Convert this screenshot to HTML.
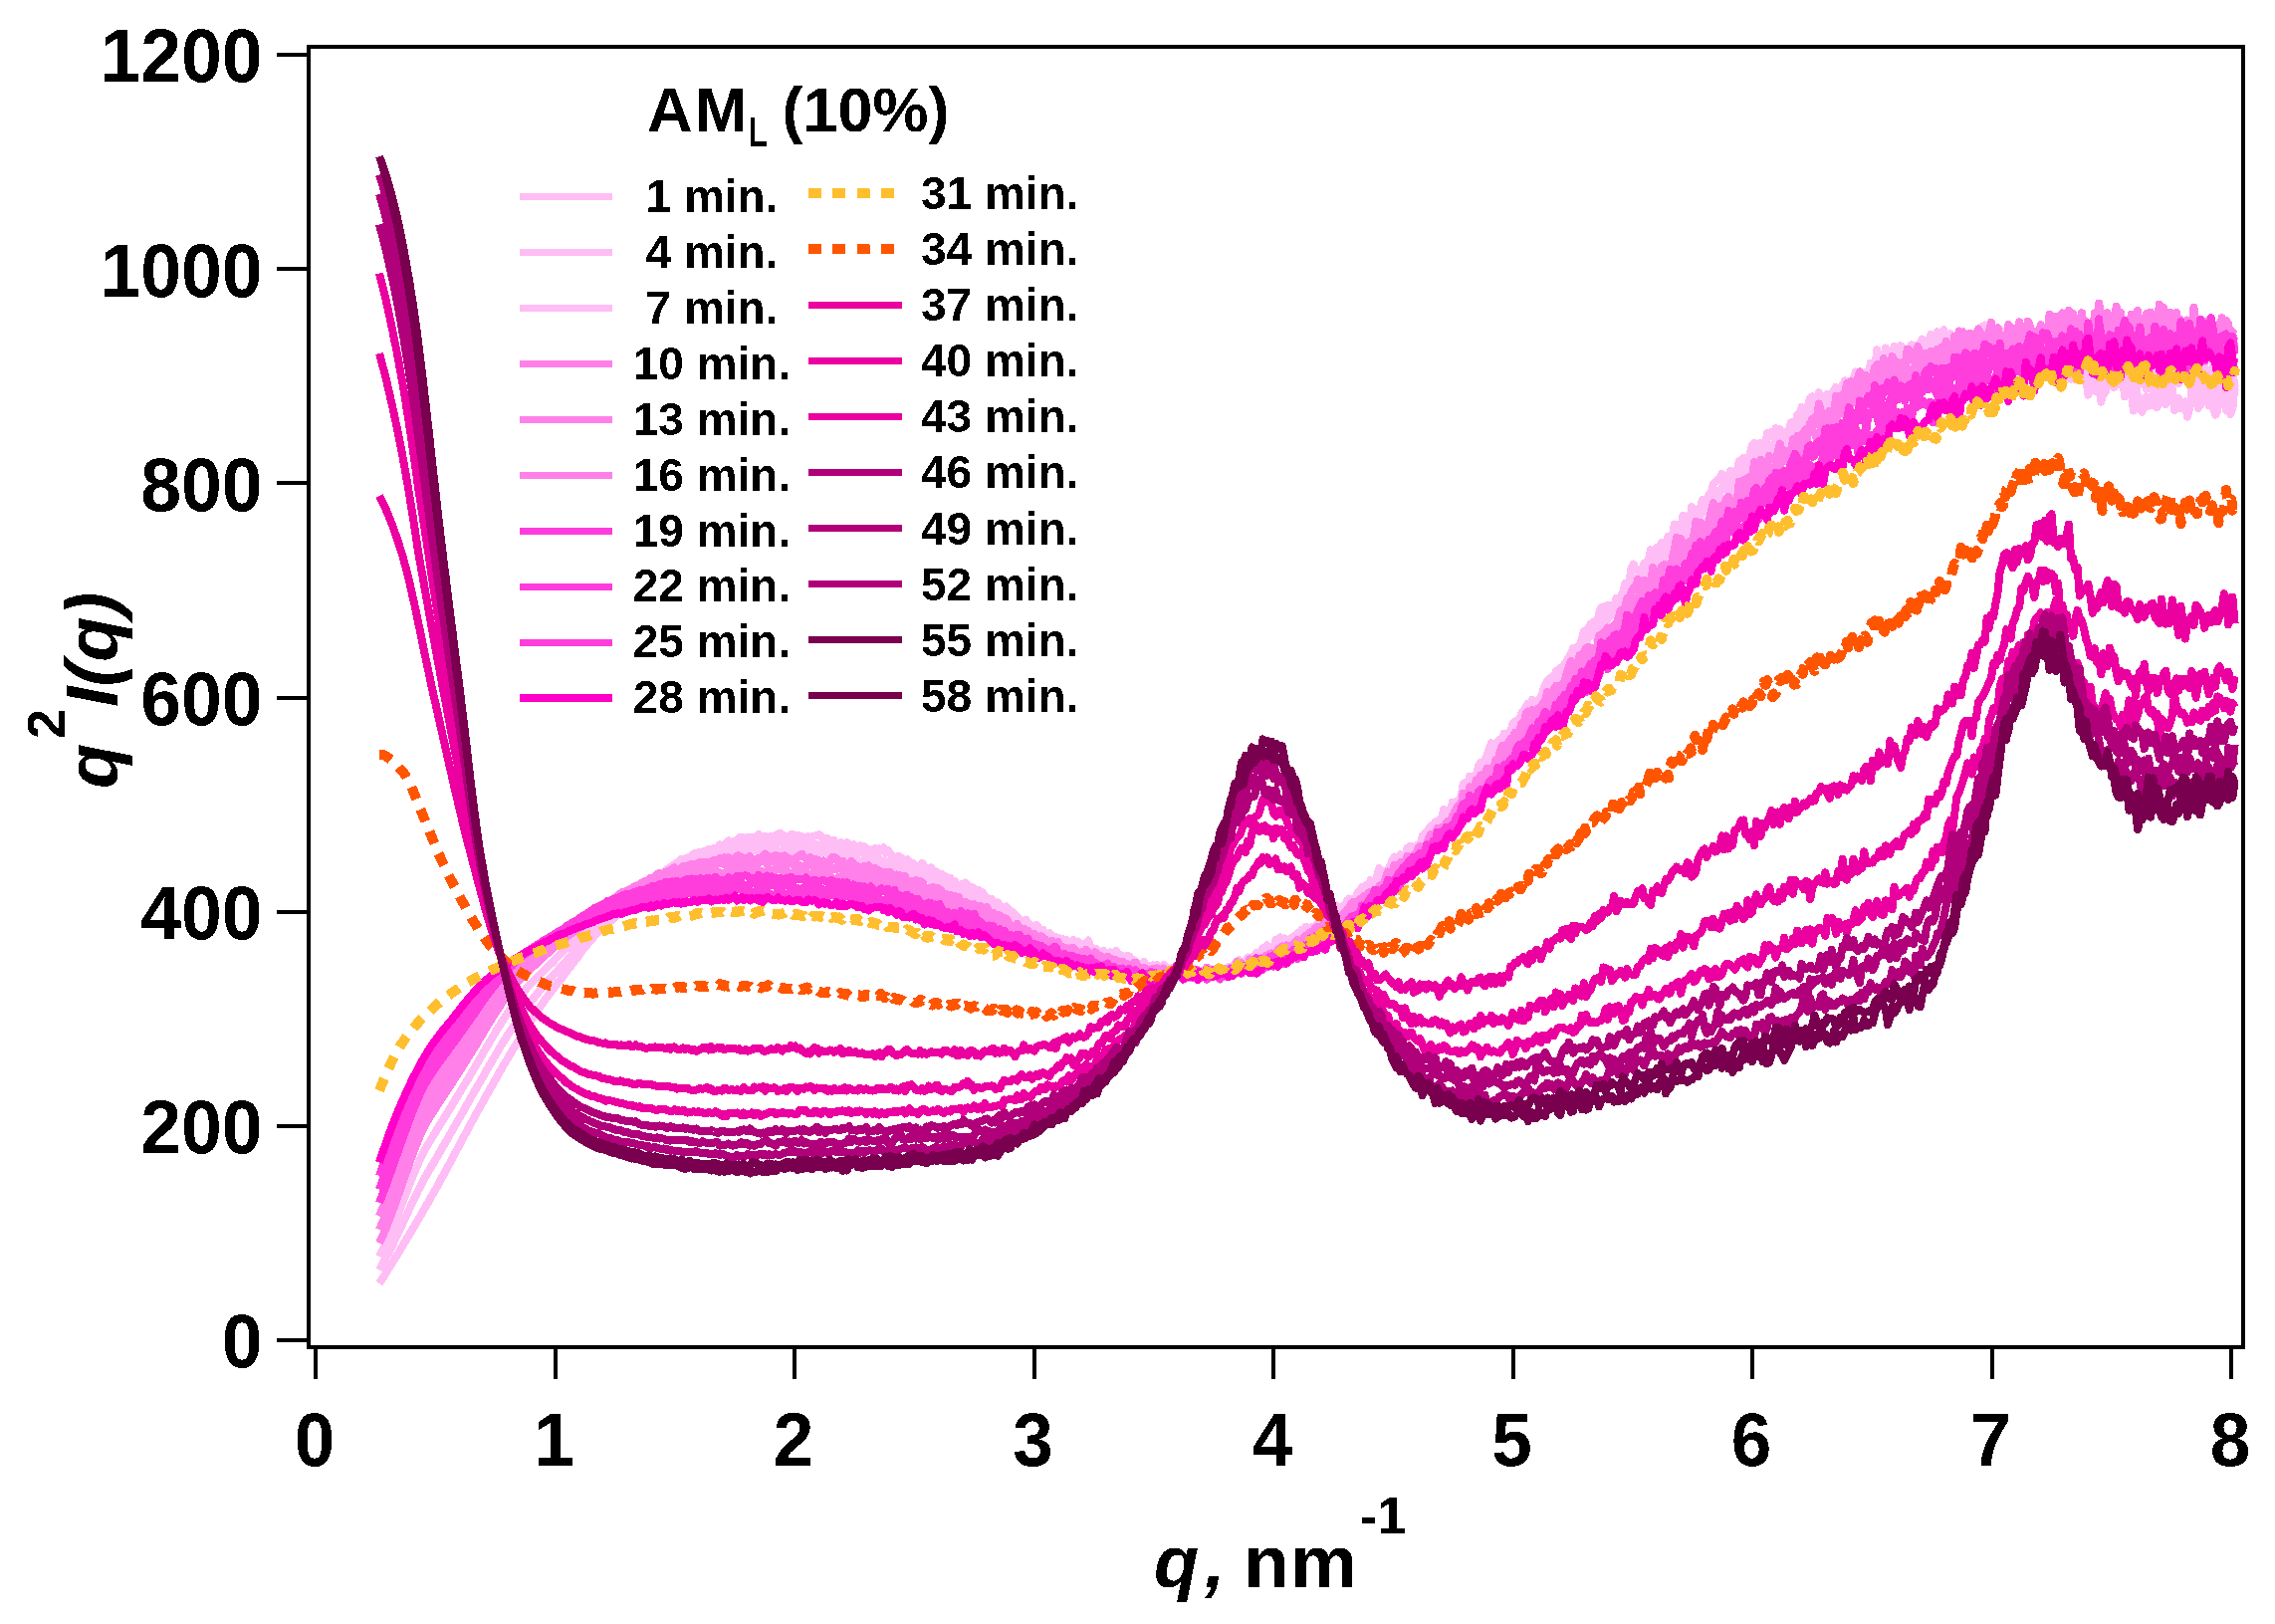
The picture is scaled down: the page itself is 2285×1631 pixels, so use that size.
<!DOCTYPE html>
<html lang="en"><head><meta charset="utf-8"><title>q2I(q) vs q</title>
<style>html,body{margin:0;padding:0;background:#fff}svg{display:block}text{font-family:"Liberation Sans",sans-serif;font-weight:700;fill:#000}.c{fill:none;stroke-linejoin:round;stroke-linecap:butt}</style></head><body>
<svg width="2285" height="1631" viewBox="0 0 2285 1631">
<defs><filter id="t" x="-5%" y="-5%" width="110%" height="110%" color-interpolation-filters="sRGB"><feComponentTransfer><feFuncA type="discrete" tableValues="0 1"/></feComponentTransfer></filter></defs>
<rect width="2285" height="1631" fill="#fff"/>
<g class="c" shape-rendering="crispEdges">
<path d="M381.0 1289.0L383.1 1285.6L385.3 1282.2L387.5 1278.7L389.6 1275.2L391.8 1271.8L394.0 1268.2L396.1 1264.7L398.3 1261.2L400.5 1257.7L402.6 1254.1L404.8 1250.5L406.9 1246.9L409.1 1243.3L411.3 1239.6L413.4 1236.0L415.6 1232.4L417.8 1228.7L419.9 1225.0L422.1 1221.3L424.3 1217.6L426.4 1213.8L428.6 1210.1L430.8 1206.3L432.9 1202.5L435.1 1198.7L437.3 1194.9L439.4 1190.9L441.6 1187.0L443.7 1183.0L445.9 1179.1L448.1 1175.0L450.2 1171.0L452.4 1167.0L454.6 1162.8L456.7 1158.8L458.9 1154.7L461.1 1150.6L463.2 1146.6L465.4 1142.5L467.6 1138.5L469.7 1134.4L471.9 1130.5L474.0 1126.5L476.2 1122.4L478.4 1118.6L480.5 1114.6L482.7 1110.8L484.9 1107.0L487.0 1102.9L489.2 1099.1L491.4 1095.4L493.5 1091.5L495.7 1087.6L497.9 1083.8L500.0 1079.9L502.2 1076.1L504.3 1072.3L506.5 1068.6L508.7 1065.0L510.8 1061.3L513.0 1057.7L515.2 1054.1L517.3 1050.6L519.5 1047.1L521.7 1043.6L523.8 1040.0L526.0 1036.5L528.2 1033.4L530.3 1030.0L532.5 1026.4L534.7 1023.4L536.8 1019.8L539.0 1016.5L541.1 1013.1L543.3 1010.1L545.5 1007.1L547.6 1004.0L549.8 1001.0L552.0 997.7L554.1 995.2L556.3 992.3L558.5 989.3L560.6 986.7L562.8 983.9L565.0 981.3L567.1 978.3L569.3 975.6L571.4 972.4L573.6 969.8L575.8 967.1L577.9 964.2L580.1 961.5L582.3 958.1L584.4 955.3L586.6 952.4L588.8 950.4L590.9 947.1L593.1 945.0L595.3 942.5L597.4 939.5L599.6 937.6L601.8 935.1L603.9 932.3L606.1 931.6L608.2 929.7L610.4 927.7L612.6 925.6L614.7 924.1L616.9 922.2L619.1 920.1L621.2 918.4L623.4 917.5L625.6 915.4L627.7 913.5L629.9 912.2L632.1 909.2L634.2 907.6L636.4 904.5L638.5 902.9L640.7 901.1L642.9 899.6L645.0 897.3L647.2 896.5L649.4 894.1L651.5 891.4L653.7 891.2L655.9 887.6L658.0 887.2L660.2 883.6L662.4 882.5L664.5 879.5L666.7 877.9L668.9 877.3L671.0 873.2L673.2 871.0L675.3 870.1L677.5 868.2L679.7 866.4L681.8 865.5L684.0 863.0L686.2 863.5L688.3 862.2L690.5 861.7L692.7 860.4L694.8 860.3L697.0 857.4L699.2 858.3L701.3 856.3L703.5 856.4L705.6 855.9L707.8 854.7L710.0 854.0L712.1 852.7L714.3 852.6L716.5 852.3L718.6 853.0L720.8 851.7L723.0 848.4L725.1 849.6L727.3 848.6L729.5 846.4L731.6 844.5L733.8 847.6L736.0 845.2L738.1 845.0L740.3 845.2L742.4 841.2L744.6 841.3L746.8 841.2L748.9 842.3L751.1 840.9L753.3 841.5L755.4 840.6L757.6 841.1L759.8 841.4L761.9 838.1L764.1 841.1L766.3 839.8L768.4 840.1L770.6 840.6L772.7 841.0L774.9 839.6L777.1 840.4L779.2 839.0L781.4 837.9L783.6 836.7L785.7 838.5L787.9 839.4L790.1 840.6L792.2 841.5L794.4 838.3L796.6 838.2L798.7 839.5L800.9 838.7L803.1 839.3L805.2 840.3L807.4 841.0L809.5 843.2L811.7 840.3L813.9 843.6L816.0 840.0L818.2 839.6L820.4 839.1L822.5 838.0L824.7 839.4L826.9 843.7L829.0 845.2L831.2 842.2L833.4 846.1L835.5 844.8L837.7 843.9L839.8 848.0L842.0 849.8L844.2 846.3L846.3 846.7L848.5 846.7L850.7 846.3L852.8 847.9L855.0 849.7L857.2 848.3L859.3 851.0L861.5 852.4L863.7 849.4L865.8 850.3L868.0 850.3L870.2 853.2L872.3 853.0L874.5 853.8L876.6 853.7L878.8 851.8L881.0 853.5L883.1 852.3L885.3 853.5L887.5 851.2L889.6 857.0L891.8 853.9L894.0 857.2L896.1 858.7L898.3 862.3L900.5 861.2L902.6 859.7L904.8 861.6L906.9 862.6L909.1 864.4L911.3 863.1L913.4 865.8L915.6 870.0L917.8 867.5L919.9 869.8L922.1 870.8L924.3 868.9L926.4 866.9L928.6 870.5L930.8 873.7L932.9 874.4L935.1 871.4L937.2 874.1L939.4 875.0L941.6 876.7L943.7 878.0L945.9 878.0L948.1 879.5L950.2 880.5L952.4 883.7L954.6 882.0L956.7 886.3L958.9 885.1L961.1 890.5L963.2 889.1L965.4 888.3L967.6 891.0L969.7 886.6L971.9 888.6L974.0 893.0L976.2 890.9L978.4 892.3L980.5 897.8L982.7 893.7L984.9 895.5L987.0 896.4L989.2 900.7L991.4 901.4L993.5 903.2L995.7 902.7L997.9 906.2L1000.0 908.2L1002.2 906.5L1004.3 910.7L1006.5 911.1L1008.7 914.6L1010.8 910.5L1013.0 913.3L1015.2 914.8L1017.3 916.1L1019.5 918.6L1021.7 920.8L1023.8 924.2L1026.0 925.9L1028.2 926.0L1030.3 923.7L1032.5 926.6L1034.7 929.2L1036.8 931.3L1039.0 932.2L1041.1 928.7L1043.3 932.6L1045.5 935.4L1047.6 937.4L1049.8 939.6L1052.0 937.9L1054.1 937.2L1056.3 940.2L1058.5 940.8L1060.6 941.3L1062.8 941.6L1065.0 945.6L1067.1 943.9L1069.3 946.2L1071.4 944.3L1073.6 948.2L1075.8 946.0L1077.9 944.0L1080.1 947.5L1082.3 948.2L1084.4 947.0L1086.6 948.2L1088.8 950.2L1090.9 947.3L1093.1 944.6L1095.3 950.5L1097.4 952.0L1099.6 955.2L1101.8 953.5L1103.9 958.0L1106.1 958.4L1108.2 954.7L1110.4 960.3L1112.6 957.4L1114.7 956.4L1116.9 958.4L1119.1 957.2L1121.2 954.8L1123.4 960.8L1125.6 963.0L1127.7 965.6L1129.9 962.8L1132.1 959.7L1134.2 960.6L1136.4 965.4L1138.5 967.2L1140.7 968.8L1142.9 968.8L1145.0 970.2L1147.2 968.7L1149.4 968.1L1151.5 969.8L1153.7 969.9L1155.9 969.6L1158.0 970.6L1160.2 970.6L1162.4 969.0L1164.5 972.3L1166.7 973.0L1168.9 976.3L1171.0 971.4L1173.2 976.5L1175.3 975.7L1177.5 971.7L1179.7 973.6L1181.8 976.8L1184.0 980.4L1186.2 976.9L1188.3 977.1L1190.5 974.2L1192.7 970.9L1194.8 975.0L1197.0 976.3L1199.2 976.6L1201.3 973.8L1203.5 974.0L1205.6 976.9L1207.8 975.5L1210.0 980.1L1212.1 975.2L1214.3 974.8L1216.5 973.4L1218.6 975.9L1220.8 973.3L1223.0 974.5L1225.1 975.0L1227.3 974.3L1229.5 976.6L1231.6 976.8L1233.8 971.1L1236.0 972.2L1238.1 970.5L1240.3 968.1L1242.4 974.3L1244.6 971.1L1246.8 967.6L1248.9 965.7L1251.1 966.7L1253.3 961.4L1255.4 961.8L1257.6 963.0L1259.8 962.0L1261.9 956.9L1264.1 957.6L1266.3 962.0L1268.4 952.3L1270.6 952.3L1272.7 949.5L1274.9 953.9L1277.1 953.5L1279.2 954.6L1281.4 944.0L1283.6 947.8L1285.7 941.4L1287.9 945.8L1290.1 942.5L1292.2 947.1L1294.4 944.6L1296.6 942.3L1298.7 947.4L1300.9 939.5L1303.1 938.1L1305.2 939.8L1307.4 935.6L1309.5 933.8L1311.7 930.8L1313.9 931.8L1316.0 932.6L1318.2 930.7L1320.4 931.7L1322.5 931.1L1324.7 926.0L1326.9 922.0L1329.0 927.0L1331.2 922.6L1333.4 923.1L1335.5 922.5L1337.7 914.7L1339.8 916.3L1342.0 909.5L1344.2 914.7L1346.3 910.8L1348.5 910.3L1350.7 910.2L1352.8 905.0L1355.0 907.1L1357.2 904.6L1359.3 903.7L1361.5 902.9L1363.7 896.3L1365.8 894.8L1368.0 891.0L1370.1 894.9L1372.3 888.8L1374.5 891.5L1376.6 884.0L1378.8 889.1L1381.0 889.3L1383.1 879.7L1385.3 872.3L1387.5 878.4L1389.6 876.0L1391.8 874.7L1394.0 875.4L1396.1 869.3L1398.3 872.0L1400.5 869.1L1402.6 862.4L1404.8 863.6L1406.9 858.3L1409.1 862.3L1411.3 862.9L1413.4 863.9L1415.6 850.3L1417.8 856.0L1419.9 852.7L1422.1 852.4L1424.3 849.9L1426.4 848.3L1428.6 840.1L1430.8 847.2L1432.9 843.5L1435.1 837.9L1437.2 836.4L1439.4 828.9L1441.6 826.7L1443.7 830.1L1445.9 828.0L1448.1 821.4L1450.2 812.8L1452.4 824.3L1454.6 813.6L1456.7 816.8L1458.9 805.6L1461.1 810.1L1463.2 804.9L1465.4 805.9L1467.6 799.8L1469.7 787.2L1471.9 786.0L1474.0 787.9L1476.2 787.6L1478.4 789.5L1480.5 781.0L1482.7 777.1L1484.9 775.0L1487.0 772.8L1489.2 771.6L1491.4 763.3L1493.5 758.6L1495.7 752.3L1497.9 746.3L1500.0 751.8L1502.2 749.7L1504.3 744.6L1506.5 744.8L1508.7 744.8L1510.8 741.6L1513.0 744.4L1515.2 735.5L1517.3 734.6L1519.5 726.5L1521.7 724.5L1523.8 723.3L1526.0 723.3L1528.2 716.2L1530.3 714.4L1532.5 709.6L1534.7 711.1L1536.8 717.6L1539.0 711.5L1541.1 715.1L1543.3 709.4L1545.5 704.0L1547.6 707.2L1549.8 693.1L1552.0 687.7L1554.1 683.7L1556.3 681.5L1558.5 680.0L1560.6 681.5L1562.8 677.3L1565.0 676.3L1567.1 671.1L1569.3 675.4L1571.4 666.8L1573.6 663.8L1575.8 660.0L1577.9 656.9L1580.1 650.8L1582.3 659.4L1584.4 649.9L1586.6 647.7L1588.8 642.1L1590.9 634.3L1593.1 634.3L1595.3 631.0L1597.4 627.0L1599.6 625.7L1601.8 623.8L1603.9 627.8L1606.1 615.7L1608.2 610.4L1610.4 609.5L1612.6 612.8L1614.7 620.2L1616.9 608.0L1619.1 610.0L1621.2 617.0L1623.4 600.7L1625.6 605.9L1627.7 601.4L1629.9 596.2L1632.1 586.4L1634.2 591.9L1636.4 584.2L1638.5 570.4L1640.7 566.6L1642.9 572.1L1645.0 572.8L1647.2 575.9L1649.4 572.5L1651.5 565.6L1653.7 564.9L1655.9 562.5L1658.0 552.3L1660.2 557.7L1662.4 553.5L1664.5 549.3L1666.7 549.3L1668.9 545.1L1671.0 547.4L1673.2 547.6L1675.3 539.2L1677.5 541.6L1679.7 540.1L1681.8 526.5L1684.0 527.2L1686.2 527.3L1688.3 538.6L1690.5 532.1L1692.7 530.0L1694.8 526.5L1697.0 530.3L1699.2 518.2L1701.3 511.2L1703.5 512.7L1705.6 516.3L1707.8 510.2L1710.0 501.9L1712.1 514.0L1714.3 501.2L1716.5 497.0L1718.6 495.3L1720.8 486.2L1723.0 483.7L1725.1 482.2L1727.3 479.7L1729.5 476.0L1731.6 485.3L1733.8 484.6L1736.0 479.9L1738.1 473.0L1740.3 482.7L1742.4 478.1L1744.6 473.2L1746.8 463.4L1748.9 470.5L1751.1 459.9L1753.3 471.2L1755.4 460.5L1757.6 456.6L1759.8 447.6L1761.9 444.9L1764.1 458.5L1766.3 454.0L1768.4 444.9L1770.6 448.3L1772.7 452.6L1774.9 435.2L1777.1 436.4L1779.2 433.9L1781.4 439.3L1783.6 430.2L1785.7 438.6L1787.9 431.1L1790.1 443.6L1792.2 441.8L1794.4 433.5L1796.6 435.0L1798.7 424.6L1800.9 424.0L1803.0 428.3L1805.2 416.8L1807.4 417.2L1809.5 409.1L1811.7 419.9L1813.9 417.6L1816.0 406.8L1818.2 399.7L1820.4 398.4L1822.5 406.4L1824.7 401.7L1826.9 394.1L1829.0 403.2L1831.2 407.2L1833.4 398.5L1835.5 395.7L1837.7 403.1L1839.8 405.6L1842.0 402.4L1844.2 388.7L1846.3 398.0L1848.5 392.5L1850.7 388.3L1852.8 382.4L1855.0 389.2L1857.2 382.6L1859.3 391.9L1861.5 388.0L1863.7 393.6L1865.8 381.3L1868.0 387.0L1870.1 387.9L1872.3 381.1L1874.5 378.4L1876.6 372.0L1878.8 385.2L1881.0 377.2L1883.1 369.5L1885.3 351.4L1887.5 361.7L1889.6 369.1L1891.8 361.8L1894.0 349.5L1896.1 362.8L1898.3 364.7L1900.5 356.0L1902.6 359.5L1904.8 356.1L1906.9 361.7L1909.1 347.3L1911.3 349.9L1913.4 356.5L1915.6 352.3L1917.8 368.8L1919.9 351.8L1922.1 359.8L1924.3 357.5L1926.4 356.3L1928.6 361.2L1930.8 366.1L1932.9 348.4L1935.1 352.2L1937.2 347.5L1939.4 347.1L1941.6 344.1L1943.7 355.5L1945.9 333.2L1948.1 341.0L1950.2 336.6L1952.4 331.3L1954.6 345.7L1956.7 359.8L1958.9 354.9L1961.1 358.0L1963.2 351.6L1965.4 347.3L1967.6 361.3L1969.7 345.9L1971.9 356.4L1974.0 342.4L1976.2 343.5L1978.4 346.1L1980.5 344.1L1982.7 347.0L1984.9 345.5L1987.0 352.2L1989.2 340.7L1991.4 327.7L1993.5 326.6L1995.7 331.8L1997.9 335.7L2000.0 347.3L2002.2 333.7L2004.3 350.0L2006.5 352.4L2008.7 355.3L2010.8 351.8L2013.0 354.8L2015.2 351.2L2017.3 357.2L2019.5 351.2L2021.7 330.2L2023.8 348.5L2026.0 349.1L2028.2 341.2L2030.3 338.8L2032.5 355.9L2034.7 352.7L2036.8 346.0L2039.0 351.5L2041.1 351.6L2043.3 339.4L2045.5 359.6L2047.6 353.7L2049.8 358.9L2052.0 343.1L2054.1 376.9L2056.3 369.4L2058.5 366.9L2060.6 354.0L2062.8 351.8L2065.0 347.6L2067.1 378.8L2069.3 359.1L2071.4 367.9L2073.6 368.4L2075.8 355.3L2077.9 367.4L2080.1 380.6L2082.3 365.1L2084.4 381.3L2086.6 376.8L2088.8 371.7L2090.9 373.1L2093.1 362.9L2095.3 381.3L2097.4 396.6L2099.6 387.4L2101.8 389.4L2103.9 392.5L2106.1 377.1L2108.2 388.7L2110.4 403.6L2112.6 379.7L2114.7 387.9L2116.9 382.1L2119.1 384.3L2121.2 381.0L2123.4 389.2L2125.6 376.8L2127.7 383.7L2129.9 381.6L2132.1 381.0L2134.2 398.4L2136.4 386.5L2138.5 390.4L2140.7 390.6L2142.9 412.5L2145.0 384.8L2147.2 400.6L2149.4 411.0L2151.5 413.7L2153.7 400.1L2155.9 398.7L2158.0 407.7L2160.2 398.7L2162.4 407.3L2164.5 394.5L2166.7 409.0L2168.9 403.1L2171.0 393.0L2173.2 378.0L2175.3 406.2L2177.5 398.2L2179.7 403.0L2181.8 390.4L2184.0 412.0L2186.2 406.7L2188.3 399.9L2190.5 409.9L2192.7 407.5L2194.8 403.4L2197.0 418.6L2199.2 410.4L2201.3 396.6L2203.5 390.2L2205.6 393.3L2207.8 410.0L2210.0 395.9L2212.1 383.0L2214.3 387.1L2216.5 394.9L2218.6 407.2L2220.8 394.5L2223.0 409.9L2225.1 416.7L2227.3 412.1L2229.5 388.8L2231.6 400.0L2233.8 392.4L2235.9 412.0L2238.1 400.6L2240.3 415.9L2242.4 409.7L2244.6 386.8" stroke="#FFBDF5" stroke-width="8"/>
<path d="M381.0 1275.5L383.1 1271.7L385.3 1267.7L387.5 1263.6L389.6 1259.4L391.8 1255.2L394.0 1250.8L396.1 1246.3L398.3 1241.8L400.5 1237.2L402.6 1232.5L404.8 1227.9L406.9 1223.2L409.1 1218.5L411.3 1213.9L413.4 1209.3L415.6 1204.7L417.8 1200.2L419.9 1195.8L422.1 1191.5L424.3 1187.4L426.4 1183.4L428.6 1179.6L430.8 1175.9L432.9 1172.1L435.1 1168.5L437.3 1164.7L439.4 1161.1L441.6 1157.4L443.7 1153.6L445.9 1149.9L448.1 1146.2L450.2 1142.5L452.4 1138.6L454.6 1134.8L456.7 1131.1L458.9 1127.3L461.1 1123.4L463.2 1119.7L465.4 1115.9L467.6 1112.0L469.7 1108.2L471.9 1104.3L474.0 1100.5L476.2 1096.7L478.4 1093.0L480.5 1089.4L482.7 1085.6L484.9 1081.8L487.0 1077.9L489.2 1074.1L491.4 1070.5L493.5 1066.8L495.7 1063.0L497.9 1059.4L500.0 1055.8L502.2 1051.9L504.3 1048.4L506.5 1044.9L508.7 1041.5L510.8 1038.0L513.0 1034.7L515.2 1031.3L517.3 1028.0L519.5 1025.0L521.7 1021.6L523.8 1018.8L526.0 1015.7L528.2 1012.6L530.3 1009.8L532.5 1007.2L534.7 1004.0L536.8 1001.7L539.0 998.8L541.1 996.1L543.3 993.2L545.5 990.8L547.6 988.0L549.8 985.8L552.0 983.2L554.1 981.3L556.3 979.0L558.5 976.2L560.6 974.1L562.8 971.8L565.0 968.8L567.1 966.8L569.3 964.6L571.4 961.7L573.6 959.5L575.8 956.1L577.9 953.4L580.1 951.2L582.3 948.7L584.4 946.1L586.6 943.9L588.8 941.9L590.9 939.1L593.1 938.1L595.3 935.7L597.4 934.1L599.6 932.3L601.8 930.4L603.9 929.1L606.1 926.5L608.2 925.0L610.4 923.5L612.6 922.1L614.7 920.4L616.9 918.0L619.1 916.9L621.2 914.7L623.4 912.3L625.6 910.5L627.7 908.1L629.9 907.3L632.1 905.8L634.2 903.2L636.4 901.9L638.5 900.0L640.7 898.7L642.9 896.1L645.0 894.3L647.2 892.7L649.4 891.0L651.5 889.3L653.7 887.4L655.9 885.7L658.0 883.3L660.2 882.5L662.4 879.0L664.5 878.6L666.7 876.5L668.9 876.2L671.0 874.9L673.2 871.6L675.3 871.7L677.5 871.1L679.7 869.5L681.8 867.9L684.0 864.6L686.2 865.2L688.3 863.6L690.5 864.3L692.7 862.3L694.8 861.7L697.0 860.5L699.2 862.4L701.3 860.5L703.5 859.7L705.6 859.8L707.8 857.8L710.0 857.2L712.1 858.7L714.3 855.8L716.5 855.9L718.6 856.7L720.8 857.0L723.0 853.1L725.1 853.6L727.3 852.3L729.5 851.3L731.6 852.8L733.8 850.4L736.0 850.8L738.1 849.9L740.3 849.5L742.4 849.2L744.6 847.2L746.8 847.8L748.9 847.2L751.1 847.0L753.3 845.5L755.4 847.0L757.6 846.2L759.8 846.0L761.9 846.6L764.1 846.5L766.3 847.2L768.4 843.9L770.6 844.6L772.7 845.5L774.9 846.1L777.1 843.2L779.2 846.1L781.4 846.7L783.6 845.5L785.7 845.2L787.9 843.6L790.1 846.0L792.2 842.6L794.4 846.9L796.6 844.8L798.7 848.2L800.9 844.9L803.1 848.7L805.2 848.5L807.4 847.0L809.5 846.2L811.7 849.7L813.9 848.6L816.0 849.8L818.2 847.5L820.4 848.3L822.5 849.5L824.7 850.4L826.9 850.3L829.0 851.3L831.2 849.4L833.4 847.8L835.5 853.7L837.7 852.6L839.8 854.2L842.0 853.2L844.2 855.4L846.3 853.4L848.5 854.7L850.7 852.4L852.8 854.2L855.0 855.2L857.2 855.0L859.3 855.7L861.5 857.4L863.7 853.6L865.8 855.2L868.0 857.6L870.2 857.5L872.3 858.1L874.5 862.6L876.6 862.1L878.8 858.3L881.0 858.5L883.1 863.1L885.3 865.1L887.5 865.3L889.6 865.5L891.8 867.0L894.0 864.3L896.1 866.4L898.3 867.0L900.5 863.9L902.6 868.1L904.8 868.7L906.9 869.1L909.1 869.0L911.3 870.4L913.4 869.4L915.6 871.8L917.8 868.7L919.9 872.3L922.1 876.4L924.3 875.1L926.4 874.2L928.6 875.5L930.8 874.2L932.9 876.0L935.1 880.2L937.2 880.1L939.4 883.0L941.6 880.8L943.7 881.8L945.9 878.7L948.1 883.4L950.2 888.3L952.4 887.5L954.6 888.0L956.7 892.7L958.9 893.3L961.1 893.8L963.2 892.6L965.4 894.6L967.6 896.5L969.7 894.9L971.9 898.1L974.0 898.6L976.2 900.1L978.4 899.2L980.5 897.0L982.7 902.9L984.9 901.6L987.0 902.0L989.2 905.3L991.4 905.8L993.5 909.8L995.7 906.6L997.9 908.0L1000.0 910.7L1002.2 916.0L1004.3 916.2L1006.5 914.1L1008.7 914.2L1010.8 918.3L1013.0 917.8L1015.2 922.7L1017.3 923.7L1019.5 924.5L1021.7 924.1L1023.8 928.8L1026.0 924.5L1028.2 925.3L1030.3 929.8L1032.5 931.2L1034.7 928.8L1036.8 933.1L1039.0 937.7L1041.1 933.5L1043.3 935.8L1045.5 938.2L1047.6 933.9L1049.8 938.6L1052.0 941.5L1054.1 941.0L1056.3 943.9L1058.5 943.8L1060.6 942.0L1062.8 945.0L1065.0 946.2L1067.1 943.2L1069.3 945.6L1071.4 946.1L1073.6 946.9L1075.8 947.5L1077.9 945.6L1080.1 949.3L1082.3 945.6L1084.4 952.2L1086.6 951.6L1088.8 955.6L1090.9 954.6L1093.1 953.3L1095.3 950.5L1097.4 953.9L1099.6 952.8L1101.8 954.3L1103.9 956.8L1106.1 959.4L1108.2 957.3L1110.4 961.1L1112.6 957.6L1114.7 959.1L1116.9 961.9L1119.1 963.4L1121.2 964.3L1123.4 957.8L1125.6 965.2L1127.7 960.1L1129.9 963.4L1132.1 967.0L1134.2 969.9L1136.4 966.2L1138.5 964.9L1140.7 971.4L1142.9 970.1L1145.0 967.6L1147.2 968.8L1149.4 966.1L1151.5 972.6L1153.7 971.9L1155.9 976.2L1158.0 969.3L1160.2 974.9L1162.4 977.6L1164.5 972.7L1166.7 972.5L1168.9 968.9L1171.0 974.8L1173.2 975.1L1175.3 973.9L1177.5 971.8L1179.7 975.5L1181.8 973.5L1184.0 974.1L1186.2 975.6L1188.3 974.7L1190.5 976.1L1192.7 979.0L1194.8 974.0L1197.0 978.9L1199.2 973.2L1201.3 974.3L1203.5 977.4L1205.6 979.9L1207.8 979.3L1210.0 977.7L1212.1 977.0L1214.3 976.4L1216.5 973.6L1218.6 976.4L1220.8 974.8L1223.0 979.3L1225.1 974.9L1227.3 976.3L1229.5 977.5L1231.6 972.9L1233.8 973.0L1236.0 979.0L1238.1 973.2L1240.3 975.7L1242.4 968.3L1244.6 964.4L1246.8 970.8L1248.9 969.0L1251.1 968.2L1253.3 965.1L1255.4 963.0L1257.6 961.2L1259.8 966.0L1261.9 959.7L1264.1 965.1L1266.3 960.8L1268.4 956.3L1270.6 955.2L1272.7 957.7L1274.9 956.1L1277.1 954.2L1279.2 952.8L1281.4 949.7L1283.6 956.2L1285.7 951.3L1287.9 949.5L1290.1 948.4L1292.2 947.2L1294.4 943.5L1296.6 944.3L1298.7 942.4L1300.9 941.8L1303.1 937.3L1305.2 944.1L1307.4 933.6L1309.5 936.4L1311.7 935.4L1313.9 936.3L1316.0 937.4L1318.2 933.5L1320.4 933.3L1322.5 928.9L1324.7 931.9L1326.9 922.6L1329.0 924.4L1331.2 925.3L1333.4 925.8L1335.5 925.2L1337.7 924.7L1339.8 921.7L1342.0 918.0L1344.2 916.6L1346.3 918.0L1348.5 913.4L1350.7 914.1L1352.8 909.2L1355.0 902.6L1357.2 903.8L1359.3 904.9L1361.5 907.0L1363.7 905.1L1365.8 903.7L1368.0 894.8L1370.1 897.3L1372.3 894.3L1374.5 894.7L1376.6 891.5L1378.8 885.1L1381.0 889.1L1383.1 883.8L1385.3 882.3L1387.5 874.4L1389.6 879.5L1391.8 878.3L1394.0 877.4L1396.1 875.1L1398.3 867.2L1400.5 860.5L1402.6 868.9L1404.8 860.7L1406.9 860.9L1409.1 864.4L1411.3 861.5L1413.4 860.4L1415.6 859.9L1417.8 849.9L1419.9 860.6L1422.1 851.4L1424.3 848.2L1426.4 847.9L1428.6 841.7L1430.8 836.9L1432.9 835.6L1435.1 832.6L1437.2 829.5L1439.4 836.4L1441.6 825.5L1443.7 824.4L1445.9 827.8L1448.1 822.9L1450.2 826.7L1452.4 817.2L1454.6 817.6L1456.7 813.3L1458.9 807.3L1461.1 811.5L1463.2 808.7L1465.4 810.9L1467.6 800.9L1469.7 795.9L1471.9 796.1L1474.0 793.2L1476.2 779.6L1478.4 786.7L1480.5 782.1L1482.7 778.4L1484.9 769.5L1487.0 766.0L1489.2 771.5L1491.4 772.2L1493.5 765.9L1495.7 756.8L1497.9 762.1L1500.0 752.0L1502.2 749.9L1504.3 753.0L1506.5 747.6L1508.7 743.7L1510.8 736.7L1513.0 745.8L1515.2 737.0L1517.3 742.2L1519.5 740.0L1521.7 732.0L1523.8 729.6L1526.0 730.8L1528.2 732.0L1530.3 727.2L1532.5 714.4L1534.7 706.7L1536.8 708.1L1539.0 702.7L1541.1 709.2L1543.3 705.6L1545.5 702.7L1547.6 707.0L1549.8 705.5L1552.0 698.1L1554.1 695.5L1556.3 693.9L1558.5 683.7L1560.6 682.5L1562.8 674.3L1565.0 676.9L1567.1 676.5L1569.3 672.0L1571.4 669.6L1573.6 668.4L1575.8 665.0L1577.9 658.9L1580.1 659.0L1582.3 654.6L1584.4 664.0L1586.6 652.2L1588.8 647.3L1590.9 640.6L1593.1 641.0L1595.3 637.8L1597.4 629.8L1599.6 631.0L1601.8 636.7L1603.9 624.4L1606.1 623.6L1608.2 627.3L1610.4 617.0L1612.6 619.7L1614.7 608.1L1616.9 611.4L1619.1 613.5L1621.2 610.4L1623.4 611.0L1625.6 603.7L1627.7 599.2L1629.9 595.5L1632.1 593.9L1634.2 600.0L1636.4 588.8L1638.5 598.8L1640.7 588.3L1642.9 580.9L1645.0 581.5L1647.2 579.1L1649.4 574.2L1651.5 569.5L1653.7 569.6L1655.9 568.2L1658.0 568.9L1660.2 556.1L1662.4 560.0L1664.5 553.1L1666.7 556.3L1668.9 550.9L1671.0 548.7L1673.2 545.5L1675.3 545.1L1677.5 547.9L1679.7 549.7L1681.8 545.3L1684.0 528.3L1686.2 532.6L1688.3 529.3L1690.5 517.9L1692.7 519.8L1694.8 521.4L1697.0 524.8L1699.2 508.9L1701.3 516.2L1703.5 512.7L1705.6 513.1L1707.8 517.4L1710.0 514.6L1712.1 503.1L1714.3 501.4L1716.5 502.6L1718.6 505.5L1720.8 504.5L1723.0 498.6L1725.1 505.5L1727.3 493.9L1729.5 491.1L1731.6 482.9L1733.8 487.7L1736.0 494.1L1738.1 494.2L1740.3 497.7L1742.4 485.7L1744.6 480.0L1746.8 472.6L1748.9 473.1L1751.1 473.9L1753.3 475.6L1755.4 470.7L1757.6 460.5L1759.8 469.2L1761.9 463.7L1764.1 470.0L1766.3 455.0L1768.4 456.4L1770.6 458.5L1772.7 467.2L1774.9 456.9L1777.1 454.7L1779.2 448.8L1781.4 448.2L1783.6 444.2L1785.7 450.8L1787.9 441.9L1790.1 440.8L1792.2 438.3L1794.4 433.3L1796.6 434.3L1798.7 424.5L1800.9 429.1L1803.0 423.0L1805.2 426.6L1807.4 433.0L1809.5 418.9L1811.7 432.1L1813.9 421.2L1816.0 421.3L1818.2 429.4L1820.4 422.1L1822.5 416.0L1824.7 415.8L1826.9 415.6L1829.0 402.9L1831.2 406.1L1833.4 398.4L1835.5 401.8L1837.7 398.9L1839.8 407.8L1842.0 401.8L1844.2 392.9L1846.3 393.1L1848.5 394.0L1850.7 399.4L1852.8 389.1L1855.0 386.8L1857.2 386.1L1859.3 388.9L1861.5 380.6L1863.7 373.5L1865.8 391.0L1868.0 387.1L1870.1 383.3L1872.3 394.6L1874.5 373.8L1876.6 377.1L1878.8 364.6L1881.0 378.1L1883.1 380.4L1885.3 374.0L1887.5 366.9L1889.6 370.8L1891.8 369.2L1894.0 381.4L1896.1 376.9L1898.3 369.1L1900.5 358.1L1902.6 362.3L1904.8 363.9L1906.9 356.0L1909.1 355.7L1911.3 349.9L1913.4 355.1L1915.6 364.0L1917.8 361.6L1919.9 360.0L1922.1 355.0L1924.3 353.3L1926.4 358.6L1928.6 369.9L1930.8 360.0L1932.9 368.5L1935.1 352.7L1937.2 351.9L1939.4 362.1L1941.6 344.5L1943.7 343.6L1945.9 348.3L1948.1 337.4L1950.2 333.9L1952.4 353.5L1954.6 336.4L1956.7 340.6L1958.9 341.8L1961.1 340.5L1963.2 354.2L1965.4 353.6L1967.6 354.5L1969.7 352.4L1971.9 347.4L1974.0 355.3L1976.2 351.7L1978.4 338.3L1980.5 342.4L1982.7 336.6L1984.9 351.9L1987.0 343.1L1989.2 342.5L1991.4 337.7L1993.5 342.7L1995.7 331.4L1997.9 340.6L2000.0 341.0L2002.2 342.6L2004.3 338.1L2006.5 344.3L2008.7 330.5L2010.8 333.6L2013.0 339.0L2015.2 341.3L2017.3 339.8L2019.5 336.7L2021.7 338.8L2023.8 342.3L2026.0 336.4L2028.2 339.8L2030.3 329.3L2032.5 340.2L2034.7 360.7L2036.8 335.9L2039.0 349.5L2041.1 360.9L2043.3 352.3L2045.5 359.0L2047.6 332.2L2049.8 344.1L2052.0 358.9L2054.1 339.2L2056.3 351.4L2058.5 332.6L2060.6 361.3L2062.8 370.8L2065.0 351.6L2067.1 357.7L2069.3 361.9L2071.4 379.6L2073.6 356.9L2075.8 344.0L2077.9 379.4L2080.1 347.5L2082.3 364.5L2084.4 336.0L2086.6 355.7L2088.8 363.1L2090.9 353.7L2093.1 359.6L2095.3 372.1L2097.4 358.2L2099.6 372.6L2101.8 386.9L2103.9 353.9L2106.1 377.3L2108.2 382.0L2110.4 371.8L2112.6 396.1L2114.7 393.5L2116.9 385.1L2119.1 380.8L2121.2 376.1L2123.4 367.0L2125.6 386.8L2127.7 377.3L2129.9 374.4L2132.1 387.8L2134.2 373.1L2136.4 384.9L2138.5 367.3L2140.7 374.3L2142.9 377.8L2145.0 388.5L2147.2 371.6L2149.4 382.8L2151.5 371.9L2153.7 383.0L2155.9 390.7L2158.0 372.5L2160.2 377.0L2162.4 391.7L2164.5 371.8L2166.7 385.5L2168.9 384.3L2171.0 382.7L2173.2 391.0L2175.3 388.9L2177.5 386.2L2179.7 367.4L2181.8 365.6L2184.0 383.5L2186.2 367.4L2188.3 385.0L2190.5 377.8L2192.7 372.3L2194.8 380.8L2197.0 364.5L2199.2 381.7L2201.3 395.0L2203.5 367.5L2205.6 389.2L2207.8 388.7L2210.0 407.2L2212.1 372.3L2214.3 377.1L2216.5 381.6L2218.6 380.5L2220.8 371.7L2223.0 390.9L2225.1 383.0L2227.3 401.5L2229.5 396.8L2231.6 381.8L2233.8 390.4L2235.9 408.9L2238.1 391.5L2240.3 397.3L2242.4 405.4L2244.6 390.7" stroke="#FFBDF5" stroke-width="8"/>
<path d="M381.0 1262.0L383.1 1257.8L385.3 1253.3L387.5 1248.7L389.6 1243.8L391.8 1238.8L394.0 1233.7L396.1 1228.4L398.3 1223.0L400.5 1217.5L402.6 1211.9L404.8 1206.4L406.9 1200.9L409.1 1195.3L411.3 1189.7L413.4 1184.3L415.6 1179.0L417.8 1173.8L419.9 1168.8L422.1 1164.1L424.3 1159.5L426.4 1155.4L428.6 1151.5L430.8 1147.9L432.9 1144.3L435.1 1140.7L437.3 1137.1L439.4 1133.6L441.6 1130.1L443.7 1126.6L445.9 1123.2L448.1 1119.6L450.2 1116.2L452.4 1112.6L454.6 1109.1L456.7 1105.6L458.9 1102.0L461.1 1098.4L463.2 1094.9L465.4 1091.2L467.6 1087.6L469.7 1084.1L471.9 1080.4L474.0 1076.9L476.2 1073.2L478.4 1069.6L480.5 1066.0L482.7 1062.1L484.9 1058.3L487.0 1054.6L489.2 1050.9L491.4 1047.3L493.5 1043.6L495.7 1040.1L497.9 1036.4L500.0 1032.7L502.2 1029.3L504.3 1025.9L506.5 1022.6L508.7 1019.3L510.8 1016.1L513.0 1012.9L515.2 1009.9L517.3 1006.8L519.5 1003.8L521.7 1000.9L523.8 998.5L526.0 995.9L528.2 993.5L530.3 990.7L532.5 988.4L534.7 986.1L536.8 984.2L539.0 982.1L541.1 979.8L543.3 977.6L545.5 975.6L547.6 973.3L549.8 971.2L552.0 969.2L554.1 967.3L556.3 965.2L558.5 962.6L560.6 960.2L562.8 958.1L565.0 955.9L567.1 953.8L569.3 951.2L571.4 949.1L573.6 947.0L575.8 945.4L577.9 943.3L580.1 941.0L582.3 939.3L584.4 937.7L586.6 935.8L588.8 933.8L590.9 932.5L593.1 930.3L595.3 929.1L597.4 927.5L599.6 926.1L601.8 924.0L603.9 921.7L606.1 920.5L608.2 918.7L610.4 916.9L612.6 915.3L614.7 913.6L616.9 911.8L619.1 910.0L621.2 908.5L623.4 906.8L625.6 905.1L627.7 903.7L629.9 901.6L632.1 900.4L634.2 897.9L636.4 898.1L638.5 895.4L640.7 892.3L642.9 892.0L645.0 891.0L647.2 888.8L649.4 886.7L651.5 886.0L653.7 884.0L655.9 882.5L658.0 881.3L660.2 878.2L662.4 878.5L664.5 877.7L666.7 876.2L668.9 873.9L671.0 872.3L673.2 871.2L675.3 871.2L677.5 872.3L679.7 870.0L681.8 869.9L684.0 868.8L686.2 869.1L688.3 867.7L690.5 867.5L692.7 866.5L694.8 867.3L697.0 865.4L699.2 864.9L701.3 865.5L703.5 864.4L705.6 863.6L707.8 860.9L710.0 863.1L712.1 860.7L714.3 861.6L716.5 860.1L718.6 858.4L720.8 859.9L723.0 858.8L725.1 859.6L727.3 855.9L729.5 856.3L731.6 855.1L733.8 857.4L736.0 857.0L738.1 854.4L740.3 855.1L742.4 854.0L744.6 852.6L746.8 854.8L748.9 853.3L751.1 854.8L753.3 854.1L755.4 854.9L757.6 852.9L759.8 854.6L761.9 852.9L764.1 852.9L766.3 853.1L768.4 852.6L770.6 851.4L772.7 854.5L774.9 850.7L777.1 852.8L779.2 853.6L781.4 854.8L783.6 856.7L785.7 854.4L787.9 852.0L790.1 850.2L792.2 853.9L794.4 854.9L796.6 852.4L798.7 855.4L800.9 851.9L803.1 855.1L805.2 856.8L807.4 853.6L809.5 852.4L811.7 857.1L813.9 853.0L816.0 855.7L818.2 852.7L820.4 855.7L822.5 857.8L824.7 855.8L826.9 856.5L829.0 855.9L831.2 856.9L833.4 857.9L835.5 858.8L837.7 859.0L839.8 859.6L842.0 861.3L844.2 861.1L846.3 863.7L848.5 859.9L850.7 860.1L852.8 856.8L855.0 859.0L857.2 861.1L859.3 860.6L861.5 864.9L863.7 865.5L865.8 868.0L868.0 862.4L870.2 863.7L872.3 867.0L874.5 865.9L876.6 864.2L878.8 864.9L881.0 865.6L883.1 868.8L885.3 869.5L887.5 868.3L889.6 867.1L891.8 869.9L894.0 871.0L896.1 867.5L898.3 872.6L900.5 871.0L902.6 874.4L904.8 874.0L906.9 872.9L909.1 874.9L911.3 874.8L913.4 878.4L915.6 878.7L917.8 877.8L919.9 877.4L922.1 878.6L924.3 877.7L926.4 881.3L928.6 881.7L930.8 880.8L932.9 883.0L935.1 884.7L937.2 888.3L939.4 886.9L941.6 892.0L943.7 889.9L945.9 893.4L948.1 889.8L950.2 894.8L952.4 893.6L954.6 898.9L956.7 897.4L958.9 894.1L961.1 898.7L963.2 898.0L965.4 900.2L967.6 903.6L969.7 900.3L971.9 901.1L974.0 905.1L976.2 902.0L978.4 904.8L980.5 905.7L982.7 905.3L984.9 908.1L987.0 904.0L989.2 912.1L991.4 909.1L993.5 910.2L995.7 917.1L997.9 917.6L1000.0 913.9L1002.2 916.4L1004.3 916.2L1006.5 916.4L1008.7 921.2L1010.8 923.5L1013.0 927.0L1015.2 923.8L1017.3 927.4L1019.5 925.9L1021.7 927.1L1023.8 931.8L1026.0 927.6L1028.2 930.7L1030.3 932.4L1032.5 937.4L1034.7 936.9L1036.8 938.3L1039.0 939.0L1041.1 941.1L1043.3 938.3L1045.5 939.2L1047.6 939.9L1049.8 943.4L1052.0 941.6L1054.1 944.3L1056.3 948.4L1058.5 944.9L1060.6 944.3L1062.8 943.8L1065.0 947.3L1067.1 948.4L1069.3 949.4L1071.4 947.4L1073.6 949.9L1075.8 951.1L1077.9 952.6L1080.1 951.2L1082.3 954.3L1084.4 955.6L1086.6 949.9L1088.8 953.2L1090.9 951.8L1093.1 953.9L1095.3 954.6L1097.4 955.9L1099.6 960.5L1101.8 960.3L1103.9 962.6L1106.1 956.2L1108.2 958.3L1110.4 957.2L1112.6 962.4L1114.7 968.1L1116.9 962.0L1119.1 965.0L1121.2 964.2L1123.4 964.0L1125.6 963.3L1127.7 964.6L1129.9 970.4L1132.1 965.8L1134.2 969.8L1136.4 969.0L1138.5 964.0L1140.7 966.1L1142.9 969.9L1145.0 973.5L1147.2 969.4L1149.4 969.3L1151.5 972.3L1153.7 975.5L1155.9 974.8L1158.0 975.6L1160.2 973.4L1162.4 971.9L1164.5 971.5L1166.7 974.8L1168.9 973.9L1171.0 974.1L1173.2 977.1L1175.3 976.3L1177.5 971.8L1179.7 977.1L1181.8 976.3L1184.0 980.1L1186.2 979.4L1188.3 983.5L1190.5 979.8L1192.7 976.4L1194.8 973.2L1197.0 973.9L1199.2 974.8L1201.3 976.4L1203.5 978.9L1205.6 978.6L1207.8 977.6L1210.0 980.1L1212.1 974.4L1214.3 977.3L1216.5 979.0L1218.6 978.5L1220.8 980.7L1223.0 979.9L1225.1 973.5L1227.3 976.8L1229.5 976.3L1231.6 973.9L1233.8 972.3L1236.0 974.8L1238.1 969.9L1240.3 972.5L1242.4 973.1L1244.6 971.1L1246.8 974.2L1248.9 972.7L1251.1 971.0L1253.3 969.0L1255.4 969.5L1257.6 966.7L1259.8 962.5L1261.9 960.9L1264.1 961.6L1266.3 959.1L1268.4 962.0L1270.6 960.6L1272.7 957.3L1274.9 957.0L1277.1 956.1L1279.2 950.2L1281.4 954.8L1283.6 956.7L1285.7 952.9L1287.9 948.7L1290.1 952.2L1292.2 947.3L1294.4 950.2L1296.6 948.4L1298.7 947.7L1300.9 944.8L1303.1 938.1L1305.2 944.5L1307.4 936.1L1309.5 943.0L1311.7 939.7L1313.9 934.9L1316.0 933.1L1318.2 933.4L1320.4 938.9L1322.5 933.2L1324.7 935.6L1326.9 923.9L1329.0 928.4L1331.2 925.2L1333.4 928.5L1335.5 925.2L1337.7 926.7L1339.8 919.3L1342.0 921.8L1344.2 917.7L1346.3 919.3L1348.5 916.7L1350.7 910.5L1352.8 914.2L1355.0 914.6L1357.2 905.2L1359.3 908.0L1361.5 903.7L1363.7 898.6L1365.8 902.6L1368.0 897.0L1370.1 900.2L1372.3 890.7L1374.5 889.0L1376.6 892.7L1378.8 891.9L1381.0 892.4L1383.1 887.6L1385.3 882.1L1387.5 886.5L1389.6 876.2L1391.8 880.6L1394.0 877.9L1396.1 878.6L1398.3 864.5L1400.5 869.1L1402.6 868.2L1404.8 870.7L1406.9 864.3L1409.1 872.2L1411.3 861.9L1413.4 852.1L1415.6 859.0L1417.8 858.4L1419.9 856.1L1422.1 858.5L1424.3 852.2L1426.4 846.2L1428.6 846.5L1430.8 844.2L1432.9 843.7L1435.1 839.8L1437.2 838.8L1439.4 832.7L1441.6 833.8L1443.7 835.2L1445.9 840.7L1448.1 827.7L1450.2 823.7L1452.4 825.4L1454.6 826.0L1456.7 820.0L1458.9 809.6L1461.1 813.0L1463.2 809.6L1465.4 806.0L1467.6 801.0L1469.7 801.7L1471.9 797.6L1474.0 795.8L1476.2 785.4L1478.4 786.0L1480.5 787.9L1482.7 791.0L1484.9 785.9L1487.0 777.9L1489.2 779.5L1491.4 770.8L1493.5 769.5L1495.7 765.6L1497.9 759.1L1500.0 756.3L1502.2 758.7L1504.3 755.2L1506.5 742.7L1508.7 752.1L1510.8 746.4L1513.0 738.0L1515.2 742.6L1517.3 746.1L1519.5 749.5L1521.7 740.6L1523.8 736.2L1526.0 729.8L1528.2 729.3L1530.3 721.4L1532.5 726.0L1534.7 718.0L1536.8 718.3L1539.0 711.3L1541.1 706.9L1543.3 703.9L1545.5 711.5L1547.6 699.7L1549.8 705.0L1552.0 705.2L1554.1 699.1L1556.3 700.8L1558.5 689.8L1560.6 684.8L1562.8 684.3L1565.0 680.5L1567.1 682.9L1569.3 679.2L1571.4 680.5L1573.6 670.1L1575.8 670.1L1577.9 667.5L1580.1 663.8L1582.3 660.0L1584.4 665.2L1586.6 662.8L1588.8 655.1L1590.9 648.0L1593.1 645.2L1595.3 640.2L1597.4 636.3L1599.6 636.8L1601.8 637.9L1603.9 642.3L1606.1 643.5L1608.2 639.0L1610.4 631.6L1612.6 625.7L1614.7 621.9L1616.9 618.7L1619.1 612.7L1621.2 612.1L1623.4 609.3L1625.6 606.2L1627.7 607.9L1629.9 607.1L1632.1 598.5L1634.2 598.0L1636.4 601.4L1638.5 599.9L1640.7 583.8L1642.9 593.4L1645.0 587.5L1647.2 582.5L1649.4 587.2L1651.5 578.5L1653.7 568.1L1655.9 570.3L1658.0 570.2L1660.2 568.9L1662.4 569.9L1664.5 564.4L1666.7 568.7L1668.9 567.9L1671.0 562.1L1673.2 553.6L1675.3 553.8L1677.5 549.7L1679.7 561.9L1681.8 542.9L1684.0 535.9L1686.2 537.8L1688.3 544.4L1690.5 543.5L1692.7 536.7L1694.8 542.0L1697.0 533.2L1699.2 536.5L1701.3 525.1L1703.5 519.7L1705.6 536.1L1707.8 522.2L1710.0 527.3L1712.1 529.8L1714.3 525.4L1716.5 519.3L1718.6 508.1L1720.8 516.9L1723.0 499.4L1725.1 492.6L1727.3 499.3L1729.5 502.4L1731.6 505.7L1733.8 509.9L1736.0 494.3L1738.1 492.1L1740.3 489.4L1742.4 480.3L1744.6 485.2L1746.8 480.7L1748.9 471.0L1751.1 485.8L1753.3 486.4L1755.4 482.7L1757.6 481.6L1759.8 470.0L1761.9 471.6L1764.1 456.3L1766.3 455.6L1768.4 458.4L1770.6 465.1L1772.7 458.8L1774.9 455.1L1777.1 462.5L1779.2 450.0L1781.4 445.5L1783.6 446.6L1785.7 437.9L1787.9 438.3L1790.1 448.9L1792.2 441.0L1794.4 446.1L1796.6 436.3L1798.7 444.2L1800.9 431.5L1803.0 433.1L1805.2 428.8L1807.4 433.4L1809.5 439.1L1811.7 416.2L1813.9 424.7L1816.0 411.1L1818.2 415.1L1820.4 413.6L1822.5 407.0L1824.7 413.7L1826.9 403.0L1829.0 417.2L1831.2 399.9L1833.4 405.9L1835.5 404.9L1837.7 405.0L1839.8 402.4L1842.0 392.0L1844.2 410.4L1846.3 395.9L1848.5 399.1L1850.7 386.5L1852.8 396.4L1855.0 391.2L1857.2 397.9L1859.3 390.3L1861.5 386.1L1863.7 391.5L1865.8 387.0L1868.0 394.3L1870.1 381.4L1872.3 376.0L1874.5 384.6L1876.6 375.2L1878.8 393.4L1881.0 389.7L1883.1 382.5L1885.3 376.8L1887.5 373.1L1889.6 373.6L1891.8 370.8L1894.0 362.7L1896.1 367.0L1898.3 370.4L1900.5 370.0L1902.6 347.8L1904.8 375.8L1906.9 359.5L1909.1 348.8L1911.3 354.8L1913.4 365.2L1915.6 358.9L1917.8 351.3L1919.9 346.4L1922.1 357.8L1924.3 347.4L1926.4 351.3L1928.6 345.2L1930.8 340.6L1932.9 349.5L1935.1 355.3L1937.2 343.2L1939.4 336.0L1941.6 348.1L1943.7 353.0L1945.9 338.1L1948.1 355.0L1950.2 338.9L1952.4 349.5L1954.6 346.9L1956.7 346.8L1958.9 335.4L1961.1 351.7L1963.2 350.1L1965.4 357.9L1967.6 343.4L1969.7 346.4L1971.9 339.3L1974.0 349.7L1976.2 348.1L1978.4 339.1L1980.5 346.3L1982.7 337.9L1984.9 335.4L1987.0 338.0L1989.2 344.6L1991.4 328.3L1993.5 336.7L1995.7 332.3L1997.9 351.3L2000.0 346.6L2002.2 348.6L2004.3 341.3L2006.5 330.4L2008.7 337.3L2010.8 344.3L2013.0 344.6L2015.2 339.3L2017.3 346.0L2019.5 338.3L2021.7 341.0L2023.8 361.8L2026.0 348.1L2028.2 335.1L2030.3 349.2L2032.5 349.3L2034.7 352.8L2036.8 350.8L2039.0 334.5L2041.1 344.3L2043.3 350.3L2045.5 363.2L2047.6 350.7L2049.8 364.6L2052.0 361.3L2054.1 336.0L2056.3 334.6L2058.5 356.8L2060.6 330.9L2062.8 336.2L2065.0 351.7L2067.1 340.7L2069.3 365.1L2071.4 361.0L2073.6 363.5L2075.8 358.5L2077.9 340.5L2080.1 363.0L2082.3 364.1L2084.4 362.2L2086.6 350.8L2088.8 358.5L2090.9 347.8L2093.1 365.9L2095.3 371.7L2097.4 368.0L2099.6 365.2L2101.8 374.7L2103.9 360.0L2106.1 341.1L2108.2 366.0L2110.4 357.5L2112.6 342.8L2114.7 357.1L2116.9 359.6L2119.1 362.7L2121.2 354.1L2123.4 354.5L2125.6 362.9L2127.7 360.4L2129.9 350.6L2132.1 359.3L2134.2 386.3L2136.4 372.9L2138.5 372.0L2140.7 365.6L2142.9 374.4L2145.0 376.6L2147.2 372.4L2149.4 385.2L2151.5 368.5L2153.7 374.7L2155.9 363.5L2158.0 377.3L2160.2 369.6L2162.4 371.9L2164.5 371.5L2166.7 351.8L2168.9 362.7L2171.0 351.2L2173.2 368.8L2175.3 359.2L2177.5 381.1L2179.7 369.1L2181.8 370.7L2184.0 360.1L2186.2 366.3L2188.3 372.5L2190.5 364.3L2192.7 374.7L2194.8 369.1L2197.0 362.7L2199.2 362.2L2201.3 361.5L2203.5 355.2L2205.6 365.3L2207.8 356.9L2210.0 349.0L2212.1 353.7L2214.3 370.2L2216.5 384.6L2218.6 374.5L2220.8 379.2L2223.0 367.6L2225.1 382.1L2227.3 377.6L2229.5 364.5L2231.6 376.3L2233.8 370.5L2235.9 351.9L2238.1 357.7L2240.3 369.9L2242.4 374.4L2244.6 387.7" stroke="#FFBDF5" stroke-width="8"/>
<path d="M381.0 1248.5L383.1 1243.9L385.3 1239.0L387.5 1233.9L389.6 1228.5L391.8 1222.9L394.0 1217.2L396.1 1211.2L398.3 1205.2L400.5 1199.0L402.6 1192.8L404.8 1186.6L406.9 1180.4L409.1 1174.2L411.3 1168.1L413.4 1162.1L415.6 1156.2L417.8 1150.6L419.9 1145.2L422.1 1140.1L424.3 1135.3L426.4 1131.0L428.6 1127.0L430.8 1123.4L432.9 1119.9L435.1 1116.5L437.3 1113.1L439.4 1109.7L441.6 1106.4L443.7 1103.1L445.9 1099.8L448.1 1096.6L450.2 1093.3L452.4 1090.0L454.6 1086.7L456.7 1083.4L458.9 1080.0L461.1 1076.7L463.2 1073.4L465.4 1069.9L467.6 1066.5L469.7 1062.9L471.9 1059.5L474.0 1056.0L476.2 1052.5L478.4 1049.1L480.5 1045.4L482.7 1041.8L484.9 1038.2L487.0 1034.4L489.2 1030.8L491.4 1027.3L493.5 1023.8L495.7 1020.1L497.9 1016.9L500.0 1013.7L502.2 1010.3L504.3 1007.0L506.5 1003.8L508.7 1000.6L510.8 997.6L513.0 994.6L515.2 991.9L517.3 989.3L519.5 986.7L521.7 984.3L523.8 981.8L526.0 979.6L528.2 977.5L530.3 975.3L532.5 973.3L534.7 971.1L536.8 969.6L539.0 967.4L541.1 965.3L543.3 963.6L545.5 961.4L547.6 959.5L549.8 957.6L552.0 955.5L554.1 953.4L556.3 951.5L558.5 949.8L560.6 947.9L562.8 945.7L565.0 944.7L567.1 942.6L569.3 940.8L571.4 939.4L573.6 937.8L575.8 936.4L577.9 934.7L580.1 933.0L582.3 932.1L584.4 930.5L586.6 929.2L588.8 927.6L590.9 925.8L593.1 924.4L595.3 921.9L597.4 919.8L599.6 918.1L601.8 916.5L603.9 915.8L606.1 913.1L608.2 912.4L610.4 910.4L612.6 908.0L614.7 907.6L616.9 905.3L619.1 904.0L621.2 902.6L623.4 901.3L625.6 899.1L627.7 898.1L629.9 895.8L632.1 894.0L634.2 893.6L636.4 891.5L638.5 889.9L640.7 889.2L642.9 888.1L645.0 886.4L647.2 885.4L649.4 885.1L651.5 883.4L653.7 881.5L655.9 881.6L658.0 880.2L660.2 877.6L662.4 876.9L664.5 878.4L666.7 877.6L668.9 875.5L671.0 875.5L673.2 873.6L675.3 872.7L677.5 871.3L679.7 873.1L681.8 872.9L684.0 871.9L686.2 869.7L688.3 870.2L690.5 871.0L692.7 868.5L694.8 868.0L697.0 868.2L699.2 867.9L701.3 866.7L703.5 865.8L705.6 866.5L707.8 865.7L710.0 865.8L712.1 865.7L714.3 865.6L716.5 864.0L718.6 864.0L720.8 863.7L723.0 862.0L725.1 862.1L727.3 861.1L729.5 863.7L731.6 861.3L733.8 862.9L736.0 863.1L738.1 862.8L740.3 859.5L742.4 859.4L744.6 861.0L746.8 862.1L748.9 861.5L751.1 862.8L753.3 860.1L755.4 864.0L757.6 864.4L759.8 862.4L761.9 861.8L764.1 861.3L766.3 860.0L768.4 857.7L770.6 860.2L772.7 860.3L774.9 862.2L777.1 859.7L779.2 859.1L781.4 860.8L783.6 859.8L785.7 861.7L787.9 859.5L790.1 860.8L792.2 862.6L794.4 862.7L796.6 863.9L798.7 863.9L800.9 860.5L803.1 859.1L805.2 857.7L807.4 860.8L809.5 861.8L811.7 863.5L813.9 861.0L816.0 862.4L818.2 864.5L820.4 863.4L822.5 864.0L824.7 868.2L826.9 864.5L829.0 865.8L831.2 866.0L833.4 865.5L835.5 861.0L837.7 861.2L839.8 861.4L842.0 867.1L844.2 867.1L846.3 864.7L848.5 868.4L850.7 868.0L852.8 870.5L855.0 865.1L857.2 867.5L859.3 869.2L861.5 870.5L863.7 871.5L865.8 871.5L868.0 870.0L870.2 872.4L872.3 869.3L874.5 872.8L876.6 874.1L878.8 871.8L881.0 874.5L883.1 874.3L885.3 876.6L887.5 880.3L889.6 876.0L891.8 879.5L894.0 875.9L896.1 880.5L898.3 881.6L900.5 878.5L902.6 879.1L904.8 879.7L906.9 882.8L909.1 880.3L911.3 885.8L913.4 884.7L915.6 885.6L917.8 885.6L919.9 883.9L922.1 887.5L924.3 885.3L926.4 886.0L928.6 890.8L930.8 891.7L932.9 891.6L935.1 892.6L937.2 891.1L939.4 895.5L941.6 891.9L943.7 893.1L945.9 895.5L948.1 898.8L950.2 897.8L952.4 900.2L954.6 898.9L956.7 900.2L958.9 899.7L961.1 903.1L963.2 901.2L965.4 908.4L967.6 907.5L969.7 905.8L971.9 910.9L974.0 907.7L976.2 911.2L978.4 908.4L980.5 909.9L982.7 909.6L984.9 909.9L987.0 912.0L989.2 914.4L991.4 911.2L993.5 916.6L995.7 919.1L997.9 916.9L1000.0 918.5L1002.2 919.4L1004.3 919.3L1006.5 925.1L1008.7 921.8L1010.8 922.9L1013.0 927.0L1015.2 928.8L1017.3 935.0L1019.5 932.8L1021.7 928.0L1023.8 934.3L1026.0 932.4L1028.2 932.6L1030.3 934.8L1032.5 934.8L1034.7 942.7L1036.8 939.2L1039.0 937.8L1041.1 943.2L1043.3 942.6L1045.5 940.3L1047.6 941.6L1049.8 943.4L1052.0 949.5L1054.1 946.9L1056.3 947.0L1058.5 949.4L1060.6 949.4L1062.8 946.0L1065.0 951.6L1067.1 954.1L1069.3 951.6L1071.4 952.9L1073.6 952.7L1075.8 952.9L1077.9 951.7L1080.1 954.6L1082.3 959.3L1084.4 958.4L1086.6 956.3L1088.8 957.2L1090.9 953.7L1093.1 956.3L1095.3 961.3L1097.4 959.4L1099.6 956.2L1101.8 958.2L1103.9 962.6L1106.1 961.5L1108.2 964.1L1110.4 965.1L1112.6 961.0L1114.7 962.8L1116.9 963.2L1119.1 964.7L1121.2 964.3L1123.4 967.0L1125.6 966.0L1127.7 965.9L1129.9 968.7L1132.1 968.1L1134.2 974.3L1136.4 972.0L1138.5 967.1L1140.7 966.7L1142.9 971.2L1145.0 973.4L1147.2 977.1L1149.4 974.5L1151.5 973.9L1153.7 978.5L1155.9 974.0L1158.0 974.0L1160.2 975.1L1162.4 978.4L1164.5 974.8L1166.7 978.7L1168.9 972.6L1171.0 975.9L1173.2 979.3L1175.3 973.8L1177.5 974.0L1179.7 976.9L1181.8 969.9L1184.0 976.5L1186.2 973.9L1188.3 973.1L1190.5 981.6L1192.7 975.2L1194.8 977.0L1197.0 976.6L1199.2 978.8L1201.3 976.5L1203.5 980.2L1205.6 979.5L1207.8 977.2L1210.0 978.2L1212.1 971.6L1214.3 978.3L1216.5 977.2L1218.6 977.3L1220.8 976.9L1223.0 974.8L1225.1 973.5L1227.3 976.3L1229.5 977.0L1231.6 976.2L1233.8 973.2L1236.0 972.2L1238.1 974.3L1240.3 977.8L1242.4 967.5L1244.6 969.9L1246.8 970.5L1248.9 969.7L1251.1 971.3L1253.3 971.8L1255.4 969.1L1257.6 967.6L1259.8 967.5L1261.9 968.7L1264.1 965.5L1266.3 962.8L1268.4 964.1L1270.6 960.4L1272.7 963.7L1274.9 957.9L1277.1 957.4L1279.2 959.1L1281.4 959.6L1283.6 953.1L1285.7 954.8L1287.9 950.5L1290.1 951.8L1292.2 949.5L1294.4 951.4L1296.6 953.6L1298.7 948.1L1300.9 947.4L1303.1 944.2L1305.2 947.0L1307.4 946.5L1309.5 942.0L1311.7 939.8L1313.9 938.8L1316.0 936.5L1318.2 935.7L1320.4 933.2L1322.5 931.1L1324.7 931.4L1326.9 931.4L1329.0 930.1L1331.2 924.5L1333.4 929.7L1335.5 929.2L1337.7 926.6L1339.8 923.6L1342.0 921.2L1344.2 924.5L1346.3 926.4L1348.5 919.0L1350.7 922.6L1352.8 914.3L1355.0 912.2L1357.2 907.3L1359.3 905.8L1361.5 908.3L1363.7 909.6L1365.8 908.4L1368.0 905.1L1370.1 899.7L1372.3 903.6L1374.5 896.4L1376.6 896.3L1378.8 895.0L1381.0 896.1L1383.1 892.8L1385.3 892.0L1387.5 888.5L1389.6 889.8L1391.8 881.5L1394.0 875.6L1396.1 879.3L1398.3 878.0L1400.5 879.8L1402.6 868.9L1404.8 872.2L1406.9 866.0L1409.1 866.6L1411.3 868.6L1413.4 859.6L1415.6 861.9L1417.8 860.9L1419.9 859.0L1422.1 857.8L1424.3 855.2L1426.4 850.0L1428.6 851.8L1430.8 849.8L1432.9 850.6L1435.1 850.4L1437.2 845.0L1439.4 842.0L1441.6 838.5L1443.7 831.9L1445.9 839.2L1448.1 831.3L1450.2 838.0L1452.4 832.8L1454.6 828.1L1456.7 830.6L1458.9 825.8L1461.1 815.2L1463.2 811.7L1465.4 808.4L1467.6 808.4L1469.7 796.7L1471.9 803.7L1474.0 803.3L1476.2 790.5L1478.4 791.4L1480.5 792.4L1482.7 783.6L1484.9 783.4L1487.0 778.6L1489.2 778.0L1491.4 781.4L1493.5 771.7L1495.7 773.1L1497.9 775.5L1500.0 773.7L1502.2 763.6L1504.3 764.2L1506.5 756.0L1508.7 749.1L1510.8 748.7L1513.0 754.2L1515.2 745.3L1517.3 742.0L1519.5 740.7L1521.7 735.9L1523.8 739.5L1526.0 734.3L1528.2 726.9L1530.3 729.1L1532.5 717.1L1534.7 714.5L1536.8 715.8L1539.0 712.8L1541.1 716.8L1543.3 722.9L1545.5 711.2L1547.6 711.1L1549.8 706.2L1552.0 703.1L1554.1 695.0L1556.3 696.4L1558.5 700.0L1560.6 692.7L1562.8 688.8L1565.0 691.8L1567.1 688.8L1569.3 686.4L1571.4 684.6L1573.6 675.8L1575.8 670.0L1577.9 664.1L1580.1 666.3L1582.3 665.8L1584.4 664.7L1586.6 662.5L1588.8 665.8L1590.9 655.1L1593.1 651.2L1595.3 649.9L1597.4 650.7L1599.6 651.5L1601.8 650.7L1603.9 651.9L1606.1 639.8L1608.2 638.5L1610.4 635.9L1612.6 633.4L1614.7 630.6L1616.9 635.9L1619.1 631.1L1621.2 633.8L1623.4 633.1L1625.6 630.0L1627.7 613.3L1629.9 625.4L1632.1 611.0L1634.2 601.1L1636.4 606.9L1638.5 593.9L1640.7 590.4L1642.9 591.9L1645.0 582.1L1647.2 586.0L1649.4 590.5L1651.5 582.6L1653.7 586.5L1655.9 588.9L1658.0 588.0L1660.2 570.1L1662.4 582.1L1664.5 577.3L1666.7 576.7L1668.9 569.1L1671.0 567.4L1673.2 567.4L1675.3 570.5L1677.5 570.0L1679.7 561.8L1681.8 551.8L1684.0 539.8L1686.2 544.8L1688.3 541.3L1690.5 548.1L1692.7 549.9L1694.8 554.0L1697.0 544.1L1699.2 550.0L1701.3 537.4L1703.5 523.8L1705.6 531.1L1707.8 524.8L1710.0 532.5L1712.1 534.7L1714.3 528.2L1716.5 524.6L1718.6 513.5L1720.8 505.3L1723.0 516.3L1725.1 510.8L1727.3 508.5L1729.5 507.9L1731.6 510.4L1733.8 501.4L1736.0 499.1L1738.1 502.0L1740.3 510.8L1742.4 504.0L1744.6 505.2L1746.8 483.6L1748.9 488.3L1751.1 482.2L1753.3 481.1L1755.4 481.9L1757.6 483.9L1759.8 486.1L1761.9 464.0L1764.1 470.9L1766.3 471.1L1768.4 461.7L1770.6 474.3L1772.7 467.9L1774.9 467.5L1777.1 457.8L1779.2 460.8L1781.4 460.2L1783.6 460.6L1785.7 453.9L1787.9 445.5L1790.1 463.4L1792.2 452.4L1794.4 454.4L1796.6 452.6L1798.7 459.4L1800.9 441.3L1803.0 447.7L1805.2 441.8L1807.4 440.6L1809.5 445.2L1811.7 437.0L1813.9 443.9L1816.0 434.1L1818.2 426.0L1820.4 420.5L1822.5 421.8L1824.7 421.0L1826.9 405.5L1829.0 413.5L1831.2 423.5L1833.4 420.0L1835.5 416.8L1837.7 412.8L1839.8 413.9L1842.0 416.3L1844.2 397.6L1846.3 402.7L1848.5 400.0L1850.7 396.6L1852.8 396.1L1855.0 385.2L1857.2 390.0L1859.3 383.3L1861.5 403.0L1863.7 385.5L1865.8 380.6L1868.0 373.4L1870.1 384.8L1872.3 393.3L1874.5 377.1L1876.6 381.4L1878.8 388.3L1881.0 378.3L1883.1 368.8L1885.3 366.3L1887.5 370.6L1889.6 379.8L1891.8 360.1L1894.0 379.4L1896.1 369.3L1898.3 374.8L1900.5 357.9L1902.6 365.5L1904.8 363.4L1906.9 366.9L1909.1 368.4L1911.3 364.0L1913.4 375.1L1915.6 350.7L1917.8 351.5L1919.9 360.9L1922.1 360.8L1924.3 357.5L1926.4 348.1L1928.6 354.9L1930.8 357.9L1932.9 360.1L1935.1 365.4L1937.2 358.3L1939.4 353.6L1941.6 356.0L1943.7 354.6L1945.9 350.7L1948.1 353.5L1950.2 353.8L1952.4 351.7L1954.6 353.5L1956.7 354.2L1958.9 348.5L1961.1 361.8L1963.2 337.7L1965.4 349.8L1967.6 332.5L1969.7 338.0L1971.9 333.5L1974.0 340.7L1976.2 348.5L1978.4 334.6L1980.5 340.8L1982.7 338.6L1984.9 336.3L1987.0 330.5L1989.2 334.5L1991.4 340.0L1993.5 349.9L1995.7 338.6L1997.9 333.2L2000.0 323.8L2002.2 336.1L2004.3 340.7L2006.5 329.2L2008.7 338.0L2010.8 338.1L2013.0 337.7L2015.2 349.2L2017.3 326.1L2019.5 328.3L2021.7 334.3L2023.8 343.3L2026.0 332.8L2028.2 323.5L2030.3 341.0L2032.5 344.1L2034.7 330.4L2036.8 344.8L2039.0 349.1L2041.1 332.6L2043.3 335.5L2045.5 333.3L2047.6 335.8L2049.8 326.3L2052.0 330.2L2054.1 336.0L2056.3 337.4L2058.5 327.3L2060.6 320.6L2062.8 318.5L2065.0 317.8L2067.1 346.9L2069.3 334.3L2071.4 330.8L2073.6 325.4L2075.8 343.4L2077.9 311.9L2080.1 323.5L2082.3 335.2L2084.4 328.2L2086.6 334.1L2088.8 338.3L2090.9 327.4L2093.1 337.9L2095.3 345.8L2097.4 335.0L2099.6 329.5L2101.8 339.6L2103.9 314.8L2106.1 333.7L2108.2 304.5L2110.4 316.6L2112.6 340.5L2114.7 331.3L2116.9 318.4L2119.1 330.3L2121.2 337.1L2123.4 325.1L2125.6 308.1L2127.7 348.9L2129.9 328.8L2132.1 333.6L2134.2 332.5L2136.4 334.1L2138.5 332.4L2140.7 315.9L2142.9 318.7L2145.0 335.3L2147.2 312.0L2149.4 342.9L2151.5 321.9L2153.7 324.7L2155.9 315.4L2158.0 325.1L2160.2 318.4L2162.4 329.1L2164.5 319.5L2166.7 326.6L2168.9 305.8L2171.0 331.7L2173.2 308.8L2175.3 316.9L2177.5 323.0L2179.7 333.8L2181.8 325.3L2184.0 346.4L2186.2 349.0L2188.3 328.8L2190.5 356.0L2192.7 323.5L2194.8 341.1L2197.0 334.1L2199.2 334.5L2201.3 331.1L2203.5 339.0L2205.6 339.3L2207.8 335.4L2210.0 320.6L2212.1 322.2L2214.3 322.9L2216.5 336.6L2218.6 342.6L2220.8 358.6L2223.0 332.5L2225.1 328.5L2227.3 339.4L2229.5 324.6L2231.6 321.8L2233.8 334.7L2235.9 322.1L2238.1 325.0L2240.3 347.7L2242.4 336.9L2244.6 341.9" stroke="#FF80E8" stroke-width="8"/>
<path d="M381.0 1235.0L383.1 1230.1L385.3 1224.9L387.5 1219.5L389.6 1213.9L391.8 1208.1L394.0 1202.1L396.1 1196.1L398.3 1189.9L400.5 1183.8L402.6 1177.5L404.8 1171.3L406.9 1165.1L409.1 1158.9L411.3 1152.7L413.4 1146.7L415.6 1140.9L417.8 1135.3L419.9 1129.9L422.1 1124.8L424.3 1120.2L426.4 1115.9L428.6 1112.0L430.8 1108.4L432.9 1104.9L435.1 1101.5L437.3 1098.3L439.4 1095.0L441.6 1091.8L443.7 1088.6L445.9 1085.4L448.1 1082.3L450.2 1079.2L452.4 1076.0L454.6 1072.8L456.7 1069.5L458.9 1066.4L461.1 1063.1L463.2 1059.9L465.4 1056.6L467.6 1053.3L469.7 1049.9L471.9 1046.6L474.0 1043.3L476.2 1040.0L478.4 1036.7L480.5 1033.1L482.7 1029.6L484.9 1026.0L487.0 1022.4L489.2 1019.1L491.4 1015.7L493.5 1012.4L495.7 1009.1L497.9 1005.9L500.0 1002.8L502.2 999.5L504.3 996.4L506.5 993.5L508.7 990.8L510.8 988.0L513.0 985.2L515.2 982.7L517.3 980.2L519.5 978.0L521.7 975.8L523.8 973.5L526.0 971.6L528.2 969.2L530.3 967.1L532.5 965.4L534.7 963.2L536.8 961.5L539.0 959.7L541.1 958.0L543.3 956.1L545.5 954.0L547.6 952.4L549.8 950.7L552.0 949.3L554.1 947.6L556.3 946.0L558.5 945.0L560.6 943.6L562.8 941.6L565.0 940.1L567.1 938.8L569.3 937.1L571.4 935.5L573.6 933.9L575.8 933.3L577.9 931.4L580.1 929.4L582.3 928.3L584.4 926.1L586.6 925.7L588.8 923.2L590.9 922.4L593.1 921.4L595.3 918.9L597.4 917.0L599.6 915.2L601.8 913.5L603.9 912.3L606.1 910.9L608.2 909.4L610.4 907.7L612.6 906.0L614.7 904.5L616.9 902.7L619.1 900.6L621.2 899.4L623.4 897.1L625.6 895.8L627.7 896.0L629.9 894.3L632.1 893.5L634.2 892.4L636.4 890.6L638.5 890.5L640.7 889.6L642.9 888.1L645.0 886.6L647.2 886.5L649.4 885.8L651.5 884.1L653.7 883.6L655.9 882.7L658.0 881.6L660.2 882.4L662.4 881.0L664.5 881.0L666.7 879.0L668.9 878.6L671.0 879.2L673.2 877.0L675.3 878.1L677.5 875.7L679.7 875.5L681.8 875.5L684.0 875.0L686.2 874.2L688.3 873.9L690.5 874.2L692.7 872.4L694.8 873.4L697.0 871.8L699.2 871.7L701.3 873.3L703.5 870.9L705.6 871.9L707.8 872.4L710.0 870.8L712.1 870.0L714.3 868.5L716.5 869.3L718.6 867.0L720.8 866.5L723.0 866.9L725.1 866.7L727.3 868.1L729.5 869.0L731.6 867.7L733.8 867.4L736.0 868.0L738.1 868.2L740.3 869.0L742.4 866.0L744.6 866.3L746.8 868.2L748.9 866.8L751.1 866.2L753.3 867.6L755.4 866.1L757.6 866.0L759.8 868.3L761.9 866.9L764.1 865.7L766.3 865.0L768.4 864.2L770.6 868.5L772.7 866.3L774.9 865.4L777.1 865.2L779.2 864.7L781.4 868.3L783.6 867.4L785.7 868.2L787.9 865.8L790.1 869.2L792.2 866.3L794.4 866.9L796.6 867.5L798.7 871.4L800.9 870.0L803.1 868.9L805.2 871.6L807.4 869.5L809.5 868.8L811.7 868.0L813.9 869.4L816.0 870.1L818.2 871.4L820.4 871.3L822.5 871.9L824.7 870.5L826.9 871.9L829.0 870.0L831.2 874.7L833.4 871.0L835.5 873.4L837.7 871.7L839.8 872.9L842.0 872.4L844.2 871.3L846.3 874.7L848.5 873.6L850.7 874.6L852.8 875.0L855.0 878.2L857.2 875.9L859.3 876.0L861.5 877.6L863.7 877.4L865.8 879.7L868.0 875.0L870.2 876.4L872.3 874.6L874.5 878.9L876.6 879.6L878.8 877.6L881.0 882.1L883.1 880.3L885.3 883.1L887.5 883.2L889.6 883.2L891.8 884.7L894.0 882.7L896.1 885.3L898.3 888.1L900.5 883.9L902.6 887.6L904.8 886.1L906.9 888.9L909.1 888.7L911.3 885.7L913.4 889.4L915.6 890.3L917.8 890.8L919.9 892.0L922.1 890.5L924.3 896.3L926.4 896.2L928.6 893.2L930.8 896.8L932.9 895.7L935.1 893.5L937.2 896.5L939.4 898.0L941.6 900.0L943.7 901.1L945.9 901.9L948.1 901.8L950.2 901.3L952.4 903.2L954.6 907.1L956.7 908.4L958.9 906.1L961.1 911.1L963.2 908.9L965.4 908.8L967.6 910.3L969.7 910.8L971.9 909.8L974.0 914.6L976.2 914.9L978.4 915.7L980.5 915.5L982.7 918.5L984.9 914.7L987.0 918.2L989.2 919.6L991.4 921.0L993.5 922.7L995.7 924.4L997.9 921.8L1000.0 924.8L1002.2 926.6L1004.3 925.4L1006.5 929.5L1008.7 927.8L1010.8 930.3L1013.0 933.3L1015.2 931.5L1017.3 936.4L1019.5 933.1L1021.7 936.9L1023.8 935.3L1026.0 934.1L1028.2 935.8L1030.3 938.5L1032.5 938.5L1034.7 940.4L1036.8 943.3L1039.0 943.8L1041.1 941.9L1043.3 940.9L1045.5 946.1L1047.6 944.3L1049.8 944.6L1052.0 945.7L1054.1 947.9L1056.3 944.7L1058.5 949.8L1060.6 947.1L1062.8 946.0L1065.0 953.9L1067.1 951.0L1069.3 951.6L1071.4 952.4L1073.6 954.3L1075.8 954.2L1077.9 957.3L1080.1 955.6L1082.3 956.2L1084.4 959.7L1086.6 961.3L1088.8 960.7L1090.9 960.2L1093.1 960.4L1095.3 961.6L1097.4 962.2L1099.6 965.7L1101.8 967.6L1103.9 962.1L1106.1 960.4L1108.2 966.8L1110.4 966.3L1112.6 966.0L1114.7 965.3L1116.9 966.6L1119.1 965.5L1121.2 969.0L1123.4 968.9L1125.6 969.3L1127.7 970.9L1129.9 967.2L1132.1 968.9L1134.2 968.7L1136.4 971.8L1138.5 969.5L1140.7 974.9L1142.9 972.8L1145.0 977.9L1147.2 974.8L1149.4 971.9L1151.5 975.0L1153.7 974.9L1155.9 978.9L1158.0 973.1L1160.2 975.1L1162.4 976.5L1164.5 975.5L1166.7 976.6L1168.9 975.8L1171.0 979.3L1173.2 983.5L1175.3 980.2L1177.5 976.4L1179.7 976.8L1181.8 978.1L1184.0 975.8L1186.2 976.7L1188.3 976.0L1190.5 980.6L1192.7 979.2L1194.8 975.7L1197.0 977.7L1199.2 977.2L1201.3 974.1L1203.5 979.2L1205.6 977.3L1207.8 978.5L1210.0 977.2L1212.1 975.3L1214.3 977.8L1216.5 980.7L1218.6 974.0L1220.8 978.4L1223.0 974.9L1225.1 976.4L1227.3 975.4L1229.5 974.2L1231.6 974.2L1233.8 978.5L1236.0 972.2L1238.1 975.9L1240.3 971.8L1242.4 965.5L1244.6 970.5L1246.8 967.2L1248.9 972.9L1251.1 970.5L1253.3 970.6L1255.4 967.9L1257.6 969.2L1259.8 968.4L1261.9 964.6L1264.1 968.5L1266.3 965.9L1268.4 961.9L1270.6 964.0L1272.7 963.1L1274.9 962.1L1277.1 957.7L1279.2 958.7L1281.4 957.5L1283.6 958.8L1285.7 954.2L1287.9 959.5L1290.1 962.3L1292.2 954.7L1294.4 953.0L1296.6 950.9L1298.7 954.5L1300.9 946.2L1303.1 947.4L1305.2 945.3L1307.4 947.6L1309.5 941.3L1311.7 942.3L1313.9 938.4L1316.0 942.2L1318.2 943.2L1320.4 938.9L1322.5 940.8L1324.7 936.9L1326.9 939.5L1329.0 935.5L1331.2 934.5L1333.4 932.6L1335.5 932.1L1337.7 929.9L1339.8 925.4L1342.0 925.1L1344.2 922.6L1346.3 923.3L1348.5 926.5L1350.7 919.3L1352.8 913.9L1355.0 917.3L1357.2 915.1L1359.3 913.9L1361.5 912.7L1363.7 912.4L1365.8 903.7L1368.0 901.6L1370.1 901.8L1372.3 900.6L1374.5 898.5L1376.6 897.5L1378.8 895.5L1381.0 895.0L1383.1 892.8L1385.3 894.1L1387.5 891.9L1389.6 887.1L1391.8 888.5L1394.0 891.3L1396.1 881.1L1398.3 884.0L1400.5 868.6L1402.6 870.2L1404.8 869.4L1406.9 872.6L1409.1 871.3L1411.3 866.1L1413.4 864.2L1415.6 867.4L1417.8 864.2L1419.9 860.8L1422.1 858.6L1424.3 861.8L1426.4 864.1L1428.6 856.3L1430.8 856.7L1432.9 849.7L1435.1 841.8L1437.2 838.0L1439.4 840.1L1441.6 836.3L1443.7 834.1L1445.9 838.5L1448.1 835.6L1450.2 829.6L1452.4 827.2L1454.6 824.6L1456.7 823.4L1458.9 820.4L1461.1 821.0L1463.2 813.4L1465.4 814.8L1467.6 807.3L1469.7 806.1L1471.9 811.1L1474.0 799.6L1476.2 802.7L1478.4 794.9L1480.5 796.3L1482.7 795.6L1484.9 790.1L1487.0 790.7L1489.2 785.6L1491.4 782.8L1493.5 782.6L1495.7 776.1L1497.9 778.9L1500.0 770.4L1502.2 775.8L1504.3 766.2L1506.5 764.7L1508.7 759.9L1510.8 761.8L1513.0 748.3L1515.2 756.8L1517.3 752.2L1519.5 752.4L1521.7 740.4L1523.8 746.5L1526.0 738.8L1528.2 743.9L1530.3 735.1L1532.5 734.6L1534.7 727.0L1536.8 729.6L1539.0 730.1L1541.1 724.1L1543.3 729.0L1545.5 726.8L1547.6 717.0L1549.8 723.6L1552.0 708.9L1554.1 709.3L1556.3 707.5L1558.5 701.2L1560.6 698.4L1562.8 702.7L1565.0 697.9L1567.1 691.7L1569.3 688.7L1571.4 689.3L1573.6 687.3L1575.8 683.8L1577.9 679.1L1580.1 672.0L1582.3 669.1L1584.4 666.2L1586.6 658.2L1588.8 663.6L1590.9 663.4L1593.1 662.4L1595.3 651.1L1597.4 665.1L1599.6 653.2L1601.8 650.3L1603.9 650.3L1606.1 638.5L1608.2 640.8L1610.4 641.0L1612.6 645.9L1614.7 637.9L1616.9 637.1L1619.1 631.7L1621.2 627.5L1623.4 628.4L1625.6 620.4L1627.7 613.4L1629.9 612.1L1632.1 612.8L1634.2 619.1L1636.4 604.0L1638.5 604.0L1640.7 608.4L1642.9 608.2L1645.0 600.2L1647.2 604.8L1649.4 594.4L1651.5 599.5L1653.7 595.6L1655.9 589.4L1658.0 592.1L1660.2 580.9L1662.4 575.3L1664.5 582.2L1666.7 573.5L1668.9 581.2L1671.0 574.7L1673.2 572.3L1675.3 571.9L1677.5 569.9L1679.7 575.2L1681.8 569.2L1684.0 565.8L1686.2 549.0L1688.3 548.5L1690.5 559.2L1692.7 548.3L1694.8 550.6L1697.0 551.4L1699.2 545.9L1701.3 540.6L1703.5 546.5L1705.6 543.4L1707.8 540.0L1710.0 541.8L1712.1 532.1L1714.3 530.7L1716.5 530.3L1718.6 530.6L1720.8 523.5L1723.0 519.5L1725.1 517.5L1727.3 520.2L1729.5 510.3L1731.6 512.7L1733.8 509.6L1736.0 503.8L1738.1 513.3L1740.3 508.0L1742.4 511.8L1744.6 510.8L1746.8 494.2L1748.9 495.9L1751.1 508.7L1753.3 494.2L1755.4 494.0L1757.6 478.5L1759.8 479.5L1761.9 478.9L1764.1 477.5L1766.3 479.1L1768.4 483.4L1770.6 483.3L1772.7 480.8L1774.9 474.9L1777.1 482.9L1779.2 474.0L1781.4 470.3L1783.6 467.0L1785.7 458.0L1787.9 467.5L1790.1 461.9L1792.2 462.8L1794.4 454.9L1796.6 458.9L1798.7 453.5L1800.9 446.1L1803.0 452.6L1805.2 438.3L1807.4 442.1L1809.5 436.7L1811.7 434.1L1813.9 430.8L1816.0 432.5L1818.2 424.9L1820.4 428.1L1822.5 426.5L1824.7 423.8L1826.9 417.7L1829.0 414.0L1831.2 423.8L1833.4 429.1L1835.5 423.6L1837.7 420.0L1839.8 418.3L1842.0 419.8L1844.2 427.1L1846.3 414.1L1848.5 401.5L1850.7 404.0L1852.8 416.5L1855.0 401.6L1857.2 409.4L1859.3 384.4L1861.5 392.2L1863.7 398.8L1865.8 385.3L1868.0 394.6L1870.1 385.6L1872.3 387.1L1874.5 392.9L1876.6 382.5L1878.8 395.9L1881.0 380.8L1883.1 387.2L1885.3 391.5L1887.5 393.5L1889.6 371.1L1891.8 370.9L1894.0 385.0L1896.1 364.0L1898.3 370.2L1900.5 372.2L1902.6 373.3L1904.8 375.3L1906.9 365.4L1909.1 372.7L1911.3 386.0L1913.4 364.1L1915.6 372.9L1917.8 383.3L1919.9 373.7L1922.1 372.4L1924.3 365.4L1926.4 362.5L1928.6 364.1L1930.8 368.5L1932.9 370.3L1935.1 360.8L1937.2 367.3L1939.4 352.8L1941.6 370.9L1943.7 359.9L1945.9 363.5L1948.1 365.0L1950.2 348.7L1952.4 354.0L1954.6 361.5L1956.7 359.4L1958.9 352.0L1961.1 363.4L1963.2 341.1L1965.4 340.0L1967.6 345.8L1969.7 338.4L1971.9 338.0L1974.0 345.5L1976.2 348.1L1978.4 336.8L1980.5 336.9L1982.7 349.7L1984.9 346.7L1987.0 351.8L1989.2 356.1L1991.4 360.8L1993.5 340.2L1995.7 344.3L1997.9 345.3L2000.0 337.1L2002.2 348.1L2004.3 342.6L2006.5 339.0L2008.7 344.3L2010.8 342.3L2013.0 336.7L2015.2 344.1L2017.3 333.6L2019.5 347.3L2021.7 337.3L2023.8 349.2L2026.0 338.7L2028.2 343.9L2030.3 328.3L2032.5 333.7L2034.7 334.6L2036.8 322.6L2039.0 327.8L2041.1 334.8L2043.3 349.6L2045.5 356.6L2047.6 345.0L2049.8 347.5L2052.0 346.5L2054.1 338.0L2056.3 345.8L2058.5 316.0L2060.6 337.3L2062.8 334.5L2065.0 325.9L2067.1 346.1L2069.3 318.3L2071.4 314.5L2073.6 325.9L2075.8 332.9L2077.9 330.0L2080.1 344.1L2082.3 315.1L2084.4 327.4L2086.6 335.6L2088.8 338.4L2090.9 325.3L2093.1 321.5L2095.3 350.0L2097.4 346.2L2099.6 355.2L2101.8 330.1L2103.9 333.6L2106.1 313.0L2108.2 337.6L2110.4 341.3L2112.6 346.2L2114.7 330.2L2116.9 354.6L2119.1 328.5L2121.2 333.3L2123.4 338.6L2125.6 342.0L2127.7 320.9L2129.9 313.6L2132.1 337.9L2134.2 333.7L2136.4 323.4L2138.5 348.4L2140.7 342.0L2142.9 351.1L2145.0 339.1L2147.2 335.1L2149.4 335.4L2151.5 333.3L2153.7 340.6L2155.9 336.7L2158.0 336.8L2160.2 323.8L2162.4 337.7L2164.5 339.7L2166.7 324.9L2168.9 327.6L2171.0 344.1L2173.2 345.3L2175.3 334.1L2177.5 338.2L2179.7 347.8L2181.8 330.9L2184.0 327.4L2186.2 314.2L2188.3 337.1L2190.5 321.0L2192.7 325.2L2194.8 339.5L2197.0 321.5L2199.2 325.3L2201.3 346.0L2203.5 308.8L2205.6 341.4L2207.8 345.0L2210.0 343.9L2212.1 332.1L2214.3 331.0L2216.5 335.4L2218.6 321.7L2220.8 336.8L2223.0 332.2L2225.1 326.6L2227.3 346.3L2229.5 371.3L2231.6 350.6L2233.8 359.9L2235.9 348.3L2238.1 349.7L2240.3 360.9L2242.4 356.6L2244.6 343.4" stroke="#FF80E8" stroke-width="8"/>
<path d="M381.0 1221.4L383.1 1216.2L385.3 1210.8L387.5 1205.2L389.6 1199.4L391.8 1193.5L394.0 1187.5L396.1 1181.4L398.3 1175.3L400.5 1169.1L402.6 1162.9L404.8 1156.8L406.9 1150.7L409.1 1144.6L411.3 1138.7L413.4 1132.9L415.6 1127.1L417.8 1121.7L419.9 1116.5L422.1 1111.5L424.3 1106.9L426.4 1102.7L428.6 1098.9L430.8 1095.3L432.9 1091.9L435.1 1088.5L437.3 1085.4L439.4 1082.2L441.6 1079.1L443.7 1076.0L445.9 1072.9L448.1 1070.0L450.2 1067.0L452.4 1063.8L454.6 1060.8L456.7 1057.7L458.9 1054.6L461.1 1051.4L463.2 1048.4L465.4 1045.1L467.6 1041.8L469.7 1038.7L471.9 1035.6L474.0 1032.3L476.2 1029.2L478.4 1026.0L480.5 1022.6L482.7 1019.3L484.9 1015.8L487.0 1012.6L489.2 1009.3L491.4 1006.3L493.5 1003.1L495.7 1000.2L497.9 997.1L500.0 994.1L502.2 991.2L504.3 988.4L506.5 985.8L508.7 983.2L510.8 980.7L513.0 978.4L515.2 976.1L517.3 973.7L519.5 971.5L521.7 969.2L523.8 967.1L526.0 965.0L528.2 963.2L530.3 961.3L532.5 959.6L534.7 957.7L536.8 956.0L539.0 954.3L541.1 953.2L543.3 951.3L545.5 950.2L547.6 948.5L549.8 947.0L552.0 946.1L554.1 944.4L556.3 942.7L558.5 942.2L560.6 940.1L562.8 938.9L565.0 937.3L567.1 935.9L569.3 935.0L571.4 932.9L573.6 931.5L575.8 930.0L577.9 928.1L580.1 926.3L582.3 925.4L584.4 923.8L586.6 922.5L588.8 921.4L590.9 919.8L593.1 918.0L595.3 917.0L597.4 915.1L599.6 913.9L601.8 911.3L603.9 911.1L606.1 908.7L608.2 907.4L610.4 906.4L612.6 905.8L614.7 904.6L616.9 902.9L619.1 901.5L621.2 900.7L623.4 899.5L625.6 897.5L627.7 896.1L629.9 895.7L632.1 894.9L634.2 894.0L636.4 891.7L638.5 891.7L640.7 891.2L642.9 889.7L645.0 888.5L647.2 888.5L649.4 889.4L651.5 887.6L653.7 887.1L655.9 886.6L658.0 886.8L660.2 885.9L662.4 885.9L664.5 884.5L666.7 884.1L668.9 884.5L671.0 884.1L673.2 882.7L675.3 881.1L677.5 880.6L679.7 880.2L681.8 881.4L684.0 879.6L686.2 879.6L688.3 879.1L690.5 879.8L692.7 879.1L694.8 879.1L697.0 876.1L699.2 877.0L701.3 877.5L703.5 877.1L705.6 877.1L707.8 876.3L710.0 876.8L712.1 876.0L714.3 874.8L716.5 874.8L718.6 875.8L720.8 875.1L723.0 876.5L725.1 877.4L727.3 877.5L729.5 875.8L731.6 875.1L733.8 875.1L736.0 874.1L738.1 875.3L740.3 874.7L742.4 872.6L744.6 872.1L746.8 873.9L748.9 872.6L751.1 871.3L753.3 873.2L755.4 874.4L757.6 877.3L759.8 873.0L761.9 873.9L764.1 874.6L766.3 875.4L768.4 876.2L770.6 874.7L772.7 875.0L774.9 873.8L777.1 876.5L779.2 872.3L781.4 873.2L783.6 871.6L785.7 875.1L787.9 874.4L790.1 874.2L792.2 876.2L794.4 878.8L796.6 877.1L798.7 875.9L800.9 878.2L803.1 878.5L805.2 875.9L807.4 877.7L809.5 875.6L811.7 879.1L813.9 880.4L816.0 878.9L818.2 875.4L820.4 878.9L822.5 877.8L824.7 877.8L826.9 879.8L829.0 877.5L831.2 879.2L833.4 879.2L835.5 882.9L837.7 883.4L839.8 884.3L842.0 881.0L844.2 880.7L846.3 878.8L848.5 877.9L850.7 881.1L852.8 881.8L855.0 881.4L857.2 880.0L859.3 884.0L861.5 881.5L863.7 883.2L865.8 883.7L868.0 882.4L870.2 884.4L872.3 885.1L874.5 883.3L876.6 885.9L878.8 887.0L881.0 887.1L883.1 886.2L885.3 888.1L887.5 886.8L889.6 888.2L891.8 887.0L894.0 887.9L896.1 888.7L898.3 890.7L900.5 891.0L902.6 893.1L904.8 889.7L906.9 894.1L909.1 893.2L911.3 891.8L913.4 897.4L915.6 897.4L917.8 897.9L919.9 899.1L922.1 900.1L924.3 899.7L926.4 898.1L928.6 900.3L930.8 901.8L932.9 902.6L935.1 905.9L937.2 902.2L939.4 902.3L941.6 904.9L943.7 903.5L945.9 905.8L948.1 908.5L950.2 910.4L952.4 910.3L954.6 911.4L956.7 909.8L958.9 911.4L961.1 912.3L963.2 913.7L965.4 914.7L967.6 910.9L969.7 919.3L971.9 915.0L974.0 918.3L976.2 920.5L978.4 922.3L980.5 921.6L982.7 922.5L984.9 923.0L987.0 922.1L989.2 926.9L991.4 924.3L993.5 924.2L995.7 930.3L997.9 928.3L1000.0 925.5L1002.2 926.6L1004.3 927.9L1006.5 929.5L1008.7 931.3L1010.8 932.3L1013.0 931.9L1015.2 935.8L1017.3 935.7L1019.5 941.3L1021.7 939.6L1023.8 942.2L1026.0 937.8L1028.2 937.3L1030.3 941.1L1032.5 945.6L1034.7 943.4L1036.8 943.5L1039.0 943.8L1041.1 943.7L1043.3 946.4L1045.5 953.4L1047.6 946.9L1049.8 950.0L1052.0 951.1L1054.1 948.1L1056.3 952.7L1058.5 955.3L1060.6 956.8L1062.8 955.5L1065.0 955.4L1067.1 954.0L1069.3 956.6L1071.4 956.6L1073.6 952.5L1075.8 956.4L1077.9 953.1L1080.1 956.4L1082.3 958.1L1084.4 960.2L1086.6 960.3L1088.8 962.9L1090.9 963.4L1093.1 962.1L1095.3 962.8L1097.4 961.9L1099.6 963.9L1101.8 965.6L1103.9 965.9L1106.1 966.2L1108.2 962.8L1110.4 966.8L1112.6 968.0L1114.7 967.4L1116.9 966.1L1119.1 969.7L1121.2 971.2L1123.4 972.5L1125.6 971.5L1127.7 971.3L1129.9 972.1L1132.1 977.6L1134.2 978.0L1136.4 981.2L1138.5 975.5L1140.7 974.3L1142.9 972.9L1145.0 974.0L1147.2 972.2L1149.4 975.2L1151.5 976.2L1153.7 979.7L1155.9 978.9L1158.0 978.2L1160.2 974.5L1162.4 972.5L1164.5 978.2L1166.7 976.8L1168.9 976.6L1171.0 977.1L1173.2 979.1L1175.3 977.1L1177.5 979.2L1179.7 977.4L1181.8 978.9L1184.0 979.8L1186.2 981.1L1188.3 979.7L1190.5 982.6L1192.7 977.0L1194.8 982.2L1197.0 977.6L1199.2 977.0L1201.3 979.6L1203.5 981.5L1205.6 976.5L1207.8 979.3L1210.0 976.1L1212.1 976.6L1214.3 979.1L1216.5 979.4L1218.6 976.1L1220.8 975.4L1223.0 976.6L1225.1 973.2L1227.3 972.6L1229.5 973.4L1231.6 973.6L1233.8 974.0L1236.0 974.1L1238.1 976.0L1240.3 976.7L1242.4 970.1L1244.6 973.5L1246.8 972.0L1248.9 975.6L1251.1 970.5L1253.3 970.8L1255.4 963.4L1257.6 972.0L1259.8 972.5L1261.9 966.9L1264.1 965.3L1266.3 972.6L1268.4 966.8L1270.6 964.6L1272.7 968.7L1274.9 961.8L1277.1 963.5L1279.2 964.0L1281.4 962.8L1283.6 962.5L1285.7 963.8L1287.9 952.7L1290.1 958.0L1292.2 957.7L1294.4 953.1L1296.6 955.0L1298.7 949.8L1300.9 953.0L1303.1 951.1L1305.2 951.7L1307.4 951.8L1309.5 952.0L1311.7 950.8L1313.9 942.9L1316.0 945.8L1318.2 943.5L1320.4 942.4L1322.5 939.6L1324.7 938.3L1326.9 935.1L1329.0 939.9L1331.2 934.5L1333.4 935.5L1335.5 934.3L1337.7 932.7L1339.8 936.5L1342.0 930.1L1344.2 928.4L1346.3 930.6L1348.5 923.6L1350.7 916.6L1352.8 920.1L1355.0 916.1L1357.2 918.0L1359.3 920.2L1361.5 920.8L1363.7 917.6L1365.8 910.9L1368.0 909.5L1370.1 910.2L1372.3 902.4L1374.5 904.1L1376.6 904.9L1378.8 901.5L1381.0 904.1L1383.1 902.9L1385.3 890.3L1387.5 897.0L1389.6 888.7L1391.8 892.5L1394.0 885.2L1396.1 882.8L1398.3 882.1L1400.5 886.4L1402.6 879.3L1404.8 878.6L1406.9 879.9L1409.1 874.3L1411.3 867.1L1413.4 868.5L1415.6 864.1L1417.8 867.6L1419.9 862.0L1422.1 858.9L1424.3 852.0L1426.4 855.7L1428.6 856.6L1430.8 851.6L1432.9 855.4L1435.1 844.6L1437.2 846.3L1439.4 844.8L1441.6 838.3L1443.7 839.9L1445.9 833.9L1448.1 840.2L1450.2 832.1L1452.4 832.7L1454.6 828.8L1456.7 831.1L1458.9 819.1L1461.1 820.0L1463.2 821.6L1465.4 819.3L1467.6 814.5L1469.7 804.9L1471.9 809.4L1474.0 808.5L1476.2 803.6L1478.4 801.4L1480.5 797.3L1482.7 791.2L1484.9 788.7L1487.0 782.9L1489.2 788.2L1491.4 783.3L1493.5 784.1L1495.7 780.4L1497.9 778.4L1500.0 777.9L1502.2 774.7L1504.3 768.0L1506.5 772.4L1508.7 773.7L1510.8 763.0L1513.0 757.4L1515.2 758.6L1517.3 755.5L1519.5 757.4L1521.7 752.1L1523.8 744.5L1526.0 742.4L1528.2 742.1L1530.3 741.4L1532.5 744.9L1534.7 735.9L1536.8 732.6L1539.0 727.1L1541.1 719.2L1543.3 722.1L1545.5 718.2L1547.6 726.3L1549.8 716.4L1552.0 716.5L1554.1 712.0L1556.3 711.5L1558.5 707.2L1560.6 699.0L1562.8 704.9L1565.0 697.8L1567.1 693.9L1569.3 699.5L1571.4 699.9L1573.6 690.8L1575.8 688.9L1577.9 683.4L1580.1 681.5L1582.3 685.3L1584.4 677.8L1586.6 670.3L1588.8 674.8L1590.9 671.7L1593.1 673.0L1595.3 660.8L1597.4 654.9L1599.6 668.2L1601.8 657.3L1603.9 652.4L1606.1 655.0L1608.2 650.8L1610.4 652.1L1612.6 648.4L1614.7 643.1L1616.9 639.5L1619.1 640.3L1621.2 635.0L1623.4 635.3L1625.6 639.2L1627.7 625.3L1629.9 624.4L1632.1 630.9L1634.2 615.0L1636.4 616.7L1638.5 613.3L1640.7 602.6L1642.9 619.1L1645.0 614.5L1647.2 602.3L1649.4 606.5L1651.5 610.4L1653.7 598.5L1655.9 602.2L1658.0 606.3L1660.2 598.5L1662.4 586.1L1664.5 577.4L1666.7 593.6L1668.9 581.0L1671.0 583.1L1673.2 587.7L1675.3 578.6L1677.5 582.6L1679.7 572.8L1681.8 558.0L1684.0 561.8L1686.2 561.6L1688.3 561.8L1690.5 559.5L1692.7 551.2L1694.8 557.4L1697.0 550.5L1699.2 543.6L1701.3 553.3L1703.5 552.4L1705.6 542.3L1707.8 535.4L1710.0 543.1L1712.1 543.0L1714.3 537.6L1716.5 539.9L1718.6 543.5L1720.8 534.9L1723.0 533.0L1725.1 532.8L1727.3 515.6L1729.5 515.0L1731.6 514.8L1733.8 512.9L1736.0 505.5L1738.1 509.1L1740.3 515.9L1742.4 508.7L1744.6 508.9L1746.8 511.1L1748.9 505.5L1751.1 503.0L1753.3 503.3L1755.4 502.5L1757.6 495.2L1759.8 504.7L1761.9 488.8L1764.1 488.1L1766.3 485.4L1768.4 500.1L1770.6 478.8L1772.7 495.9L1774.9 485.0L1777.1 472.0L1779.2 474.4L1781.4 474.1L1783.6 482.8L1785.7 472.2L1787.9 464.6L1790.1 459.2L1792.2 462.4L1794.4 458.7L1796.6 457.0L1798.7 460.8L1800.9 459.5L1803.0 442.5L1805.2 460.3L1807.4 448.4L1809.5 454.9L1811.7 442.7L1813.9 448.7L1816.0 433.8L1818.2 430.4L1820.4 433.5L1822.5 434.1L1824.7 440.9L1826.9 434.7L1829.0 430.8L1831.2 419.3L1833.4 421.8L1835.5 430.7L1837.7 428.6L1839.8 429.7L1842.0 433.0L1844.2 412.9L1846.3 412.0L1848.5 405.5L1850.7 415.0L1852.8 411.3L1855.0 400.9L1857.2 414.3L1859.3 403.0L1861.5 404.0L1863.7 404.4L1865.8 399.7L1868.0 406.7L1870.1 401.6L1872.3 412.1L1874.5 413.1L1876.6 395.3L1878.8 404.6L1881.0 407.4L1883.1 382.9L1885.3 389.8L1887.5 398.7L1889.6 383.6L1891.8 380.1L1894.0 384.1L1896.1 377.5L1898.3 387.5L1900.5 381.5L1902.6 390.8L1904.8 383.1L1906.9 375.8L1909.1 380.5L1911.3 381.0L1913.4 391.4L1915.6 379.9L1917.8 386.4L1919.9 373.1L1922.1 382.9L1924.3 372.9L1926.4 381.5L1928.6 360.3L1930.8 380.7L1932.9 368.4L1935.1 354.7L1937.2 364.7L1939.4 372.5L1941.6 360.5L1943.7 357.9L1945.9 356.1L1948.1 373.3L1950.2 356.1L1952.4 369.9L1954.6 342.6L1956.7 354.4L1958.9 359.4L1961.1 352.7L1963.2 356.2L1965.4 368.6L1967.6 347.0L1969.7 357.0L1971.9 364.3L1974.0 344.3L1976.2 345.2L1978.4 348.7L1980.5 354.9L1982.7 361.8L1984.9 345.5L1987.0 333.2L1989.2 340.7L1991.4 337.9L1993.5 358.2L1995.7 344.0L1997.9 342.1L2000.0 358.6L2002.2 361.8L2004.3 357.6L2006.5 349.9L2008.7 345.0L2010.8 347.0L2013.0 347.4L2015.2 349.3L2017.3 349.4L2019.5 345.6L2021.7 344.9L2023.8 348.0L2026.0 342.7L2028.2 345.6L2030.3 333.8L2032.5 345.9L2034.7 330.1L2036.8 344.2L2039.0 339.8L2041.1 347.9L2043.3 343.1L2045.5 338.2L2047.6 338.3L2049.8 345.5L2052.0 351.0L2054.1 341.6L2056.3 338.0L2058.5 332.7L2060.6 323.0L2062.8 337.9L2065.0 353.8L2067.1 337.0L2069.3 353.7L2071.4 349.5L2073.6 329.7L2075.8 336.4L2077.9 347.9L2080.1 346.3L2082.3 338.4L2084.4 355.8L2086.6 333.6L2088.8 339.5L2090.9 314.3L2093.1 341.4L2095.3 323.2L2097.4 341.5L2099.6 325.7L2101.8 346.6L2103.9 329.6L2106.1 341.9L2108.2 344.6L2110.4 337.0L2112.6 328.8L2114.7 325.8L2116.9 314.1L2119.1 323.8L2121.2 361.4L2123.4 343.1L2125.6 357.2L2127.7 338.3L2129.9 328.4L2132.1 352.1L2134.2 349.6L2136.4 334.6L2138.5 337.2L2140.7 320.5L2142.9 337.0L2145.0 336.6L2147.2 324.3L2149.4 346.2L2151.5 339.1L2153.7 349.3L2155.9 333.9L2158.0 323.5L2160.2 313.6L2162.4 328.6L2164.5 340.8L2166.7 350.7L2168.9 361.0L2171.0 341.5L2173.2 320.4L2175.3 351.9L2177.5 350.1L2179.7 314.1L2181.8 346.5L2184.0 325.7L2186.2 343.0L2188.3 323.3L2190.5 327.8L2192.7 338.3L2194.8 332.8L2197.0 340.2L2199.2 335.0L2201.3 324.2L2203.5 335.8L2205.6 353.0L2207.8 353.7L2210.0 341.6L2212.1 339.0L2214.3 333.4L2216.5 344.1L2218.6 333.5L2220.8 340.8L2223.0 334.9L2225.1 339.0L2227.3 332.6L2229.5 351.7L2231.6 319.1L2233.8 332.9L2235.9 335.3L2238.1 336.8L2240.3 331.6L2242.4 333.5L2244.6 335.6" stroke="#FF80E8" stroke-width="8"/>
<path d="M381.0 1207.9L383.1 1202.4L385.3 1196.7L387.5 1190.9L389.6 1185.0L391.8 1178.9L394.0 1172.8L396.1 1166.7L398.3 1160.6L400.5 1154.5L402.6 1148.4L404.8 1142.4L406.9 1136.5L409.1 1130.5L411.3 1124.7L413.4 1119.0L415.6 1113.4L417.8 1108.1L419.9 1103.0L422.1 1098.2L424.3 1093.7L426.4 1089.6L428.6 1085.7L430.8 1082.2L432.9 1078.8L435.1 1075.6L437.3 1072.4L439.4 1069.3L441.6 1066.4L443.7 1063.3L445.9 1060.5L448.1 1057.5L450.2 1054.5L452.4 1051.7L454.6 1048.7L456.7 1045.9L458.9 1042.8L461.1 1039.7L463.2 1036.7L465.4 1033.6L467.6 1030.5L469.7 1027.5L471.9 1024.6L474.0 1021.5L476.2 1018.5L478.4 1015.2L480.5 1012.0L482.7 1008.8L484.9 1005.6L487.0 1002.7L489.2 999.7L491.4 996.8L493.5 993.9L495.7 991.1L497.9 988.4L500.0 985.8L502.2 983.2L504.3 980.8L506.5 978.3L508.7 976.1L510.8 973.7L513.0 971.3L515.2 969.2L517.3 966.7L519.5 964.8L521.7 962.6L523.8 960.8L526.0 959.3L528.2 957.7L530.3 956.4L532.5 955.1L534.7 953.4L536.8 952.0L539.0 950.7L541.1 949.0L543.3 947.5L545.5 946.0L547.6 944.5L549.8 943.2L552.0 942.0L554.1 940.5L556.3 939.0L558.5 938.0L560.6 935.9L562.8 934.5L565.0 933.3L567.1 932.0L569.3 929.9L571.4 929.0L573.6 927.6L575.8 926.1L577.9 924.9L580.1 923.7L582.3 922.0L584.4 921.0L586.6 919.1L588.8 918.5L590.9 916.5L593.1 915.1L595.3 914.5L597.4 912.0L599.6 911.9L601.8 909.9L603.9 909.3L606.1 907.8L608.2 907.1L610.4 905.0L612.6 904.6L614.7 903.4L616.9 902.9L619.1 902.1L621.2 901.4L623.4 900.7L625.6 899.1L627.7 898.5L629.9 898.1L632.1 898.5L634.2 897.6L636.4 896.3L638.5 896.0L640.7 894.7L642.9 894.3L645.0 894.3L647.2 893.5L649.4 892.8L651.5 891.8L653.7 891.2L655.9 889.6L658.0 890.5L660.2 890.6L662.4 888.2L664.5 888.3L666.7 887.6L668.9 885.5L671.0 885.6L673.2 885.9L675.3 885.4L677.5 885.8L679.7 884.8L681.8 885.6L684.0 885.6L686.2 885.3L688.3 883.6L690.5 883.1L692.7 884.4L694.8 882.5L697.0 883.8L699.2 882.9L701.3 883.9L703.5 882.2L705.6 882.6L707.8 882.6L710.0 882.1L712.1 882.1L714.3 882.8L716.5 884.0L718.6 880.7L720.8 882.8L723.0 883.9L725.1 884.3L727.3 884.6L729.5 883.2L731.6 881.1L733.8 884.6L736.0 882.8L738.1 883.9L740.3 879.6L742.4 880.1L744.6 880.4L746.8 879.5L748.9 879.3L751.1 880.0L753.3 881.8L755.4 882.5L757.6 882.2L759.8 883.2L761.9 878.7L764.1 881.1L766.3 881.2L768.4 881.5L770.6 879.6L772.7 883.0L774.9 880.4L777.1 881.4L779.2 882.1L781.4 885.3L783.6 882.0L785.7 884.6L787.9 883.4L790.1 881.9L792.2 881.8L794.4 880.8L796.6 883.8L798.7 882.8L800.9 883.0L803.1 883.5L805.2 882.6L807.4 883.7L809.5 881.3L811.7 884.3L813.9 885.5L816.0 884.4L818.2 883.6L820.4 886.9L822.5 886.6L824.7 884.8L826.9 883.8L829.0 884.9L831.2 885.5L833.4 888.8L835.5 884.0L837.7 885.5L839.8 888.3L842.0 885.7L844.2 887.6L846.3 886.4L848.5 890.4L850.7 886.1L852.8 889.0L855.0 892.6L857.2 888.3L859.3 889.7L861.5 890.7L863.7 890.0L865.8 893.6L868.0 890.5L870.2 892.0L872.3 892.3L874.5 890.2L876.6 892.8L878.8 894.3L881.0 894.7L883.1 893.8L885.3 892.2L887.5 895.0L889.6 895.6L891.8 892.7L894.0 894.9L896.1 896.2L898.3 893.8L900.5 900.5L902.6 898.8L904.8 902.6L906.9 900.3L909.1 899.2L911.3 898.7L913.4 903.7L915.6 901.4L917.8 903.0L919.9 905.9L922.1 903.0L924.3 907.3L926.4 909.2L928.6 907.8L930.8 912.2L932.9 906.5L935.1 907.1L937.2 909.8L939.4 908.5L941.6 909.8L943.7 908.0L945.9 913.1L948.1 915.2L950.2 917.8L952.4 916.4L954.6 919.8L956.7 918.1L958.9 916.8L961.1 918.0L963.2 918.5L965.4 915.0L967.6 918.5L969.7 918.4L971.9 917.5L974.0 922.4L976.2 922.5L978.4 917.7L980.5 922.7L982.7 925.9L984.9 925.7L987.0 927.7L989.2 930.2L991.4 929.9L993.5 929.4L995.7 930.2L997.9 930.4L1000.0 936.4L1002.2 937.1L1004.3 933.3L1006.5 936.4L1008.7 934.8L1010.8 937.9L1013.0 942.4L1015.2 939.0L1017.3 942.2L1019.5 939.6L1021.7 938.9L1023.8 938.9L1026.0 944.4L1028.2 942.6L1030.3 942.7L1032.5 942.5L1034.7 949.8L1036.8 948.7L1039.0 948.2L1041.1 948.5L1043.3 951.0L1045.5 949.7L1047.6 951.1L1049.8 954.2L1052.0 954.6L1054.1 954.5L1056.3 953.3L1058.5 951.2L1060.6 951.2L1062.8 956.8L1065.0 960.0L1067.1 961.1L1069.3 958.2L1071.4 959.7L1073.6 959.8L1075.8 959.9L1077.9 961.1L1080.1 962.6L1082.3 964.8L1084.4 963.9L1086.6 962.9L1088.8 962.6L1090.9 964.8L1093.1 965.3L1095.3 962.6L1097.4 967.1L1099.6 967.0L1101.8 968.2L1103.9 969.7L1106.1 970.5L1108.2 969.5L1110.4 970.9L1112.6 968.7L1114.7 973.3L1116.9 972.2L1119.1 970.9L1121.2 973.7L1123.4 973.8L1125.6 973.0L1127.7 978.3L1129.9 975.4L1132.1 977.6L1134.2 972.9L1136.4 976.3L1138.5 975.4L1140.7 974.3L1142.9 979.3L1145.0 978.5L1147.2 978.0L1149.4 980.5L1151.5 977.7L1153.7 978.1L1155.9 976.3L1158.0 977.7L1160.2 978.5L1162.4 978.9L1164.5 979.0L1166.7 981.9L1168.9 977.9L1171.0 977.4L1173.2 979.8L1175.3 980.7L1177.5 979.3L1179.7 978.6L1181.8 978.1L1184.0 974.2L1186.2 980.0L1188.3 977.3L1190.5 976.1L1192.7 976.6L1194.8 977.2L1197.0 980.7L1199.2 981.4L1201.3 979.3L1203.5 977.6L1205.6 981.8L1207.8 978.1L1210.0 975.9L1212.1 973.3L1214.3 974.6L1216.5 974.6L1218.6 974.4L1220.8 979.6L1223.0 977.7L1225.1 981.8L1227.3 981.8L1229.5 977.7L1231.6 978.9L1233.8 974.4L1236.0 973.5L1238.1 975.9L1240.3 974.5L1242.4 973.9L1244.6 974.1L1246.8 973.5L1248.9 974.0L1251.1 975.2L1253.3 974.5L1255.4 970.8L1257.6 965.8L1259.8 967.6L1261.9 962.3L1264.1 966.1L1266.3 963.0L1268.4 971.3L1270.6 970.9L1272.7 967.7L1274.9 966.9L1277.1 967.0L1279.2 959.4L1281.4 963.2L1283.6 961.9L1285.7 963.1L1287.9 956.5L1290.1 958.3L1292.2 959.7L1294.4 964.8L1296.6 957.6L1298.7 957.9L1300.9 954.6L1303.1 953.0L1305.2 956.4L1307.4 952.4L1309.5 949.4L1311.7 949.9L1313.9 950.5L1316.0 950.2L1318.2 947.2L1320.4 946.6L1322.5 940.0L1324.7 941.9L1326.9 944.4L1329.0 940.7L1331.2 943.4L1333.4 945.5L1335.5 934.2L1337.7 932.2L1339.8 937.4L1342.0 933.2L1344.2 929.9L1346.3 931.2L1348.5 932.7L1350.7 930.7L1352.8 928.0L1355.0 926.0L1357.2 920.5L1359.3 919.9L1361.5 920.6L1363.7 918.1L1365.8 921.1L1368.0 909.5L1370.1 915.8L1372.3 908.6L1374.5 905.0L1376.6 901.7L1378.8 899.2L1381.0 893.8L1383.1 900.2L1385.3 896.2L1387.5 894.4L1389.6 894.2L1391.8 891.6L1394.0 883.6L1396.1 887.9L1398.3 886.4L1400.5 884.1L1402.6 881.5L1404.8 876.9L1406.9 875.5L1409.1 871.5L1411.3 870.7L1413.4 867.9L1415.6 864.3L1417.8 869.9L1419.9 860.7L1422.1 864.3L1424.3 858.4L1426.4 857.0L1428.6 857.5L1430.8 861.4L1432.9 848.4L1435.1 854.1L1437.2 852.3L1439.4 844.7L1441.6 846.6L1443.7 838.3L1445.9 836.1L1448.1 835.3L1450.2 834.5L1452.4 831.0L1454.6 837.8L1456.7 830.6L1458.9 828.0L1461.1 826.0L1463.2 820.2L1465.4 823.4L1467.6 812.5L1469.7 807.4L1471.9 814.0L1474.0 807.2L1476.2 802.5L1478.4 804.9L1480.5 808.2L1482.7 805.6L1484.9 797.6L1487.0 793.1L1489.2 801.2L1491.4 793.4L1493.5 791.3L1495.7 785.4L1497.9 783.1L1500.0 784.2L1502.2 785.3L1504.3 771.0L1506.5 776.0L1508.7 773.5L1510.8 768.3L1513.0 770.7L1515.2 769.3L1517.3 762.5L1519.5 767.7L1521.7 757.8L1523.8 751.1L1526.0 747.8L1528.2 748.2L1530.3 745.9L1532.5 751.3L1534.7 741.5L1536.8 737.0L1539.0 731.5L1541.1 733.4L1543.3 733.0L1545.5 731.1L1547.6 723.5L1549.8 720.5L1552.0 715.0L1554.1 720.8L1556.3 721.8L1558.5 718.8L1560.6 715.3L1562.8 711.4L1565.0 717.0L1567.1 713.2L1569.3 708.5L1571.4 697.9L1573.6 698.4L1575.8 695.7L1577.9 689.2L1580.1 694.6L1582.3 681.9L1584.4 683.6L1586.6 686.1L1588.8 674.5L1590.9 683.1L1593.1 678.9L1595.3 671.4L1597.4 666.7L1599.6 669.0L1601.8 677.5L1603.9 666.7L1606.1 660.7L1608.2 645.4L1610.4 646.4L1612.6 649.4L1614.7 652.6L1616.9 643.1L1619.1 647.7L1621.2 638.3L1623.4 637.1L1625.6 640.2L1627.7 637.1L1629.9 635.9L1632.1 631.5L1634.2 617.6L1636.4 619.7L1638.5 623.8L1640.7 625.1L1642.9 618.2L1645.0 613.3L1647.2 608.3L1649.4 603.8L1651.5 606.3L1653.7 613.8L1655.9 598.1L1658.0 601.7L1660.2 600.7L1662.4 595.3L1664.5 606.1L1666.7 597.9L1668.9 595.1L1671.0 582.5L1673.2 589.7L1675.3 582.4L1677.5 571.8L1679.7 576.8L1681.8 582.6L1684.0 571.5L1686.2 585.8L1688.3 573.6L1690.5 574.3L1692.7 566.2L1694.8 567.8L1697.0 566.6L1699.2 557.1L1701.3 560.3L1703.5 547.9L1705.6 551.3L1707.8 544.3L1710.0 550.8L1712.1 552.8L1714.3 547.5L1716.5 541.8L1718.6 554.7L1720.8 539.8L1723.0 534.5L1725.1 542.2L1727.3 535.1L1729.5 523.5L1731.6 530.1L1733.8 527.1L1736.0 512.8L1738.1 525.1L1740.3 526.0L1742.4 532.9L1744.6 523.8L1746.8 520.7L1748.9 504.8L1751.1 510.4L1753.3 522.3L1755.4 502.9L1757.6 506.2L1759.8 503.8L1761.9 492.5L1764.1 490.0L1766.3 494.7L1768.4 500.2L1770.6 496.7L1772.7 493.1L1774.9 493.7L1777.1 493.5L1779.2 480.1L1781.4 489.1L1783.6 474.7L1785.7 480.3L1787.9 475.5L1790.1 481.5L1792.2 473.2L1794.4 475.1L1796.6 477.8L1798.7 465.7L1800.9 461.7L1803.0 455.7L1805.2 460.1L1807.4 470.5L1809.5 467.5L1811.7 473.2L1813.9 464.0L1816.0 448.8L1818.2 447.2L1820.4 449.9L1822.5 449.9L1824.7 445.1L1826.9 443.1L1829.0 452.7L1831.2 447.0L1833.4 430.7L1835.5 430.2L1837.7 430.7L1839.8 433.3L1842.0 430.0L1844.2 429.3L1846.3 429.5L1848.5 436.2L1850.7 424.7L1852.8 427.5L1855.0 422.8L1857.2 409.2L1859.3 416.7L1861.5 425.7L1863.7 415.4L1865.8 423.0L1868.0 402.5L1870.1 404.2L1872.3 408.0L1874.5 403.1L1876.6 398.0L1878.8 405.3L1881.0 407.6L1883.1 386.9L1885.3 402.1L1887.5 390.9L1889.6 401.1L1891.8 389.7L1894.0 393.6L1896.1 384.4L1898.3 390.5L1900.5 395.9L1902.6 381.5L1904.8 389.3L1906.9 401.1L1909.1 387.4L1911.3 391.0L1913.4 392.4L1915.6 389.4L1917.8 386.4L1919.9 385.5L1922.1 392.6L1924.3 404.7L1926.4 395.7L1928.6 385.4L1930.8 393.5L1932.9 376.1L1935.1 371.7L1937.2 376.6L1939.4 368.0L1941.6 373.7L1943.7 370.0L1945.9 378.1L1948.1 371.9L1950.2 370.1L1952.4 383.4L1954.6 369.7L1956.7 390.1L1958.9 380.5L1961.1 379.3L1963.2 358.5L1965.4 373.8L1967.6 363.3L1969.7 379.7L1971.9 359.7L1974.0 354.4L1976.2 358.3L1978.4 373.7L1980.5 357.0L1982.7 355.1L1984.9 355.3L1987.0 362.2L1989.2 373.7L1991.4 356.0L1993.5 345.6L1995.7 355.5L1997.9 348.4L2000.0 356.7L2002.2 353.3L2004.3 349.8L2006.5 362.7L2008.7 344.9L2010.8 360.5L2013.0 357.8L2015.2 365.0L2017.3 358.7L2019.5 361.2L2021.7 367.7L2023.8 366.8L2026.0 353.4L2028.2 357.2L2030.3 374.1L2032.5 368.6L2034.7 350.3L2036.8 343.7L2039.0 336.4L2041.1 351.9L2043.3 338.2L2045.5 347.1L2047.6 348.1L2049.8 344.0L2052.0 334.2L2054.1 339.0L2056.3 335.2L2058.5 348.6L2060.6 342.8L2062.8 350.5L2065.0 343.4L2067.1 342.9L2069.3 344.9L2071.4 337.4L2073.6 342.9L2075.8 340.4L2077.9 343.3L2080.1 330.4L2082.3 338.5L2084.4 332.7L2086.6 338.7L2088.8 336.0L2090.9 341.8L2093.1 353.4L2095.3 357.4L2097.4 324.5L2099.6 341.9L2101.8 340.2L2103.9 347.1L2106.1 349.0L2108.2 320.4L2110.4 351.2L2112.6 339.6L2114.7 341.5L2116.9 350.7L2119.1 350.0L2121.2 342.6L2123.4 343.5L2125.6 346.4L2127.7 331.8L2129.9 348.2L2132.1 330.8L2134.2 322.1L2136.4 333.1L2138.5 359.8L2140.7 371.2L2142.9 336.7L2145.0 336.8L2147.2 348.3L2149.4 328.5L2151.5 346.4L2153.7 341.3L2155.9 356.3L2158.0 343.0L2160.2 350.8L2162.4 347.7L2164.5 327.6L2166.7 334.8L2168.9 354.9L2171.0 333.9L2173.2 330.9L2175.3 345.0L2177.5 339.3L2179.7 335.1L2181.8 341.7L2184.0 338.7L2186.2 336.8L2188.3 348.0L2190.5 323.2L2192.7 353.9L2194.8 356.4L2197.0 330.1L2199.2 324.8L2201.3 344.3L2203.5 344.4L2205.6 355.2L2207.8 332.9L2210.0 344.5L2212.1 354.0L2214.3 337.0L2216.5 324.6L2218.6 332.0L2220.8 319.2L2223.0 332.4L2225.1 343.1L2227.3 350.8L2229.5 345.9L2231.6 337.5L2233.8 337.7L2235.9 335.6L2238.1 344.9L2240.3 341.9L2242.4 338.2L2244.6 355.5" stroke="#FF3CDC" stroke-width="8"/>
<path d="M381.0 1194.5L383.1 1188.6L385.3 1182.7L387.5 1176.7L389.6 1170.8L391.8 1164.8L394.0 1158.8L396.1 1152.8L398.3 1146.9L400.5 1141.1L402.6 1135.3L404.8 1129.7L406.9 1124.1L409.1 1118.6L411.3 1113.2L413.4 1107.8L415.6 1102.6L417.8 1097.6L419.9 1092.9L422.1 1088.3L424.3 1084.0L426.4 1080.0L428.6 1076.2L430.8 1072.7L432.9 1069.4L435.1 1066.2L437.3 1063.1L439.4 1060.1L441.6 1057.2L443.7 1054.3L445.9 1051.4L448.1 1048.6L450.2 1045.7L452.4 1043.0L454.6 1040.0L456.7 1037.2L458.9 1034.4L461.1 1031.4L463.2 1028.4L465.4 1025.4L467.6 1022.4L469.7 1019.6L471.9 1016.6L474.0 1013.8L476.2 1011.0L478.4 1008.0L480.5 1005.1L482.7 1002.1L484.9 999.3L487.0 996.5L489.2 993.8L491.4 991.2L493.5 988.7L495.7 986.0L497.9 983.7L500.0 981.4L502.2 979.1L504.3 976.9L506.5 974.7L508.7 972.6L510.8 970.4L513.0 968.3L515.2 966.4L517.3 964.6L519.5 962.9L521.7 961.2L523.8 959.7L526.0 957.9L528.2 956.5L530.3 955.1L532.5 953.4L534.7 952.4L536.8 950.6L539.0 949.3L541.1 947.9L543.3 946.8L545.5 944.7L547.6 943.8L549.8 942.6L552.0 941.0L554.1 940.0L556.3 938.8L558.5 937.2L560.6 936.3L562.8 934.6L565.0 933.4L567.1 931.9L569.3 931.3L571.4 929.3L573.6 928.1L575.8 926.3L577.9 925.9L580.1 924.0L582.3 923.2L584.4 921.9L586.6 921.2L588.8 919.6L590.9 918.5L593.1 917.9L595.3 917.1L597.4 916.0L599.6 914.2L601.8 913.7L603.9 912.3L606.1 911.6L608.2 910.6L610.4 909.6L612.6 909.0L614.7 907.5L616.9 907.2L619.1 906.6L621.2 906.7L623.4 905.3L625.6 905.1L627.7 904.4L629.9 903.0L632.1 903.6L634.2 902.4L636.4 901.1L638.5 899.9L640.7 900.0L642.9 898.8L645.0 898.4L647.2 898.9L649.4 899.2L651.5 898.6L653.7 896.4L655.9 896.2L658.0 896.6L660.2 895.9L662.4 895.3L664.5 894.9L666.7 894.3L668.9 892.3L671.0 893.9L673.2 892.7L675.3 892.9L677.5 892.7L679.7 893.1L681.8 892.7L684.0 892.8L686.2 891.8L688.3 891.9L690.5 892.9L692.7 890.4L694.8 892.9L697.0 891.1L699.2 889.1L701.3 891.3L703.5 888.9L705.6 888.7L707.8 889.9L710.0 892.3L712.1 888.8L714.3 889.6L716.5 889.8L718.6 888.0L720.8 890.6L723.0 889.1L725.1 890.9L727.3 889.0L729.5 890.3L731.6 889.1L733.8 889.6L736.0 889.2L738.1 888.1L740.3 889.0L742.4 888.7L744.6 887.4L746.8 888.6L748.9 890.4L751.1 888.5L753.3 888.4L755.4 887.4L757.6 887.0L759.8 886.3L761.9 887.3L764.1 886.2L766.3 889.8L768.4 887.2L770.6 888.5L772.7 888.4L774.9 889.2L777.1 888.8L779.2 889.7L781.4 888.3L783.6 891.2L785.7 888.3L787.9 889.3L790.1 887.2L792.2 890.4L794.4 890.5L796.6 890.7L798.7 891.2L800.9 892.0L803.1 893.0L805.2 892.5L807.4 891.1L809.5 891.2L811.7 893.1L813.9 893.8L816.0 892.3L818.2 891.0L820.4 892.4L822.5 892.6L824.7 892.4L826.9 893.2L829.0 893.9L831.2 893.8L833.4 895.3L835.5 894.0L837.7 892.1L839.8 894.8L842.0 891.9L844.2 893.1L846.3 897.3L848.5 895.6L850.7 898.8L852.8 897.2L855.0 896.0L857.2 895.5L859.3 896.4L861.5 897.6L863.7 893.3L865.8 895.8L868.0 896.7L870.2 897.2L872.3 899.2L874.5 900.0L876.6 900.6L878.8 902.5L881.0 898.1L883.1 902.5L885.3 904.6L887.5 903.8L889.6 906.0L891.8 900.2L894.0 902.8L896.1 900.6L898.3 901.1L900.5 903.5L902.6 904.5L904.8 906.8L906.9 905.9L909.1 907.4L911.3 907.6L913.4 909.6L915.6 906.7L917.8 907.6L919.9 909.9L922.1 913.2L924.3 910.3L926.4 910.4L928.6 913.0L930.8 915.1L932.9 912.5L935.1 911.3L937.2 916.9L939.4 913.4L941.6 918.5L943.7 916.2L945.9 914.1L948.1 918.2L950.2 919.4L952.4 922.1L954.6 921.8L956.7 917.5L958.9 919.2L961.1 923.1L963.2 924.1L965.4 924.4L967.6 921.7L969.7 926.9L971.9 926.0L974.0 929.0L976.2 930.8L978.4 926.7L980.5 930.6L982.7 932.5L984.9 932.8L987.0 931.8L989.2 932.4L991.4 935.1L993.5 931.5L995.7 933.1L997.9 932.1L1000.0 935.6L1002.2 936.4L1004.3 938.8L1006.5 937.7L1008.7 939.2L1010.8 940.7L1013.0 943.9L1015.2 945.7L1017.3 945.4L1019.5 945.8L1021.7 946.6L1023.8 949.6L1026.0 945.0L1028.2 948.1L1030.3 952.6L1032.5 951.5L1034.7 952.6L1036.8 950.2L1039.0 949.4L1041.1 954.4L1043.3 952.0L1045.5 954.3L1047.6 952.0L1049.8 952.7L1052.0 955.9L1054.1 955.9L1056.3 957.6L1058.5 958.6L1060.6 960.8L1062.8 958.8L1065.0 959.8L1067.1 960.5L1069.3 959.5L1071.4 960.1L1073.6 962.1L1075.8 962.4L1077.9 960.4L1080.1 964.7L1082.3 962.2L1084.4 967.5L1086.6 968.0L1088.8 965.4L1090.9 965.2L1093.1 969.2L1095.3 967.4L1097.4 966.8L1099.6 967.1L1101.8 970.3L1103.9 971.4L1106.1 974.0L1108.2 969.9L1110.4 968.8L1112.6 967.6L1114.7 974.3L1116.9 974.5L1119.1 975.7L1121.2 972.6L1123.4 980.0L1125.6 978.6L1127.7 972.5L1129.9 976.2L1132.1 980.7L1134.2 978.6L1136.4 976.5L1138.5 977.6L1140.7 979.8L1142.9 982.3L1145.0 979.6L1147.2 981.7L1149.4 978.9L1151.5 978.8L1153.7 979.9L1155.9 976.0L1158.0 979.6L1160.2 977.0L1162.4 978.9L1164.5 978.4L1166.7 978.4L1168.9 979.7L1171.0 978.5L1173.2 977.3L1175.3 975.6L1177.5 975.3L1179.7 977.3L1181.8 973.3L1184.0 975.6L1186.2 973.5L1188.3 981.3L1190.5 975.2L1192.7 978.9L1194.8 974.3L1197.0 978.1L1199.2 975.8L1201.3 978.2L1203.5 981.8L1205.6 979.8L1207.8 979.6L1210.0 979.2L1212.1 983.7L1214.3 980.3L1216.5 979.6L1218.6 979.0L1220.8 978.7L1223.0 981.2L1225.1 983.4L1227.3 979.2L1229.5 979.9L1231.6 975.4L1233.8 977.0L1236.0 973.2L1238.1 976.3L1240.3 973.6L1242.4 974.7L1244.6 974.5L1246.8 977.7L1248.9 974.8L1251.1 975.4L1253.3 973.3L1255.4 970.9L1257.6 966.7L1259.8 971.2L1261.9 969.4L1264.1 970.5L1266.3 967.7L1268.4 968.1L1270.6 965.7L1272.7 966.0L1274.9 961.1L1277.1 962.6L1279.2 970.6L1281.4 964.9L1283.6 964.9L1285.7 968.7L1287.9 964.5L1290.1 962.6L1292.2 963.6L1294.4 960.4L1296.6 964.4L1298.7 956.9L1300.9 956.6L1303.1 957.2L1305.2 959.0L1307.4 957.2L1309.5 957.3L1311.7 949.8L1313.9 948.5L1316.0 942.6L1318.2 948.1L1320.4 943.2L1322.5 947.8L1324.7 946.0L1326.9 948.2L1329.0 943.5L1331.2 944.3L1333.4 939.1L1335.5 934.3L1337.7 936.2L1339.8 934.4L1342.0 932.0L1344.2 934.7L1346.3 936.1L1348.5 932.6L1350.7 929.6L1352.8 926.3L1355.0 923.3L1357.2 926.0L1359.3 921.3L1361.5 919.2L1363.7 923.2L1365.8 919.2L1368.0 919.6L1370.1 914.8L1372.3 907.7L1374.5 909.4L1376.6 909.1L1378.8 901.2L1381.0 898.5L1383.1 893.8L1385.3 899.4L1387.5 896.8L1389.6 891.9L1391.8 894.6L1394.0 885.7L1396.1 896.5L1398.3 893.1L1400.5 893.3L1402.6 887.3L1404.8 879.2L1406.9 877.9L1409.1 875.6L1411.3 875.6L1413.4 881.8L1415.6 871.7L1417.8 875.7L1419.9 868.6L1422.1 866.1L1424.3 865.1L1426.4 861.8L1428.6 865.4L1430.8 856.0L1432.9 857.2L1435.1 852.6L1437.2 850.5L1439.4 845.7L1441.6 845.2L1443.7 835.9L1445.9 844.5L1448.1 837.7L1450.2 837.7L1452.4 837.2L1454.6 835.0L1456.7 838.1L1458.9 830.4L1461.1 827.1L1463.2 824.8L1465.4 819.7L1467.6 824.0L1469.7 825.1L1471.9 817.1L1474.0 810.7L1476.2 799.0L1478.4 805.5L1480.5 801.0L1482.7 800.6L1484.9 795.5L1487.0 800.7L1489.2 796.6L1491.4 795.8L1493.5 795.7L1495.7 794.7L1497.9 793.1L1500.0 782.7L1502.2 783.3L1504.3 780.0L1506.5 776.4L1508.7 776.1L1510.8 773.4L1513.0 771.5L1515.2 766.6L1517.3 763.3L1519.5 770.5L1521.7 761.3L1523.8 753.0L1526.0 759.2L1528.2 753.5L1530.3 749.9L1532.5 744.0L1534.7 743.5L1536.8 744.9L1539.0 739.8L1541.1 734.4L1543.3 733.5L1545.5 725.0L1547.6 729.2L1549.8 733.8L1552.0 732.1L1554.1 728.3L1556.3 726.3L1558.5 718.8L1560.6 716.2L1562.8 707.8L1565.0 709.2L1567.1 703.2L1569.3 709.5L1571.4 705.0L1573.6 697.9L1575.8 698.5L1577.9 694.0L1580.1 693.3L1582.3 693.9L1584.4 682.3L1586.6 682.5L1588.8 692.2L1590.9 684.9L1593.1 680.2L1595.3 673.1L1597.4 673.1L1599.6 674.8L1601.8 663.5L1603.9 665.8L1606.1 657.3L1608.2 659.3L1610.4 655.6L1612.6 654.8L1614.7 653.5L1616.9 657.4L1619.1 650.6L1621.2 652.5L1623.4 658.6L1625.6 651.8L1627.7 650.0L1629.9 642.4L1632.1 637.9L1634.2 643.1L1636.4 632.8L1638.5 635.8L1640.7 638.2L1642.9 626.4L1645.0 628.5L1647.2 626.2L1649.4 613.1L1651.5 610.2L1653.7 614.7L1655.9 604.2L1658.0 602.3L1660.2 609.1L1662.4 597.9L1664.5 608.1L1666.7 605.5L1668.9 611.5L1671.0 593.5L1673.2 595.5L1675.3 590.9L1677.5 599.2L1679.7 584.4L1681.8 579.6L1684.0 575.5L1686.2 591.8L1688.3 574.4L1690.5 572.0L1692.7 582.2L1694.8 571.6L1697.0 565.9L1699.2 556.2L1701.3 566.3L1703.5 558.8L1705.6 559.0L1707.8 555.7L1710.0 561.1L1712.1 554.2L1714.3 553.5L1716.5 560.7L1718.6 542.7L1720.8 547.2L1723.0 541.9L1725.1 533.7L1727.3 537.0L1729.5 533.9L1731.6 530.9L1733.8 531.4L1736.0 533.8L1738.1 531.0L1740.3 516.8L1742.4 514.1L1744.6 515.4L1746.8 517.8L1748.9 510.2L1751.1 514.6L1753.3 520.9L1755.4 510.5L1757.6 506.9L1759.8 503.9L1761.9 511.2L1764.1 506.6L1766.3 496.0L1768.4 497.6L1770.6 495.6L1772.7 490.2L1774.9 492.8L1777.1 482.8L1779.2 490.9L1781.4 481.9L1783.6 484.9L1785.7 476.7L1787.9 486.6L1790.1 485.0L1792.2 475.2L1794.4 483.7L1796.6 481.9L1798.7 476.5L1800.9 473.6L1803.0 480.0L1805.2 466.2L1807.4 466.8L1809.5 464.7L1811.7 462.0L1813.9 461.0L1816.0 450.3L1818.2 453.2L1820.4 458.7L1822.5 457.5L1824.7 452.0L1826.9 452.2L1829.0 449.2L1831.2 455.3L1833.4 450.8L1835.5 434.1L1837.7 441.9L1839.8 430.4L1842.0 437.4L1844.2 447.8L1846.3 454.3L1848.5 440.7L1850.7 446.2L1852.8 442.2L1855.0 444.7L1857.2 423.5L1859.3 427.4L1861.5 424.6L1863.7 419.1L1865.8 417.5L1868.0 416.0L1870.1 412.1L1872.3 417.1L1874.5 431.8L1876.6 414.8L1878.8 416.3L1881.0 415.5L1883.1 401.5L1885.3 418.6L1887.5 426.8L1889.6 403.5L1891.8 410.3L1894.0 419.6L1896.1 409.9L1898.3 401.0L1900.5 411.4L1902.6 399.2L1904.8 388.8L1906.9 391.9L1909.1 400.0L1911.3 395.6L1913.4 402.7L1915.6 393.3L1917.8 396.4L1919.9 399.5L1922.1 402.1L1924.3 377.2L1926.4 388.8L1928.6 394.9L1930.8 393.9L1932.9 380.8L1935.1 379.3L1937.2 391.1L1939.4 386.7L1941.6 383.0L1943.7 392.8L1945.9 396.4L1948.1 394.3L1950.2 386.6L1952.4 392.6L1954.6 392.5L1956.7 382.6L1958.9 368.4L1961.1 368.1L1963.2 371.1L1965.4 358.8L1967.6 378.6L1969.7 376.1L1971.9 386.0L1974.0 371.1L1976.2 378.2L1978.4 386.9L1980.5 383.7L1982.7 365.4L1984.9 373.0L1987.0 371.4L1989.2 362.0L1991.4 376.9L1993.5 372.1L1995.7 375.4L1997.9 370.6L2000.0 365.8L2002.2 358.8L2004.3 354.7L2006.5 354.7L2008.7 346.2L2010.8 365.8L2013.0 360.4L2015.2 354.6L2017.3 360.8L2019.5 355.9L2021.7 350.5L2023.8 364.2L2026.0 355.8L2028.2 347.9L2030.3 364.6L2032.5 372.9L2034.7 356.6L2036.8 368.2L2039.0 360.0L2041.1 364.1L2043.3 353.9L2045.5 341.9L2047.6 340.2L2049.8 351.4L2052.0 361.4L2054.1 376.9L2056.3 375.6L2058.5 361.7L2060.6 351.6L2062.8 361.5L2065.0 360.9L2067.1 369.5L2069.3 367.7L2071.4 371.0L2073.6 348.2L2075.8 371.6L2077.9 340.5L2080.1 354.6L2082.3 341.3L2084.4 346.5L2086.6 342.9L2088.8 339.8L2090.9 361.6L2093.1 364.6L2095.3 359.7L2097.4 360.3L2099.6 346.0L2101.8 352.4L2103.9 352.2L2106.1 343.7L2108.2 350.4L2110.4 334.1L2112.6 368.4L2114.7 350.2L2116.9 347.0L2119.1 356.7L2121.2 355.8L2123.4 340.6L2125.6 354.2L2127.7 370.9L2129.9 366.4L2132.1 342.6L2134.2 358.1L2136.4 331.0L2138.5 328.3L2140.7 345.5L2142.9 339.5L2145.0 354.3L2147.2 352.1L2149.4 356.4L2151.5 341.0L2153.7 357.0L2155.9 342.9L2158.0 343.4L2160.2 339.0L2162.4 366.9L2164.5 361.5L2166.7 353.9L2168.9 349.3L2171.0 348.9L2173.2 352.2L2175.3 335.3L2177.5 350.7L2179.7 346.5L2181.8 355.3L2184.0 339.9L2186.2 341.7L2188.3 342.5L2190.5 351.2L2192.7 344.6L2194.8 334.0L2197.0 359.0L2199.2 374.1L2201.3 346.1L2203.5 346.9L2205.6 355.3L2207.8 352.1L2210.0 321.0L2212.1 350.1L2214.3 362.5L2216.5 357.6L2218.6 348.3L2220.8 359.8L2223.0 360.7L2225.1 356.7L2227.3 366.9L2229.5 361.0L2231.6 359.2L2233.8 366.8L2235.9 354.2L2238.1 369.8L2240.3 348.7L2242.4 368.1L2244.6 359.7" stroke="#FF3CDC" stroke-width="8"/>
<path d="M381.0 1180.9L383.1 1174.8L385.3 1168.7L387.5 1162.6L389.6 1156.5L391.8 1150.6L394.0 1144.7L396.1 1138.9L398.3 1133.2L400.5 1127.7L402.6 1122.3L404.8 1117.0L406.9 1111.9L409.1 1106.7L411.3 1101.7L413.4 1096.8L415.6 1092.0L417.8 1087.4L419.9 1082.9L422.1 1078.6L424.3 1074.5L426.4 1070.6L428.6 1066.9L430.8 1063.5L432.9 1060.2L435.1 1056.9L437.3 1053.9L439.4 1051.0L441.6 1048.0L443.7 1045.3L445.9 1042.5L448.1 1039.8L450.2 1037.0L452.4 1034.3L454.6 1031.6L456.7 1028.8L458.9 1025.9L461.1 1023.1L463.2 1020.2L465.4 1017.3L467.6 1014.4L469.7 1011.6L471.9 1008.8L474.0 1006.2L476.2 1003.7L478.4 1000.9L480.5 998.3L482.7 995.7L484.9 993.1L487.0 990.7L489.2 988.3L491.4 986.2L493.5 984.0L495.7 981.8L497.9 979.8L500.0 977.7L502.2 975.8L504.3 973.9L506.5 972.0L508.7 970.3L510.8 968.4L513.0 966.5L515.2 965.0L517.3 963.2L519.5 961.7L521.7 960.5L523.8 958.9L526.0 957.3L528.2 956.2L530.3 954.7L532.5 953.4L534.7 952.1L536.8 950.8L539.0 949.4L541.1 948.1L543.3 947.1L545.5 945.6L547.6 944.5L549.8 943.0L552.0 941.8L554.1 940.8L556.3 939.4L558.5 938.5L560.6 937.4L562.8 935.8L565.0 935.3L567.1 933.5L569.3 932.3L571.4 931.5L573.6 930.1L575.8 929.0L577.9 928.5L580.1 927.0L582.3 926.1L584.4 925.6L586.6 924.4L588.8 923.5L590.9 923.1L593.1 922.6L595.3 920.7L597.4 920.2L599.6 919.7L601.8 918.5L603.9 918.6L606.1 917.0L608.2 915.2L610.4 915.7L612.6 913.7L614.7 913.5L616.9 912.6L619.1 912.2L621.2 911.2L623.4 911.0L625.6 910.8L627.7 910.4L629.9 909.5L632.1 908.3L634.2 909.1L636.4 907.6L638.5 907.1L640.7 907.7L642.9 905.4L645.0 905.0L647.2 903.1L649.4 902.8L651.5 903.9L653.7 903.5L655.9 903.8L658.0 903.6L660.2 902.0L662.4 902.5L664.5 902.3L666.7 901.7L668.9 900.7L671.0 900.2L673.2 900.3L675.3 899.8L677.5 899.0L679.7 897.2L681.8 899.9L684.0 898.9L686.2 897.7L688.3 898.1L690.5 897.3L692.7 897.0L694.8 896.3L697.0 898.6L699.2 897.3L701.3 897.8L703.5 896.6L705.6 897.4L707.8 896.6L710.0 897.7L712.1 895.8L714.3 896.0L716.5 895.6L718.6 896.2L720.8 896.8L723.0 894.8L725.1 895.7L727.3 895.3L729.5 897.5L731.6 898.6L733.8 896.6L736.0 895.7L738.1 894.0L740.3 893.5L742.4 893.3L744.6 893.2L746.8 894.5L748.9 895.7L751.1 896.9L753.3 894.9L755.4 896.0L757.6 896.2L759.8 894.5L761.9 895.0L764.1 894.0L766.3 895.9L768.4 893.8L770.6 895.7L772.7 897.3L774.9 898.4L777.1 898.6L779.2 898.1L781.4 894.6L783.6 898.5L785.7 896.3L787.9 897.3L790.1 897.8L792.2 897.9L794.4 897.7L796.6 896.5L798.7 896.7L800.9 897.5L803.1 899.5L805.2 900.3L807.4 895.8L809.5 899.6L811.7 900.6L813.9 897.1L816.0 901.5L818.2 899.0L820.4 898.8L822.5 898.9L824.7 897.5L826.9 900.4L829.0 900.5L831.2 899.3L833.4 899.2L835.5 899.3L837.7 898.4L839.8 900.6L842.0 903.2L844.2 900.6L846.3 902.0L848.5 900.7L850.7 898.3L852.8 900.9L855.0 900.0L857.2 902.4L859.3 900.2L861.5 901.3L863.7 902.1L865.8 901.7L868.0 905.8L870.2 904.0L872.3 904.9L874.5 903.5L876.6 909.0L878.8 906.7L881.0 903.5L883.1 908.2L885.3 909.0L887.5 905.9L889.6 904.6L891.8 907.0L894.0 908.4L896.1 908.8L898.3 909.7L900.5 911.4L902.6 912.4L904.8 911.8L906.9 912.8L909.1 912.8L911.3 913.3L913.4 915.5L915.6 912.4L917.8 914.5L919.9 916.9L922.1 918.2L924.3 918.6L926.4 920.0L928.6 920.0L930.8 917.9L932.9 916.8L935.1 919.2L937.2 919.4L939.4 922.8L941.6 923.0L943.7 922.7L945.9 922.4L948.1 923.6L950.2 924.9L952.4 926.7L954.6 926.0L956.7 929.6L958.9 928.8L961.1 930.7L963.2 932.9L965.4 931.2L967.6 931.4L969.7 929.6L971.9 931.8L974.0 930.6L976.2 929.2L978.4 931.6L980.5 931.5L982.7 935.3L984.9 936.8L987.0 940.9L989.2 939.1L991.4 941.1L993.5 939.0L995.7 942.8L997.9 941.4L1000.0 941.6L1002.2 943.1L1004.3 948.2L1006.5 945.9L1008.7 941.5L1010.8 945.2L1013.0 948.0L1015.2 953.1L1017.3 951.4L1019.5 948.6L1021.7 949.1L1023.8 949.6L1026.0 949.5L1028.2 952.1L1030.3 950.9L1032.5 955.9L1034.7 948.9L1036.8 954.4L1039.0 955.9L1041.1 952.5L1043.3 954.7L1045.5 954.3L1047.6 957.6L1049.8 956.7L1052.0 956.7L1054.1 961.3L1056.3 960.2L1058.5 961.5L1060.6 962.1L1062.8 963.4L1065.0 964.5L1067.1 962.2L1069.3 963.6L1071.4 962.7L1073.6 964.6L1075.8 964.7L1077.9 965.8L1080.1 963.4L1082.3 965.4L1084.4 962.5L1086.6 963.9L1088.8 966.0L1090.9 971.3L1093.1 972.2L1095.3 970.9L1097.4 973.0L1099.6 969.3L1101.8 972.0L1103.9 973.3L1106.1 972.4L1108.2 970.2L1110.4 974.8L1112.6 973.3L1114.7 977.7L1116.9 975.9L1119.1 976.3L1121.2 974.1L1123.4 974.9L1125.6 973.7L1127.7 975.3L1129.9 978.5L1132.1 980.1L1134.2 980.0L1136.4 979.8L1138.5 980.2L1140.7 981.8L1142.9 978.6L1145.0 978.9L1147.2 981.2L1149.4 981.5L1151.5 981.4L1153.7 981.3L1155.9 981.1L1158.0 984.0L1160.2 981.5L1162.4 985.2L1164.5 982.5L1166.7 981.1L1168.9 983.8L1171.0 979.8L1173.2 981.3L1175.3 982.1L1177.5 976.8L1179.7 978.7L1181.8 978.5L1184.0 979.3L1186.2 976.7L1188.3 977.6L1190.5 976.2L1192.7 979.7L1194.8 978.9L1197.0 980.3L1199.2 982.3L1201.3 974.2L1203.5 975.5L1205.6 979.1L1207.8 981.5L1210.0 979.9L1212.1 979.6L1214.3 978.3L1216.5 980.7L1218.6 979.7L1220.8 978.1L1223.0 977.1L1225.1 981.9L1227.3 977.4L1229.5 978.9L1231.6 979.3L1233.8 977.2L1236.0 978.6L1238.1 975.4L1240.3 975.6L1242.4 977.3L1244.6 977.3L1246.8 971.0L1248.9 970.0L1251.1 972.5L1253.3 973.1L1255.4 969.6L1257.6 968.1L1259.8 971.9L1261.9 966.3L1264.1 971.2L1266.3 969.2L1268.4 973.7L1270.6 971.9L1272.7 971.2L1274.9 968.2L1277.1 965.2L1279.2 969.7L1281.4 967.9L1283.6 965.2L1285.7 967.3L1287.9 960.6L1290.1 967.8L1292.2 957.0L1294.4 962.3L1296.6 956.8L1298.7 954.4L1300.9 957.7L1303.1 963.3L1305.2 960.9L1307.4 957.8L1309.5 954.0L1311.7 950.1L1313.9 948.0L1316.0 946.1L1318.2 951.9L1320.4 947.0L1322.5 954.0L1324.7 948.6L1326.9 949.8L1329.0 949.8L1331.2 940.6L1333.4 941.3L1335.5 936.7L1337.7 942.4L1339.8 941.5L1342.0 937.5L1344.2 936.8L1346.3 931.2L1348.5 930.9L1350.7 929.4L1352.8 931.9L1355.0 925.1L1357.2 927.9L1359.3 928.5L1361.5 920.8L1363.7 919.7L1365.8 917.8L1368.0 916.2L1370.1 916.1L1372.3 914.3L1374.5 918.9L1376.6 915.0L1378.8 911.6L1381.0 904.8L1383.1 898.9L1385.3 900.0L1387.5 897.3L1389.6 893.3L1391.8 897.9L1394.0 894.5L1396.1 891.7L1398.3 894.5L1400.5 888.2L1402.6 889.1L1404.8 891.4L1406.9 887.4L1409.1 883.0L1411.3 871.4L1413.4 868.4L1415.6 872.1L1417.8 868.9L1419.9 875.7L1422.1 865.7L1424.3 862.8L1426.4 862.8L1428.6 868.6L1430.8 858.2L1432.9 858.2L1435.1 851.4L1437.2 856.0L1439.4 852.4L1441.6 853.3L1443.7 847.3L1445.9 848.4L1448.1 843.3L1450.2 842.8L1452.4 841.3L1454.6 840.4L1456.7 838.9L1458.9 835.2L1461.1 828.6L1463.2 827.0L1465.4 823.6L1467.6 821.6L1469.7 818.5L1471.9 818.4L1474.0 821.5L1476.2 813.2L1478.4 810.5L1480.5 813.8L1482.7 800.3L1484.9 810.3L1487.0 800.2L1489.2 799.7L1491.4 796.2L1493.5 790.7L1495.7 788.7L1497.9 789.2L1500.0 791.0L1502.2 791.4L1504.3 785.2L1506.5 778.2L1508.7 778.1L1510.8 779.0L1513.0 776.1L1515.2 772.3L1517.3 766.5L1519.5 772.8L1521.7 763.6L1523.8 760.5L1526.0 759.5L1528.2 757.1L1530.3 745.9L1532.5 747.4L1534.7 748.8L1536.8 745.7L1539.0 741.0L1541.1 743.1L1543.3 736.5L1545.5 742.9L1547.6 742.4L1549.8 736.3L1552.0 736.5L1554.1 732.7L1556.3 725.1L1558.5 721.6L1560.6 723.8L1562.8 723.4L1565.0 724.9L1567.1 722.1L1569.3 714.0L1571.4 713.2L1573.6 713.9L1575.8 709.2L1577.9 697.0L1580.1 698.4L1582.3 701.4L1584.4 699.8L1586.6 690.9L1588.8 692.0L1590.9 688.7L1593.1 695.0L1595.3 693.8L1597.4 692.0L1599.6 690.8L1601.8 676.9L1603.9 674.8L1606.1 678.0L1608.2 670.5L1610.4 667.2L1612.6 667.0L1614.7 672.0L1616.9 656.0L1619.1 652.9L1621.2 658.6L1623.4 646.5L1625.6 655.6L1627.7 659.1L1629.9 654.5L1632.1 656.3L1634.2 643.6L1636.4 645.4L1638.5 629.5L1640.7 632.3L1642.9 639.9L1645.0 630.3L1647.2 640.5L1649.4 629.2L1651.5 624.2L1653.7 622.0L1655.9 624.0L1658.0 617.9L1660.2 616.1L1662.4 613.1L1664.5 603.7L1666.7 599.8L1668.9 598.6L1671.0 607.5L1673.2 607.7L1675.3 600.6L1677.5 594.7L1679.7 604.4L1681.8 596.9L1684.0 582.6L1686.2 592.7L1688.3 585.2L1690.5 583.9L1692.7 578.6L1694.8 579.8L1697.0 577.8L1699.2 578.6L1701.3 565.1L1703.5 564.4L1705.6 565.8L1707.8 559.4L1710.0 555.9L1712.1 568.0L1714.3 568.9L1716.5 564.1L1718.6 558.8L1720.8 561.4L1723.0 549.4L1725.1 539.9L1727.3 547.0L1729.5 538.4L1731.6 553.7L1733.8 540.7L1736.0 531.0L1738.1 527.3L1740.3 534.2L1742.4 533.8L1744.6 526.5L1746.8 537.2L1748.9 533.7L1751.1 539.8L1753.3 526.7L1755.4 522.7L1757.6 511.1L1759.8 516.1L1761.9 521.8L1764.1 517.7L1766.3 521.7L1768.4 508.6L1770.6 504.3L1772.7 497.5L1774.9 493.1L1777.1 507.3L1779.2 492.2L1781.4 488.1L1783.6 499.6L1785.7 484.2L1787.9 499.2L1790.1 482.9L1792.2 489.2L1794.4 487.2L1796.6 488.7L1798.7 481.7L1800.9 489.5L1803.0 485.1L1805.2 488.7L1807.4 474.0L1809.5 480.8L1811.7 473.5L1813.9 472.3L1816.0 481.4L1818.2 467.1L1820.4 469.9L1822.5 470.6L1824.7 467.9L1826.9 468.7L1829.0 466.1L1831.2 458.1L1833.4 468.0L1835.5 466.3L1837.7 461.6L1839.8 449.3L1842.0 456.4L1844.2 439.2L1846.3 459.4L1848.5 447.6L1850.7 445.8L1852.8 442.4L1855.0 436.1L1857.2 444.7L1859.3 447.1L1861.5 435.0L1863.7 429.5L1865.8 453.9L1868.0 435.0L1870.1 436.5L1872.3 442.8L1874.5 441.4L1876.6 436.6L1878.8 436.7L1881.0 436.6L1883.1 440.2L1885.3 432.6L1887.5 439.1L1889.6 434.4L1891.8 434.2L1894.0 425.0L1896.1 419.1L1898.3 421.5L1900.5 419.3L1902.6 429.7L1904.8 416.2L1906.9 414.3L1909.1 418.5L1911.3 414.0L1913.4 424.8L1915.6 409.6L1917.8 411.3L1919.9 422.7L1922.1 403.5L1924.3 409.6L1926.4 403.3L1928.6 406.8L1930.8 402.2L1932.9 404.0L1935.1 406.7L1937.2 404.2L1939.4 404.3L1941.6 424.2L1943.7 404.8L1945.9 403.4L1948.1 400.7L1950.2 381.5L1952.4 381.6L1954.6 395.8L1956.7 398.5L1958.9 387.7L1961.1 397.2L1963.2 393.6L1965.4 401.7L1967.6 385.6L1969.7 376.4L1971.9 388.1L1974.0 387.9L1976.2 374.8L1978.4 379.6L1980.5 375.5L1982.7 381.5L1984.9 377.1L1987.0 396.8L1989.2 387.9L1991.4 392.0L1993.5 363.1L1995.7 377.0L1997.9 380.9L2000.0 384.4L2002.2 387.1L2004.3 392.8L2006.5 360.6L2008.7 375.0L2010.8 374.0L2013.0 383.1L2015.2 372.7L2017.3 369.0L2019.5 372.2L2021.7 365.1L2023.8 373.9L2026.0 365.2L2028.2 362.1L2030.3 365.8L2032.5 365.2L2034.7 365.8L2036.8 372.7L2039.0 357.8L2041.1 366.8L2043.3 369.4L2045.5 359.0L2047.6 381.5L2049.8 373.3L2052.0 356.8L2054.1 352.5L2056.3 363.8L2058.5 360.8L2060.6 355.4L2062.8 359.3L2065.0 363.6L2067.1 354.0L2069.3 358.0L2071.4 360.6L2073.6 349.7L2075.8 357.1L2077.9 362.8L2080.1 356.7L2082.3 341.9L2084.4 372.6L2086.6 370.5L2088.8 374.8L2090.9 357.9L2093.1 365.1L2095.3 342.8L2097.4 339.5L2099.6 354.6L2101.8 358.2L2103.9 368.9L2106.1 355.5L2108.2 369.2L2110.4 362.0L2112.6 358.3L2114.7 359.9L2116.9 344.1L2119.1 336.3L2121.2 372.2L2123.4 360.5L2125.6 350.0L2127.7 363.8L2129.9 357.2L2132.1 348.9L2134.2 338.4L2136.4 342.8L2138.5 360.8L2140.7 357.0L2142.9 360.0L2145.0 353.6L2147.2 361.9L2149.4 368.7L2151.5 357.5L2153.7 344.1L2155.9 345.8L2158.0 372.5L2160.2 358.3L2162.4 364.7L2164.5 354.0L2166.7 364.1L2168.9 339.8L2171.0 351.4L2173.2 343.0L2175.3 340.1L2177.5 369.1L2179.7 353.0L2181.8 339.8L2184.0 359.1L2186.2 349.5L2188.3 351.2L2190.5 356.6L2192.7 345.8L2194.8 337.5L2197.0 336.8L2199.2 336.4L2201.3 365.6L2203.5 344.6L2205.6 366.4L2207.8 351.0L2210.0 349.1L2212.1 339.7L2214.3 343.2L2216.5 334.3L2218.6 354.1L2220.8 337.6L2223.0 344.4L2225.1 353.0L2227.3 370.8L2229.5 354.6L2231.6 356.5L2233.8 350.7L2235.9 357.9L2238.1 360.2L2240.3 354.1L2242.4 356.3L2244.6 357.4" stroke="#FF3CDC" stroke-width="8"/>
<path d="M381.0 1167.4L383.1 1161.0L385.3 1154.7L387.5 1148.4L389.6 1142.3L391.8 1136.4L394.0 1130.6L396.1 1125.0L398.3 1119.5L400.5 1114.3L402.6 1109.3L404.8 1104.3L406.9 1099.6L409.1 1094.8L411.3 1090.2L413.4 1085.6L415.6 1081.2L417.8 1076.9L419.9 1072.8L422.1 1068.7L424.3 1064.8L426.4 1061.1L428.6 1057.5L430.8 1054.1L432.9 1050.7L435.1 1047.6L437.3 1044.6L439.4 1041.7L441.6 1038.8L443.7 1036.2L445.9 1033.4L448.1 1030.8L450.2 1028.1L452.4 1025.5L454.6 1022.9L456.7 1020.1L458.9 1017.4L461.1 1014.7L463.2 1011.8L465.4 1009.0L467.6 1006.3L469.7 1003.8L471.9 1001.2L474.0 998.7L476.2 996.4L478.4 994.0L480.5 991.7L482.7 989.5L484.9 987.3L487.0 985.4L489.2 983.4L491.4 981.5L493.5 979.7L495.7 978.1L497.9 976.5L500.0 975.0L502.2 973.3L504.3 971.6L506.5 970.4L508.7 968.9L510.8 967.2L513.0 965.8L515.2 964.6L517.3 963.0L519.5 961.6L521.7 960.5L523.8 958.9L526.0 958.0L528.2 956.4L530.3 955.3L532.5 954.2L534.7 953.2L536.8 951.9L539.0 950.8L541.1 949.6L543.3 948.5L545.5 947.2L547.6 945.9L549.8 945.1L552.0 943.8L554.1 942.6L556.3 941.7L558.5 940.5L560.6 939.3L562.8 938.8L565.0 937.7L567.1 937.5L569.3 936.1L571.4 934.9L573.6 934.4L575.8 932.8L577.9 932.8L580.1 931.2L582.3 931.0L584.4 930.3L586.6 929.1L588.8 928.2L590.9 927.7L593.1 927.1L595.3 926.2L597.4 924.8L599.6 924.2L601.8 922.8L603.9 922.7L606.1 921.9L608.2 921.2L610.4 920.4L612.6 919.6L614.7 918.4L616.9 918.1L619.1 917.8L621.2 917.0L623.4 917.7L625.6 917.6L627.7 915.9L629.9 915.6L632.1 915.0L634.2 914.3L636.4 914.5L638.5 913.8L640.7 912.9L642.9 912.1L645.0 911.2L647.2 911.2L649.4 910.6L651.5 911.8L653.7 909.5L655.9 911.2L658.0 910.1L660.2 908.4L662.4 909.4L664.5 909.7L666.7 907.0L668.9 908.3L671.0 907.8L673.2 907.5L675.3 906.5L677.5 906.3L679.7 907.2L681.8 906.2L684.0 907.6L686.2 905.8L688.3 906.8L690.5 905.4L692.7 906.4L694.8 905.6L697.0 903.7L699.2 905.6L701.3 905.6L703.5 903.7L705.6 904.3L707.8 904.4L710.0 904.5L712.1 902.5L714.3 905.5L716.5 904.5L718.6 903.5L720.8 904.4L723.0 903.4L725.1 903.1L727.3 904.1L729.5 901.7L731.6 903.7L733.8 902.5L736.0 901.7L738.1 899.6L740.3 904.5L742.4 902.8L744.6 901.1L746.8 904.2L748.9 901.8L751.1 902.4L753.3 904.4L755.4 902.0L757.6 903.3L759.8 902.1L761.9 904.4L764.1 902.1L766.3 905.8L768.4 903.2L770.6 901.0L772.7 902.3L774.9 903.6L777.1 904.1L779.2 904.3L781.4 901.2L783.6 903.8L785.7 903.9L787.9 904.6L790.1 904.5L792.2 903.2L794.4 905.1L796.6 905.0L798.7 904.4L800.9 904.2L803.1 904.2L805.2 905.7L807.4 905.7L809.5 906.3L811.7 903.4L813.9 904.5L816.0 904.7L818.2 904.1L820.4 905.2L822.5 908.5L824.7 907.4L826.9 905.7L829.0 907.8L831.2 906.7L833.4 908.7L835.5 909.2L837.7 908.3L839.8 906.0L842.0 910.0L844.2 910.1L846.3 907.6L848.5 910.2L850.7 909.9L852.8 908.3L855.0 907.8L857.2 908.6L859.3 908.7L861.5 911.2L863.7 910.7L865.8 909.9L868.0 913.0L870.2 912.5L872.3 914.4L874.5 911.8L876.6 911.8L878.8 911.2L881.0 910.9L883.1 910.7L885.3 911.2L887.5 914.0L889.6 912.1L891.8 916.1L894.0 911.8L896.1 915.5L898.3 915.3L900.5 918.6L902.6 915.2L904.8 915.6L906.9 921.1L909.1 920.6L911.3 921.0L913.4 921.6L915.6 918.5L917.8 917.6L919.9 923.4L922.1 921.0L924.3 924.0L926.4 922.1L928.6 928.5L930.8 926.4L932.9 924.0L935.1 927.8L937.2 925.2L939.4 929.4L941.6 927.8L943.7 928.9L945.9 930.9L948.1 931.8L950.2 932.3L952.4 930.7L954.6 932.8L956.7 933.3L958.9 928.4L961.1 935.4L963.2 934.3L965.4 934.0L967.6 937.9L969.7 936.5L971.9 937.6L974.0 939.9L976.2 936.7L978.4 939.7L980.5 939.1L982.7 936.3L984.9 940.9L987.0 939.0L989.2 939.3L991.4 941.7L993.5 943.4L995.7 945.5L997.9 948.2L1000.0 947.0L1002.2 947.0L1004.3 949.3L1006.5 950.8L1008.7 948.8L1010.8 952.4L1013.0 949.8L1015.2 951.6L1017.3 955.0L1019.5 949.0L1021.7 951.0L1023.8 951.6L1026.0 956.9L1028.2 955.5L1030.3 955.4L1032.5 956.8L1034.7 952.4L1036.8 959.5L1039.0 955.6L1041.1 961.7L1043.3 961.7L1045.5 961.1L1047.6 957.3L1049.8 959.9L1052.0 960.5L1054.1 962.2L1056.3 964.8L1058.5 965.0L1060.6 965.7L1062.8 964.9L1065.0 965.6L1067.1 970.2L1069.3 968.2L1071.4 965.0L1073.6 968.4L1075.8 967.9L1077.9 969.9L1080.1 970.4L1082.3 969.4L1084.4 972.5L1086.6 971.1L1088.8 975.3L1090.9 971.8L1093.1 976.3L1095.3 972.3L1097.4 971.8L1099.6 976.5L1101.8 971.2L1103.9 972.9L1106.1 970.4L1108.2 975.0L1110.4 976.2L1112.6 977.2L1114.7 973.8L1116.9 979.9L1119.1 974.0L1121.2 976.4L1123.4 978.4L1125.6 979.6L1127.7 977.8L1129.9 978.4L1132.1 975.7L1134.2 981.3L1136.4 985.0L1138.5 984.0L1140.7 983.2L1142.9 983.5L1145.0 979.2L1147.2 977.3L1149.4 981.5L1151.5 987.5L1153.7 982.0L1155.9 985.1L1158.0 982.1L1160.2 979.5L1162.4 980.4L1164.5 981.2L1166.7 981.1L1168.9 980.5L1171.0 981.3L1173.2 977.6L1175.3 985.9L1177.5 982.2L1179.7 981.0L1181.8 977.3L1184.0 978.4L1186.2 978.0L1188.3 983.6L1190.5 981.7L1192.7 979.4L1194.8 980.9L1197.0 981.1L1199.2 979.0L1201.3 975.6L1203.5 983.9L1205.6 976.1L1207.8 979.0L1210.0 981.3L1212.1 977.5L1214.3 979.0L1216.5 976.5L1218.6 981.0L1220.8 976.2L1223.0 979.6L1225.1 976.1L1227.3 975.5L1229.5 978.3L1231.6 977.6L1233.8 981.3L1236.0 977.1L1238.1 979.9L1240.3 977.9L1242.4 975.3L1244.6 974.1L1246.8 976.9L1248.9 973.1L1251.1 975.3L1253.3 973.0L1255.4 977.5L1257.6 977.0L1259.8 975.1L1261.9 977.5L1264.1 976.2L1266.3 973.3L1268.4 970.1L1270.6 966.5L1272.7 967.1L1274.9 970.3L1277.1 966.9L1279.2 969.2L1281.4 966.4L1283.6 970.7L1285.7 964.5L1287.9 965.6L1290.1 965.8L1292.2 967.5L1294.4 962.4L1296.6 963.2L1298.7 959.6L1300.9 961.3L1303.1 959.9L1305.2 956.7L1307.4 953.8L1309.5 961.2L1311.7 957.3L1313.9 955.5L1316.0 955.8L1318.2 956.0L1320.4 947.7L1322.5 955.0L1324.7 951.1L1326.9 952.3L1329.0 949.7L1331.2 953.7L1333.4 944.6L1335.5 946.1L1337.7 945.4L1339.8 935.9L1342.0 938.8L1344.2 938.4L1346.3 937.3L1348.5 930.5L1350.7 932.1L1352.8 931.8L1355.0 933.2L1357.2 930.5L1359.3 925.7L1361.5 927.0L1363.7 932.0L1365.8 927.3L1368.0 920.8L1370.1 911.4L1372.3 918.0L1374.5 919.8L1376.6 910.0L1378.8 911.4L1381.0 912.0L1383.1 904.1L1385.3 903.9L1387.5 904.3L1389.6 903.3L1391.8 898.3L1394.0 896.1L1396.1 900.7L1398.3 891.0L1400.5 895.4L1402.6 884.8L1404.8 885.3L1406.9 885.1L1409.1 881.4L1411.3 883.4L1413.4 880.5L1415.6 874.6L1417.8 880.2L1419.9 873.6L1422.1 875.7L1424.3 870.6L1426.4 866.3L1428.6 872.6L1430.8 865.2L1432.9 869.5L1435.1 862.8L1437.2 857.5L1439.4 850.8L1441.6 850.1L1443.7 854.3L1445.9 851.7L1448.1 848.2L1450.2 852.0L1452.4 842.5L1454.6 838.4L1456.7 837.3L1458.9 841.4L1461.1 837.4L1463.2 836.3L1465.4 831.1L1467.6 827.7L1469.7 820.5L1471.9 821.0L1474.0 822.0L1476.2 815.0L1478.4 812.7L1480.5 817.1L1482.7 814.8L1484.9 811.8L1487.0 813.1L1489.2 802.1L1491.4 796.8L1493.5 791.0L1495.7 796.7L1497.9 797.6L1500.0 794.7L1502.2 789.0L1504.3 787.1L1506.5 792.1L1508.7 787.8L1510.8 783.2L1513.0 789.6L1515.2 771.8L1517.3 773.7L1519.5 767.3L1521.7 769.4L1523.8 769.2L1526.0 766.8L1528.2 762.9L1530.3 757.6L1532.5 759.0L1534.7 762.0L1536.8 758.6L1539.0 757.7L1541.1 747.0L1543.3 752.5L1545.5 740.9L1547.6 743.6L1549.8 739.4L1552.0 730.0L1554.1 733.8L1556.3 731.4L1558.5 723.9L1560.6 722.4L1562.8 729.9L1565.0 718.2L1567.1 724.8L1569.3 730.0L1571.4 721.8L1573.6 714.6L1575.8 714.8L1577.9 709.7L1580.1 700.6L1582.3 702.9L1584.4 693.6L1586.6 695.1L1588.8 696.8L1590.9 685.2L1593.1 692.9L1595.3 686.3L1597.4 687.8L1599.6 694.2L1601.8 690.1L1603.9 683.6L1606.1 675.5L1608.2 667.4L1610.4 669.1L1612.6 659.0L1614.7 662.0L1616.9 668.5L1619.1 667.9L1621.2 664.3L1623.4 665.3L1625.6 661.3L1627.7 655.4L1629.9 658.0L1632.1 654.4L1634.2 659.8L1636.4 658.4L1638.5 655.4L1640.7 652.4L1642.9 643.4L1645.0 640.0L1647.2 639.2L1649.4 633.7L1651.5 620.0L1653.7 632.3L1655.9 629.0L1658.0 628.2L1660.2 627.1L1662.4 611.6L1664.5 615.5L1666.7 607.8L1668.9 618.3L1671.0 602.7L1673.2 599.4L1675.3 612.7L1677.5 606.1L1679.7 603.7L1681.8 596.2L1684.0 601.2L1686.2 588.9L1688.3 587.5L1690.5 595.9L1692.7 605.7L1694.8 596.6L1697.0 591.9L1699.2 582.5L1701.3 586.7L1703.5 586.3L1705.6 574.2L1707.8 572.8L1710.0 568.8L1712.1 570.8L1714.3 564.0L1716.5 564.5L1718.6 573.7L1720.8 562.1L1723.0 559.2L1725.1 562.0L1727.3 552.0L1729.5 557.4L1731.6 548.5L1733.8 554.9L1736.0 547.2L1738.1 547.3L1740.3 548.2L1742.4 546.4L1744.6 537.4L1746.8 534.9L1748.9 541.5L1751.1 542.8L1753.3 539.5L1755.4 526.9L1757.6 534.3L1759.8 518.5L1761.9 531.6L1764.1 520.3L1766.3 516.7L1768.4 511.6L1770.6 517.5L1772.7 518.2L1774.9 522.1L1777.1 509.7L1779.2 514.0L1781.4 513.3L1783.6 509.4L1785.7 501.6L1787.9 499.6L1790.1 492.2L1792.2 512.7L1794.4 497.1L1796.6 503.0L1798.7 496.4L1800.9 494.8L1803.0 493.2L1805.2 488.2L1807.4 488.9L1809.5 495.9L1811.7 486.3L1813.9 486.7L1816.0 485.3L1818.2 486.7L1820.4 485.4L1822.5 475.7L1824.7 485.9L1826.9 467.2L1829.0 483.1L1831.2 486.0L1833.4 472.1L1835.5 469.3L1837.7 467.3L1839.8 467.3L1842.0 470.8L1844.2 470.7L1846.3 464.9L1848.5 466.6L1850.7 468.5L1852.8 454.6L1855.0 450.7L1857.2 460.8L1859.3 460.9L1861.5 462.4L1863.7 467.1L1865.8 460.0L1868.0 455.9L1870.1 451.8L1872.3 457.4L1874.5 465.4L1876.6 451.7L1878.8 443.6L1881.0 463.5L1883.1 446.9L1885.3 438.9L1887.5 450.2L1889.6 450.8L1891.8 441.1L1894.0 442.2L1896.1 444.4L1898.3 428.4L1900.5 426.2L1902.6 428.9L1904.8 429.9L1906.9 429.9L1909.1 420.0L1911.3 429.4L1913.4 421.2L1915.6 424.7L1917.8 437.4L1919.9 427.7L1922.1 424.2L1924.3 427.9L1926.4 436.5L1928.6 428.7L1930.8 428.5L1932.9 424.0L1935.1 422.5L1937.2 421.4L1939.4 412.2L1941.6 407.3L1943.7 417.9L1945.9 419.6L1948.1 404.6L1950.2 405.7L1952.4 404.4L1954.6 412.3L1956.7 406.9L1958.9 413.9L1961.1 401.8L1963.2 398.2L1965.4 415.1L1967.6 421.2L1969.7 404.6L1971.9 401.6L1974.0 395.6L1976.2 398.7L1978.4 398.0L1980.5 388.3L1982.7 404.8L1984.9 400.5L1987.0 391.5L1989.2 407.0L1991.4 388.0L1993.5 396.2L1995.7 400.4L1997.9 396.9L2000.0 388.5L2002.2 385.8L2004.3 380.5L2006.5 385.5L2008.7 394.3L2010.8 386.1L2013.0 391.9L2015.2 373.3L2017.3 402.9L2019.5 373.5L2021.7 380.4L2023.8 385.6L2026.0 388.9L2028.2 393.5L2030.3 394.0L2032.5 397.5L2034.7 363.7L2036.8 370.3L2039.0 371.1L2041.1 373.9L2043.3 392.2L2045.5 375.3L2047.6 369.1L2049.8 359.2L2052.0 379.9L2054.1 370.5L2056.3 375.3L2058.5 370.2L2060.6 372.1L2062.8 358.9L2065.0 362.1L2067.1 385.2L2069.3 358.4L2071.4 351.5L2073.6 377.5L2075.8 355.0L2077.9 370.8L2080.1 366.2L2082.3 346.5L2084.4 366.3L2086.6 355.3L2088.8 367.2L2090.9 356.3L2093.1 363.2L2095.3 342.7L2097.4 339.8L2099.6 356.5L2101.8 375.0L2103.9 375.4L2106.1 376.7L2108.2 356.6L2110.4 355.0L2112.6 368.7L2114.7 356.4L2116.9 371.9L2119.1 345.6L2121.2 352.1L2123.4 343.3L2125.6 368.3L2127.7 369.7L2129.9 379.1L2132.1 352.2L2134.2 370.6L2136.4 341.5L2138.5 354.3L2140.7 348.4L2142.9 372.9L2145.0 365.9L2147.2 359.7L2149.4 355.4L2151.5 379.3L2153.7 364.0L2155.9 376.1L2158.0 356.7L2160.2 365.8L2162.4 366.7L2164.5 362.1L2166.7 356.9L2168.9 371.9L2171.0 355.7L2173.2 376.3L2175.3 360.5L2177.5 371.8L2179.7 355.1L2181.8 364.8L2184.0 354.4L2186.2 350.3L2188.3 370.1L2190.5 381.1L2192.7 364.4L2194.8 352.6L2197.0 352.1L2199.2 363.3L2201.3 349.4L2203.5 364.9L2205.6 355.9L2207.8 372.4L2210.0 354.9L2212.1 342.4L2214.3 360.3L2216.5 358.9L2218.6 353.5L2220.8 357.4L2223.0 359.9L2225.1 364.8L2227.3 376.6L2229.5 358.4L2231.6 371.4L2233.8 360.0L2235.9 389.0L2238.1 348.7L2240.3 344.5L2242.4 359.1L2244.6 377.5" stroke="#FF00C8" stroke-width="8"/>
<path d="M381.0 1095.3L382.1 1092.6L383.1 1089.9L384.2 1087.3L385.3 1084.7L386.4 1082.1L387.5 1079.6L388.5 1077.1L389.6 1074.6L390.7 1072.2L391.8 1069.9L392.9 1067.5L394.0 1065.3L395.0 1063.1L396.1 1061.0L397.2 1058.8L398.3 1056.9L399.4 1054.9L400.5 1053.0L401.5 1051.2L402.6 1049.4L403.7 1047.8L404.8 1046.2L405.9 1044.6L406.9 1043.1L408.0 1041.6L409.1 1040.2L410.2 1038.7L411.3 1037.3L412.4 1035.9L413.4 1034.6L414.5 1033.3L415.6 1032.0L416.7 1030.7L417.8 1029.5L418.9 1028.2L419.9 1027.1L421.0 1025.9L422.1 1024.7L423.2 1023.6L424.3 1022.5L425.3 1021.4L426.4 1020.4L427.5 1019.3L428.6 1018.2L429.7 1017.2L430.8 1016.2L431.8 1015.2L432.9 1014.2L434.0 1013.2L435.1 1012.2L436.2 1011.3L437.3 1010.4L438.3 1009.4L439.4 1008.5L440.5 1007.5L441.6 1006.6L442.7 1005.8L443.7 1004.9L444.8 1004.0L445.9 1003.2L447.0 1002.3L448.1 1001.5L449.2 1000.7L450.2 999.8L451.3 999.0L452.4 998.2L453.5 997.4L454.6 996.6L455.6 995.9L456.7 995.1L457.8 994.3L458.9 993.6L460.0 992.9L461.1 992.1L462.1 991.4L463.2 990.7L464.3 990.0L465.4 989.3L466.5 988.7L467.6 988.0L468.6 987.4L469.7 986.7L470.8 986.1L471.9 985.5L473.0 984.8L474.0 984.3L475.1 983.6L476.2 983.1L477.3 982.5L478.4 981.9L479.5 981.4L480.5 980.8L481.6 980.2L482.7 979.7L483.8 979.1L484.9 978.5L486.0 978.0L487.0 977.5L488.1 976.9L489.2 976.5L490.3 975.9L491.4 975.4L492.4 974.9L493.5 974.4L494.6 973.9L495.7 973.3L496.8 972.9L497.9 972.4L498.9 971.9L500.0 971.4L501.1 971.0L502.2 970.5L503.3 970.0L504.3 969.5L505.4 969.0L506.5 968.6L507.6 968.1L508.7 967.7L509.8 967.3L510.8 966.9L511.9 966.5L513.0 966.0L514.1 965.6L515.2 965.2L516.3 964.8L517.3 964.3L518.4 963.9L519.5 963.4L520.6 963.0L521.7 962.5L522.7 962.0L523.8 961.8L524.9 961.3L526.0 961.0L527.1 960.5L528.2 960.2L529.2 959.6L530.3 959.3L531.4 958.9L532.5 958.4L533.6 958.1L534.7 957.8L535.7 957.4L536.8 957.1L537.9 956.8L539.0 956.5L540.1 956.1L541.1 955.5L542.2 955.1L543.3 954.8L544.4 954.3L545.5 953.9L546.6 953.5L547.6 953.2L548.7 952.7L549.8 952.5L550.9 952.3L552.0 951.9L553.1 951.6L554.1 951.0L555.2 950.8L556.3 950.5L557.4 950.0L558.5 949.6L559.5 949.4L560.6 949.2L561.7 948.7L562.8 948.4L563.9 948.2L565.0 947.8L566.0 947.4L567.1 947.3L568.2 946.6L569.3 946.4L570.4 946.0L571.4 945.7L572.5 945.2L573.6 945.2L574.7 944.6L575.8 944.6L576.9 943.9L577.9 943.5L579.0 943.3L580.1 943.0L581.2 942.4L582.3 942.0L583.4 941.7L584.4 941.7L585.5 941.3L586.6 941.3L587.7 940.7L588.8 940.7L589.8 940.1L590.9 940.0L592.0 939.7L593.1 939.0L594.2 939.0L595.3 938.4L596.3 938.2L597.4 938.0L598.5 937.6L599.6 936.9L600.7 936.7L601.8 936.4L602.8 936.2L603.9 935.5L605.0 935.2L606.1 935.0L607.2 934.6L608.2 934.6L609.3 933.9L610.4 933.6L611.5 933.4L612.6 933.3L613.7 933.2L614.7 933.3L615.8 933.1L616.9 932.9L618.0 932.4L619.1 932.2L620.2 931.7L621.2 931.1L622.3 931.1L623.4 930.9L624.5 931.0L625.6 930.6L626.6 930.1L627.7 929.9L628.8 929.6L629.9 929.2L631.0 928.8L632.1 928.4L633.1 928.2L634.2 928.4L635.3 927.4L636.4 927.5L637.5 927.7L638.5 927.3L639.6 927.7L640.7 926.8L641.8 926.6L642.9 926.1L644.0 926.2L645.0 926.0L646.1 925.8L647.2 925.8L648.3 925.9L649.4 925.7L650.5 925.7L651.5 924.9L652.6 924.8L653.7 924.6L654.8 924.4L655.9 924.6L656.9 924.5L658.0 924.6L659.1 924.2L660.2 924.3L661.3 924.1L662.4 924.3L663.4 924.2L664.5 924.1L665.6 923.4L666.7 923.8L667.8 923.5L668.9 922.2L669.9 922.0L671.0 922.3L672.1 921.2L673.2 921.1L674.3 921.2L675.3 922.1L676.4 921.4L677.5 921.7L678.6 921.2L679.7 921.2L680.8 919.8L681.8 920.1L682.9 919.4L684.0 919.1L685.1 919.1L686.2 919.2L687.2 919.5L688.3 919.5L689.4 919.8L690.5 920.5L691.6 919.7L692.7 920.2L693.7 920.0L694.8 919.7L695.9 919.5L697.0 918.9L698.1 918.6L699.2 917.5L700.2 916.9L701.3 917.1L702.4 917.6L703.5 916.8L704.6 917.2L705.6 917.7L706.7 917.7L707.8 916.7L708.9 916.0L710.0 916.6L711.1 916.5L712.1 916.2L713.2 916.7L714.3 916.8L715.4 916.5L716.5 916.8L717.6 916.1L718.6 916.5L719.7 915.6L720.8 915.7L721.9 916.1L723.0 916.2L724.0 916.4L725.1 915.7L726.2 916.7L727.3 915.7L728.4 915.5L729.5 915.8L730.5 914.7L731.6 916.2L732.7 915.0L733.8 915.3L734.9 915.7L736.0 915.6L737.0 916.1L738.1 916.1L739.2 915.4L740.3 915.6L741.4 915.8L742.4 915.2L743.5 915.3L744.6 915.4L745.7 914.8L746.8 915.2L747.9 914.9L748.9 914.6L750.0 914.4L751.1 914.5L752.2 915.2L753.3 914.4L754.3 915.2L755.4 916.1L756.5 916.4L757.6 917.8L758.7 916.2L759.8 916.7L760.8 915.7L761.9 916.1L763.0 914.7L764.1 915.3L765.2 915.4L766.3 914.6L767.3 915.0L768.4 916.7L769.5 916.8L770.6 916.4L771.7 916.7L772.7 916.3L773.8 917.0L774.9 917.7L776.0 917.7L777.1 917.9L778.2 918.1L779.2 918.2L780.3 918.0L781.4 918.5L782.5 918.5L783.6 917.6L784.7 917.8L785.7 917.8L786.8 917.5L787.9 916.5L789.0 916.3L790.1 916.6L791.1 918.4L792.2 917.3L793.3 918.8L794.4 918.6L795.5 918.0L796.6 918.8L797.6 918.8L798.7 918.7L799.8 917.6L800.9 918.2L802.0 919.5L803.1 919.1L804.1 919.3L805.2 919.7L806.3 920.4L807.4 919.7L808.5 921.3L809.5 921.0L810.6 922.4L811.7 921.4L812.8 921.2L813.9 920.2L815.0 921.6L816.0 920.1L817.1 919.8L818.2 920.5L819.3 919.8L820.4 919.7L821.4 920.4L822.5 920.6L823.6 920.2L824.7 920.8L825.8 920.4L826.9 921.0L827.9 921.8L829.0 922.3L830.1 921.4L831.2 921.7L832.3 922.2L833.4 921.6L834.4 920.6L835.5 921.9L836.6 921.5L837.7 920.6L838.8 920.7L839.8 922.0L840.9 922.3L842.0 921.9L843.1 921.4L844.2 922.4L845.3 923.9L846.3 922.1L847.4 922.8L848.5 923.5L849.6 924.2L850.7 923.0L851.8 923.8L852.8 924.1L853.9 923.8L855.0 923.7L856.1 923.5L857.2 922.8L858.2 924.2L859.3 923.8L860.4 924.0L861.5 922.7L862.6 924.1L863.7 925.1L864.7 924.3L865.8 925.0L866.9 925.4L868.0 925.3L869.1 925.9L870.2 926.7L871.2 924.7L872.3 926.1L873.4 926.7L874.5 926.2L875.6 925.8L876.6 927.6L877.7 927.0L878.8 927.1L879.9 928.0L881.0 927.6L882.1 929.1L883.1 929.5L884.2 929.4L885.3 929.4L886.4 930.1L887.5 930.7L888.5 930.5L889.6 932.0L890.7 929.6L891.8 931.2L892.9 931.4L894.0 931.1L895.0 930.6L896.1 930.8L897.2 931.3L898.3 931.8L899.4 930.8L900.5 931.6L901.5 931.8L902.6 931.8L903.7 932.2L904.8 932.1L905.9 933.3L906.9 934.4L908.0 933.2L909.1 933.2L910.2 934.8L911.3 933.4L912.4 933.8L913.4 934.7L914.5 934.9L915.6 935.8L916.7 936.6L917.8 937.0L918.9 938.1L919.9 938.1L921.0 936.5L922.1 938.3L923.2 937.8L924.3 937.8L925.3 937.2L926.4 937.3L927.5 939.7L928.6 939.0L929.7 941.3L930.8 939.8L931.8 941.8L932.9 940.4L934.0 940.9L935.1 940.1L936.2 941.3L937.2 941.3L938.3 942.0L939.4 942.5L940.5 942.1L941.6 942.7L942.7 942.5L943.7 943.1L944.8 942.4L945.9 943.1L947.0 942.8L948.1 943.1L949.2 944.4L950.2 943.7L951.3 943.2L952.4 944.2L953.5 945.3L954.6 943.4L955.6 944.8L956.7 944.7L957.8 943.7L958.9 945.4L960.0 944.4L961.1 946.2L962.1 944.8L963.2 945.5L964.3 947.3L965.4 948.4L966.5 948.9L967.6 949.8L968.6 948.8L969.7 950.4L970.8 950.4L971.9 950.6L973.0 951.6L974.0 951.0L975.1 951.7L976.2 951.1L977.3 952.7L978.4 952.3L979.5 951.9L980.5 953.8L981.6 953.4L982.7 951.9L983.8 953.3L984.9 952.1L986.0 951.6L987.0 952.8L988.1 953.6L989.2 951.8L990.3 954.0L991.4 954.6L992.4 956.7L993.5 957.0L994.6 959.3L995.7 959.7L996.8 959.7L997.9 959.7L998.9 959.5L1000.0 958.2L1001.1 956.7L1002.2 956.6L1003.3 955.0L1004.3 956.3L1005.4 955.8L1006.5 956.0L1007.6 956.2L1008.7 959.6L1009.8 957.8L1010.8 960.7L1011.9 959.0L1013.0 960.6L1014.1 960.4L1015.2 961.1L1016.3 959.7L1017.3 959.9L1018.4 961.4L1019.5 962.6L1020.6 962.7L1021.7 963.6L1022.7 964.7L1023.8 965.8L1024.9 965.5L1026.0 964.7L1027.1 964.8L1028.2 964.4L1029.2 965.2L1030.3 966.2L1031.4 966.0L1032.5 966.1L1033.6 967.4L1034.7 967.2L1035.7 968.1L1036.8 967.3L1037.9 968.2L1039.0 966.2L1040.1 966.8L1041.1 967.8L1042.2 969.3L1043.3 969.3L1044.4 968.2L1045.5 969.1L1046.6 968.9L1047.6 970.4L1048.7 970.6L1049.8 969.7L1050.9 970.3L1052.0 971.4L1053.1 971.2L1054.1 970.3L1055.2 971.6L1056.3 971.4L1057.4 971.2L1058.5 973.0L1059.5 973.7L1060.6 974.4L1061.7 972.8L1062.8 974.6L1063.9 973.8L1065.0 972.7L1066.0 973.9L1067.1 972.5L1068.2 974.1L1069.3 973.9L1070.4 974.9L1071.4 975.3L1072.5 975.6L1073.6 977.4L1074.7 976.9L1075.8 976.8L1076.9 974.7L1077.9 975.3L1079.0 975.2L1080.1 976.5L1081.2 975.3L1082.3 975.5L1083.4 976.6L1084.4 976.2L1085.5 979.6L1086.6 979.7L1087.7 979.4L1088.8 980.1L1089.8 979.1L1090.9 978.4L1092.0 978.3L1093.1 977.5L1094.2 976.5L1095.3 976.0L1096.3 976.8L1097.4 976.9L1098.5 975.9L1099.6 977.8L1100.7 978.4L1101.8 977.9L1102.8 978.8L1103.9 978.2L1105.0 978.1L1106.1 977.7L1107.2 977.6L1108.2 979.0L1109.3 980.0L1110.4 978.1L1111.5 979.8L1112.6 980.4L1113.7 980.8L1114.7 978.8L1115.8 979.1L1116.9 980.0L1118.0 979.6L1119.1 979.6L1120.1 978.6L1121.2 979.8L1122.3 980.7L1123.4 982.2L1124.5 982.0L1125.6 981.6L1126.6 982.0L1127.7 981.7L1128.8 982.8L1129.9 982.5L1131.0 982.9L1132.1 983.9L1133.1 981.9L1134.2 982.3L1135.3 981.7L1136.4 983.2L1137.5 983.6L1138.5 983.2L1139.6 984.0L1140.7 983.0L1141.8 983.0L1142.9 982.3L1144.0 982.9L1145.0 984.2L1146.1 982.5L1147.2 984.0L1148.3 983.7L1149.4 982.6L1150.5 982.4L1151.5 981.3L1152.6 979.7L1153.7 980.8L1154.8 979.5L1155.9 980.5L1156.9 979.7L1158.0 980.2L1159.1 980.5L1160.2 979.4L1161.3 980.5L1162.4 980.4L1163.4 981.3L1164.5 978.6L1165.6 979.9L1166.7 979.9L1167.8 979.7L1168.9 979.5L1169.9 979.7L1171.0 979.1L1172.1 980.6L1173.2 979.0L1174.3 976.3L1175.3 975.1L1176.4 976.8L1177.5 976.1L1178.6 977.3L1179.7 976.7L1180.8 976.6L1181.8 975.8L1182.9 976.8L1184.0 975.2L1185.1 975.7L1186.2 975.9L1187.2 975.2L1188.3 976.6L1189.4 977.8L1190.5 977.4L1191.6 975.9L1192.7 977.7L1193.7 976.8L1194.8 976.7L1195.9 975.9L1197.0 974.1L1198.1 975.8L1199.2 974.9L1200.2 974.4L1201.3 974.0L1202.4 973.1L1203.5 972.6L1204.6 973.9L1205.6 973.9L1206.7 973.8L1207.8 973.1L1208.9 975.5L1210.0 975.4L1211.1 975.2L1212.1 975.6L1213.2 977.9L1214.3 976.2L1215.4 978.1L1216.5 975.8L1217.6 975.6L1218.6 978.2L1219.7 975.4L1220.8 975.5L1221.9 976.2L1223.0 973.9L1224.0 972.4L1225.1 973.3L1226.2 974.0L1227.3 973.4L1228.4 972.9L1229.5 972.6L1230.5 970.4L1231.6 971.2L1232.7 971.9L1233.8 971.1L1234.9 971.7L1236.0 971.7L1237.0 972.8L1238.1 972.7L1239.2 972.5L1240.3 974.0L1241.4 971.3L1242.4 971.9L1243.5 971.2L1244.6 968.1L1245.7 968.1L1246.8 964.9L1247.9 965.2L1248.9 963.3L1250.0 965.9L1251.1 966.8L1252.2 968.3L1253.3 969.3L1254.3 968.6L1255.4 970.1L1256.5 968.1L1257.6 968.0L1258.7 965.6L1259.8 968.3L1260.8 965.4L1261.9 965.9L1263.0 965.9L1264.1 966.5L1265.2 963.8L1266.3 965.8L1267.3 964.8L1268.4 965.7L1269.5 966.2L1270.6 966.0L1271.7 965.4L1272.7 966.9L1273.8 965.8L1274.9 965.5L1276.0 962.7L1277.1 963.0L1278.2 962.2L1279.2 960.1L1280.3 960.8L1281.4 959.6L1282.5 959.4L1283.6 958.0L1284.7 957.0L1285.7 956.7L1286.8 954.7L1287.9 954.4L1289.0 953.3L1290.1 952.8L1291.1 953.5L1292.2 953.8L1293.3 951.8L1294.4 951.2L1295.5 952.6L1296.6 950.6L1297.6 950.5L1298.7 950.2L1299.8 949.8L1300.9 949.4L1302.0 949.6L1303.1 950.1L1304.1 951.5L1305.2 953.4L1306.3 950.9L1307.4 952.6L1308.5 952.1L1309.5 948.9L1310.6 947.5L1311.7 945.4L1312.8 946.0L1313.9 946.9L1315.0 944.8L1316.0 945.8L1317.1 945.7L1318.2 945.9L1319.3 943.2L1320.4 944.9L1321.4 941.2L1322.5 942.9L1323.6 939.0L1324.7 941.4L1325.8 939.0L1326.9 937.2L1327.9 939.2L1329.0 940.0L1330.1 936.1L1331.2 938.1L1332.3 938.5L1333.4 936.3L1334.4 939.9L1335.5 939.3L1336.6 939.0L1337.7 938.5L1338.8 939.1L1339.8 935.3L1340.9 933.8L1342.0 934.1L1343.1 933.5L1344.2 934.4L1345.3 932.0L1346.3 933.5L1347.4 932.1L1348.5 931.2L1349.6 931.8L1350.7 933.8L1351.8 932.2L1352.8 929.3L1353.9 930.2L1355.0 928.5L1356.1 932.3L1357.2 929.7L1358.2 929.8L1359.3 932.0L1360.4 931.3L1361.5 928.8L1362.6 928.3L1363.7 928.7L1364.7 926.3L1365.8 924.0L1366.9 926.0L1368.0 924.3L1369.1 922.4L1370.1 923.1L1371.2 919.8L1372.3 920.1L1373.4 917.6L1374.5 917.1L1375.6 917.7L1376.6 918.0L1377.7 917.9L1378.8 916.0L1379.9 915.2L1381.0 913.4L1382.1 915.0L1383.1 914.7L1384.2 913.4L1385.3 914.8L1386.4 914.4L1387.5 912.3L1388.5 913.5L1389.6 912.6L1390.7 912.0L1391.8 912.3L1392.9 912.7L1394.0 911.7L1395.0 909.1L1396.1 906.3L1397.2 905.7L1398.3 904.4L1399.4 905.5L1400.5 906.8L1401.5 907.2L1402.6 904.9L1403.7 903.7L1404.8 902.9L1405.9 900.3L1406.9 901.5L1408.0 899.7L1409.1 898.7L1410.2 900.7L1411.3 897.8L1412.4 894.6L1413.4 894.1L1414.5 894.3L1415.6 896.2L1416.7 896.3L1417.8 895.6L1418.9 894.0L1419.9 894.5L1421.0 893.5L1422.1 891.2L1423.2 889.2L1424.3 890.9L1425.3 889.0L1426.4 887.0L1427.5 885.4L1428.6 884.5L1429.7 885.7L1430.8 882.9L1431.8 882.2L1432.9 879.6L1434.0 878.0L1435.1 877.8L1436.2 878.1L1437.2 878.4L1438.3 878.6L1439.4 875.8L1440.5 874.1L1441.6 872.3L1442.7 874.0L1443.7 873.8L1444.8 871.3L1445.9 872.9L1447.0 871.9L1448.1 872.8L1449.2 871.9L1450.2 870.3L1451.3 864.9L1452.4 864.8L1453.5 863.1L1454.6 859.2L1455.6 854.5L1456.7 854.8L1457.8 853.8L1458.9 853.4L1460.0 853.1L1461.1 853.1L1462.1 854.1L1463.2 849.0L1464.3 850.5L1465.4 847.8L1466.5 850.6L1467.6 847.0L1468.6 848.5L1469.7 847.5L1470.8 844.6L1471.9 842.1L1473.0 840.5L1474.0 840.0L1475.1 841.9L1476.2 839.7L1477.3 841.1L1478.4 840.8L1479.5 839.1L1480.5 838.7L1481.6 837.4L1482.7 840.9L1483.8 835.8L1484.9 836.6L1486.0 832.2L1487.0 829.9L1488.1 830.6L1489.2 827.2L1490.3 825.8L1491.4 827.1L1492.4 826.5L1493.5 824.9L1494.6 822.1L1495.7 819.5L1496.8 819.0L1497.9 815.7L1498.9 813.5L1500.0 813.1L1501.1 815.2L1502.2 814.6L1503.3 812.0L1504.3 810.2L1505.4 809.6L1506.5 809.7L1507.6 810.5L1508.7 807.0L1509.8 808.6L1510.8 805.3L1511.9 808.1L1513.0 804.5L1514.1 802.5L1515.2 796.5L1516.3 795.3L1517.3 796.3L1518.4 797.3L1519.5 791.9L1520.6 792.2L1521.7 792.5L1522.7 791.8L1523.8 787.9L1524.9 787.7L1526.0 787.0L1527.1 786.3L1528.2 786.3L1529.2 784.9L1530.3 782.1L1531.4 780.5L1532.5 778.4L1533.6 774.9L1534.7 777.2L1535.7 770.6L1536.8 770.9L1537.9 771.9L1539.0 770.6L1540.1 767.1L1541.1 766.5L1542.2 768.6L1543.3 765.3L1544.4 761.6L1545.5 758.1L1546.6 759.5L1547.6 760.2L1548.7 758.9L1549.8 758.9L1550.9 758.2L1552.0 755.0L1553.0 757.4L1554.1 751.2L1555.2 750.6L1556.3 750.3L1557.4 749.7L1558.5 749.2L1559.5 745.6L1560.6 745.2L1561.7 745.6L1562.8 743.3L1563.9 748.7L1565.0 745.2L1566.0 743.7L1567.1 738.6L1568.2 738.8L1569.3 738.9L1570.4 736.8L1571.4 736.5L1572.5 734.8L1573.6 736.5L1574.7 736.6L1575.8 735.0L1576.9 733.7L1577.9 729.3L1579.0 727.0L1580.1 726.9L1581.2 725.1L1582.3 721.8L1583.4 723.6L1584.4 722.6L1585.5 725.2L1586.6 724.1L1587.7 726.0L1588.8 723.6L1589.8 719.0L1590.9 715.5L1592.0 716.4L1593.1 715.6L1594.2 711.6L1595.3 708.5L1596.3 709.4L1597.4 706.2L1598.5 706.9L1599.6 707.7L1600.7 706.3L1601.8 704.2L1602.8 699.1L1603.9 701.4L1605.0 702.7L1606.1 701.9L1607.2 702.5L1608.2 704.6L1609.3 703.9L1610.4 703.5L1611.5 699.8L1612.6 696.1L1613.7 693.7L1614.7 694.6L1615.8 691.5L1616.9 693.2L1618.0 693.4L1619.1 690.9L1620.1 689.4L1621.2 689.9L1622.3 687.5L1623.4 686.8L1624.5 686.0L1625.6 686.0L1626.6 686.2L1627.7 677.9L1628.8 678.9L1629.9 674.0L1631.0 672.9L1632.1 674.4L1633.1 672.4L1634.2 675.7L1635.3 678.1L1636.4 677.8L1637.5 677.7L1638.5 676.8L1639.6 671.9L1640.7 671.7L1641.8 670.0L1642.9 666.9L1644.0 667.1L1645.0 663.3L1646.1 665.1L1647.2 663.6L1648.3 660.0L1649.4 662.4L1650.5 660.6L1651.5 659.2L1652.6 658.4L1653.7 658.7L1654.8 655.0L1655.9 651.0L1656.9 648.6L1658.0 643.4L1659.1 646.6L1660.2 647.0L1661.3 645.4L1662.4 645.0L1663.4 648.0L1664.5 643.5L1665.6 643.3L1666.7 644.7L1667.8 640.1L1668.9 641.9L1669.9 636.6L1671.0 632.4L1672.1 629.5L1673.2 625.0L1674.3 625.8L1675.3 625.9L1676.4 622.2L1677.5 621.2L1678.6 620.1L1679.7 620.2L1680.8 618.6L1681.8 620.3L1682.9 618.2L1684.0 620.8L1685.1 621.2L1686.2 617.6L1687.2 619.9L1688.3 616.8L1689.4 613.3L1690.5 613.8L1691.6 610.9L1692.7 613.4L1693.7 610.2L1694.8 615.7L1695.9 613.5L1697.0 608.0L1698.1 603.5L1699.2 601.1L1700.2 604.2L1701.3 602.6L1702.4 604.0L1703.5 606.4L1704.6 600.1L1705.6 600.4L1706.7 594.5L1707.8 594.4L1708.9 594.0L1710.0 592.5L1711.1 589.7L1712.1 587.5L1713.2 588.1L1714.3 581.8L1715.4 584.8L1716.5 587.0L1717.6 584.2L1718.6 581.8L1719.7 583.0L1720.8 584.2L1721.9 584.8L1723.0 584.9L1724.0 585.2L1725.1 583.5L1726.2 581.4L1727.3 582.2L1728.4 576.6L1729.5 577.2L1730.5 576.5L1731.6 573.9L1732.7 568.5L1733.8 572.7L1734.9 568.3L1736.0 564.1L1737.0 565.9L1738.1 570.2L1739.2 568.3L1740.3 567.7L1741.4 561.8L1742.4 566.4L1743.5 563.9L1744.6 562.4L1745.7 564.4L1746.8 565.0L1747.9 559.9L1748.9 556.8L1750.0 558.2L1751.1 553.9L1752.2 552.0L1753.3 551.1L1754.3 556.1L1755.4 549.2L1756.5 551.7L1757.6 551.9L1758.7 553.5L1759.8 553.0L1760.8 552.6L1761.9 548.5L1763.0 545.9L1764.1 547.7L1765.2 542.7L1766.3 543.4L1767.3 539.7L1768.4 539.7L1769.5 537.2L1770.6 535.7L1771.7 540.1L1772.7 541.7L1773.8 541.2L1774.9 536.2L1776.0 535.5L1777.1 529.9L1778.2 529.8L1779.2 527.5L1780.3 531.6L1781.4 533.4L1782.5 533.8L1783.6 531.3L1784.7 533.4L1785.7 529.4L1786.8 533.9L1787.9 529.6L1789.0 527.3L1790.1 530.0L1791.1 526.5L1792.2 528.5L1793.3 524.8L1794.4 525.0L1795.5 522.9L1796.6 525.5L1797.6 525.5L1798.7 522.1L1799.8 519.1L1800.9 516.6L1802.0 514.4L1803.0 510.6L1804.1 512.8L1805.2 511.2L1806.3 512.2L1807.4 510.1L1808.5 504.8L1809.5 504.3L1810.6 507.9L1811.7 498.8L1812.8 506.0L1813.9 502.9L1815.0 499.9L1816.0 503.0L1817.1 502.5L1818.2 501.8L1819.3 501.4L1820.4 504.3L1821.4 498.0L1822.5 497.9L1823.6 499.3L1824.7 495.2L1825.8 492.8L1826.9 495.1L1827.9 497.5L1829.0 494.9L1830.1 499.2L1831.2 499.2L1832.3 500.5L1833.4 496.8L1834.4 500.6L1835.5 496.1L1836.6 492.1L1837.7 495.8L1838.8 490.9L1839.8 495.9L1840.9 492.3L1842.0 491.9L1843.1 493.8L1844.2 495.0L1845.3 488.7L1846.3 487.0L1847.4 482.8L1848.5 481.5L1849.6 478.4L1850.7 474.5L1851.8 476.7L1852.8 481.8L1853.9 477.1L1855.0 477.9L1856.1 480.0L1857.2 476.1L1858.2 478.8L1859.3 480.4L1860.4 480.1L1861.5 485.0L1862.6 479.4L1863.7 480.8L1864.7 475.4L1865.8 474.6L1866.9 472.3L1868.0 469.0L1869.1 470.3L1870.1 465.5L1871.2 462.3L1872.3 459.2L1873.4 460.1L1874.5 458.5L1875.6 458.8L1876.6 463.7L1877.7 464.7L1878.8 469.1L1879.9 473.3L1881.0 474.7L1882.1 467.7L1883.1 462.8L1884.2 459.0L1885.3 461.9L1886.4 453.9L1887.5 452.9L1888.5 459.0L1889.6 456.2L1890.7 453.6L1891.8 457.4L1892.9 454.0L1894.0 456.8L1895.0 454.1L1896.1 447.9L1897.2 447.4L1898.3 444.4L1899.4 444.0L1900.5 446.2L1901.5 439.6L1902.6 443.2L1903.7 445.5L1904.8 446.3L1905.9 445.9L1906.9 448.3L1908.0 442.7L1909.1 446.0L1910.2 445.6L1911.3 451.6L1912.4 452.9L1913.4 453.2L1914.5 449.1L1915.6 451.8L1916.7 444.6L1917.8 446.2L1918.9 442.2L1919.9 445.2L1921.0 440.9L1922.1 444.3L1923.2 442.7L1924.3 436.7L1925.3 438.1L1926.4 432.6L1927.5 436.6L1928.6 434.5L1929.7 439.2L1930.8 442.6L1931.8 435.4L1932.9 438.3L1934.0 433.8L1935.1 434.6L1936.2 437.2L1937.2 432.0L1938.3 432.3L1939.4 433.3L1940.5 433.9L1941.6 439.2L1942.7 440.5L1943.7 438.6L1944.8 440.7L1945.9 433.0L1947.0 429.5L1948.1 428.3L1949.2 429.7L1950.2 423.9L1951.3 426.8L1952.4 422.4L1953.5 426.7L1954.6 424.9L1955.6 423.4L1956.7 423.3L1957.8 422.1L1958.9 420.1L1960.0 426.8L1961.1 417.4L1962.1 423.3L1963.2 424.9L1964.3 428.6L1965.4 424.8L1966.5 425.6L1967.6 424.9L1968.6 427.5L1969.7 423.0L1970.8 427.6L1971.9 421.6L1973.0 422.5L1974.0 421.0L1975.1 419.1L1976.2 414.7L1977.3 412.9L1978.4 414.7L1979.5 416.6L1980.5 409.6L1981.6 415.7L1982.7 411.4L1983.8 409.8L1984.9 410.2L1985.9 403.3L1987.0 406.2L1988.1 406.0L1989.2 410.5L1990.3 407.9L1991.4 412.2L1992.4 412.5L1993.5 410.7L1994.6 409.3L1995.7 409.2L1996.8 410.5L1997.9 414.5L1998.9 411.7L2000.0 418.1L2001.1 413.0L2002.2 414.0L2003.3 407.3L2004.3 414.0L2005.4 399.2L2006.5 401.3L2007.6 401.3L2008.7 393.9L2009.8 391.9L2010.8 391.9L2011.9 387.8L2013.0 395.9L2014.1 393.3L2015.2 393.7L2016.3 396.6L2017.3 395.2L2018.4 395.0L2019.5 401.4L2020.6 397.6L2021.7 393.7L2022.7 391.8L2023.8 393.8L2024.9 385.9L2026.0 386.4L2027.1 383.1L2028.2 387.2L2029.2 383.4L2030.3 393.9L2031.4 391.5L2032.5 395.5L2033.6 390.3L2034.7 391.6L2035.7 398.6L2036.8 392.9L2037.9 394.9L2039.0 397.5L2040.1 393.2L2041.1 388.1L2042.2 385.3L2043.3 385.9L2044.4 382.3L2045.5 382.9L2046.6 382.5L2047.6 385.4L2048.7 380.9L2049.8 378.5L2050.9 383.0L2052.0 373.7L2053.0 374.5L2054.1 378.4L2055.2 375.2L2056.3 383.3L2057.4 384.9L2058.5 384.1L2059.5 384.4L2060.6 376.6L2061.7 382.2L2062.8 382.6L2063.9 382.3L2065.0 380.9L2066.0 385.5L2067.1 387.9L2068.2 386.5L2069.3 385.2L2070.4 388.6L2071.4 384.5L2072.5 387.0L2073.6 387.2L2074.7 380.6L2075.8 373.0L2076.9 374.5L2077.9 366.2L2079.0 366.4L2080.1 367.4L2081.2 367.8L2082.3 368.6L2083.4 371.2L2084.4 374.0L2085.5 375.1L2086.6 380.2L2087.7 379.4L2088.8 381.5L2089.8 380.1L2090.9 378.0L2092.0 376.8L2093.1 371.5L2094.2 371.8L2095.3 367.9L2096.3 364.7L2097.4 362.4L2098.5 367.0L2099.6 364.4L2100.7 364.6L2101.8 371.7L2102.8 366.9L2103.9 372.5L2105.0 372.1L2106.1 373.0L2107.2 379.9L2108.2 377.4L2109.3 378.2L2110.4 377.6L2111.5 372.6L2112.6 375.2L2113.7 377.2L2114.7 372.1L2115.8 374.6L2116.9 373.9L2118.0 376.5L2119.1 376.9L2120.1 379.8L2121.2 381.9L2122.3 382.0L2123.4 383.6L2124.5 380.8L2125.6 371.9L2126.6 377.8L2127.7 379.9L2128.8 372.2L2129.9 376.0L2131.0 375.5L2132.1 374.4L2133.1 372.4L2134.2 371.9L2135.3 371.7L2136.4 371.2L2137.5 367.8L2138.5 369.8L2139.6 375.2L2140.7 375.7L2141.8 382.1L2142.9 377.5L2144.0 379.5L2145.0 373.6L2146.1 380.9L2147.2 373.1L2148.3 379.8L2149.4 381.4L2150.5 376.1L2151.5 370.7L2152.6 367.6L2153.7 371.7L2154.8 367.0L2155.9 374.7L2156.9 377.3L2158.0 380.5L2159.1 378.0L2160.2 384.8L2161.3 385.6L2162.4 392.9L2163.4 387.7L2164.5 386.4L2165.6 380.8L2166.7 386.0L2167.8 382.4L2168.9 381.0L2169.9 380.8L2171.0 378.5L2172.1 385.0L2173.2 381.4L2174.3 386.8L2175.3 389.6L2176.4 387.3L2177.5 386.4L2178.6 383.1L2179.7 372.8L2180.8 371.9L2181.8 376.9L2182.9 376.6L2184.0 372.6L2185.1 380.8L2186.2 376.2L2187.2 373.4L2188.3 372.6L2189.4 370.7L2190.5 370.2L2191.6 371.9L2192.7 379.5L2193.7 377.7L2194.8 380.5L2195.9 386.4L2197.0 380.0L2198.1 382.7L2199.2 384.9L2200.2 379.8L2201.3 370.9L2202.4 367.7L2203.5 370.6L2204.6 373.9L2205.6 371.5L2206.7 369.8L2207.8 373.8L2208.9 377.8L2210.0 372.6L2211.1 375.8L2212.1 376.8L2213.2 377.6L2214.3 378.4L2215.4 381.9L2216.5 385.5L2217.6 383.1L2218.6 383.5L2219.7 379.5L2220.8 385.9L2221.9 381.7L2223.0 384.5L2224.0 380.0L2225.1 382.7L2226.2 386.6L2227.3 377.3L2228.4 380.9L2229.5 380.0L2230.5 380.3L2231.6 379.4L2232.7 379.1L2233.8 376.1L2234.9 378.3L2235.9 381.5L2237.0 381.6L2238.1 387.3L2239.2 383.5L2240.3 383.7L2241.4 378.7L2242.4 376.8L2243.5 377.8L2244.6 372.8L2245.7 375.2" stroke="#FFBE2E" stroke-width="10" stroke-dasharray="13 11"/>
<path d="M381.0 757.6L382.1 757.6L383.1 757.7L384.2 758.0L385.3 758.3L386.4 758.8L387.5 759.3L388.5 759.9L389.6 760.6L390.7 761.4L391.8 762.2L392.9 763.1L394.0 764.0L395.0 765.0L396.1 766.1L397.2 767.1L398.3 768.3L399.4 769.4L400.5 770.6L401.5 771.8L402.6 773.0L403.7 774.2L404.8 775.5L405.9 776.8L406.9 778.2L408.0 779.9L409.1 781.8L410.2 783.8L411.3 786.0L412.4 788.3L413.4 790.8L414.5 793.4L415.6 796.1L416.7 798.8L417.8 801.6L418.9 804.3L419.9 807.1L421.0 809.8L422.1 812.5L423.2 815.1L424.3 817.7L425.3 820.2L426.4 822.7L427.5 825.4L428.6 828.0L429.7 830.6L430.8 833.3L431.8 836.0L432.9 838.6L434.0 841.4L435.1 844.0L436.2 846.7L437.3 849.4L438.3 852.0L439.4 854.6L440.5 857.2L441.6 859.7L442.7 862.2L443.7 864.5L444.8 866.9L445.9 869.2L447.0 871.5L448.1 873.8L449.2 876.0L450.2 878.2L451.3 880.4L452.4 882.6L453.5 884.7L454.6 886.8L455.6 888.9L456.7 890.9L457.8 893.1L458.9 895.2L460.0 897.2L461.1 899.2L462.1 901.2L463.2 903.2L464.3 905.3L465.4 907.2L466.5 909.2L467.6 911.2L468.6 913.2L469.7 915.1L470.8 917.1L471.9 919.0L473.0 920.9L474.0 922.7L475.1 924.5L476.2 926.3L477.3 928.1L478.4 929.8L479.5 931.4L480.5 933.2L481.6 934.8L482.7 936.4L483.8 938.1L484.9 939.7L486.0 941.3L487.0 942.7L488.1 944.3L489.2 945.8L490.3 947.2L491.4 948.7L492.4 950.0L493.5 951.2L494.6 952.4L495.7 953.6L496.8 954.7L497.9 955.8L498.9 956.9L500.0 957.9L501.1 959.0L502.2 960.0L503.3 961.2L504.3 962.2L505.4 963.3L506.5 964.2L507.6 965.2L508.7 966.1L509.8 967.0L510.8 967.9L511.9 969.0L513.0 969.7L514.1 970.7L515.2 971.4L516.3 972.2L517.3 972.9L518.4 973.7L519.5 974.4L520.6 975.1L521.7 975.9L522.7 976.6L523.8 977.2L524.9 977.8L526.0 978.4L527.1 978.9L528.2 979.4L529.2 980.0L530.3 980.6L531.4 981.2L532.5 981.8L533.6 982.5L534.7 983.0L535.7 983.4L536.8 983.9L537.9 984.5L539.0 984.9L540.1 985.4L541.1 985.8L542.2 986.3L543.3 986.7L544.4 987.0L545.5 987.7L546.6 988.1L547.6 988.5L548.7 989.1L549.8 989.4L550.9 989.6L552.0 990.0L553.1 990.4L554.1 990.5L555.2 991.1L556.3 991.1L557.4 991.7L558.5 992.0L559.5 992.1L560.6 992.4L561.7 992.6L562.8 992.8L563.9 993.2L565.0 993.4L566.0 993.5L567.1 993.6L568.2 994.1L569.3 994.3L570.4 994.6L571.4 994.8L572.5 994.8L573.6 994.9L574.7 995.1L575.8 995.2L576.9 995.7L577.9 995.7L579.0 995.9L580.1 996.4L581.2 996.5L582.3 996.7L583.4 996.9L584.4 996.8L585.5 996.8L586.6 997.0L587.7 997.3L588.8 997.0L589.8 997.1L590.9 997.3L592.0 997.4L593.1 997.5L594.2 997.4L595.3 997.7L596.3 997.5L597.4 997.5L598.5 997.3L599.6 997.2L600.7 997.0L601.8 997.1L602.8 996.8L603.9 996.6L605.0 997.1L606.1 996.6L607.2 996.8L608.2 996.9L609.3 996.7L610.4 996.8L611.5 996.7L612.6 996.4L613.7 996.6L614.7 996.5L615.8 996.5L616.9 996.4L618.0 996.5L619.1 996.3L620.2 996.3L621.2 995.9L622.3 996.0L623.4 995.7L624.5 995.4L625.6 995.4L626.6 995.7L627.7 995.3L628.8 996.3L629.9 995.7L631.0 996.4L632.1 996.0L633.1 995.5L634.2 995.1L635.3 995.0L636.4 994.6L637.5 994.0L638.5 994.5L639.6 994.0L640.7 993.9L641.8 993.8L642.9 994.1L644.0 993.9L645.0 993.9L646.1 993.2L647.2 993.4L648.3 993.5L649.4 993.7L650.5 993.5L651.5 994.2L652.6 993.4L653.7 993.6L654.8 993.9L655.9 992.8L656.9 993.4L658.0 993.2L659.1 993.7L660.2 993.6L661.3 993.0L662.4 993.3L663.4 993.1L664.5 993.4L665.6 992.7L666.7 993.2L667.8 992.8L668.9 993.3L669.9 993.0L671.0 992.9L672.1 993.3L673.2 992.7L674.3 993.2L675.3 992.3L676.4 992.4L677.5 992.4L678.6 991.4L679.7 991.5L680.8 991.7L681.8 991.3L682.9 991.5L684.0 991.3L685.1 992.2L686.2 991.2L687.2 992.1L688.3 992.0L689.4 992.1L690.5 991.9L691.6 991.1L692.7 991.6L693.7 992.1L694.8 991.6L695.9 991.3L697.0 990.7L698.1 991.1L699.2 990.6L700.2 989.7L701.3 990.5L702.4 990.4L703.5 991.0L704.6 990.3L705.6 991.0L706.7 990.1L707.8 990.5L708.9 990.5L710.0 990.9L711.1 990.5L712.1 990.5L713.2 990.0L714.3 990.1L715.4 990.0L716.5 989.7L717.6 989.6L718.6 989.7L719.7 988.9L720.8 988.9L721.9 989.4L723.0 988.0L724.0 988.7L725.1 988.5L726.2 988.5L727.3 990.5L728.4 990.1L729.5 990.3L730.5 990.4L731.6 990.7L732.7 990.4L733.8 991.5L734.9 991.3L736.0 990.5L737.0 991.6L738.1 990.9L739.2 990.7L740.3 990.4L741.4 990.2L742.4 990.6L743.5 991.0L744.6 990.9L745.7 990.2L746.8 990.1L747.9 990.1L748.9 990.1L750.0 990.2L751.1 991.1L752.2 990.5L753.3 990.5L754.3 991.7L755.4 990.9L756.5 990.6L757.6 989.5L758.7 990.3L759.8 990.3L760.8 991.0L761.9 991.2L763.0 991.8L764.1 992.4L765.2 991.0L766.3 991.1L767.3 990.7L768.4 991.4L769.5 991.0L770.6 990.9L771.7 989.2L772.7 989.8L773.8 991.3L774.9 991.2L776.0 991.3L777.1 991.9L778.2 991.6L779.2 990.9L780.3 990.9L781.4 990.7L782.5 991.3L783.6 991.9L784.7 992.0L785.7 992.8L786.8 992.1L787.9 993.1L789.0 992.9L790.1 993.1L791.1 993.1L792.2 992.6L793.3 992.8L794.4 993.2L795.5 992.5L796.6 992.2L797.6 993.4L798.7 993.7L799.8 994.0L800.9 994.4L802.0 993.3L803.1 993.4L804.1 994.2L805.2 993.7L806.3 994.1L807.4 992.5L808.5 993.0L809.5 992.3L810.6 991.4L811.7 993.6L812.8 992.0L813.9 992.3L815.0 993.1L816.0 993.3L817.1 993.0L818.2 994.6L819.3 995.1L820.4 993.9L821.4 995.1L822.5 995.9L823.6 996.0L824.7 996.7L825.8 997.3L826.9 996.9L827.9 996.6L829.0 996.9L830.1 997.3L831.2 996.1L832.3 995.9L833.4 996.0L834.4 995.4L835.5 995.6L836.6 995.4L837.7 996.2L838.8 996.7L839.8 996.8L840.9 997.1L842.0 998.2L843.1 998.4L844.2 997.1L845.3 998.3L846.3 997.9L847.4 998.6L848.5 998.5L849.6 997.9L850.7 997.8L851.8 999.7L852.8 999.9L853.9 1000.6L855.0 998.8L856.1 998.1L857.2 998.9L858.2 999.1L859.3 998.4L860.4 999.9L861.5 999.4L862.6 999.4L863.7 999.9L864.7 1000.5L865.8 1001.4L866.9 1001.1L868.0 1001.1L869.1 998.9L870.2 998.9L871.2 999.5L872.3 999.6L873.4 999.6L874.5 1000.4L875.6 999.7L876.6 999.8L877.7 999.5L878.8 999.5L879.9 1000.9L881.0 999.5L882.1 1000.0L883.1 1000.3L884.2 997.9L885.3 1000.1L886.4 1000.3L887.5 1001.1L888.5 1002.1L889.6 1000.6L890.7 1002.9L891.8 1001.1L892.9 1001.7L894.0 1000.2L895.0 1000.7L896.1 1001.5L897.2 1003.2L898.3 1002.1L899.4 1002.4L900.5 1003.0L901.5 1004.0L902.6 1003.4L903.7 1004.5L904.8 1004.2L905.9 1004.3L906.9 1004.8L908.0 1005.7L909.1 1005.2L910.2 1005.2L911.3 1005.3L912.4 1003.6L913.4 1004.4L914.5 1004.8L915.6 1005.2L916.7 1005.2L917.8 1006.4L918.9 1007.0L919.9 1006.5L921.0 1006.5L922.1 1006.7L923.2 1006.1L924.3 1004.1L925.3 1005.3L926.4 1004.6L927.5 1005.5L928.6 1006.4L929.7 1007.1L930.8 1006.0L931.8 1008.1L932.9 1008.5L934.0 1009.5L935.1 1008.9L936.2 1009.4L937.2 1008.0L938.3 1008.5L939.4 1007.1L940.5 1007.2L941.6 1007.4L942.7 1008.8L943.7 1007.6L944.8 1006.9L945.9 1008.5L947.0 1009.1L948.1 1007.9L949.2 1008.7L950.2 1008.6L951.3 1008.4L952.4 1009.9L953.5 1008.7L954.6 1010.1L955.6 1010.5L956.7 1009.9L957.8 1008.1L958.9 1009.1L960.0 1007.9L961.1 1008.7L962.1 1007.7L963.2 1008.8L964.3 1009.0L965.4 1010.4L966.5 1010.8L967.6 1012.5L968.6 1010.5L969.7 1010.0L970.8 1010.6L971.9 1011.0L973.0 1010.8L974.0 1011.0L975.1 1012.6L976.2 1011.7L977.3 1010.6L978.4 1010.3L979.5 1010.5L980.5 1011.1L981.6 1009.4L982.7 1009.8L983.8 1009.5L984.9 1011.3L986.0 1012.2L987.0 1011.4L988.1 1011.8L989.2 1012.6L990.3 1013.7L991.4 1015.0L992.4 1015.0L993.5 1015.5L994.6 1015.4L995.7 1015.0L996.8 1014.4L997.9 1012.7L998.9 1014.0L1000.0 1013.0L1001.1 1015.1L1002.2 1015.6L1003.3 1015.6L1004.3 1017.0L1005.4 1014.0L1006.5 1015.3L1007.6 1014.7L1008.7 1013.7L1009.8 1014.6L1010.8 1014.1L1011.9 1016.9L1013.0 1014.1L1014.1 1015.2L1015.2 1015.7L1016.3 1014.3L1017.3 1015.4L1018.4 1016.0L1019.5 1017.2L1020.6 1014.4L1021.7 1017.6L1022.7 1016.2L1023.8 1015.5L1024.9 1016.5L1026.0 1017.7L1027.1 1017.8L1028.2 1018.0L1029.2 1016.8L1030.3 1017.0L1031.4 1018.4L1032.5 1018.8L1033.6 1016.7L1034.7 1019.1L1035.7 1019.2L1036.8 1015.9L1037.9 1017.8L1039.0 1018.1L1040.1 1017.8L1041.1 1016.4L1042.2 1018.4L1043.3 1018.9L1044.4 1021.1L1045.5 1019.9L1046.6 1019.2L1047.6 1018.9L1048.7 1017.6L1049.8 1018.5L1050.9 1020.9L1052.0 1020.7L1053.1 1020.1L1054.1 1018.9L1055.2 1018.0L1056.3 1017.4L1057.4 1019.4L1058.5 1019.8L1059.5 1017.5L1060.6 1019.2L1061.7 1019.8L1062.8 1018.2L1063.9 1017.2L1065.0 1017.4L1066.0 1017.1L1067.1 1014.9L1068.2 1016.6L1069.3 1015.7L1070.4 1016.1L1071.4 1016.4L1072.5 1014.3L1073.6 1017.3L1074.7 1013.3L1075.8 1015.3L1076.9 1014.0L1077.9 1012.9L1079.0 1012.0L1080.1 1012.5L1081.2 1013.7L1082.3 1014.1L1083.4 1012.9L1084.4 1013.0L1085.5 1015.2L1086.6 1013.9L1087.7 1014.6L1088.8 1014.9L1089.8 1015.6L1090.9 1015.1L1092.0 1013.2L1093.1 1014.9L1094.2 1013.0L1095.3 1012.0L1096.3 1013.6L1097.4 1009.9L1098.5 1009.7L1099.6 1011.6L1100.7 1010.4L1101.8 1010.0L1102.8 1010.2L1103.9 1009.9L1105.0 1008.7L1106.1 1007.2L1107.2 1008.6L1108.2 1008.2L1109.3 1007.5L1110.4 1008.2L1111.5 1006.7L1112.6 1007.4L1113.7 1007.8L1114.7 1006.3L1115.8 1008.0L1116.9 1005.7L1118.0 1004.7L1119.1 1002.8L1120.1 1002.6L1121.2 1000.8L1122.3 999.3L1123.4 997.7L1124.5 998.2L1125.6 998.1L1126.6 998.8L1127.7 997.6L1128.8 1000.0L1129.9 997.4L1131.0 996.9L1132.1 997.1L1133.1 997.6L1134.2 994.3L1135.3 994.9L1136.4 992.3L1137.5 993.5L1138.5 993.5L1139.6 992.9L1140.7 993.3L1141.8 992.2L1142.9 991.0L1144.0 991.0L1145.0 990.1L1146.1 988.3L1147.2 986.8L1148.3 986.3L1149.4 985.2L1150.5 984.9L1151.5 985.5L1152.6 985.4L1153.7 985.9L1154.8 984.9L1155.9 985.5L1156.9 985.1L1158.0 985.7L1159.1 987.0L1160.2 985.9L1161.3 985.1L1162.4 983.7L1163.4 983.5L1164.5 981.4L1165.6 983.1L1166.7 982.5L1167.8 980.4L1168.9 980.6L1169.9 979.1L1171.0 978.3L1172.1 976.5L1173.2 979.9L1174.3 979.2L1175.3 977.8L1176.4 978.7L1177.5 977.5L1178.6 974.9L1179.7 975.7L1180.8 975.4L1181.8 974.1L1182.9 977.0L1184.0 974.4L1185.1 974.3L1186.2 973.2L1187.2 973.7L1188.3 971.5L1189.4 970.1L1190.5 968.1L1191.6 968.7L1192.7 966.7L1193.7 970.2L1194.8 967.7L1195.9 967.2L1197.0 968.9L1198.1 967.7L1199.2 966.1L1200.2 964.5L1201.3 962.1L1202.4 961.4L1203.5 960.0L1204.6 958.6L1205.6 956.6L1206.7 955.6L1207.8 956.5L1208.9 958.3L1210.0 958.4L1211.1 959.4L1212.1 958.6L1213.2 957.3L1214.3 956.5L1215.4 953.9L1216.5 955.1L1217.6 952.8L1218.6 952.8L1219.7 949.5L1220.8 948.9L1221.9 945.9L1223.0 944.4L1224.0 944.3L1225.1 941.5L1226.2 940.4L1227.3 938.9L1228.4 938.8L1229.5 937.3L1230.5 935.8L1231.6 934.9L1232.7 931.6L1233.8 932.9L1234.9 931.4L1236.0 930.5L1237.0 929.8L1238.1 928.8L1239.2 926.9L1240.3 925.8L1241.4 923.3L1242.4 921.9L1243.5 922.2L1244.6 920.9L1245.7 919.6L1246.8 919.5L1247.9 918.6L1248.9 917.2L1250.0 914.8L1251.1 914.3L1252.2 914.4L1253.3 913.2L1254.3 911.6L1255.4 914.6L1256.5 912.0L1257.6 912.4L1258.7 908.5L1259.8 909.6L1260.8 908.7L1261.9 908.5L1263.0 909.6L1264.1 907.5L1265.2 903.2L1266.3 904.6L1267.3 904.3L1268.4 903.1L1269.5 902.8L1270.6 903.9L1271.7 902.2L1272.7 901.9L1273.8 904.8L1274.9 903.8L1276.0 907.4L1277.1 907.4L1278.2 905.0L1279.2 905.2L1280.3 904.0L1281.4 907.7L1282.5 906.2L1283.6 906.3L1284.7 904.0L1285.7 905.0L1286.8 905.7L1287.9 905.4L1289.0 907.1L1290.1 905.9L1291.1 908.4L1292.2 907.0L1293.3 908.5L1294.4 908.8L1295.5 910.6L1296.6 910.7L1297.6 910.0L1298.7 906.4L1299.8 908.7L1300.9 903.6L1302.0 905.5L1303.1 907.3L1304.1 905.7L1305.2 908.8L1306.3 908.1L1307.4 909.4L1308.5 907.3L1309.5 907.6L1310.6 908.1L1311.7 910.4L1312.8 908.7L1313.9 910.9L1315.0 912.6L1316.0 913.6L1317.1 914.6L1318.2 917.4L1319.3 915.4L1320.4 918.9L1321.4 916.6L1322.5 918.0L1323.6 918.4L1324.7 920.3L1325.8 918.0L1326.9 920.4L1327.9 920.4L1329.0 924.0L1330.1 925.5L1331.2 926.5L1332.3 926.9L1333.4 931.2L1334.4 930.6L1335.5 931.0L1336.6 930.4L1337.7 930.7L1338.8 928.8L1339.8 929.7L1340.9 930.6L1342.0 930.4L1343.1 930.6L1344.2 932.8L1345.3 933.2L1346.3 932.4L1347.4 931.1L1348.5 937.8L1349.6 936.9L1350.7 936.7L1351.8 939.4L1352.8 938.6L1353.9 940.6L1355.0 943.5L1356.1 942.9L1357.2 942.7L1358.2 944.1L1359.3 941.6L1360.4 942.2L1361.5 943.6L1362.6 943.6L1363.7 946.3L1364.7 947.7L1365.8 950.7L1366.9 948.3L1368.0 950.9L1369.1 948.9L1370.1 946.8L1371.2 947.4L1372.3 949.3L1373.4 948.6L1374.5 949.1L1375.6 949.2L1376.6 951.1L1377.7 953.6L1378.8 952.4L1379.9 954.1L1381.0 953.2L1382.1 953.5L1383.1 957.4L1384.2 956.0L1385.3 952.7L1386.4 951.6L1387.5 953.0L1388.5 953.6L1389.6 956.7L1390.7 951.2L1391.8 954.7L1392.9 951.9L1394.0 951.5L1395.0 953.1L1396.1 951.0L1397.2 951.0L1398.3 953.1L1399.4 951.8L1400.5 949.0L1401.5 947.1L1402.6 947.2L1403.7 949.6L1404.8 951.3L1405.9 953.6L1406.9 958.0L1408.0 957.2L1409.1 955.4L1410.2 955.5L1411.3 954.8L1412.4 951.6L1413.4 952.7L1414.5 952.2L1415.6 954.2L1416.7 955.0L1417.8 956.8L1418.9 955.1L1419.9 957.9L1421.0 956.2L1422.1 953.4L1423.2 951.3L1424.3 951.6L1425.3 953.0L1426.4 949.7L1427.5 950.6L1428.6 948.5L1429.7 949.0L1430.8 943.7L1431.8 943.8L1432.9 947.4L1434.0 949.0L1435.1 947.3L1436.2 945.6L1437.2 944.1L1438.3 945.2L1439.4 945.2L1440.5 940.9L1441.6 940.0L1442.7 941.5L1443.7 938.1L1444.8 937.1L1445.9 937.5L1447.0 933.6L1448.1 930.8L1449.2 929.8L1450.2 932.1L1451.3 930.9L1452.4 928.1L1453.5 929.1L1454.6 928.8L1455.6 925.1L1456.7 932.6L1457.8 930.1L1458.9 931.1L1460.0 930.5L1461.1 927.5L1462.1 930.5L1463.2 930.1L1464.3 927.9L1465.4 926.4L1466.5 923.3L1467.6 917.9L1468.6 921.6L1469.7 920.6L1470.8 920.7L1471.9 924.2L1473.0 920.5L1474.0 921.5L1475.1 923.7L1476.2 919.6L1477.3 917.5L1478.4 917.1L1479.5 911.9L1480.5 914.0L1481.6 915.5L1482.7 912.1L1483.8 915.9L1484.9 917.9L1486.0 922.9L1487.0 922.2L1488.1 920.9L1489.2 918.8L1490.3 918.1L1491.4 913.9L1492.4 911.7L1493.5 912.3L1494.6 912.1L1495.7 907.2L1496.8 909.2L1497.9 906.9L1498.9 908.7L1500.0 906.2L1501.1 905.7L1502.2 905.9L1503.3 903.1L1504.3 904.6L1505.4 903.0L1506.5 901.5L1507.6 898.0L1508.7 905.1L1509.8 901.1L1510.8 899.9L1511.9 901.4L1513.0 898.6L1514.1 898.1L1515.2 896.9L1516.3 897.8L1517.3 896.3L1518.4 895.5L1519.5 896.9L1520.6 894.9L1521.7 896.3L1522.7 895.7L1523.8 896.3L1524.9 890.6L1526.0 892.9L1527.1 893.4L1528.2 889.5L1529.2 890.0L1530.3 886.4L1531.4 885.2L1532.5 882.4L1533.6 880.8L1534.7 884.7L1535.7 877.6L1536.8 877.9L1537.9 881.4L1539.0 875.7L1540.1 876.8L1541.1 874.7L1542.2 872.9L1543.3 873.8L1544.4 874.8L1545.5 873.0L1546.6 875.3L1547.6 877.1L1548.7 876.8L1549.8 870.0L1550.9 873.3L1552.0 868.6L1553.0 867.3L1554.1 867.7L1555.2 862.9L1556.3 864.6L1557.4 864.9L1558.5 861.8L1559.5 862.8L1560.6 859.3L1561.7 855.9L1562.8 858.4L1563.9 856.8L1565.0 852.3L1566.0 856.3L1567.1 853.5L1568.2 852.8L1569.3 854.1L1570.4 851.7L1571.4 851.8L1572.5 852.7L1573.6 852.8L1574.7 850.5L1575.8 849.5L1576.9 848.0L1577.9 850.5L1579.0 849.3L1580.1 845.0L1581.2 846.2L1582.3 843.9L1583.4 846.1L1584.4 843.1L1585.5 843.2L1586.6 839.8L1587.7 836.4L1588.8 837.1L1589.8 831.8L1590.9 837.4L1592.0 831.6L1593.1 835.4L1594.2 831.0L1595.3 831.3L1596.3 827.9L1597.4 825.7L1598.5 826.1L1599.6 826.1L1600.7 824.2L1601.8 821.8L1602.8 820.3L1603.9 819.4L1605.0 827.3L1606.1 823.5L1607.2 826.1L1608.2 824.3L1609.3 823.2L1610.4 821.5L1611.5 820.6L1612.6 820.3L1613.7 815.7L1614.7 816.9L1615.8 816.0L1616.9 812.4L1618.0 815.6L1619.1 813.7L1620.1 807.7L1621.2 810.9L1622.3 814.0L1623.4 808.1L1624.5 807.3L1625.6 811.6L1626.6 812.1L1627.7 808.2L1628.8 806.1L1629.9 806.9L1631.0 805.6L1632.1 801.4L1633.1 800.8L1634.2 805.7L1635.3 804.5L1636.4 803.3L1637.5 804.3L1638.5 802.3L1639.6 800.2L1640.7 795.4L1641.8 796.4L1642.9 792.8L1644.0 796.5L1645.0 794.3L1646.1 790.5L1647.2 797.3L1648.3 791.3L1649.4 792.5L1650.5 792.1L1651.5 791.0L1652.6 790.3L1653.7 787.7L1654.8 785.1L1655.9 782.3L1656.9 776.8L1658.0 781.8L1659.1 780.7L1660.2 783.0L1661.3 780.3L1662.4 781.2L1663.4 778.2L1664.5 775.9L1665.6 778.4L1666.7 779.2L1667.8 775.6L1668.9 775.5L1669.9 776.3L1671.0 779.0L1672.1 777.4L1673.2 781.7L1674.3 778.8L1675.3 777.9L1676.4 781.4L1677.5 771.5L1678.6 764.4L1679.7 766.9L1680.8 765.2L1681.8 758.4L1682.9 761.9L1684.0 758.4L1685.1 758.5L1686.2 761.3L1687.2 760.8L1688.3 764.1L1689.4 764.1L1690.5 760.7L1691.6 763.8L1692.7 762.8L1693.7 761.5L1694.8 756.6L1695.9 757.0L1697.0 756.2L1698.1 751.4L1699.2 755.1L1700.2 752.3L1701.3 744.5L1702.4 738.7L1703.5 743.5L1704.6 742.5L1705.6 749.5L1706.7 749.1L1707.8 751.6L1708.9 750.5L1710.0 753.0L1711.1 744.9L1712.1 748.3L1713.2 739.1L1714.3 742.8L1715.4 735.9L1716.5 733.2L1717.6 730.2L1718.6 734.2L1719.7 736.4L1720.8 727.8L1721.9 729.6L1723.0 728.5L1724.0 726.5L1725.1 727.0L1726.2 723.3L1727.3 725.5L1728.4 724.9L1729.5 724.9L1730.5 728.5L1731.6 725.3L1732.7 723.1L1733.8 720.5L1734.9 722.9L1736.0 721.1L1737.0 720.4L1738.1 716.8L1739.2 714.1L1740.3 712.4L1741.4 716.9L1742.4 715.3L1743.5 716.3L1744.6 717.7L1745.7 718.4L1746.8 714.8L1747.9 715.9L1748.9 709.0L1750.0 710.7L1751.1 705.3L1752.2 708.4L1753.3 702.9L1754.3 704.5L1755.4 703.4L1756.5 708.7L1757.6 709.2L1758.7 708.1L1759.8 705.9L1760.8 702.4L1761.9 703.7L1763.0 703.6L1764.1 707.5L1765.2 698.1L1766.3 696.3L1767.3 697.0L1768.4 699.1L1769.5 693.4L1770.6 690.0L1771.7 684.6L1772.7 687.6L1773.8 687.7L1774.9 683.1L1776.0 685.9L1777.1 692.1L1778.2 693.9L1779.2 694.6L1780.3 700.3L1781.4 696.5L1782.5 697.3L1783.6 697.2L1784.7 690.9L1785.7 687.1L1786.8 682.8L1787.9 684.0L1789.0 681.2L1790.1 684.5L1791.1 688.0L1792.2 686.0L1793.3 683.5L1794.4 685.7L1795.5 678.0L1796.6 678.8L1797.6 681.4L1798.7 675.6L1799.8 681.0L1800.9 679.5L1802.0 687.7L1803.0 685.1L1804.1 687.4L1805.2 686.1L1806.3 682.3L1807.4 679.3L1808.5 680.3L1809.5 675.8L1810.6 676.7L1811.7 671.8L1812.8 666.9L1813.9 670.4L1815.0 668.2L1816.0 669.7L1817.1 666.1L1818.2 665.2L1819.3 667.8L1820.4 669.5L1821.4 671.8L1822.5 673.8L1823.6 667.3L1824.7 660.4L1825.8 664.1L1826.9 661.3L1827.9 660.6L1829.0 663.0L1830.1 657.6L1831.2 658.7L1832.3 667.0L1833.4 667.2L1834.4 658.9L1835.5 665.0L1836.6 663.0L1837.7 663.8L1838.8 658.9L1839.8 661.5L1840.9 660.9L1842.0 661.7L1843.1 654.3L1844.2 654.2L1845.3 661.6L1846.3 660.1L1847.4 660.2L1848.5 659.0L1849.6 656.0L1850.7 653.7L1851.8 647.7L1852.8 651.2L1853.9 649.4L1855.0 644.5L1856.1 650.3L1857.2 640.5L1858.2 645.4L1859.3 643.1L1860.4 639.9L1861.5 644.9L1862.6 645.4L1863.7 649.4L1864.7 647.1L1865.8 645.8L1866.9 650.1L1868.0 644.7L1869.1 643.0L1870.1 643.6L1871.2 647.1L1872.3 640.9L1873.4 638.5L1874.5 642.6L1875.6 644.8L1876.6 639.3L1877.7 634.8L1878.8 628.2L1879.9 625.8L1881.0 625.1L1882.1 628.5L1883.1 623.4L1884.2 625.2L1885.3 627.7L1886.4 631.1L1887.5 623.9L1888.5 634.8L1889.6 627.8L1890.7 627.2L1891.8 633.3L1892.9 634.7L1894.0 630.7L1895.0 628.3L1896.1 622.2L1897.2 620.2L1898.3 626.1L1899.4 626.2L1900.5 628.7L1901.5 624.3L1902.6 623.3L1903.7 628.0L1904.8 625.5L1905.9 622.2L1906.9 625.6L1908.0 621.5L1909.1 618.8L1910.2 622.8L1911.3 617.3L1912.4 619.0L1913.4 619.5L1914.5 612.5L1915.6 616.6L1916.7 610.2L1917.8 609.7L1918.9 604.9L1919.9 611.3L1921.0 607.5L1922.1 607.4L1923.2 606.3L1924.3 604.3L1925.3 612.6L1926.4 604.9L1927.5 606.1L1928.6 596.9L1929.7 593.4L1930.8 598.7L1931.8 599.4L1932.9 597.4L1934.0 602.3L1935.1 604.0L1936.2 609.1L1937.2 605.0L1938.3 599.4L1939.4 607.3L1940.5 601.9L1941.6 601.4L1942.7 599.4L1943.7 592.7L1944.8 594.7L1945.9 584.5L1947.0 588.1L1948.1 584.0L1949.2 590.3L1950.2 588.2L1951.3 590.3L1952.4 584.5L1953.5 592.2L1954.6 589.1L1955.6 579.9L1956.7 580.1L1957.8 579.1L1958.9 576.5L1960.0 577.9L1961.1 572.2L1962.1 569.0L1963.2 566.1L1964.3 567.3L1965.4 564.3L1966.5 565.7L1967.6 565.5L1968.6 560.2L1969.7 549.8L1970.8 553.2L1971.9 547.3L1973.0 556.2L1974.0 552.7L1975.1 555.1L1976.2 552.6L1977.3 557.4L1978.4 559.4L1979.5 554.5L1980.5 560.5L1981.6 554.1L1982.7 550.4L1983.8 556.8L1984.9 553.1L1985.9 555.6L1987.0 551.7L1988.1 546.5L1989.2 542.2L1990.3 538.9L1991.4 541.2L1992.4 531.0L1993.5 534.2L1994.6 536.2L1995.7 527.9L1996.8 533.4L1997.9 523.5L1998.9 525.3L2000.0 526.9L2001.1 526.9L2002.2 524.3L2003.3 521.2L2004.3 516.1L2005.4 506.8L2006.5 507.7L2007.6 508.2L2008.7 505.3L2009.8 507.2L2010.8 509.2L2011.9 507.9L2013.0 494.1L2014.1 499.0L2015.2 491.5L2016.3 490.4L2017.3 496.2L2018.4 492.9L2019.5 494.2L2020.6 490.4L2021.7 486.8L2022.7 485.0L2023.8 477.1L2024.9 481.6L2026.0 476.1L2027.1 477.3L2028.2 474.3L2029.2 469.4L2030.3 482.5L2031.4 471.9L2032.5 479.3L2033.6 475.7L2034.7 478.3L2035.7 479.1L2036.8 483.3L2037.9 487.3L2039.0 470.5L2040.1 474.4L2041.1 477.7L2042.2 482.0L2043.3 469.5L2044.4 464.6L2045.5 468.8L2046.6 475.3L2047.6 469.5L2048.7 465.9L2049.8 465.5L2050.9 459.0L2052.0 467.4L2053.0 466.1L2054.1 473.0L2055.2 461.0L2056.3 463.6L2057.4 466.9L2058.5 471.8L2059.5 459.6L2060.6 467.1L2061.7 465.2L2062.8 468.5L2063.9 466.2L2065.0 465.7L2066.0 467.3L2067.1 460.0L2068.2 463.2L2069.3 470.2L2070.4 477.1L2071.4 478.4L2072.5 486.5L2073.6 479.7L2074.7 481.6L2075.8 475.6L2076.9 470.5L2077.9 474.4L2079.0 478.8L2080.1 473.9L2081.2 489.5L2082.3 490.7L2083.4 494.2L2084.4 494.1L2085.5 492.5L2086.6 500.5L2087.7 492.1L2088.8 480.6L2089.8 478.0L2090.9 475.0L2092.0 476.5L2093.1 475.3L2094.2 478.7L2095.3 484.1L2096.3 478.5L2097.4 478.0L2098.5 482.4L2099.6 486.0L2100.7 484.4L2101.8 488.1L2102.8 485.8L2103.9 493.0L2105.0 500.1L2106.1 492.7L2107.2 493.0L2108.2 502.3L2109.3 500.6L2110.4 500.0L2111.5 512.9L2112.6 494.1L2113.7 498.1L2114.7 500.3L2115.8 502.7L2116.9 502.8L2118.0 488.3L2119.1 499.2L2120.1 496.1L2121.2 502.7L2122.3 500.4L2123.4 495.4L2124.5 502.5L2125.6 498.7L2126.6 499.3L2127.7 500.4L2128.8 501.7L2129.9 508.0L2131.0 504.3L2132.1 514.5L2133.1 513.1L2134.2 510.0L2135.3 510.4L2136.4 504.0L2137.5 513.8L2138.5 512.6L2139.6 515.5L2140.7 502.2L2141.8 507.0L2142.9 515.8L2144.0 511.9L2145.0 520.0L2146.1 512.3L2147.2 503.3L2148.3 506.0L2149.4 499.2L2150.5 510.4L2151.5 504.3L2152.6 508.7L2153.7 507.1L2154.8 506.4L2155.9 505.1L2156.9 503.4L2158.0 509.2L2159.1 507.8L2160.2 510.3L2161.3 506.9L2162.4 508.4L2163.4 499.2L2164.5 500.9L2165.6 503.6L2166.7 506.8L2167.8 513.8L2168.9 518.7L2169.9 521.5L2171.0 521.2L2172.1 514.2L2173.2 514.1L2174.3 518.5L2175.3 513.6L2176.4 501.1L2177.5 497.9L2178.6 501.1L2179.7 497.5L2180.8 512.1L2181.8 510.2L2182.9 518.5L2184.0 509.8L2185.1 519.3L2186.2 518.5L2187.2 518.0L2188.3 521.2L2189.4 518.2L2190.5 526.0L2191.6 518.9L2192.7 520.7L2193.7 510.7L2194.8 504.5L2195.9 506.1L2197.0 509.6L2198.1 509.0L2199.2 502.5L2200.2 510.3L2201.3 514.5L2202.4 520.8L2203.5 517.6L2204.6 518.0L2205.6 513.6L2206.7 516.5L2207.8 509.1L2208.9 511.4L2210.0 502.9L2211.1 502.3L2212.1 504.4L2213.2 499.4L2214.3 509.8L2215.4 497.7L2216.5 504.3L2217.6 505.0L2218.6 507.4L2219.7 512.7L2220.8 512.8L2221.9 507.4L2223.0 512.6L2224.0 511.6L2225.1 516.2L2226.2 513.5L2227.3 514.6L2228.4 525.1L2229.5 511.4L2230.5 515.2L2231.6 513.8L2232.7 513.5L2233.8 509.8L2234.9 500.2L2235.9 491.9L2237.0 499.6L2238.1 503.3L2239.2 500.1L2240.3 502.7L2241.4 501.5L2242.4 512.7L2243.5 510.9L2244.6 511.0L2245.7 505.1" stroke="#FF5500" stroke-width="10" stroke-dasharray="13 11"/>
<path d="M381.0 498.1L383.1 502.2L385.3 506.6L387.5 511.3L389.6 516.3L391.8 521.8L394.0 527.3L396.1 533.3L398.3 539.4L400.5 546.0L402.6 552.7L404.8 559.6L406.9 567.6L409.1 575.8L411.3 584.8L413.4 594.2L415.6 603.8L417.8 613.9L419.9 624.1L422.1 634.6L424.3 645.1L426.4 655.7L428.6 666.2L430.8 676.3L432.9 686.5L435.1 696.3L437.3 705.9L439.4 715.4L441.6 724.9L443.7 734.5L445.9 744.1L448.1 753.8L450.2 763.6L452.4 773.1L454.6 782.5L456.7 792.1L458.9 801.4L461.1 810.6L463.2 819.7L465.4 828.8L467.6 837.4L469.7 846.1L471.9 854.4L474.0 862.4L476.2 870.6L478.4 878.9L480.5 887.1L482.7 895.0L484.9 903.1L487.0 911.3L489.2 918.9L491.4 926.5L493.5 933.7L495.7 940.4L497.9 947.0L500.0 953.2L502.2 958.7L504.3 963.5L506.5 968.1L508.7 972.5L510.8 977.0L513.0 981.0L515.2 985.0L517.3 989.2L519.5 992.9L521.7 996.2L523.8 999.3L526.0 1002.6L528.2 1005.7L530.3 1008.5L532.5 1011.3L534.7 1013.3L536.8 1015.3L539.0 1017.3L541.1 1019.0L543.3 1021.2L545.5 1023.0L547.6 1024.3L549.8 1025.9L552.0 1027.3L554.1 1028.6L556.3 1029.7L558.5 1031.1L560.6 1032.5L562.8 1033.2L565.0 1033.9L567.1 1035.4L569.3 1036.3L571.4 1036.8L573.6 1037.7L575.8 1039.1L577.9 1039.9L580.1 1040.9L582.3 1041.1L584.4 1042.5L586.6 1042.5L588.8 1043.8L590.9 1044.3L593.1 1045.2L595.3 1045.4L597.4 1045.5L599.6 1046.2L601.8 1047.4L603.9 1047.5L606.1 1047.8L608.2 1047.4L610.4 1048.7L612.6 1049.0L614.7 1049.4L616.9 1049.4L619.1 1049.2L621.2 1050.2L623.4 1049.4L625.6 1049.6L627.7 1049.7L629.9 1049.7L632.1 1049.1L634.2 1051.0L636.4 1050.9L638.5 1049.3L640.7 1051.2L642.9 1050.7L645.0 1051.5L647.2 1052.4L649.4 1052.8L651.5 1052.4L653.7 1052.0L655.9 1051.7L658.0 1051.4L660.2 1051.8L662.4 1051.7L664.5 1051.7L666.7 1052.6L668.9 1053.5L671.0 1051.8L673.2 1053.8L675.3 1051.7L677.5 1051.4L679.7 1053.6L681.8 1054.3L684.0 1053.4L686.2 1052.4L688.3 1054.0L690.5 1052.9L692.7 1053.6L694.8 1055.1L697.0 1053.8L699.2 1055.8L701.3 1054.7L703.5 1053.8L705.6 1052.3L707.8 1052.6L710.0 1051.7L712.1 1054.4L714.3 1051.0L716.5 1053.8L718.6 1052.9L720.8 1051.9L723.0 1053.1L725.1 1052.0L727.3 1054.0L729.5 1053.6L731.6 1053.0L733.8 1053.3L736.0 1052.5L738.1 1052.9L740.3 1053.9L742.4 1053.1L744.6 1055.5L746.8 1055.1L748.9 1054.0L751.1 1055.6L753.3 1054.7L755.4 1054.2L757.6 1052.8L759.8 1052.8L761.9 1052.5L764.1 1053.1L766.3 1055.6L768.4 1055.6L770.6 1055.4L772.7 1054.3L774.9 1053.2L777.1 1054.2L779.2 1053.8L781.4 1052.0L783.6 1054.0L785.7 1055.6L787.9 1052.9L790.1 1052.5L792.2 1052.8L794.4 1050.1L796.6 1051.8L798.7 1050.5L800.9 1053.5L803.1 1052.5L805.2 1054.9L807.4 1056.7L809.5 1057.8L811.7 1056.2L813.9 1058.4L816.0 1054.3L818.2 1052.0L820.4 1052.8L822.5 1057.8L824.7 1055.0L826.9 1056.4L829.0 1056.4L831.2 1056.2L833.4 1054.4L835.5 1055.2L837.7 1056.9L839.8 1054.8L842.0 1055.1L844.2 1053.0L846.3 1058.2L848.5 1056.3L850.7 1056.7L852.8 1055.1L855.0 1057.5L857.2 1057.0L859.3 1056.3L861.5 1058.0L863.7 1058.4L865.8 1057.3L868.0 1058.5L870.2 1059.4L872.3 1059.1L874.5 1058.8L876.6 1058.3L878.8 1061.1L881.0 1059.0L883.1 1057.3L885.3 1061.4L887.5 1058.4L889.6 1057.3L891.8 1053.8L894.0 1054.1L896.1 1056.9L898.3 1058.8L900.5 1060.4L902.6 1058.8L904.8 1059.2L906.9 1057.6L909.1 1054.8L911.3 1054.0L913.4 1057.0L915.6 1057.7L917.8 1058.4L919.9 1057.7L922.1 1058.6L924.3 1055.2L926.4 1058.5L928.6 1057.0L930.8 1058.9L932.9 1057.6L935.1 1056.2L937.2 1056.8L939.4 1056.9L941.6 1057.4L943.7 1057.3L945.9 1058.5L948.1 1054.7L950.2 1054.5L952.4 1056.4L954.6 1056.8L956.7 1058.1L958.9 1054.2L961.1 1060.1L963.2 1060.0L965.4 1055.1L967.6 1058.9L969.7 1059.0L971.9 1060.1L974.0 1055.3L976.2 1054.8L978.4 1056.3L980.5 1060.1L982.7 1058.5L984.9 1060.5L987.0 1056.9L989.2 1055.4L991.4 1056.4L993.5 1056.2L995.7 1053.4L997.9 1053.0L1000.0 1057.8L1002.2 1054.8L1004.3 1057.7L1006.5 1056.9L1008.7 1052.8L1010.8 1056.9L1013.0 1055.4L1015.2 1055.0L1017.3 1057.3L1019.5 1061.3L1021.7 1057.0L1023.8 1055.4L1026.0 1055.5L1028.2 1049.3L1030.3 1053.9L1032.5 1054.6L1034.7 1053.0L1036.8 1053.7L1039.0 1055.5L1041.1 1051.5L1043.3 1050.2L1045.5 1050.4L1047.6 1049.2L1049.8 1049.3L1052.0 1050.6L1054.1 1052.1L1056.3 1052.2L1058.5 1047.3L1060.6 1053.0L1062.8 1045.3L1065.0 1044.5L1067.1 1044.4L1069.3 1042.2L1071.4 1041.4L1073.6 1046.7L1075.8 1043.0L1077.9 1041.2L1080.1 1042.6L1082.3 1040.8L1084.4 1038.3L1086.6 1041.3L1088.8 1041.8L1090.9 1040.5L1093.1 1038.2L1095.3 1031.2L1097.4 1033.2L1099.6 1032.0L1101.8 1031.5L1103.9 1031.7L1106.1 1026.1L1108.2 1026.6L1110.4 1023.3L1112.6 1026.5L1114.7 1020.7L1116.9 1018.9L1119.1 1021.7L1121.2 1020.4L1123.4 1018.8L1125.6 1013.5L1127.7 1013.8L1129.9 1014.6L1132.1 1009.7L1134.2 1011.0L1136.4 1007.1L1138.5 1005.7L1140.7 1005.8L1142.9 1000.5L1145.0 1001.4L1147.2 1005.7L1149.4 999.4L1151.5 994.5L1153.7 1001.8L1155.9 992.7L1158.0 992.1L1160.2 994.1L1162.4 990.3L1164.5 992.7L1166.7 993.1L1168.9 985.5L1171.0 982.2L1173.2 984.0L1175.3 978.5L1177.5 975.4L1179.7 977.9L1181.8 970.7L1184.0 974.6L1186.2 969.9L1188.3 967.0L1190.5 970.1L1192.7 966.0L1194.8 964.5L1197.0 960.7L1199.2 960.4L1201.3 954.6L1203.5 951.7L1205.6 945.8L1207.8 944.2L1210.0 949.6L1212.1 946.2L1214.3 941.4L1216.5 935.5L1218.6 934.0L1220.8 927.1L1223.0 922.7L1225.1 923.1L1227.3 919.5L1229.5 921.9L1231.6 913.7L1233.8 913.4L1236.0 906.6L1238.1 905.8L1240.3 900.0L1242.4 892.1L1244.6 895.3L1246.8 888.8L1248.9 884.8L1251.1 884.0L1253.3 882.2L1255.4 878.7L1257.6 879.2L1259.8 872.1L1261.9 870.4L1264.1 865.5L1266.3 867.1L1268.4 861.0L1270.6 863.3L1272.7 861.3L1274.9 867.9L1277.1 866.1L1279.2 867.1L1281.4 862.5L1283.6 873.0L1285.7 869.6L1287.9 873.3L1290.1 870.6L1292.2 874.9L1294.4 873.5L1296.6 870.5L1298.7 879.3L1300.9 881.3L1303.1 878.6L1305.2 891.7L1307.4 886.8L1309.5 889.2L1311.7 890.3L1313.9 897.2L1316.0 897.7L1318.2 898.5L1320.4 901.5L1322.5 898.4L1324.7 904.6L1326.9 902.2L1329.0 911.1L1331.2 912.6L1333.4 918.8L1335.5 921.3L1337.7 920.5L1339.8 923.1L1342.0 931.3L1344.2 929.1L1346.3 938.1L1348.5 936.3L1350.7 948.6L1352.8 946.8L1355.0 945.4L1357.2 948.9L1359.3 955.5L1361.5 955.3L1363.7 958.9L1365.8 965.7L1368.0 964.6L1370.1 969.1L1372.3 971.2L1374.5 967.2L1376.6 976.9L1378.8 980.0L1381.0 978.3L1383.1 984.5L1385.3 984.4L1387.5 982.1L1389.6 980.5L1391.8 978.5L1394.0 982.2L1396.1 984.2L1398.3 987.7L1400.5 987.4L1402.6 991.1L1404.8 986.2L1406.9 993.9L1409.1 993.2L1411.3 993.8L1413.4 989.3L1415.6 988.2L1417.8 986.3L1419.9 996.7L1422.1 992.1L1424.3 994.5L1426.4 988.4L1428.6 992.1L1430.8 988.9L1432.9 993.5L1435.1 988.5L1437.2 989.3L1439.4 992.2L1441.6 989.3L1443.7 994.2L1445.9 1000.9L1448.1 992.3L1450.2 994.2L1452.4 987.3L1454.6 984.7L1456.7 990.0L1458.9 988.5L1461.1 992.9L1463.2 990.1L1465.4 989.8L1467.6 981.3L1469.7 990.0L1471.9 987.3L1474.0 994.5L1476.2 988.0L1478.4 985.9L1480.5 986.7L1482.7 987.0L1484.9 982.6L1487.0 981.6L1489.2 988.5L1491.4 990.2L1493.5 982.8L1495.7 981.1L1497.9 987.9L1500.0 980.7L1502.2 988.0L1504.3 984.4L1506.5 980.3L1508.7 987.4L1510.8 979.9L1513.0 979.3L1515.2 981.4L1517.3 970.5L1519.5 970.4L1521.7 966.7L1523.8 967.0L1526.0 963.5L1528.2 963.4L1530.3 961.1L1532.5 965.5L1534.7 968.1L1536.8 958.3L1539.0 964.3L1541.1 957.4L1543.3 953.8L1545.5 956.0L1547.6 963.2L1549.8 956.0L1552.0 953.2L1554.1 946.2L1556.3 952.7L1558.5 945.0L1560.6 944.9L1562.8 942.0L1565.0 940.7L1567.1 942.6L1569.3 934.4L1571.4 939.0L1573.6 932.6L1575.8 941.1L1577.9 942.9L1580.1 929.6L1582.3 937.3L1584.4 930.4L1586.6 931.2L1588.8 930.6L1590.9 931.9L1593.1 934.1L1595.3 933.2L1597.4 926.7L1599.6 930.3L1601.8 920.1L1603.9 925.1L1606.1 917.9L1608.2 922.3L1610.4 914.2L1612.6 916.2L1614.7 916.6L1616.9 911.5L1619.1 911.7L1621.2 899.9L1623.4 915.2L1625.6 910.3L1627.7 904.7L1629.9 907.8L1632.1 908.2L1634.2 905.8L1636.4 908.0L1638.5 908.3L1640.7 907.6L1642.9 900.4L1645.0 895.0L1647.2 895.8L1649.4 892.4L1651.5 902.4L1653.7 901.8L1655.9 906.4L1658.0 909.1L1660.2 894.6L1662.4 896.5L1664.5 890.3L1666.7 895.8L1668.9 897.0L1671.0 889.9L1673.2 883.0L1675.3 884.5L1677.5 881.4L1679.7 875.3L1681.8 874.5L1684.0 870.6L1686.2 873.2L1688.3 874.0L1690.5 873.0L1692.7 877.3L1694.8 866.1L1697.0 868.7L1699.2 880.6L1701.3 879.1L1703.5 874.9L1705.6 863.0L1707.8 858.0L1710.0 854.5L1712.1 852.6L1714.3 861.0L1716.5 854.5L1718.6 854.3L1720.8 849.9L1723.0 855.4L1725.1 853.7L1727.3 850.1L1729.5 839.4L1731.6 853.2L1733.8 839.5L1736.0 852.5L1738.1 846.4L1740.3 848.7L1742.4 833.7L1744.6 833.0L1746.8 829.3L1748.9 823.9L1751.1 823.5L1753.3 837.9L1755.4 837.9L1757.6 843.3L1759.8 835.2L1761.9 849.1L1764.1 824.8L1766.3 832.6L1768.4 839.9L1770.6 826.7L1772.7 831.2L1774.9 824.8L1777.1 820.5L1779.2 814.1L1781.4 827.9L1783.6 819.0L1785.7 815.6L1787.9 827.9L1790.1 813.9L1792.2 810.9L1794.4 814.9L1796.6 822.2L1798.7 810.7L1800.9 816.1L1803.0 804.7L1805.2 815.8L1807.4 810.9L1809.5 810.9L1811.7 806.6L1813.9 809.4L1816.0 805.4L1818.2 802.3L1820.4 804.8L1822.5 804.2L1824.7 796.3L1826.9 795.8L1829.0 790.0L1831.2 793.1L1833.4 791.7L1835.5 796.7L1837.7 801.8L1839.8 790.7L1842.0 789.4L1844.2 790.6L1846.3 797.8L1848.5 788.4L1850.7 792.9L1852.8 790.4L1855.0 793.5L1857.2 790.6L1859.3 788.5L1861.5 779.3L1863.7 782.8L1865.8 779.7L1868.0 781.9L1870.1 784.3L1872.3 772.7L1874.5 769.8L1876.6 770.6L1878.8 784.1L1881.0 763.6L1883.1 766.4L1885.3 770.1L1887.5 755.3L1889.6 766.6L1891.8 760.9L1894.0 760.5L1896.1 767.3L1898.3 744.1L1900.5 756.5L1902.6 749.0L1904.8 758.4L1906.9 765.2L1909.1 770.8L1911.3 757.6L1913.4 754.4L1915.6 741.5L1917.8 743.9L1919.9 730.5L1922.1 738.1L1924.3 738.0L1926.4 724.0L1928.6 731.0L1930.8 737.4L1932.9 730.2L1935.1 740.0L1937.2 733.7L1939.4 727.0L1941.6 729.7L1943.7 727.1L1945.9 711.5L1948.1 715.1L1950.2 714.1L1952.4 712.0L1954.6 709.3L1956.7 697.5L1958.9 697.7L1961.1 706.5L1963.2 689.7L1965.4 692.8L1967.6 698.4L1969.7 698.1L1971.9 683.0L1974.0 679.8L1976.2 668.6L1978.4 668.5L1980.5 656.0L1982.7 671.0L1984.9 659.8L1987.0 647.6L1989.2 647.4L1991.4 642.4L1993.5 644.6L1995.7 620.7L1997.9 631.1L2000.0 617.5L2002.2 619.4L2004.3 606.6L2006.5 595.5L2008.7 573.6L2010.8 567.7L2013.0 556.7L2015.2 555.1L2017.3 556.1L2019.5 566.3L2021.7 570.2L2023.8 552.1L2026.0 564.7L2028.2 551.1L2030.3 554.4L2032.5 555.8L2034.7 548.2L2036.8 562.2L2039.0 558.6L2041.1 546.0L2043.3 544.9L2045.5 527.4L2047.6 532.8L2049.8 525.6L2052.0 539.6L2054.1 522.5L2056.3 543.6L2058.5 519.1L2060.6 516.1L2062.8 544.8L2065.0 545.7L2067.1 548.9L2069.3 540.7L2071.4 545.2L2073.6 546.2L2075.8 537.1L2077.9 526.6L2080.1 561.1L2082.3 560.9L2084.4 572.4L2086.6 569.6L2088.8 598.6L2090.9 594.8L2093.1 591.3L2095.3 592.9L2097.4 586.7L2099.6 599.0L2101.8 615.7L2103.9 608.9L2106.1 611.0L2108.2 601.8L2110.4 594.9L2112.6 605.2L2114.7 590.5L2116.9 583.0L2119.1 591.6L2121.2 609.1L2123.4 586.8L2125.6 588.4L2127.7 610.5L2129.9 611.5L2132.1 608.2L2134.2 615.5L2136.4 604.4L2138.5 604.5L2140.7 612.2L2142.9 612.9L2145.0 617.0L2147.2 622.3L2149.4 607.2L2151.5 614.6L2153.7 619.7L2155.9 610.0L2158.0 613.6L2160.2 607.0L2162.4 605.9L2164.5 620.1L2166.7 623.1L2168.9 626.0L2171.0 601.7L2173.2 617.1L2175.3 626.5L2177.5 621.5L2179.7 625.7L2181.8 602.5L2184.0 613.7L2186.2 623.9L2188.3 638.1L2190.5 608.9L2192.7 624.2L2194.8 641.5L2197.0 626.9L2199.2 621.7L2201.3 618.9L2203.5 627.9L2205.6 607.8L2207.8 610.3L2210.0 614.2L2212.1 619.5L2214.3 630.8L2216.5 619.2L2218.6 617.9L2220.8 625.1L2223.0 616.3L2225.1 613.1L2227.3 624.4L2229.5 618.5L2231.6 611.9L2233.8 596.3L2235.9 600.1L2238.1 627.4L2240.3 620.1L2242.4 599.6L2244.6 626.0" stroke="#EB00A0" stroke-width="8"/>
<path d="M381.0 355.1L383.1 362.8L385.3 371.0L387.5 379.6L389.6 388.6L391.8 398.0L394.0 407.6L396.1 417.4L398.3 427.7L400.5 438.3L402.6 449.1L404.8 460.4L406.9 472.2L409.1 484.7L411.3 497.5L413.4 510.9L415.6 524.6L417.8 538.7L419.9 553.2L422.1 565.7L424.3 577.5L426.4 589.6L428.6 601.9L430.8 614.1L432.9 626.3L435.1 638.2L437.3 650.1L439.4 661.6L441.6 673.3L443.7 684.9L445.9 696.5L448.1 707.9L450.2 719.2L452.4 730.7L454.6 742.0L456.7 753.6L458.9 764.8L461.1 776.0L463.2 787.1L465.4 798.6L467.6 809.8L469.7 821.2L471.9 832.3L474.0 843.1L476.2 853.8L478.4 864.5L480.5 874.6L482.7 884.3L484.9 893.8L487.0 903.0L489.2 911.9L491.4 920.4L493.5 928.5L495.7 936.3L497.9 943.9L500.0 951.2L502.2 957.8L504.3 964.4L506.5 970.5L508.7 976.6L510.8 982.3L513.0 988.1L515.2 993.8L517.3 999.2L519.5 1004.3L521.7 1009.4L523.8 1013.6L526.0 1017.9L528.2 1022.2L530.3 1026.4L532.5 1029.8L534.7 1033.4L536.8 1036.3L539.0 1039.6L541.1 1042.3L543.3 1044.7L545.5 1047.7L547.6 1049.9L549.8 1052.2L552.0 1054.7L554.1 1056.5L556.3 1058.2L558.5 1060.2L560.6 1061.8L562.8 1063.6L565.0 1065.5L567.1 1066.4L569.3 1068.0L571.4 1069.4L573.6 1071.0L575.8 1071.4L577.9 1072.6L580.1 1074.2L582.3 1075.5L584.4 1076.4L586.6 1077.1L588.8 1077.5L590.9 1079.1L593.1 1079.0L595.3 1079.9L597.4 1080.1L599.6 1080.6L601.8 1081.0L603.9 1082.4L606.1 1083.3L608.2 1083.4L610.4 1083.8L612.6 1084.2L614.7 1084.8L616.9 1085.8L619.1 1085.7L621.2 1086.3L623.4 1085.4L625.6 1086.3L627.7 1087.2L629.9 1087.0L632.1 1087.5L634.2 1088.2L636.4 1089.1L638.5 1089.0L640.7 1088.2L642.9 1087.8L645.0 1089.0L647.2 1089.0L649.4 1088.7L651.5 1089.4L653.7 1088.7L655.9 1090.1L658.0 1090.4L660.2 1091.0L662.4 1091.5L664.5 1091.0L666.7 1091.4L668.9 1091.4L671.0 1090.7L673.2 1091.5L675.3 1092.4L677.5 1091.9L679.7 1093.6L681.8 1092.6L684.0 1093.1L686.2 1093.3L688.3 1093.0L690.5 1092.8L692.7 1094.3L694.8 1094.9L697.0 1094.5L699.2 1094.6L701.3 1093.7L703.5 1093.0L705.6 1093.9L707.8 1093.1L710.0 1092.2L712.1 1094.3L714.3 1093.4L716.5 1095.9L718.6 1096.3L720.8 1095.1L723.0 1094.8L725.1 1095.6L727.3 1092.9L729.5 1093.3L731.6 1095.0L733.8 1094.3L736.0 1094.4L738.1 1095.5L740.3 1094.2L742.4 1095.5L744.6 1095.8L746.8 1092.0L748.9 1094.4L751.1 1094.8L753.3 1094.7L755.4 1095.2L757.6 1091.6L759.8 1092.7L761.9 1092.4L764.1 1092.6L766.3 1091.3L768.4 1095.8L770.6 1092.2L772.7 1093.0L774.9 1093.2L777.1 1092.2L779.2 1092.9L781.4 1096.1L783.6 1094.5L785.7 1095.1L787.9 1093.2L790.1 1096.0L792.2 1092.3L794.4 1092.6L796.6 1092.1L798.7 1092.9L800.9 1096.0L803.1 1092.8L805.2 1093.2L807.4 1093.8L809.5 1091.5L811.7 1092.5L813.9 1091.0L816.0 1092.2L818.2 1095.1L820.4 1092.4L822.5 1092.8L824.7 1092.8L826.9 1093.6L829.0 1093.1L831.2 1095.7L833.4 1093.9L835.5 1095.7L837.7 1092.9L839.8 1094.8L842.0 1095.0L844.2 1093.7L846.3 1095.0L848.5 1092.1L850.7 1095.3L852.8 1092.8L855.0 1094.2L857.2 1095.3L859.3 1094.7L861.5 1095.5L863.7 1092.7L865.8 1094.2L868.0 1094.8L870.2 1093.3L872.3 1094.7L874.5 1094.8L876.6 1095.6L878.8 1095.1L881.0 1092.7L883.1 1093.8L885.3 1092.8L887.5 1094.5L889.6 1094.0L891.8 1094.5L894.0 1092.2L896.1 1092.3L898.3 1095.1L900.5 1093.5L902.6 1095.5L904.8 1094.3L906.9 1091.4L909.1 1095.8L911.3 1090.3L913.4 1091.2L915.6 1089.4L917.8 1091.9L919.9 1094.6L922.1 1094.6L924.3 1095.5L926.4 1093.0L928.6 1095.7L930.8 1094.5L932.9 1090.6L935.1 1094.0L937.2 1093.3L939.4 1090.4L941.6 1089.9L943.7 1095.2L945.9 1096.1L948.1 1093.7L950.2 1094.1L952.4 1094.9L954.6 1096.0L956.7 1095.8L958.9 1091.6L961.1 1092.4L963.2 1092.1L965.4 1090.8L967.6 1088.0L969.7 1089.5L971.9 1085.7L974.0 1090.6L976.2 1089.6L978.4 1095.0L980.5 1092.2L982.7 1091.8L984.9 1092.8L987.0 1092.6L989.2 1091.1L991.4 1091.2L993.5 1090.9L995.7 1090.4L997.9 1090.6L1000.0 1094.1L1002.2 1093.1L1004.3 1093.3L1006.5 1088.1L1008.7 1084.7L1010.8 1086.5L1013.0 1085.7L1015.2 1086.1L1017.3 1083.8L1019.5 1084.1L1021.7 1085.5L1023.8 1080.9L1026.0 1078.9L1028.2 1081.6L1030.3 1082.4L1032.5 1081.6L1034.7 1079.6L1036.8 1083.7L1039.0 1080.4L1041.1 1079.1L1043.3 1081.2L1045.5 1077.8L1047.6 1077.2L1049.8 1079.2L1052.0 1080.0L1054.1 1081.0L1056.3 1076.5L1058.5 1075.2L1060.6 1073.6L1062.8 1069.9L1065.0 1071.7L1067.1 1067.5L1069.3 1066.6L1071.4 1062.1L1073.6 1064.8L1075.8 1062.5L1077.9 1069.6L1080.1 1070.1L1082.3 1064.8L1084.4 1062.9L1086.6 1057.6L1088.8 1057.7L1090.9 1058.2L1093.1 1061.7L1095.3 1059.3L1097.4 1056.1L1099.6 1056.7L1101.8 1053.7L1103.9 1048.1L1106.1 1048.3L1108.2 1044.3L1110.4 1040.0L1112.6 1039.6L1114.7 1042.6L1116.9 1037.6L1119.1 1036.2L1121.2 1034.4L1123.4 1029.4L1125.6 1030.5L1127.7 1030.8L1129.9 1030.7L1132.1 1024.4L1134.2 1023.2L1136.4 1018.1L1138.5 1019.0L1140.7 1014.8L1142.9 1016.4L1145.0 1011.3L1147.2 1010.1L1149.4 1011.3L1151.5 1008.6L1153.7 1008.5L1155.9 1006.3L1158.0 1003.0L1160.2 997.4L1162.4 997.5L1164.5 989.4L1166.7 989.4L1168.9 987.9L1171.0 984.0L1173.2 983.7L1175.3 982.3L1177.5 976.1L1179.7 978.6L1181.8 974.8L1184.0 976.9L1186.2 969.6L1188.3 964.4L1190.5 960.2L1192.7 956.4L1194.8 951.0L1197.0 949.1L1199.2 943.9L1201.3 938.2L1203.5 938.4L1205.6 933.7L1207.8 927.5L1210.0 928.5L1212.1 924.3L1214.3 917.2L1216.5 919.0L1218.6 912.5L1220.8 910.4L1223.0 906.8L1225.1 896.2L1227.3 895.4L1229.5 888.8L1231.6 886.6L1233.8 879.7L1236.0 871.6L1238.1 867.3L1240.3 862.1L1242.4 862.1L1244.6 855.4L1246.8 851.8L1248.9 851.3L1251.1 856.1L1253.3 844.6L1255.4 848.8L1257.6 835.6L1259.8 832.1L1261.9 828.6L1264.1 834.7L1266.3 834.8L1268.4 829.9L1270.6 829.3L1272.7 835.4L1274.9 832.5L1277.1 834.6L1279.2 842.3L1281.4 831.6L1283.6 837.0L1285.7 832.7L1287.9 833.4L1290.1 842.1L1292.2 838.0L1294.4 845.7L1296.6 851.0L1298.7 849.0L1300.9 853.7L1303.1 858.3L1305.2 858.8L1307.4 854.3L1309.5 862.1L1311.7 868.1L1313.9 874.8L1316.0 871.2L1318.2 884.5L1320.4 893.8L1322.5 888.1L1324.7 897.9L1326.9 907.7L1329.0 908.3L1331.2 910.8L1333.4 916.4L1335.5 915.1L1337.7 918.0L1339.8 915.0L1342.0 925.9L1344.2 933.0L1346.3 937.8L1348.5 942.4L1350.7 947.6L1352.8 951.1L1355.0 964.7L1357.2 963.3L1359.3 963.1L1361.5 962.7L1363.7 977.3L1365.8 976.4L1368.0 983.9L1370.1 985.3L1372.3 986.0L1374.5 983.1L1376.6 991.3L1378.8 992.5L1381.0 994.4L1383.1 994.5L1385.3 999.2L1387.5 998.8L1389.6 998.9L1391.8 1003.2L1394.0 1008.5L1396.1 1008.8L1398.3 1008.0L1400.5 1008.7L1402.6 1012.6L1404.8 1013.3L1406.9 1013.2L1409.1 1022.0L1411.3 1012.5L1413.4 1019.6L1415.6 1025.6L1417.8 1028.3L1419.9 1020.9L1422.1 1027.6L1424.3 1026.0L1426.4 1022.0L1428.6 1027.6L1430.8 1026.3L1432.9 1027.5L1435.1 1027.8L1437.2 1028.4L1439.4 1024.6L1441.6 1024.3L1443.7 1025.6L1445.9 1029.5L1448.1 1026.5L1450.2 1030.3L1452.4 1027.7L1454.6 1033.8L1456.7 1037.4L1458.9 1031.4L1461.1 1035.0L1463.2 1033.1L1465.4 1030.0L1467.6 1028.6L1469.7 1036.5L1471.9 1035.5L1474.0 1031.5L1476.2 1028.0L1478.4 1027.8L1480.5 1033.4L1482.7 1024.7L1484.9 1030.2L1487.0 1019.9L1489.2 1028.3L1491.4 1024.1L1493.5 1024.8L1495.7 1025.4L1497.9 1019.7L1500.0 1028.1L1502.2 1022.9L1504.3 1025.7L1506.5 1026.1L1508.7 1022.3L1510.8 1023.9L1513.0 1026.8L1515.2 1029.9L1517.3 1024.5L1519.5 1017.1L1521.7 1023.0L1523.8 1020.2L1526.0 1024.4L1528.2 1014.7L1530.3 1025.4L1532.5 1019.6L1534.7 1021.9L1536.8 1009.8L1539.0 1011.2L1541.1 1010.8L1543.3 1013.3L1545.5 1006.4L1547.6 1004.7L1549.8 1004.7L1552.0 1016.4L1554.1 1012.1L1556.3 1006.6L1558.5 1002.5L1560.6 1011.2L1562.8 996.5L1565.0 1001.7L1567.1 998.5L1569.3 1009.9L1571.4 1005.3L1573.6 1002.9L1575.8 998.9L1577.9 1000.8L1580.1 1004.8L1582.3 992.5L1584.4 993.7L1586.6 997.0L1588.8 1000.4L1590.9 987.2L1593.1 1001.0L1595.3 996.4L1597.4 994.4L1599.6 988.2L1601.8 982.8L1603.9 982.4L1606.1 983.9L1608.2 986.0L1610.4 971.5L1612.6 972.0L1614.7 975.6L1616.9 974.1L1619.1 985.3L1621.2 981.9L1623.4 978.3L1625.6 977.9L1627.7 974.9L1629.9 978.2L1632.1 981.6L1634.2 973.0L1636.4 978.2L1638.5 978.5L1640.7 978.7L1642.9 978.7L1645.0 971.0L1647.2 970.8L1649.4 965.6L1651.5 963.6L1653.7 962.1L1655.9 964.9L1658.0 952.7L1660.2 962.4L1662.4 951.9L1664.5 954.2L1666.7 954.7L1668.9 959.1L1671.0 960.0L1673.2 952.0L1675.3 960.8L1677.5 949.4L1679.7 954.4L1681.8 954.2L1684.0 946.7L1686.2 949.3L1688.3 938.1L1690.5 951.6L1692.7 941.8L1694.8 940.7L1697.0 941.4L1699.2 944.2L1701.3 950.4L1703.5 939.5L1705.6 938.6L1707.8 937.0L1710.0 933.4L1712.1 925.3L1714.3 924.5L1716.5 925.6L1718.6 931.4L1720.8 922.9L1723.0 931.4L1725.1 927.2L1727.3 932.7L1729.5 925.9L1731.6 917.7L1733.8 921.9L1736.0 916.9L1738.1 924.8L1740.3 916.1L1742.4 923.3L1744.6 909.9L1746.8 913.8L1748.9 918.2L1751.1 923.2L1753.3 920.0L1755.4 904.3L1757.6 918.3L1759.8 916.3L1761.9 906.2L1764.1 898.5L1766.3 905.5L1768.4 908.3L1770.6 903.9L1772.7 902.7L1774.9 893.9L1777.1 890.7L1779.2 900.6L1781.4 904.8L1783.6 905.5L1785.7 905.6L1787.9 895.8L1790.1 902.7L1792.2 890.7L1794.4 894.3L1796.6 895.0L1798.7 884.0L1800.9 897.9L1803.0 883.8L1805.2 888.7L1807.4 888.1L1809.5 888.6L1811.7 893.1L1813.9 885.1L1816.0 885.9L1818.2 903.1L1820.4 890.7L1822.5 887.3L1824.7 885.0L1826.9 882.6L1829.0 885.8L1831.2 886.8L1833.4 876.4L1835.5 887.6L1837.7 884.9L1839.8 885.4L1842.0 888.2L1844.2 886.6L1846.3 874.7L1848.5 881.3L1850.7 862.8L1852.8 880.6L1855.0 883.6L1857.2 874.5L1859.3 877.8L1861.5 862.6L1863.7 867.2L1865.8 875.5L1868.0 872.8L1870.1 871.8L1872.3 855.3L1874.5 866.0L1876.6 867.2L1878.8 866.4L1881.0 866.6L1883.1 861.7L1885.3 861.9L1887.5 855.2L1889.6 854.3L1891.8 860.4L1894.0 849.4L1896.1 855.6L1898.3 857.8L1900.5 849.4L1902.6 847.5L1904.8 845.1L1906.9 850.5L1909.1 850.1L1911.3 842.8L1913.4 837.5L1915.6 836.9L1917.8 834.3L1919.9 837.8L1922.1 827.6L1924.3 834.2L1926.4 824.9L1928.6 823.9L1930.8 823.5L1932.9 817.8L1935.1 820.7L1937.2 802.6L1939.4 808.1L1941.6 802.7L1943.7 807.3L1945.9 797.3L1948.1 800.5L1950.2 797.0L1952.4 784.6L1954.6 787.0L1956.7 775.8L1958.9 770.3L1961.1 764.1L1963.2 759.4L1965.4 758.7L1967.6 743.6L1969.7 737.5L1971.9 726.6L1974.0 724.1L1976.2 728.0L1978.4 723.7L1980.5 739.4L1982.7 723.4L1984.9 721.3L1987.0 705.3L1989.2 701.8L1991.4 699.1L1993.5 694.9L1995.7 690.2L1997.9 685.3L2000.0 680.7L2002.2 666.1L2004.3 668.4L2006.5 657.7L2008.7 662.8L2010.8 652.9L2013.0 648.3L2015.2 632.3L2017.3 637.2L2019.5 641.5L2021.7 625.7L2023.8 621.6L2026.0 612.2L2028.2 609.8L2030.3 590.8L2032.5 593.4L2034.7 585.2L2036.8 578.8L2039.0 584.0L2041.1 587.3L2043.3 600.0L2045.5 584.4L2047.6 584.0L2049.8 572.9L2052.0 584.0L2054.1 572.9L2056.3 582.8L2058.5 575.4L2060.6 576.0L2062.8 578.9L2065.0 594.5L2067.1 585.7L2069.3 616.2L2071.4 607.6L2073.6 623.8L2075.8 617.3L2077.9 631.8L2080.1 629.4L2082.3 638.7L2084.4 621.9L2086.6 613.1L2088.8 620.9L2090.9 623.5L2093.1 631.3L2095.3 642.3L2097.4 647.5L2099.6 659.1L2101.8 659.8L2103.9 651.1L2106.1 665.2L2108.2 662.2L2110.4 677.2L2112.6 656.2L2114.7 661.4L2116.9 669.0L2119.1 650.5L2121.2 661.2L2123.4 659.4L2125.6 675.5L2127.7 684.4L2129.9 673.7L2132.1 679.1L2134.2 677.9L2136.4 675.9L2138.5 682.6L2140.7 689.1L2142.9 682.1L2145.0 699.1L2147.2 681.4L2149.4 674.3L2151.5 683.3L2153.7 667.1L2155.9 686.5L2158.0 694.2L2160.2 681.1L2162.4 684.7L2164.5 681.0L2166.7 696.0L2168.9 685.6L2171.0 683.6L2173.2 676.4L2175.3 673.8L2177.5 692.9L2179.7 696.9L2181.8 688.5L2184.0 685.3L2186.2 681.3L2188.3 693.8L2190.5 681.7L2192.7 689.0L2194.8 681.9L2197.0 689.0L2199.2 691.1L2201.3 673.8L2203.5 682.1L2205.6 700.7L2207.8 688.4L2210.0 677.1L2212.1 682.0L2214.3 674.7L2216.5 687.8L2218.6 697.3L2220.8 689.7L2223.0 680.8L2225.1 689.8L2227.3 673.0L2229.5 669.3L2231.6 675.4L2233.8 677.9L2235.9 683.3L2238.1 674.6L2240.3 682.0L2242.4 691.9L2244.6 679.3" stroke="#EB00A0" stroke-width="8"/>
<path d="M381.0 274.5L383.1 282.7L385.3 291.5L387.5 300.6L389.6 310.3L391.8 320.3L394.0 330.5L396.1 341.1L398.3 352.0L400.5 363.5L402.6 375.4L404.8 387.7L406.9 400.4L409.1 413.8L411.3 427.8L413.4 442.0L415.6 456.8L417.8 472.4L419.9 488.3L422.1 502.4L424.3 516.2L426.4 530.2L428.6 544.7L430.8 558.9L432.9 573.4L435.1 587.6L437.3 601.8L439.4 615.7L441.6 629.7L443.7 643.2L445.9 656.7L448.1 670.0L450.2 683.3L452.4 696.5L454.6 709.8L456.7 722.7L458.9 736.0L461.1 749.0L463.2 762.2L465.4 775.4L467.6 788.9L469.7 802.4L471.9 815.8L474.0 828.8L476.2 841.6L478.4 853.7L480.5 865.5L482.7 876.3L484.9 886.9L487.0 896.7L489.2 906.4L491.4 916.0L493.5 925.1L495.7 933.8L497.9 941.9L500.0 950.2L502.2 957.8L504.3 965.2L506.5 972.1L508.7 979.1L510.8 986.1L513.0 992.7L515.2 999.4L517.3 1005.9L519.5 1011.8L521.7 1017.4L523.8 1022.6L526.0 1027.8L528.2 1032.5L530.3 1037.4L532.5 1041.6L534.7 1045.5L536.8 1049.6L539.0 1053.3L541.1 1056.7L543.3 1059.9L545.5 1063.1L547.6 1065.7L549.8 1068.4L552.0 1070.8L554.1 1073.6L556.3 1075.8L558.5 1078.0L560.6 1079.8L562.8 1081.6L565.0 1083.3L567.1 1085.6L569.3 1087.7L571.4 1088.9L573.6 1090.6L575.8 1092.2L577.9 1093.2L580.1 1094.1L582.3 1095.6L584.4 1096.8L586.6 1097.6L588.8 1098.9L590.9 1099.0L593.1 1100.7L595.3 1101.3L597.4 1101.3L599.6 1102.3L601.8 1103.4L603.9 1103.4L606.1 1104.2L608.2 1105.7L610.4 1105.3L612.6 1105.4L614.7 1105.6L616.9 1106.5L619.1 1106.8L621.2 1107.4L623.4 1107.9L625.6 1108.1L627.7 1108.8L629.9 1109.7L632.1 1110.0L634.2 1109.7L636.4 1111.5L638.5 1111.4L640.7 1111.7L642.9 1111.2L645.0 1112.9L647.2 1113.0L649.4 1113.1L651.5 1112.7L653.7 1113.0L655.9 1114.1L658.0 1114.7L660.2 1114.8L662.4 1113.6L664.5 1114.3L666.7 1114.3L668.9 1114.3L671.0 1115.4L673.2 1115.9L675.3 1116.1L677.5 1114.3L679.7 1115.8L681.8 1115.1L684.0 1116.4L686.2 1114.7L688.3 1116.5L690.5 1117.6L692.7 1116.9L694.8 1116.6L697.0 1116.3L699.2 1117.3L701.3 1116.3L703.5 1116.7L705.6 1117.3L707.8 1118.4L710.0 1118.1L712.1 1117.1L714.3 1117.8L716.5 1117.9L718.6 1116.2L720.8 1117.8L723.0 1118.4L725.1 1120.7L727.3 1118.8L729.5 1121.2L731.6 1118.0L733.8 1118.4L736.0 1118.4L738.1 1118.4L740.3 1117.5L742.4 1118.7L744.6 1120.2L746.8 1117.6L748.9 1120.1L751.1 1119.1L753.3 1119.4L755.4 1117.5L757.6 1120.2L759.8 1117.7L761.9 1118.3L764.1 1121.2L766.3 1120.0L768.4 1118.6L770.6 1118.6L772.7 1117.1L774.9 1117.1L777.1 1117.0L779.2 1119.3L781.4 1117.7L783.6 1118.4L785.7 1117.0L787.9 1117.8L790.1 1117.7L792.2 1118.7L794.4 1118.1L796.6 1118.5L798.7 1119.0L800.9 1118.8L803.1 1114.5L805.2 1114.7L807.4 1115.7L809.5 1115.2L811.7 1117.9L813.9 1118.1L816.0 1118.5L818.2 1116.0L820.4 1115.9L822.5 1118.4L824.7 1118.8L826.9 1116.2L829.0 1116.2L831.2 1116.7L833.4 1119.2L835.5 1117.1L837.7 1117.0L839.8 1117.2L842.0 1115.6L844.2 1116.0L846.3 1115.3L848.5 1116.3L850.7 1117.2L852.8 1115.3L855.0 1117.9L857.2 1117.1L859.3 1116.2L861.5 1117.3L863.7 1115.5L865.8 1116.4L868.0 1116.9L870.2 1119.2L872.3 1116.8L874.5 1117.2L876.6 1118.7L878.8 1116.3L881.0 1119.0L883.1 1119.6L885.3 1117.3L887.5 1117.8L889.6 1119.1L891.8 1117.2L894.0 1116.9L896.1 1116.9L898.3 1115.6L900.5 1117.1L902.6 1115.8L904.8 1116.2L906.9 1115.2L909.1 1118.4L911.3 1116.1L913.4 1113.4L915.6 1116.9L917.8 1116.6L919.9 1116.9L922.1 1119.1L924.3 1115.6L926.4 1114.0L928.6 1114.2L930.8 1116.4L932.9 1117.1L935.1 1116.4L937.2 1115.4L939.4 1116.4L941.6 1114.1L943.7 1114.4L945.9 1116.9L948.1 1118.0L950.2 1115.5L952.4 1115.8L954.6 1116.5L956.7 1113.6L958.9 1114.4L961.1 1114.1L963.2 1113.3L965.4 1113.0L967.6 1116.9L969.7 1113.0L971.9 1112.4L974.0 1113.7L976.2 1113.8L978.4 1110.5L980.5 1113.7L982.7 1113.7L984.9 1111.6L987.0 1114.4L989.2 1108.0L991.4 1112.2L993.5 1111.6L995.7 1112.5L997.9 1110.8L1000.0 1111.1L1002.2 1110.3L1004.3 1110.5L1006.5 1111.4L1008.7 1104.5L1010.8 1104.6L1013.0 1104.4L1015.2 1104.3L1017.3 1103.7L1019.5 1105.3L1021.7 1100.1L1023.8 1104.0L1026.0 1104.3L1028.2 1098.0L1030.3 1102.0L1032.5 1101.1L1034.7 1102.1L1036.8 1099.8L1039.0 1096.8L1041.1 1095.5L1043.3 1096.1L1045.5 1091.8L1047.6 1093.7L1049.8 1094.3L1052.0 1089.5L1054.1 1090.3L1056.3 1091.3L1058.5 1093.3L1060.6 1090.5L1062.8 1091.4L1065.0 1089.8L1067.1 1085.8L1069.3 1084.6L1071.4 1086.1L1073.6 1080.1L1075.8 1085.2L1077.9 1082.6L1080.1 1078.8L1082.3 1077.4L1084.4 1073.5L1086.6 1072.1L1088.8 1076.6L1090.9 1069.4L1093.1 1072.9L1095.3 1071.3L1097.4 1071.0L1099.6 1070.0L1101.8 1064.2L1103.9 1063.0L1106.1 1060.9L1108.2 1061.1L1110.4 1054.1L1112.6 1055.1L1114.7 1052.7L1116.9 1051.9L1119.1 1049.9L1121.2 1046.1L1123.4 1045.0L1125.6 1042.9L1127.7 1043.2L1129.9 1040.1L1132.1 1039.8L1134.2 1035.6L1136.4 1034.3L1138.5 1032.4L1140.7 1025.9L1142.9 1022.1L1145.0 1021.8L1147.2 1022.7L1149.4 1016.3L1151.5 1011.9L1153.7 1009.3L1155.9 1012.4L1158.0 1013.0L1160.2 1011.1L1162.4 1002.6L1164.5 1001.3L1166.7 996.6L1168.9 999.9L1171.0 989.3L1173.2 989.8L1175.3 986.3L1177.5 983.7L1179.7 979.2L1181.8 975.1L1184.0 976.0L1186.2 967.0L1188.3 958.6L1190.5 953.3L1192.7 951.1L1194.8 950.8L1197.0 943.7L1199.2 939.4L1201.3 934.2L1203.5 926.5L1205.6 926.2L1207.8 917.8L1210.0 909.1L1212.1 905.4L1214.3 909.3L1216.5 904.4L1218.6 903.4L1220.8 891.0L1223.0 892.3L1225.1 888.2L1227.3 880.0L1229.5 875.8L1231.6 865.3L1233.8 864.4L1236.0 852.4L1238.1 848.4L1240.3 845.1L1242.4 840.5L1244.6 839.8L1246.8 835.0L1248.9 827.9L1251.1 824.1L1253.3 826.8L1255.4 822.0L1257.6 829.7L1259.8 821.4L1261.9 819.6L1264.1 817.9L1266.3 810.6L1268.4 802.5L1270.6 805.3L1272.7 803.6L1274.9 804.5L1277.1 808.0L1279.2 816.3L1281.4 819.8L1283.6 814.7L1285.7 813.7L1287.9 818.5L1290.1 811.5L1292.2 823.8L1294.4 829.8L1296.6 830.9L1298.7 838.4L1300.9 837.7L1303.1 840.0L1305.2 844.6L1307.4 844.6L1309.5 851.7L1311.7 858.5L1313.9 853.7L1316.0 861.3L1318.2 870.0L1320.4 880.9L1322.5 881.1L1324.7 886.7L1326.9 885.3L1329.0 899.4L1331.2 900.8L1333.4 909.5L1335.5 911.7L1337.7 919.7L1339.8 931.0L1342.0 930.1L1344.2 936.5L1346.3 937.1L1348.5 943.0L1350.7 956.2L1352.8 957.1L1355.0 965.1L1357.2 966.7L1359.3 968.1L1361.5 970.9L1363.7 979.6L1365.8 985.6L1368.0 993.7L1370.1 995.7L1372.3 995.9L1374.5 999.8L1376.6 1002.0L1378.8 1003.1L1381.0 1001.1L1383.1 1004.8L1385.3 1006.7L1387.5 1011.8L1389.6 1016.6L1391.8 1020.3L1394.0 1020.0L1396.1 1028.1L1398.3 1035.3L1400.5 1033.6L1402.6 1028.0L1404.8 1035.5L1406.9 1035.9L1409.1 1037.2L1411.3 1037.0L1413.4 1041.4L1415.6 1037.1L1417.8 1036.6L1419.9 1041.8L1422.1 1043.9L1424.3 1045.7L1426.4 1043.0L1428.6 1049.3L1430.8 1054.4L1432.9 1051.6L1435.1 1051.7L1437.2 1049.2L1439.4 1054.6L1441.6 1052.9L1443.7 1055.1L1445.9 1051.6L1448.1 1054.0L1450.2 1049.8L1452.4 1051.1L1454.6 1055.4L1456.7 1055.9L1458.9 1055.7L1461.1 1055.4L1463.2 1055.1L1465.4 1058.2L1467.6 1055.1L1469.7 1057.0L1471.9 1057.0L1474.0 1054.7L1476.2 1053.7L1478.4 1049.4L1480.5 1050.1L1482.7 1054.5L1484.9 1052.5L1487.0 1061.4L1489.2 1056.4L1491.4 1055.9L1493.5 1051.8L1495.7 1056.0L1497.9 1056.7L1500.0 1055.3L1502.2 1056.5L1504.3 1056.9L1506.5 1057.6L1508.7 1053.8L1510.8 1052.5L1513.0 1049.6L1515.2 1047.0L1517.3 1050.3L1519.5 1058.9L1521.7 1053.3L1523.8 1044.8L1526.0 1048.4L1528.2 1047.8L1530.3 1049.0L1532.5 1053.0L1534.7 1046.2L1536.8 1045.6L1539.0 1048.0L1541.1 1043.5L1543.3 1040.5L1545.5 1045.7L1547.6 1047.0L1549.8 1039.6L1552.0 1040.1L1554.1 1044.4L1556.3 1039.3L1558.5 1036.5L1560.6 1040.2L1562.8 1035.0L1565.0 1032.6L1567.1 1031.8L1569.3 1031.5L1571.4 1033.2L1573.6 1033.6L1575.8 1034.8L1577.9 1032.2L1580.1 1036.8L1582.3 1035.9L1584.4 1030.0L1586.6 1030.8L1588.8 1019.7L1590.9 1026.4L1593.1 1018.9L1595.3 1025.8L1597.4 1027.1L1599.6 1025.9L1601.8 1026.8L1603.9 1026.9L1606.1 1025.3L1608.2 1024.8L1610.4 1021.7L1612.6 1013.3L1614.7 1023.8L1616.9 1011.2L1619.1 1014.2L1621.2 1018.0L1623.4 1010.7L1625.6 1010.1L1627.7 1013.7L1629.9 1024.9L1632.1 1024.1L1634.2 1012.6L1636.4 1016.6L1638.5 1005.9L1640.7 1005.2L1642.9 1001.1L1645.0 1002.8L1647.2 1002.3L1649.4 1009.5L1651.5 1001.3L1653.7 1001.6L1655.9 993.8L1658.0 1001.2L1660.2 999.2L1662.4 999.0L1664.5 1002.8L1666.7 1003.5L1668.9 998.5L1671.0 997.2L1673.2 992.7L1675.3 997.5L1677.5 997.5L1679.7 989.7L1681.8 991.2L1684.0 986.7L1686.2 986.1L1688.3 997.8L1690.5 987.9L1692.7 984.7L1694.8 984.3L1697.0 980.7L1699.2 977.8L1701.3 985.8L1703.5 984.5L1705.6 979.0L1707.8 975.3L1710.0 977.0L1712.1 973.2L1714.3 974.3L1716.5 983.4L1718.6 975.9L1720.8 981.5L1723.0 973.0L1725.1 981.3L1727.3 980.4L1729.5 978.8L1731.6 971.9L1733.8 968.1L1736.0 967.6L1738.1 969.4L1740.3 970.4L1742.4 973.7L1744.6 970.0L1746.8 965.7L1748.9 965.1L1751.1 963.3L1753.3 969.6L1755.4 971.3L1757.6 960.6L1759.8 965.2L1761.9 961.9L1764.1 967.3L1766.3 968.5L1768.4 964.8L1770.6 960.5L1772.7 949.4L1774.9 955.5L1777.1 948.9L1779.2 951.2L1781.4 952.7L1783.6 961.6L1785.7 953.5L1787.9 952.7L1790.1 952.1L1792.2 941.6L1794.4 953.3L1796.6 950.8L1798.7 949.2L1800.9 942.3L1803.0 948.3L1805.2 934.6L1807.4 937.5L1809.5 947.3L1811.7 939.1L1813.9 934.3L1816.0 943.9L1818.2 933.5L1820.4 947.7L1822.5 934.7L1824.7 935.4L1826.9 931.8L1829.0 932.4L1831.2 932.6L1833.4 939.8L1835.5 922.0L1837.7 924.7L1839.8 921.8L1842.0 928.7L1844.2 937.7L1846.3 925.6L1848.5 932.7L1850.7 929.1L1852.8 928.3L1855.0 936.6L1857.2 926.9L1859.3 928.3L1861.5 923.8L1863.7 914.4L1865.8 926.1L1868.0 923.5L1870.1 922.0L1872.3 911.1L1874.5 912.7L1876.6 906.9L1878.8 918.0L1881.0 920.8L1883.1 913.5L1885.3 904.9L1887.5 911.9L1889.6 918.6L1891.8 918.7L1894.0 904.4L1896.1 905.2L1898.3 912.2L1900.5 913.1L1902.6 890.7L1904.8 899.3L1906.9 899.8L1909.1 896.6L1911.3 895.9L1913.4 893.3L1915.6 891.7L1917.8 900.9L1919.9 893.2L1922.1 894.2L1924.3 885.8L1926.4 881.5L1928.6 882.0L1930.8 876.6L1932.9 875.1L1935.1 865.7L1937.2 867.7L1939.4 871.3L1941.6 854.9L1943.7 863.7L1945.9 850.6L1948.1 852.4L1950.2 856.4L1952.4 846.7L1954.6 841.3L1956.7 829.2L1958.9 823.8L1961.1 834.0L1963.2 817.8L1965.4 799.7L1967.6 795.8L1969.7 789.8L1971.9 783.1L1974.0 776.1L1976.2 766.5L1978.4 770.2L1980.5 777.5L1982.7 760.5L1984.9 766.7L1987.0 770.0L1989.2 753.1L1991.4 752.1L1993.5 742.0L1995.7 748.4L1997.9 723.7L2000.0 718.9L2002.2 711.4L2004.3 714.3L2006.5 710.1L2008.7 690.0L2010.8 682.3L2013.0 681.2L2015.2 680.6L2017.3 663.7L2019.5 664.5L2021.7 654.7L2023.8 661.4L2026.0 654.1L2028.2 647.7L2030.3 653.9L2032.5 645.3L2034.7 659.4L2036.8 637.8L2039.0 644.2L2041.1 636.5L2043.3 624.8L2045.5 620.2L2047.6 619.0L2049.8 615.4L2052.0 622.1L2054.1 620.3L2056.3 614.8L2058.5 618.0L2060.6 622.7L2062.8 610.6L2065.0 602.6L2067.1 624.8L2069.3 620.2L2071.4 638.4L2073.6 640.7L2075.8 652.9L2077.9 655.9L2080.1 667.0L2082.3 670.4L2084.4 678.5L2086.6 665.6L2088.8 691.7L2090.9 685.0L2093.1 685.1L2095.3 707.9L2097.4 706.9L2099.6 689.9L2101.8 707.2L2103.9 709.6L2106.1 727.6L2108.2 721.9L2110.4 717.2L2112.6 705.1L2114.7 696.3L2116.9 717.1L2119.1 701.9L2121.2 714.7L2123.4 718.4L2125.6 722.7L2127.7 722.3L2129.9 730.0L2132.1 717.7L2134.2 727.8L2136.4 718.5L2138.5 703.4L2140.7 727.3L2142.9 704.5L2145.0 723.7L2147.2 717.9L2149.4 706.5L2151.5 707.9L2153.7 701.9L2155.9 699.1L2158.0 712.9L2160.2 716.0L2162.4 713.1L2164.5 720.1L2166.7 717.0L2168.9 746.5L2171.0 721.6L2173.2 724.2L2175.3 729.3L2177.5 731.1L2179.7 726.1L2181.8 718.9L2184.0 698.0L2186.2 709.7L2188.3 713.6L2190.5 717.2L2192.7 716.0L2194.8 719.6L2197.0 725.8L2199.2 724.6L2201.3 725.2L2203.5 715.5L2205.6 717.8L2207.8 722.6L2210.0 723.8L2212.1 713.8L2214.3 717.5L2216.5 720.2L2218.6 709.8L2220.8 716.4L2223.0 706.3L2225.1 713.8L2227.3 699.5L2229.5 700.7L2231.6 705.1L2233.8 711.4L2235.9 703.8L2238.1 704.8L2240.3 714.6L2242.4 706.0L2244.6 710.4" stroke="#EB00A0" stroke-width="8"/>
<path d="M381.0 225.4L383.1 233.2L385.3 241.6L387.5 250.3L389.6 259.7L391.8 269.3L394.0 279.4L396.1 289.7L398.3 300.5L400.5 311.9L402.6 323.5L404.8 335.8L406.9 348.7L409.1 362.1L411.3 375.9L413.4 390.2L415.6 405.2L417.8 421.0L419.9 437.6L422.1 452.8L424.3 468.2L426.4 484.0L428.6 500.0L430.8 516.2L432.9 532.4L435.1 548.5L437.3 564.5L439.4 580.0L441.6 595.5L443.7 610.7L445.9 625.5L448.1 640.3L450.2 655.1L452.4 669.8L454.6 684.6L456.7 699.2L458.9 713.5L461.1 728.2L463.2 742.6L465.4 757.5L467.6 772.8L469.7 787.9L471.9 803.0L474.0 817.7L476.2 832.0L478.4 845.6L480.5 858.3L482.7 870.3L484.9 881.6L487.0 892.4L489.2 902.8L491.4 912.7L493.5 922.3L495.7 931.6L497.9 940.4L500.0 948.9L502.2 957.1L504.3 965.3L506.5 973.4L508.7 981.1L510.8 988.9L513.0 996.2L515.2 1003.5L517.3 1010.6L519.5 1017.4L521.7 1023.5L523.8 1029.3L526.0 1034.8L528.2 1040.4L530.3 1045.6L532.5 1050.1L534.7 1054.9L536.8 1059.7L539.0 1063.5L541.1 1067.8L543.3 1071.0L545.5 1074.4L547.6 1078.0L549.8 1080.4L552.0 1083.2L554.1 1085.8L556.3 1088.8L558.5 1091.4L560.6 1093.4L562.8 1096.4L565.0 1098.2L567.1 1100.0L569.3 1101.9L571.4 1103.7L573.6 1104.9L575.8 1106.6L577.9 1108.3L580.1 1109.7L582.3 1111.2L584.4 1112.1L586.6 1112.7L588.8 1114.0L590.9 1114.9L593.1 1116.2L595.3 1117.3L597.4 1117.6L599.6 1118.6L601.8 1119.2L603.9 1120.5L606.1 1120.7L608.2 1121.7L610.4 1122.3L612.6 1122.3L614.7 1122.8L616.9 1122.9L619.1 1123.4L621.2 1123.4L623.4 1124.7L625.6 1125.0L627.7 1125.6L629.9 1126.1L632.1 1126.4L634.2 1126.1L636.4 1126.8L638.5 1126.3L640.7 1128.0L642.9 1129.3L645.0 1129.9L647.2 1130.2L649.4 1129.7L651.5 1131.0L653.7 1131.4L655.9 1130.6L658.0 1131.8L660.2 1130.9L662.4 1130.5L664.5 1130.6L666.7 1131.4L668.9 1132.6L671.0 1132.7L673.2 1131.4L675.3 1131.6L677.5 1133.2L679.7 1132.8L681.8 1133.0L684.0 1133.4L686.2 1132.3L688.3 1133.7L690.5 1133.2L692.7 1133.7L694.8 1134.4L697.0 1134.8L699.2 1133.5L701.3 1135.6L703.5 1135.9L705.6 1136.5L707.8 1135.8L710.0 1135.8L712.1 1136.2L714.3 1135.1L716.5 1136.5L718.6 1136.5L720.8 1138.0L723.0 1137.1L725.1 1135.5L727.3 1136.3L729.5 1137.2L731.6 1137.0L733.8 1137.1L736.0 1137.2L738.1 1136.6L740.3 1136.4L742.4 1137.1L744.6 1134.9L746.8 1134.4L748.9 1135.6L751.1 1135.8L753.3 1133.5L755.4 1136.2L757.6 1136.6L759.8 1137.7L761.9 1138.3L764.1 1138.7L766.3 1137.5L768.4 1139.7L770.6 1136.6L772.7 1135.6L774.9 1137.1L777.1 1136.8L779.2 1134.2L781.4 1135.8L783.6 1136.1L785.7 1134.2L787.9 1136.8L790.1 1138.1L792.2 1136.0L794.4 1136.3L796.6 1136.4L798.7 1135.8L800.9 1135.2L803.1 1134.3L805.2 1136.6L807.4 1133.9L809.5 1136.2L811.7 1136.6L813.9 1136.7L816.0 1134.6L818.2 1134.6L820.4 1131.7L822.5 1137.1L824.7 1134.3L826.9 1134.7L829.0 1138.1L831.2 1134.7L833.4 1134.9L835.5 1134.7L837.7 1134.3L839.8 1134.1L842.0 1135.1L844.2 1135.0L846.3 1132.9L848.5 1133.8L850.7 1133.0L852.8 1131.1L855.0 1135.5L857.2 1135.1L859.3 1135.5L861.5 1135.5L863.7 1133.8L865.8 1135.0L868.0 1133.4L870.2 1131.9L872.3 1137.1L874.5 1135.7L876.6 1136.3L878.8 1134.6L881.0 1135.8L883.1 1132.2L885.3 1135.0L887.5 1135.8L889.6 1136.4L891.8 1136.8L894.0 1134.9L896.1 1135.5L898.3 1133.7L900.5 1134.4L902.6 1132.9L904.8 1133.6L906.9 1132.1L909.1 1132.0L911.3 1133.2L913.4 1131.2L915.6 1134.3L917.8 1134.9L919.9 1132.5L922.1 1135.3L924.3 1134.5L926.4 1135.2L928.6 1134.5L930.8 1131.6L932.9 1133.4L935.1 1130.2L937.2 1130.8L939.4 1131.7L941.6 1132.9L943.7 1131.7L945.9 1132.7L948.1 1131.0L950.2 1135.7L952.4 1132.4L954.6 1130.9L956.7 1129.4L958.9 1128.8L961.1 1129.9L963.2 1127.7L965.4 1129.1L967.6 1125.0L969.7 1126.5L971.9 1128.5L974.0 1127.9L976.2 1130.9L978.4 1131.8L980.5 1127.5L982.7 1126.7L984.9 1125.9L987.0 1125.7L989.2 1123.8L991.4 1123.5L993.5 1125.8L995.7 1127.5L997.9 1124.7L1000.0 1127.4L1002.2 1121.9L1004.3 1119.7L1006.5 1122.1L1008.7 1117.2L1010.8 1121.1L1013.0 1120.6L1015.2 1120.8L1017.3 1119.1L1019.5 1117.3L1021.7 1116.9L1023.8 1117.8L1026.0 1116.2L1028.2 1117.3L1030.3 1115.2L1032.5 1112.0L1034.7 1110.4L1036.8 1110.5L1039.0 1109.5L1041.1 1112.2L1043.3 1111.2L1045.5 1110.3L1047.6 1107.1L1049.8 1105.9L1052.0 1107.5L1054.1 1105.5L1056.3 1106.3L1058.5 1099.4L1060.6 1105.8L1062.8 1100.7L1065.0 1101.5L1067.1 1096.9L1069.3 1096.0L1071.4 1094.5L1073.6 1096.6L1075.8 1092.9L1077.9 1094.2L1080.1 1092.4L1082.3 1090.9L1084.4 1088.6L1086.6 1082.3L1088.8 1081.7L1090.9 1081.6L1093.1 1085.4L1095.3 1080.6L1097.4 1077.7L1099.6 1080.4L1101.8 1072.5L1103.9 1074.1L1106.1 1070.4L1108.2 1067.7L1110.4 1066.4L1112.6 1064.0L1114.7 1061.8L1116.9 1058.2L1119.1 1054.9L1121.2 1052.2L1123.4 1052.9L1125.6 1056.2L1127.7 1053.2L1129.9 1048.8L1132.1 1042.3L1134.2 1036.5L1136.4 1037.3L1138.5 1037.2L1140.7 1034.4L1142.9 1032.7L1145.0 1027.3L1147.2 1022.8L1149.4 1020.1L1151.5 1021.7L1153.7 1015.0L1155.9 1016.8L1158.0 1010.0L1160.2 1001.9L1162.4 1001.5L1164.5 1001.0L1166.7 993.3L1168.9 1000.0L1171.0 992.3L1173.2 989.0L1175.3 987.3L1177.5 984.8L1179.7 977.7L1181.8 975.4L1184.0 972.8L1186.2 969.3L1188.3 963.1L1190.5 960.1L1192.7 956.1L1194.8 947.0L1197.0 942.0L1199.2 935.3L1201.3 932.1L1203.5 921.6L1205.6 914.8L1207.8 911.8L1210.0 897.5L1212.1 898.7L1214.3 894.4L1216.5 887.3L1218.6 879.2L1220.8 874.2L1223.0 874.6L1225.1 865.2L1227.3 861.7L1229.5 853.5L1231.6 847.1L1233.8 839.1L1236.0 842.1L1238.1 829.7L1240.3 825.9L1242.4 826.0L1244.6 813.5L1246.8 820.1L1248.9 813.1L1251.1 813.0L1253.3 804.6L1255.4 799.5L1257.6 800.2L1259.8 800.0L1261.9 792.4L1264.1 789.0L1266.3 782.1L1268.4 788.7L1270.6 797.6L1272.7 798.5L1274.9 793.2L1277.1 800.0L1279.2 803.3L1281.4 793.4L1283.6 803.3L1285.7 804.6L1287.9 802.7L1290.1 803.6L1292.2 806.8L1294.4 815.7L1296.6 808.6L1298.7 818.1L1300.9 817.7L1303.1 833.3L1305.2 836.7L1307.4 835.7L1309.5 842.5L1311.7 844.1L1313.9 857.4L1316.0 849.0L1318.2 855.3L1320.4 856.6L1322.5 871.6L1324.7 873.5L1326.9 881.7L1329.0 890.5L1331.2 894.3L1333.4 901.5L1335.5 906.1L1337.7 916.0L1339.8 921.6L1342.0 931.9L1344.2 935.9L1346.3 939.5L1348.5 944.5L1350.7 951.2L1352.8 955.8L1355.0 966.4L1357.2 971.2L1359.3 978.2L1361.5 974.1L1363.7 977.7L1365.8 988.7L1368.0 991.9L1370.1 999.3L1372.3 1000.8L1374.5 1003.4L1376.6 1012.7L1378.8 1021.3L1381.0 1015.6L1383.1 1016.6L1385.3 1015.7L1387.5 1019.1L1389.6 1029.6L1391.8 1031.6L1394.0 1030.3L1396.1 1035.6L1398.3 1034.5L1400.5 1041.2L1402.6 1038.3L1404.8 1040.2L1406.9 1043.9L1409.1 1046.1L1411.3 1052.3L1413.4 1054.7L1415.6 1050.3L1417.8 1053.1L1419.9 1057.8L1422.1 1056.7L1424.3 1062.5L1426.4 1064.8L1428.6 1061.8L1430.8 1063.9L1432.9 1063.9L1435.1 1059.8L1437.2 1065.8L1439.4 1066.7L1441.6 1062.2L1443.7 1071.7L1445.9 1070.8L1448.1 1072.2L1450.2 1072.0L1452.4 1066.2L1454.6 1078.9L1456.7 1068.4L1458.9 1076.4L1461.1 1077.5L1463.2 1075.2L1465.4 1077.0L1467.6 1079.5L1469.7 1082.1L1471.9 1076.0L1474.0 1080.3L1476.2 1075.6L1478.4 1072.7L1480.5 1085.4L1482.7 1080.7L1484.9 1079.8L1487.0 1083.4L1489.2 1077.4L1491.4 1075.1L1493.5 1075.5L1495.7 1077.7L1497.9 1080.8L1500.0 1078.5L1502.2 1078.6L1504.3 1072.1L1506.5 1078.0L1508.7 1080.0L1510.8 1077.1L1513.0 1068.6L1515.2 1077.0L1517.3 1069.2L1519.5 1069.1L1521.7 1072.0L1523.8 1067.1L1526.0 1071.7L1528.2 1065.8L1530.3 1067.5L1532.5 1071.3L1534.7 1068.2L1536.8 1066.7L1539.0 1063.7L1541.1 1063.0L1543.3 1062.0L1545.5 1066.2L1547.6 1062.9L1549.8 1060.7L1552.0 1056.7L1554.1 1061.6L1556.3 1064.5L1558.5 1066.4L1560.6 1065.7L1562.8 1071.5L1565.0 1068.9L1567.1 1062.5L1569.3 1056.5L1571.4 1052.2L1573.6 1054.8L1575.8 1046.6L1577.9 1052.1L1580.1 1057.6L1582.3 1052.5L1584.4 1053.6L1586.6 1052.3L1588.8 1053.4L1590.9 1051.3L1593.1 1054.4L1595.3 1052.4L1597.4 1050.8L1599.6 1044.1L1601.8 1045.4L1603.9 1044.8L1606.1 1050.8L1608.2 1051.5L1610.4 1052.0L1612.6 1051.2L1614.7 1051.0L1616.9 1041.2L1619.1 1043.8L1621.2 1050.1L1623.4 1044.1L1625.6 1039.2L1627.7 1039.1L1629.9 1038.1L1632.1 1040.1L1634.2 1033.9L1636.4 1044.3L1638.5 1039.6L1640.7 1038.4L1642.9 1037.4L1645.0 1030.6L1647.2 1037.1L1649.4 1033.5L1651.5 1027.5L1653.7 1026.4L1655.9 1025.3L1658.0 1030.9L1660.2 1029.3L1662.4 1021.3L1664.5 1022.4L1666.7 1021.0L1668.9 1019.4L1671.0 1015.5L1673.2 1022.3L1675.3 1020.4L1677.5 1027.2L1679.7 1022.2L1681.8 1018.9L1684.0 1016.5L1686.2 1019.1L1688.3 1018.1L1690.5 1013.3L1692.7 1019.0L1694.8 1016.6L1697.0 1013.6L1699.2 1009.9L1701.3 1005.0L1703.5 1011.2L1705.6 1014.1L1707.8 1008.8L1710.0 1005.9L1712.1 998.4L1714.3 997.5L1716.5 1009.7L1718.6 1002.3L1720.8 991.0L1723.0 993.4L1725.1 1000.7L1727.3 1010.2L1729.5 999.1L1731.6 999.5L1733.8 1000.7L1736.0 994.7L1738.1 994.7L1740.3 991.4L1742.4 994.8L1744.6 997.1L1746.8 998.0L1748.9 1002.1L1751.1 1004.6L1753.3 1000.2L1755.4 989.4L1757.6 989.8L1759.8 990.1L1761.9 990.6L1764.1 986.8L1766.3 999.3L1768.4 999.1L1770.6 986.2L1772.7 986.5L1774.9 977.4L1777.1 984.3L1779.2 986.2L1781.4 976.2L1783.6 975.0L1785.7 975.5L1787.9 976.4L1790.1 969.5L1792.2 980.9L1794.4 976.4L1796.6 975.1L1798.7 980.5L1800.9 979.1L1803.0 980.5L1805.2 979.8L1807.4 982.7L1809.5 968.0L1811.7 971.4L1813.9 973.0L1816.0 972.4L1818.2 969.7L1820.4 973.1L1822.5 973.2L1824.7 973.7L1826.9 968.9L1829.0 960.3L1831.2 974.1L1833.4 962.0L1835.5 958.9L1837.7 966.1L1839.8 953.8L1842.0 965.4L1844.2 971.4L1846.3 960.7L1848.5 962.6L1850.7 949.9L1852.8 948.6L1855.0 942.1L1857.2 951.4L1859.3 946.3L1861.5 944.0L1863.7 953.0L1865.8 955.1L1868.0 951.4L1870.1 950.0L1872.3 953.0L1874.5 948.1L1876.6 940.9L1878.8 947.2L1881.0 947.8L1883.1 943.5L1885.3 948.7L1887.5 947.1L1889.6 948.9L1891.8 955.2L1894.0 941.9L1896.1 934.6L1898.3 937.2L1900.5 930.9L1902.6 940.1L1904.8 932.4L1906.9 937.6L1909.1 930.3L1911.3 921.3L1913.4 922.5L1915.6 926.2L1917.8 926.1L1919.9 930.7L1922.1 928.1L1924.3 916.6L1926.4 926.1L1928.6 920.7L1930.8 915.3L1932.9 910.7L1935.1 904.4L1937.2 911.6L1939.4 905.9L1941.6 901.8L1943.7 896.8L1945.9 889.3L1948.1 884.0L1950.2 879.9L1952.4 880.9L1954.6 877.8L1956.7 871.3L1958.9 851.7L1961.1 838.0L1963.2 845.5L1965.4 847.1L1967.6 840.9L1969.7 835.5L1971.9 834.3L1974.0 827.0L1976.2 814.6L1978.4 810.2L1980.5 808.9L1982.7 808.7L1984.9 796.2L1987.0 782.3L1989.2 792.9L1991.4 766.8L1993.5 768.4L1995.7 751.1L1997.9 755.5L2000.0 749.4L2002.2 748.2L2004.3 733.2L2006.5 727.9L2008.7 723.1L2010.8 712.8L2013.0 701.1L2015.2 697.8L2017.3 677.7L2019.5 686.5L2021.7 676.7L2023.8 669.2L2026.0 671.7L2028.2 663.0L2030.3 667.0L2032.5 651.1L2034.7 644.8L2036.8 652.8L2039.0 636.3L2041.1 645.6L2043.3 639.7L2045.5 642.3L2047.6 631.0L2049.8 637.2L2052.0 622.6L2054.1 617.5L2056.3 624.2L2058.5 621.8L2060.6 618.3L2062.8 648.0L2065.0 647.8L2067.1 621.2L2069.3 641.4L2071.4 620.3L2073.6 637.6L2075.8 666.2L2077.9 648.9L2080.1 661.4L2082.3 667.2L2084.4 670.6L2086.6 689.1L2088.8 690.1L2090.9 687.9L2093.1 707.7L2095.3 705.4L2097.4 709.4L2099.6 710.5L2101.8 711.7L2103.9 713.5L2106.1 731.3L2108.2 722.0L2110.4 729.1L2112.6 713.6L2114.7 710.6L2116.9 720.2L2119.1 739.9L2121.2 736.2L2123.4 734.0L2125.6 741.3L2127.7 739.5L2129.9 737.5L2132.1 750.0L2134.2 734.8L2136.4 730.9L2138.5 737.7L2140.7 740.3L2142.9 741.9L2145.0 728.5L2147.2 731.0L2149.4 736.2L2151.5 736.1L2153.7 752.0L2155.9 740.6L2158.0 735.6L2160.2 746.3L2162.4 742.1L2164.5 737.8L2166.7 751.9L2168.9 761.7L2171.0 752.6L2173.2 755.1L2175.3 739.8L2177.5 756.0L2179.7 752.7L2181.8 739.3L2184.0 753.0L2186.2 751.0L2188.3 751.7L2190.5 749.5L2192.7 744.2L2194.8 743.9L2197.0 761.8L2199.2 736.5L2201.3 749.5L2203.5 742.0L2205.6 749.4L2207.8 746.7L2210.0 743.8L2212.1 755.9L2214.3 755.1L2216.5 743.3L2218.6 742.7L2220.8 729.6L2223.0 744.8L2225.1 749.3L2227.3 724.4L2229.5 744.3L2231.6 730.5L2233.8 744.3L2235.9 735.3L2238.1 726.8L2240.3 724.8L2242.4 735.4L2244.6 728.2" stroke="#B0007A" stroke-width="8"/>
<path d="M381.0 194.8L383.1 202.0L385.3 210.0L387.5 218.5L389.6 227.5L391.8 236.8L394.0 246.4L396.1 256.4L398.3 266.8L400.5 278.0L402.6 289.6L404.8 301.9L406.9 314.7L409.1 327.8L411.3 341.8L413.4 356.0L415.6 371.2L417.8 387.1L419.9 403.9L422.1 420.2L424.3 436.5L426.4 453.2L428.6 470.3L430.8 487.5L432.9 504.8L435.1 522.3L437.3 539.5L439.4 556.5L441.6 573.0L443.7 589.5L445.9 605.2L448.1 621.0L450.2 636.6L452.4 652.2L454.6 667.7L456.7 683.1L458.9 698.7L461.1 714.2L463.2 729.7L465.4 745.7L467.6 761.8L469.7 778.4L471.9 794.6L474.0 810.5L476.2 825.7L478.4 840.2L480.5 854.0L482.7 866.0L484.9 877.8L487.0 889.2L489.2 900.1L491.4 910.4L493.5 920.5L495.7 930.1L497.9 939.4L500.0 948.2L502.2 957.1L504.3 965.6L506.5 973.9L508.7 982.5L510.8 990.6L513.0 998.6L515.2 1006.6L517.3 1014.1L519.5 1021.0L521.7 1027.8L523.8 1033.8L526.0 1039.8L528.2 1045.5L530.3 1050.7L532.5 1056.5L534.7 1061.4L536.8 1066.0L539.0 1070.3L541.1 1074.6L543.3 1078.4L545.5 1081.9L547.6 1085.0L549.8 1088.3L552.0 1091.6L554.1 1093.8L556.3 1096.9L558.5 1099.8L560.6 1102.2L562.8 1104.9L565.0 1107.2L567.1 1109.6L569.3 1111.5L571.4 1113.9L573.6 1114.9L575.8 1116.7L577.9 1117.8L580.1 1119.1L582.3 1120.5L584.4 1121.5L586.6 1122.7L588.8 1124.4L590.9 1125.0L593.1 1126.4L595.3 1127.3L597.4 1128.0L599.6 1129.0L601.8 1129.9L603.9 1131.2L606.1 1131.3L608.2 1131.4L610.4 1131.8L612.6 1132.4L614.7 1133.6L616.9 1133.9L619.1 1135.2L621.2 1135.0L623.4 1135.1L625.6 1136.5L627.7 1137.4L629.9 1137.0L632.1 1138.1L634.2 1138.6L636.4 1138.8L638.5 1139.4L640.7 1139.0L642.9 1140.0L645.0 1140.8L647.2 1141.1L649.4 1141.7L651.5 1142.1L653.7 1142.2L655.9 1142.7L658.0 1143.0L660.2 1142.4L662.4 1143.6L664.5 1143.3L666.7 1143.6L668.9 1144.8L671.0 1144.8L673.2 1145.6L675.3 1145.0L677.5 1144.9L679.7 1144.9L681.8 1144.8L684.0 1144.5L686.2 1145.4L688.3 1144.5L690.5 1145.3L692.7 1147.2L694.8 1146.0L697.0 1147.2L699.2 1147.1L701.3 1147.6L703.5 1147.9L705.6 1146.2L707.8 1147.2L710.0 1148.1L712.1 1148.1L714.3 1147.8L716.5 1147.9L718.6 1147.3L720.8 1147.3L723.0 1150.7L725.1 1149.6L727.3 1150.2L729.5 1149.6L731.6 1148.5L733.8 1150.1L736.0 1150.7L738.1 1149.9L740.3 1149.7L742.4 1148.7L744.6 1147.1L746.8 1149.3L748.9 1147.7L751.1 1148.5L753.3 1150.7L755.4 1149.9L757.6 1150.9L759.8 1149.4L761.9 1149.0L764.1 1149.0L766.3 1146.5L768.4 1146.5L770.6 1145.8L772.7 1148.5L774.9 1148.2L777.1 1149.6L779.2 1150.6L781.4 1147.3L783.6 1147.4L785.7 1146.6L787.9 1145.4L790.1 1147.9L792.2 1146.6L794.4 1150.2L796.6 1146.5L798.7 1146.0L800.9 1147.7L803.1 1147.7L805.2 1144.8L807.4 1148.4L809.5 1147.0L811.7 1148.4L813.9 1148.6L816.0 1148.6L818.2 1149.0L820.4 1148.9L822.5 1148.6L824.7 1146.7L826.9 1149.6L829.0 1148.5L831.2 1146.6L833.4 1147.1L835.5 1146.8L837.7 1147.2L839.8 1148.4L842.0 1148.6L844.2 1149.8L846.3 1148.7L848.5 1147.9L850.7 1147.5L852.8 1143.4L855.0 1147.3L857.2 1143.7L859.3 1145.6L861.5 1145.9L863.7 1146.8L865.8 1146.0L868.0 1145.2L870.2 1147.3L872.3 1144.0L874.5 1145.2L876.6 1145.8L878.8 1146.3L881.0 1145.2L883.1 1146.2L885.3 1144.2L887.5 1145.4L889.6 1143.1L891.8 1147.6L894.0 1148.9L896.1 1147.8L898.3 1144.1L900.5 1141.7L902.6 1142.3L904.8 1140.0L906.9 1144.4L909.1 1145.0L911.3 1144.3L913.4 1141.8L915.6 1143.7L917.8 1142.3L919.9 1143.7L922.1 1142.2L924.3 1144.3L926.4 1140.6L928.6 1142.6L930.8 1143.5L932.9 1141.2L935.1 1141.9L937.2 1143.0L939.4 1141.7L941.6 1144.9L943.7 1140.7L945.9 1140.5L948.1 1143.8L950.2 1142.0L952.4 1144.0L954.6 1139.5L956.7 1140.1L958.9 1140.9L961.1 1142.7L963.2 1142.1L965.4 1142.7L967.6 1141.8L969.7 1142.0L971.9 1141.7L974.0 1141.6L976.2 1143.3L978.4 1140.4L980.5 1135.9L982.7 1133.8L984.9 1136.5L987.0 1136.3L989.2 1134.7L991.4 1139.3L993.5 1136.4L995.7 1140.1L997.9 1136.8L1000.0 1137.1L1002.2 1135.8L1004.3 1134.8L1006.5 1130.0L1008.7 1135.4L1010.8 1132.5L1013.0 1129.0L1015.2 1127.9L1017.3 1129.7L1019.5 1127.6L1021.7 1128.3L1023.8 1127.8L1026.0 1126.1L1028.2 1128.6L1030.3 1124.9L1032.5 1121.2L1034.7 1122.2L1036.8 1118.1L1039.0 1121.2L1041.1 1121.5L1043.3 1120.1L1045.5 1117.6L1047.6 1115.3L1049.8 1117.0L1052.0 1116.0L1054.1 1115.7L1056.3 1112.8L1058.5 1113.4L1060.6 1109.9L1062.8 1110.0L1065.0 1105.9L1067.1 1103.5L1069.3 1108.1L1071.4 1103.8L1073.6 1104.1L1075.8 1100.5L1077.9 1100.4L1080.1 1096.8L1082.3 1098.5L1084.4 1094.7L1086.6 1091.0L1088.8 1092.9L1090.9 1087.1L1093.1 1083.3L1095.3 1083.6L1097.4 1080.7L1099.6 1079.4L1101.8 1076.8L1103.9 1078.6L1106.1 1074.4L1108.2 1075.7L1110.4 1071.1L1112.6 1069.9L1114.7 1071.9L1116.9 1067.2L1119.1 1064.2L1121.2 1063.4L1123.4 1060.4L1125.6 1053.4L1127.7 1057.9L1129.9 1053.5L1132.1 1050.7L1134.2 1045.8L1136.4 1043.1L1138.5 1039.2L1140.7 1038.9L1142.9 1037.6L1145.0 1028.9L1147.2 1024.0L1149.4 1024.2L1151.5 1019.5L1153.7 1019.7L1155.9 1014.7L1158.0 1010.4L1160.2 1010.9L1162.4 1009.6L1164.5 1000.7L1166.7 995.6L1168.9 998.8L1171.0 997.7L1173.2 990.0L1175.3 985.5L1177.5 987.3L1179.7 982.1L1181.8 974.8L1184.0 971.1L1186.2 967.6L1188.3 956.5L1190.5 955.0L1192.7 943.8L1194.8 941.6L1197.0 940.5L1199.2 929.6L1201.3 918.5L1203.5 908.9L1205.6 907.3L1207.8 902.8L1210.0 889.3L1212.1 895.7L1214.3 885.3L1216.5 890.3L1218.6 886.6L1220.8 879.6L1223.0 867.9L1225.1 863.6L1227.3 858.4L1229.5 850.2L1231.6 846.6L1233.8 831.9L1236.0 829.9L1238.1 823.3L1240.3 825.3L1242.4 816.4L1244.6 816.0L1246.8 803.6L1248.9 806.6L1251.1 794.4L1253.3 790.4L1255.4 789.3L1257.6 783.7L1259.8 781.3L1261.9 785.7L1264.1 784.2L1266.3 781.6L1268.4 778.9L1270.6 779.4L1272.7 778.6L1274.9 770.8L1277.1 777.2L1279.2 781.8L1281.4 776.6L1283.6 786.0L1285.7 780.8L1287.9 781.0L1290.1 784.5L1292.2 797.2L1294.4 800.5L1296.6 804.8L1298.7 807.9L1300.9 807.9L1303.1 818.0L1305.2 823.3L1307.4 830.6L1309.5 833.8L1311.7 832.7L1313.9 841.2L1316.0 851.0L1318.2 853.4L1320.4 863.6L1322.5 867.7L1324.7 874.2L1326.9 881.4L1329.0 883.8L1331.2 897.4L1333.4 898.5L1335.5 913.8L1337.7 920.8L1339.8 922.9L1342.0 930.2L1344.2 939.6L1346.3 952.3L1348.5 946.8L1350.7 952.5L1352.8 963.6L1355.0 962.4L1357.2 973.3L1359.3 976.8L1361.5 985.1L1363.7 991.7L1365.8 999.0L1368.0 1000.4L1370.1 1003.7L1372.3 1012.2L1374.5 1012.8L1376.6 1013.0L1378.8 1011.8L1381.0 1016.5L1383.1 1025.2L1385.3 1029.9L1387.5 1033.5L1389.6 1036.4L1391.8 1038.2L1394.0 1032.2L1396.1 1043.2L1398.3 1042.5L1400.5 1042.5L1402.6 1047.1L1404.8 1050.8L1406.9 1049.8L1409.1 1049.0L1411.3 1058.1L1413.4 1060.0L1415.6 1060.5L1417.8 1059.1L1419.9 1061.2L1422.1 1068.7L1424.3 1069.2L1426.4 1068.5L1428.6 1075.2L1430.8 1073.3L1432.9 1073.2L1435.1 1073.0L1437.2 1073.1L1439.4 1078.9L1441.6 1076.2L1443.7 1079.9L1445.9 1080.1L1448.1 1081.3L1450.2 1083.1L1452.4 1082.6L1454.6 1078.3L1456.7 1081.1L1458.9 1083.4L1461.1 1084.9L1463.2 1079.2L1465.4 1090.0L1467.6 1095.5L1469.7 1091.2L1471.9 1091.5L1474.0 1095.1L1476.2 1092.4L1478.4 1091.7L1480.5 1090.8L1482.7 1088.2L1484.9 1086.3L1487.0 1086.6L1489.2 1091.4L1491.4 1086.6L1493.5 1083.7L1495.7 1088.4L1497.9 1087.3L1500.0 1084.8L1502.2 1085.8L1504.3 1087.8L1506.5 1087.4L1508.7 1090.2L1510.8 1093.0L1513.0 1090.1L1515.2 1090.4L1517.3 1089.3L1519.5 1089.2L1521.7 1089.8L1523.8 1085.7L1526.0 1085.2L1528.2 1088.4L1530.3 1089.6L1532.5 1087.2L1534.7 1086.7L1536.8 1081.2L1539.0 1082.8L1541.1 1085.4L1543.3 1071.3L1545.5 1074.4L1547.6 1072.8L1549.8 1076.8L1552.0 1076.5L1554.1 1075.1L1556.3 1074.6L1558.5 1074.8L1560.6 1077.8L1562.8 1074.3L1565.0 1077.3L1567.1 1069.7L1569.3 1076.1L1571.4 1074.1L1573.6 1074.0L1575.8 1080.8L1577.9 1076.0L1580.1 1077.9L1582.3 1071.8L1584.4 1067.9L1586.6 1067.0L1588.8 1064.7L1590.9 1068.5L1593.1 1066.0L1595.3 1065.0L1597.4 1069.5L1599.6 1060.8L1601.8 1066.0L1603.9 1061.3L1606.1 1058.6L1608.2 1059.5L1610.4 1062.2L1612.6 1063.3L1614.7 1069.2L1616.9 1062.4L1619.1 1064.8L1621.2 1063.8L1623.4 1066.9L1625.6 1067.1L1627.7 1065.9L1629.9 1061.0L1632.1 1063.1L1634.2 1064.5L1636.4 1057.3L1638.5 1056.7L1640.7 1057.6L1642.9 1056.7L1645.0 1051.8L1647.2 1053.1L1649.4 1049.9L1651.5 1052.6L1653.7 1040.4L1655.9 1043.5L1658.0 1035.2L1660.2 1049.3L1662.4 1043.1L1664.5 1045.1L1666.7 1042.8L1668.9 1046.0L1671.0 1051.2L1673.2 1047.8L1675.3 1044.9L1677.5 1045.4L1679.7 1040.5L1681.8 1042.8L1684.0 1039.3L1686.2 1038.0L1688.3 1038.4L1690.5 1038.5L1692.7 1033.7L1694.8 1034.0L1697.0 1027.6L1699.2 1041.0L1701.3 1031.7L1703.5 1028.3L1705.6 1024.7L1707.8 1026.2L1710.0 1018.9L1712.1 1032.6L1714.3 1037.8L1716.5 1031.4L1718.6 1036.1L1720.8 1031.5L1723.0 1028.2L1725.1 1016.2L1727.3 1027.9L1729.5 1019.5L1731.6 1024.1L1733.8 1024.2L1736.0 1021.7L1738.1 1024.0L1740.3 1018.4L1742.4 1017.4L1744.6 1018.3L1746.8 1021.0L1748.9 1017.0L1751.1 1014.9L1753.3 1013.7L1755.4 1019.1L1757.6 1014.3L1759.8 1011.3L1761.9 1016.5L1764.1 1009.0L1766.3 1011.0L1768.4 1011.0L1770.6 1008.4L1772.7 1007.7L1774.9 1004.8L1777.1 1004.7L1779.2 1009.2L1781.4 1004.4L1783.6 992.2L1785.7 1003.7L1787.9 995.8L1790.1 1000.2L1792.2 1002.8L1794.4 1001.1L1796.6 999.3L1798.7 998.1L1800.9 996.8L1803.0 999.5L1805.2 998.8L1807.4 995.1L1809.5 993.3L1811.7 990.9L1813.9 994.2L1816.0 997.5L1818.2 983.3L1820.4 989.0L1822.5 984.3L1824.7 985.5L1826.9 982.6L1829.0 982.7L1831.2 981.0L1833.4 987.9L1835.5 983.5L1837.7 981.5L1839.8 988.9L1842.0 979.5L1844.2 975.8L1846.3 982.4L1848.5 982.8L1850.7 974.6L1852.8 976.4L1855.0 977.6L1857.2 979.0L1859.3 975.5L1861.5 964.1L1863.7 975.4L1865.8 981.6L1868.0 987.2L1870.1 970.9L1872.3 970.1L1874.5 972.3L1876.6 962.5L1878.8 964.9L1881.0 974.3L1883.1 970.0L1885.3 960.1L1887.5 960.7L1889.6 957.0L1891.8 952.7L1894.0 959.4L1896.1 955.4L1898.3 962.9L1900.5 951.2L1902.6 947.8L1904.8 962.4L1906.9 956.7L1909.1 946.9L1911.3 954.7L1913.4 946.3L1915.6 943.1L1917.8 947.3L1919.9 945.4L1922.1 947.8L1924.3 937.5L1926.4 940.7L1928.6 942.1L1930.8 944.1L1932.9 945.1L1935.1 931.1L1937.2 924.7L1939.4 923.3L1941.6 925.4L1943.7 919.8L1945.9 905.9L1948.1 903.6L1950.2 892.5L1952.4 894.7L1954.6 896.9L1956.7 881.2L1958.9 895.1L1961.1 892.3L1963.2 876.2L1965.4 859.3L1967.6 848.5L1969.7 846.9L1971.9 847.1L1974.0 829.3L1976.2 829.6L1978.4 827.7L1980.5 830.8L1982.7 814.0L1984.9 812.1L1987.0 818.6L1989.2 801.4L1991.4 801.1L1993.5 797.2L1995.7 776.0L1997.9 776.4L2000.0 764.9L2002.2 753.3L2004.3 752.4L2006.5 750.5L2008.7 731.6L2010.8 715.2L2013.0 714.4L2015.2 704.1L2017.3 693.1L2019.5 698.0L2021.7 701.0L2023.8 686.8L2026.0 669.3L2028.2 672.0L2030.3 661.0L2032.5 655.5L2034.7 654.0L2036.8 662.3L2039.0 649.8L2041.1 645.9L2043.3 653.2L2045.5 638.5L2047.6 646.9L2049.8 645.0L2052.0 642.8L2054.1 624.2L2056.3 625.3L2058.5 629.3L2060.6 618.5L2062.8 637.1L2065.0 625.9L2067.1 637.8L2069.3 653.8L2071.4 637.8L2073.6 649.3L2075.8 670.2L2077.9 663.4L2080.1 662.2L2082.3 673.6L2084.4 674.7L2086.6 695.4L2088.8 671.5L2090.9 695.2L2093.1 710.7L2095.3 717.4L2097.4 724.5L2099.6 734.8L2101.8 736.8L2103.9 728.5L2106.1 721.4L2108.2 732.9L2110.4 723.0L2112.6 735.1L2114.7 723.7L2116.9 740.1L2119.1 742.2L2121.2 747.7L2123.4 748.4L2125.6 754.3L2127.7 757.1L2129.9 738.8L2132.1 742.0L2134.2 748.3L2136.4 767.0L2138.5 761.2L2140.7 753.9L2142.9 758.0L2145.0 771.9L2147.2 763.0L2149.4 773.0L2151.5 773.8L2153.7 763.5L2155.9 786.5L2158.0 761.7L2160.2 775.4L2162.4 773.4L2164.5 774.4L2166.7 778.4L2168.9 773.6L2171.0 772.6L2173.2 767.3L2175.3 779.4L2177.5 775.2L2179.7 769.7L2181.8 768.7L2184.0 755.3L2186.2 768.8L2188.3 774.8L2190.5 761.0L2192.7 768.7L2194.8 774.9L2197.0 775.7L2199.2 761.1L2201.3 767.8L2203.5 772.1L2205.6 770.0L2207.8 766.4L2210.0 774.9L2212.1 781.7L2214.3 787.2L2216.5 757.6L2218.6 760.7L2220.8 754.6L2223.0 761.0L2225.1 752.6L2227.3 756.2L2229.5 760.4L2231.6 766.3L2233.8 781.9L2235.9 781.1L2238.1 751.0L2240.3 771.2L2242.4 767.9L2244.6 748.0" stroke="#B0007A" stroke-width="8"/>
<path d="M381.0 175.6L383.1 182.3L385.3 189.5L387.5 197.1L389.6 205.6L391.8 214.2L394.0 223.3L396.1 232.8L398.3 242.6L400.5 253.3L402.6 264.4L404.8 276.1L406.9 288.4L409.1 301.3L411.3 314.6L413.4 328.5L415.6 343.4L417.8 359.1L419.9 375.9L422.1 392.7L424.3 409.6L426.4 427.3L428.6 445.3L430.8 463.5L432.9 481.8L435.1 500.2L437.3 518.4L439.4 536.2L441.6 553.8L443.7 570.8L445.9 587.6L448.1 604.1L450.2 620.6L452.4 636.8L454.6 653.3L456.7 669.7L458.9 686.0L461.1 702.3L463.2 718.7L465.4 735.4L467.6 752.3L469.7 769.7L471.9 787.0L474.0 803.9L476.2 820.1L478.4 835.7L480.5 849.8L482.7 862.6L484.9 874.8L487.0 886.6L489.2 897.7L491.4 908.4L493.5 918.7L495.7 928.8L497.9 938.4L500.0 947.7L502.2 956.8L504.3 965.9L506.5 974.7L508.7 983.6L510.8 992.3L513.0 1000.7L515.2 1009.1L517.3 1016.8L519.5 1024.5L521.7 1031.4L523.8 1038.0L526.0 1044.3L528.2 1050.1L530.3 1055.9L532.5 1061.2L534.7 1066.7L536.8 1071.5L539.0 1076.1L541.1 1080.8L543.3 1085.2L545.5 1088.8L547.6 1092.1L549.8 1095.6L552.0 1099.3L554.1 1102.3L556.3 1105.3L558.5 1108.4L560.6 1110.8L562.8 1113.4L565.0 1115.9L567.1 1118.2L569.3 1120.1L571.4 1122.7L573.6 1124.3L575.8 1125.6L577.9 1127.1L580.1 1128.8L582.3 1129.7L584.4 1131.9L586.6 1132.8L588.8 1133.8L590.9 1135.5L593.1 1135.9L595.3 1136.8L597.4 1137.5L599.6 1137.5L601.8 1138.6L603.9 1139.8L606.1 1141.3L608.2 1142.3L610.4 1142.6L612.6 1143.2L614.7 1143.5L616.9 1144.8L619.1 1145.2L621.2 1145.4L623.4 1146.6L625.6 1146.5L627.7 1146.5L629.9 1147.3L632.1 1147.4L634.2 1147.9L636.4 1148.3L638.5 1148.8L640.7 1149.5L642.9 1150.0L645.0 1150.4L647.2 1150.5L649.4 1151.7L651.5 1151.2L653.7 1153.2L655.9 1152.4L658.0 1152.0L660.2 1153.4L662.4 1153.4L664.5 1154.1L666.7 1153.5L668.9 1154.6L671.0 1154.4L673.2 1155.7L675.3 1155.4L677.5 1155.8L679.7 1155.8L681.8 1156.2L684.0 1156.4L686.2 1157.8L688.3 1157.2L690.5 1157.4L692.7 1156.9L694.8 1157.4L697.0 1157.0L699.2 1155.8L701.3 1157.3L703.5 1157.7L705.6 1157.9L707.8 1157.7L710.0 1157.9L712.1 1159.4L714.3 1159.4L716.5 1159.0L718.6 1158.2L720.8 1158.9L723.0 1160.1L725.1 1159.1L727.3 1159.5L729.5 1160.6L731.6 1161.4L733.8 1162.5L736.0 1162.4L738.1 1162.0L740.3 1159.9L742.4 1161.5L744.6 1160.8L746.8 1161.0L748.9 1160.8L751.1 1159.0L753.3 1160.9L755.4 1160.0L757.6 1160.2L759.8 1160.1L761.9 1159.6L764.1 1158.7L766.3 1160.1L768.4 1158.9L770.6 1160.5L772.7 1159.3L774.9 1159.8L777.1 1159.6L779.2 1159.2L781.4 1159.7L783.6 1159.9L785.7 1158.9L787.9 1157.7L790.1 1157.5L792.2 1156.9L794.4 1157.5L796.6 1156.6L798.7 1156.4L800.9 1157.7L803.1 1156.6L805.2 1157.8L807.4 1158.4L809.5 1158.8L811.7 1157.0L813.9 1156.2L816.0 1157.9L818.2 1159.4L820.4 1155.4L822.5 1155.5L824.7 1158.5L826.9 1157.7L829.0 1156.6L831.2 1158.5L833.4 1157.3L835.5 1155.7L837.7 1155.1L839.8 1156.9L842.0 1156.7L844.2 1156.6L846.3 1156.6L848.5 1156.9L850.7 1158.7L852.8 1159.5L855.0 1157.5L857.2 1157.6L859.3 1158.9L861.5 1155.2L863.7 1157.8L865.8 1156.1L868.0 1157.8L870.2 1156.0L872.3 1155.5L874.5 1155.4L876.6 1156.2L878.8 1156.4L881.0 1155.8L883.1 1152.5L885.3 1153.6L887.5 1156.8L889.6 1156.5L891.8 1157.2L894.0 1152.9L896.1 1153.4L898.3 1154.8L900.5 1155.8L902.6 1155.2L904.8 1153.5L906.9 1153.3L909.1 1153.0L911.3 1153.5L913.4 1154.6L915.6 1152.9L917.8 1152.9L919.9 1152.3L922.1 1154.9L924.3 1152.4L926.4 1152.3L928.6 1153.4L930.8 1155.1L932.9 1155.2L935.1 1154.3L937.2 1153.5L939.4 1152.3L941.6 1152.3L943.7 1154.1L945.9 1152.3L948.1 1152.1L950.2 1152.9L952.4 1151.3L954.6 1149.5L956.7 1151.8L958.9 1149.2L961.1 1151.6L963.2 1152.5L965.4 1151.3L967.6 1147.0L969.7 1147.5L971.9 1148.2L974.0 1146.1L976.2 1147.4L978.4 1146.4L980.5 1148.2L982.7 1148.0L984.9 1148.4L987.0 1144.2L989.2 1147.0L991.4 1142.5L993.5 1147.0L995.7 1145.3L997.9 1143.7L1000.0 1144.1L1002.2 1143.9L1004.3 1142.2L1006.5 1138.6L1008.7 1138.9L1010.8 1141.4L1013.0 1138.3L1015.2 1137.5L1017.3 1135.4L1019.5 1137.0L1021.7 1139.5L1023.8 1134.2L1026.0 1135.5L1028.2 1137.2L1030.3 1133.0L1032.5 1131.2L1034.7 1128.4L1036.8 1130.8L1039.0 1127.4L1041.1 1127.6L1043.3 1126.2L1045.5 1126.4L1047.6 1125.1L1049.8 1126.5L1052.0 1121.1L1054.1 1122.5L1056.3 1120.3L1058.5 1119.4L1060.6 1115.9L1062.8 1112.0L1065.0 1112.3L1067.1 1109.6L1069.3 1111.7L1071.4 1110.0L1073.6 1109.8L1075.8 1109.0L1077.9 1109.6L1080.1 1104.1L1082.3 1102.3L1084.4 1099.9L1086.6 1095.5L1088.8 1097.6L1090.9 1093.0L1093.1 1088.3L1095.3 1092.4L1097.4 1087.8L1099.6 1085.3L1101.8 1086.1L1103.9 1084.7L1106.1 1082.0L1108.2 1076.3L1110.4 1080.5L1112.6 1076.2L1114.7 1076.0L1116.9 1069.3L1119.1 1067.2L1121.2 1061.5L1123.4 1060.6L1125.6 1057.9L1127.7 1057.2L1129.9 1056.5L1132.1 1055.6L1134.2 1049.7L1136.4 1045.8L1138.5 1044.7L1140.7 1047.0L1142.9 1038.9L1145.0 1030.3L1147.2 1030.7L1149.4 1029.3L1151.5 1020.5L1153.7 1022.7L1155.9 1017.4L1158.0 1013.3L1160.2 1011.8L1162.4 1006.7L1164.5 999.8L1166.7 999.7L1168.9 993.0L1171.0 989.5L1173.2 991.1L1175.3 983.5L1177.5 984.9L1179.7 976.4L1181.8 972.6L1184.0 968.8L1186.2 963.1L1188.3 958.5L1190.5 951.0L1192.7 943.5L1194.8 939.8L1197.0 932.8L1199.2 933.6L1201.3 917.8L1203.5 910.9L1205.6 902.4L1207.8 896.5L1210.0 897.0L1212.1 887.2L1214.3 882.6L1216.5 876.9L1218.6 867.1L1220.8 865.2L1223.0 860.3L1225.1 848.8L1227.3 846.5L1229.5 841.7L1231.6 838.8L1233.8 826.3L1236.0 821.4L1238.1 818.1L1240.3 807.9L1242.4 809.7L1244.6 801.5L1246.8 798.3L1248.9 791.1L1251.1 788.4L1253.3 781.9L1255.4 771.0L1257.6 766.2L1259.8 769.1L1261.9 773.5L1264.1 769.5L1266.3 775.0L1268.4 765.0L1270.6 765.3L1272.7 768.9L1274.9 758.5L1277.1 773.7L1279.2 767.6L1281.4 776.3L1283.6 778.6L1285.7 783.5L1287.9 786.2L1290.1 780.4L1292.2 786.8L1294.4 783.0L1296.6 791.6L1298.7 797.5L1300.9 798.6L1303.1 816.3L1305.2 813.1L1307.4 818.6L1309.5 820.3L1311.7 830.8L1313.9 839.7L1316.0 848.5L1318.2 853.6L1320.4 864.4L1322.5 863.5L1324.7 879.2L1326.9 877.8L1329.0 884.9L1331.2 894.0L1333.4 900.2L1335.5 902.4L1337.7 908.0L1339.8 915.7L1342.0 925.5L1344.2 930.1L1346.3 939.4L1348.5 948.8L1350.7 951.4L1352.8 965.6L1355.0 969.6L1357.2 979.8L1359.3 987.7L1361.5 983.8L1363.7 990.6L1365.8 996.2L1368.0 1004.8L1370.1 1004.8L1372.3 1006.8L1374.5 1018.5L1376.6 1015.3L1378.8 1020.3L1381.0 1019.7L1383.1 1031.2L1385.3 1027.2L1387.5 1036.3L1389.6 1038.3L1391.8 1039.9L1394.0 1040.0L1396.1 1048.4L1398.3 1048.9L1400.5 1055.4L1402.6 1053.4L1404.8 1053.3L1406.9 1060.2L1409.1 1057.9L1411.3 1061.3L1413.4 1064.6L1415.6 1065.4L1417.8 1071.3L1419.9 1073.9L1422.1 1076.8L1424.3 1077.6L1426.4 1083.7L1428.6 1081.0L1430.8 1085.0L1432.9 1087.8L1435.1 1082.5L1437.2 1089.4L1439.4 1092.7L1441.6 1097.3L1443.7 1090.9L1445.9 1088.3L1448.1 1091.3L1450.2 1094.3L1452.4 1095.5L1454.6 1096.1L1456.7 1097.0L1458.9 1095.5L1461.1 1101.0L1463.2 1096.8L1465.4 1099.6L1467.6 1100.6L1469.7 1102.0L1471.9 1105.8L1474.0 1100.8L1476.2 1098.5L1478.4 1105.4L1480.5 1102.5L1482.7 1093.7L1484.9 1102.4L1487.0 1097.8L1489.2 1099.8L1491.4 1099.8L1493.5 1107.9L1495.7 1109.2L1497.9 1107.3L1500.0 1105.4L1502.2 1106.4L1504.3 1103.6L1506.5 1101.0L1508.7 1100.6L1510.8 1098.6L1513.0 1099.4L1515.2 1101.7L1517.3 1106.8L1519.5 1100.7L1521.7 1104.1L1523.8 1107.3L1526.0 1101.2L1528.2 1099.5L1530.3 1097.1L1532.5 1095.6L1534.7 1092.5L1536.8 1099.1L1539.0 1097.2L1541.1 1100.1L1543.3 1097.6L1545.5 1098.4L1547.6 1093.2L1549.8 1090.9L1552.0 1093.1L1554.1 1087.6L1556.3 1092.0L1558.5 1089.4L1560.6 1093.8L1562.8 1093.0L1565.0 1087.3L1567.1 1094.5L1569.3 1089.4L1571.4 1096.8L1573.6 1092.2L1575.8 1086.7L1577.9 1081.5L1580.1 1085.9L1582.3 1089.4L1584.4 1091.1L1586.6 1090.2L1588.8 1087.0L1590.9 1084.4L1593.1 1079.1L1595.3 1085.5L1597.4 1087.6L1599.6 1082.1L1601.8 1085.1L1603.9 1088.1L1606.1 1088.0L1608.2 1085.0L1610.4 1087.0L1612.6 1085.7L1614.7 1080.0L1616.9 1073.8L1619.1 1076.5L1621.2 1072.9L1623.4 1069.6L1625.6 1078.9L1627.7 1075.3L1629.9 1072.8L1632.1 1078.8L1634.2 1073.2L1636.4 1066.7L1638.5 1070.0L1640.7 1074.9L1642.9 1062.5L1645.0 1066.4L1647.2 1064.6L1649.4 1067.3L1651.5 1070.3L1653.7 1064.9L1655.9 1061.3L1658.0 1053.3L1660.2 1054.5L1662.4 1060.8L1664.5 1059.4L1666.7 1060.6L1668.9 1059.9L1671.0 1062.4L1673.2 1068.7L1675.3 1058.5L1677.5 1064.6L1679.7 1060.6L1681.8 1062.6L1684.0 1056.8L1686.2 1052.4L1688.3 1055.7L1690.5 1052.7L1692.7 1051.1L1694.8 1052.9L1697.0 1052.5L1699.2 1046.1L1701.3 1050.1L1703.5 1049.9L1705.6 1048.1L1707.8 1051.6L1710.0 1051.0L1712.1 1047.5L1714.3 1049.0L1716.5 1048.2L1718.6 1048.3L1720.8 1046.3L1723.0 1047.4L1725.1 1043.5L1727.3 1040.4L1729.5 1036.0L1731.6 1039.0L1733.8 1040.9L1736.0 1041.7L1738.1 1042.2L1740.3 1038.0L1742.4 1037.9L1744.6 1034.8L1746.8 1041.3L1748.9 1034.2L1751.1 1037.4L1753.3 1035.3L1755.4 1042.2L1757.6 1040.8L1759.8 1039.9L1761.9 1042.8L1764.1 1028.6L1766.3 1028.8L1768.4 1032.1L1770.6 1027.1L1772.7 1038.0L1774.9 1031.7L1777.1 1021.8L1779.2 1021.2L1781.4 1025.8L1783.6 1024.6L1785.7 1025.3L1787.9 1027.0L1790.1 1025.5L1792.2 1027.9L1794.4 1024.1L1796.6 1026.4L1798.7 1022.2L1800.9 1031.1L1803.0 1021.1L1805.2 1018.9L1807.4 1016.4L1809.5 1012.0L1811.7 1001.9L1813.9 1000.1L1816.0 1015.8L1818.2 1001.9L1820.4 1012.2L1822.5 1010.0L1824.7 1008.7L1826.9 1010.9L1829.0 999.6L1831.2 998.5L1833.4 1014.0L1835.5 1004.9L1837.7 1005.5L1839.8 1010.2L1842.0 1010.4L1844.2 1008.8L1846.3 1005.6L1848.5 1006.3L1850.7 1002.6L1852.8 1003.7L1855.0 1006.4L1857.2 1012.4L1859.3 1004.3L1861.5 1008.3L1863.7 1002.7L1865.8 1000.4L1868.0 1004.9L1870.1 996.7L1872.3 1003.4L1874.5 993.5L1876.6 996.4L1878.8 987.1L1881.0 992.5L1883.1 993.8L1885.3 991.5L1887.5 995.9L1889.6 996.6L1891.8 990.4L1894.0 986.0L1896.1 988.6L1898.3 986.4L1900.5 974.1L1902.6 978.4L1904.8 981.0L1906.9 976.3L1909.1 980.9L1911.3 976.1L1913.4 965.5L1915.6 967.9L1917.8 975.6L1919.9 974.8L1922.1 979.5L1924.3 959.6L1926.4 968.5L1928.6 969.0L1930.8 952.7L1932.9 959.3L1935.1 961.3L1937.2 957.8L1939.4 955.7L1941.6 949.5L1943.7 946.2L1945.9 937.7L1948.1 938.8L1950.2 931.4L1952.4 921.1L1954.6 910.0L1956.7 899.7L1958.9 897.2L1961.1 903.2L1963.2 893.1L1965.4 881.1L1967.6 883.2L1969.7 875.7L1971.9 870.2L1974.0 854.0L1976.2 852.5L1978.4 846.3L1980.5 845.0L1982.7 830.7L1984.9 830.2L1987.0 828.4L1989.2 820.3L1991.4 813.9L1993.5 793.4L1995.7 785.1L1997.9 789.4L2000.0 786.7L2002.2 762.4L2004.3 761.6L2006.5 747.2L2008.7 743.4L2010.8 736.4L2013.0 725.9L2015.2 706.9L2017.3 691.8L2019.5 698.8L2021.7 699.2L2023.8 697.8L2026.0 696.8L2028.2 695.0L2030.3 687.1L2032.5 679.3L2034.7 658.6L2036.8 667.6L2039.0 659.0L2041.1 654.6L2043.3 656.4L2045.5 647.0L2047.6 649.8L2049.8 647.7L2052.0 636.6L2054.1 647.9L2056.3 642.7L2058.5 648.4L2060.6 636.3L2062.8 639.8L2065.0 635.0L2067.1 633.7L2069.3 664.2L2071.4 649.6L2073.6 675.3L2075.8 673.2L2077.9 684.6L2080.1 667.6L2082.3 694.6L2084.4 691.6L2086.6 704.1L2088.8 691.5L2090.9 718.7L2093.1 714.5L2095.3 725.3L2097.4 725.0L2099.6 717.4L2101.8 729.2L2103.9 730.5L2106.1 731.0L2108.2 744.3L2110.4 754.6L2112.6 757.3L2114.7 759.8L2116.9 753.3L2119.1 769.2L2121.2 774.7L2123.4 772.1L2125.6 776.4L2127.7 764.7L2129.9 766.1L2132.1 780.9L2134.2 769.0L2136.4 793.5L2138.5 781.8L2140.7 784.3L2142.9 775.9L2145.0 775.6L2147.2 782.1L2149.4 783.3L2151.5 800.0L2153.7 805.2L2155.9 793.4L2158.0 786.5L2160.2 787.4L2162.4 777.4L2164.5 775.9L2166.7 800.2L2168.9 786.7L2171.0 776.9L2173.2 789.5L2175.3 789.0L2177.5 784.8L2179.7 780.6L2181.8 799.5L2184.0 785.6L2186.2 793.1L2188.3 786.8L2190.5 792.5L2192.7 790.2L2194.8 789.1L2197.0 786.8L2199.2 794.2L2201.3 786.0L2203.5 792.1L2205.6 781.6L2207.8 781.7L2210.0 774.2L2212.1 796.4L2214.3 782.0L2216.5 781.3L2218.6 770.4L2220.8 785.2L2223.0 774.1L2225.1 790.2L2227.3 768.0L2229.5 776.8L2231.6 774.8L2233.8 768.2L2235.9 766.4L2238.1 764.8L2240.3 758.5L2242.4 763.5L2244.6 769.0" stroke="#B0007A" stroke-width="8"/>
<path d="M381.0 157.2L383.1 163.4L385.3 170.5L387.5 178.2L389.6 186.3L391.8 195.0L394.0 203.8L396.1 213.3L398.3 223.0L400.5 233.2L402.6 244.4L404.8 256.2L406.9 268.5L409.1 281.3L411.3 294.8L413.4 308.7L415.6 323.5L417.8 339.5L419.9 356.2L422.1 373.6L424.3 391.0L426.4 409.2L428.6 427.6L430.8 446.5L432.9 465.5L435.1 484.4L437.3 503.1L439.4 521.9L441.6 540.0L443.7 557.6L445.9 574.8L448.1 591.9L450.2 609.0L452.4 626.0L454.6 642.7L456.7 659.6L458.9 676.6L461.1 693.5L463.2 710.3L465.4 727.6L467.6 745.6L469.7 763.6L471.9 781.5L474.0 799.0L476.2 816.0L478.4 831.9L480.5 846.6L482.7 860.0L484.9 872.7L487.0 884.6L489.2 896.1L491.4 906.9L493.5 917.5L495.7 927.6L497.9 937.4L500.0 947.3L502.2 956.7L504.3 966.1L506.5 975.4L508.7 984.8L510.8 993.8L513.0 1002.6L515.2 1011.1L517.3 1019.4L519.5 1027.4L521.7 1034.5L523.8 1041.5L526.0 1047.7L528.2 1054.1L530.3 1060.2L532.5 1065.7L534.7 1071.2L536.8 1076.7L539.0 1081.6L541.1 1086.2L543.3 1090.8L545.5 1094.6L547.6 1098.5L549.8 1101.6L552.0 1105.6L554.1 1108.6L556.3 1111.9L558.5 1114.8L560.6 1117.7L562.8 1120.5L565.0 1123.0L567.1 1125.8L569.3 1127.9L571.4 1130.0L573.6 1132.2L575.8 1133.7L577.9 1135.0L580.1 1136.1L582.3 1137.1L584.4 1138.8L586.6 1140.2L588.8 1141.9L590.9 1143.0L593.1 1144.4L595.3 1145.2L597.4 1145.7L599.6 1146.5L601.8 1147.6L603.9 1148.5L606.1 1149.0L608.2 1150.2L610.4 1150.1L612.6 1151.8L614.7 1151.8L616.9 1152.0L619.1 1153.1L621.2 1154.0L623.4 1154.4L625.6 1154.5L627.7 1154.7L629.9 1155.7L632.1 1156.4L634.2 1156.8L636.4 1157.4L638.5 1157.5L640.7 1158.1L642.9 1158.6L645.0 1160.1L647.2 1160.6L649.4 1161.3L651.5 1160.3L653.7 1161.6L655.9 1161.9L658.0 1161.4L660.2 1162.1L662.4 1163.1L664.5 1162.9L666.7 1164.0L668.9 1164.4L671.0 1164.5L673.2 1163.7L675.3 1164.5L677.5 1164.2L679.7 1165.6L681.8 1166.3L684.0 1165.1L686.2 1165.8L688.3 1167.2L690.5 1166.5L692.7 1165.9L694.8 1167.3L697.0 1168.5L699.2 1168.0L701.3 1168.0L703.5 1168.8L705.6 1168.6L707.8 1169.4L710.0 1169.5L712.1 1169.4L714.3 1168.5L716.5 1168.0L718.6 1168.3L720.8 1169.1L723.0 1170.5L725.1 1169.9L727.3 1170.1L729.5 1168.3L731.6 1170.5L733.8 1169.7L736.0 1169.6L738.1 1169.5L740.3 1171.7L742.4 1169.4L744.6 1170.3L746.8 1168.6L748.9 1171.1L751.1 1171.6L753.3 1170.2L755.4 1167.3L757.6 1167.8L759.8 1168.1L761.9 1170.3L764.1 1170.0L766.3 1171.2L768.4 1170.4L770.6 1168.7L772.7 1168.5L774.9 1169.1L777.1 1169.8L779.2 1169.3L781.4 1170.5L783.6 1170.5L785.7 1169.0L787.9 1167.8L790.1 1167.2L792.2 1167.0L794.4 1168.6L796.6 1167.1L798.7 1169.4L800.9 1167.0L803.1 1165.4L805.2 1166.5L807.4 1164.8L809.5 1165.1L811.7 1165.2L813.9 1165.8L816.0 1168.4L818.2 1167.2L820.4 1164.7L822.5 1167.2L824.7 1166.1L826.9 1168.2L829.0 1167.0L831.2 1166.6L833.4 1164.8L835.5 1166.0L837.7 1169.1L839.8 1167.7L842.0 1167.4L844.2 1165.7L846.3 1166.2L848.5 1168.3L850.7 1165.1L852.8 1164.1L855.0 1165.5L857.2 1165.4L859.3 1164.2L861.5 1167.1L863.7 1167.8L865.8 1165.9L868.0 1165.7L870.2 1166.3L872.3 1165.4L874.5 1166.4L876.6 1163.1L878.8 1166.6L881.0 1163.7L883.1 1166.8L885.3 1167.4L887.5 1165.1L889.6 1161.5L891.8 1162.7L894.0 1160.7L896.1 1161.9L898.3 1162.4L900.5 1163.7L902.6 1162.1L904.8 1163.3L906.9 1164.3L909.1 1163.3L911.3 1161.6L913.4 1161.1L915.6 1159.7L917.8 1158.6L919.9 1161.0L922.1 1160.6L924.3 1160.6L926.4 1161.3L928.6 1162.8L930.8 1163.8L932.9 1163.0L935.1 1162.9L937.2 1159.9L939.4 1162.7L941.6 1160.7L943.7 1161.7L945.9 1161.1L948.1 1159.5L950.2 1160.2L952.4 1158.8L954.6 1160.4L956.7 1159.3L958.9 1157.7L961.1 1156.9L963.2 1157.3L965.4 1157.1L967.6 1161.2L969.7 1159.4L971.9 1158.9L974.0 1154.3L976.2 1158.0L978.4 1157.5L980.5 1154.7L982.7 1156.7L984.9 1156.6L987.0 1151.3L989.2 1152.5L991.4 1155.0L993.5 1155.4L995.7 1153.6L997.9 1152.8L1000.0 1151.6L1002.2 1148.1L1004.3 1149.8L1006.5 1147.4L1008.7 1147.4L1010.8 1144.5L1013.0 1146.0L1015.2 1143.3L1017.3 1146.2L1019.5 1144.3L1021.7 1143.5L1023.8 1142.7L1026.0 1142.7L1028.2 1137.6L1030.3 1140.3L1032.5 1138.4L1034.7 1138.3L1036.8 1134.5L1039.0 1129.4L1041.1 1131.6L1043.3 1133.7L1045.5 1129.4L1047.6 1130.6L1049.8 1126.7L1052.0 1128.4L1054.1 1126.3L1056.3 1122.6L1058.5 1123.8L1060.6 1122.0L1062.8 1120.3L1065.0 1117.5L1067.1 1119.0L1069.3 1118.2L1071.4 1116.4L1073.6 1113.7L1075.8 1115.1L1077.9 1110.4L1080.1 1112.6L1082.3 1108.1L1084.4 1105.6L1086.6 1105.2L1088.8 1095.8L1090.9 1099.4L1093.1 1094.5L1095.3 1096.0L1097.4 1096.8L1099.6 1089.3L1101.8 1088.0L1103.9 1083.1L1106.1 1084.1L1108.2 1084.7L1110.4 1081.5L1112.6 1079.7L1114.7 1077.5L1116.9 1072.3L1119.1 1066.6L1121.2 1068.9L1123.4 1063.4L1125.6 1060.6L1127.7 1059.7L1129.9 1057.0L1132.1 1051.5L1134.2 1052.0L1136.4 1046.5L1138.5 1043.7L1140.7 1042.6L1142.9 1041.4L1145.0 1040.4L1147.2 1035.3L1149.4 1033.9L1151.5 1027.3L1153.7 1022.6L1155.9 1020.1L1158.0 1015.2L1160.2 1010.9L1162.4 1013.0L1164.5 1005.4L1166.7 1003.0L1168.9 999.0L1171.0 994.4L1173.2 988.3L1175.3 985.1L1177.5 987.3L1179.7 981.6L1181.8 976.0L1184.0 969.7L1186.2 958.6L1188.3 953.7L1190.5 953.5L1192.7 940.4L1194.8 933.7L1197.0 931.9L1199.2 915.2L1201.3 907.2L1203.5 896.5L1205.6 899.4L1207.8 891.3L1210.0 889.2L1212.1 885.5L1214.3 880.9L1216.5 877.0L1218.6 864.8L1220.8 862.4L1223.0 848.4L1225.1 843.2L1227.3 846.9L1229.5 836.8L1231.6 826.2L1233.8 811.3L1236.0 810.4L1238.1 797.1L1240.3 786.9L1242.4 789.1L1244.6 790.1L1246.8 788.2L1248.9 787.6L1251.1 776.1L1253.3 771.5L1255.4 769.3L1257.6 759.1L1259.8 765.7L1261.9 762.5L1264.1 758.0L1266.3 757.3L1268.4 759.6L1270.6 759.4L1272.7 759.2L1274.9 752.9L1277.1 753.3L1279.2 763.4L1281.4 759.6L1283.6 762.3L1285.7 764.7L1287.9 763.8L1290.1 773.0L1292.2 776.7L1294.4 776.3L1296.6 788.2L1298.7 791.5L1300.9 797.1L1303.1 806.4L1305.2 808.1L1307.4 817.0L1309.5 816.5L1311.7 822.1L1313.9 827.6L1316.0 832.9L1318.2 843.1L1320.4 849.0L1322.5 862.5L1324.7 870.2L1326.9 875.6L1329.0 878.7L1331.2 887.2L1333.4 900.4L1335.5 897.9L1337.7 907.0L1339.8 916.2L1342.0 921.2L1344.2 933.7L1346.3 937.3L1348.5 951.2L1350.7 956.4L1352.8 965.6L1355.0 977.2L1357.2 978.8L1359.3 986.9L1361.5 992.2L1363.7 996.1L1365.8 997.6L1368.0 1004.2L1370.1 1009.5L1372.3 1013.4L1374.5 1016.8L1376.6 1026.0L1378.8 1028.0L1381.0 1030.9L1383.1 1038.6L1385.3 1031.3L1387.5 1040.0L1389.6 1038.9L1391.8 1046.4L1394.0 1050.4L1396.1 1055.1L1398.3 1063.7L1400.5 1064.0L1402.6 1061.5L1404.8 1066.6L1406.9 1068.4L1409.1 1070.7L1411.3 1076.9L1413.4 1078.2L1415.6 1080.9L1417.8 1085.5L1419.9 1085.0L1422.1 1082.5L1424.3 1080.8L1426.4 1082.6L1428.6 1086.7L1430.8 1092.0L1432.9 1094.1L1435.1 1087.7L1437.2 1092.4L1439.4 1096.5L1441.6 1099.4L1443.7 1092.6L1445.9 1098.5L1448.1 1099.6L1450.2 1099.5L1452.4 1100.2L1454.6 1099.1L1456.7 1102.2L1458.9 1102.3L1461.1 1112.3L1463.2 1106.8L1465.4 1109.5L1467.6 1108.1L1469.7 1108.4L1471.9 1115.2L1474.0 1110.8L1476.2 1107.7L1478.4 1110.1L1480.5 1113.8L1482.7 1114.4L1484.9 1104.4L1487.0 1107.7L1489.2 1106.7L1491.4 1111.7L1493.5 1107.8L1495.7 1111.4L1497.9 1111.2L1500.0 1113.9L1502.2 1110.7L1504.3 1110.7L1506.5 1115.0L1508.7 1113.9L1510.8 1111.0L1513.0 1116.0L1515.2 1111.9L1517.3 1110.1L1519.5 1111.2L1521.7 1112.9L1523.8 1108.3L1526.0 1105.2L1528.2 1109.5L1530.3 1114.2L1532.5 1109.1L1534.7 1110.6L1536.8 1106.3L1539.0 1102.8L1541.1 1102.3L1543.3 1103.6L1545.5 1109.2L1547.6 1108.9L1549.8 1103.2L1552.0 1104.1L1554.1 1102.6L1556.3 1106.8L1558.5 1107.9L1560.6 1102.5L1562.8 1103.8L1565.0 1102.3L1567.1 1095.8L1569.3 1102.4L1571.4 1099.2L1573.6 1103.5L1575.8 1101.3L1577.9 1099.3L1580.1 1099.6L1582.3 1100.0L1584.4 1098.7L1586.6 1095.7L1588.8 1102.7L1590.9 1105.4L1593.1 1097.1L1595.3 1106.1L1597.4 1100.7L1599.6 1100.7L1601.8 1097.2L1603.9 1089.6L1606.1 1089.6L1608.2 1092.9L1610.4 1088.7L1612.6 1096.6L1614.7 1091.3L1616.9 1090.6L1619.1 1087.0L1621.2 1089.3L1623.4 1089.8L1625.6 1091.2L1627.7 1098.3L1629.9 1081.1L1632.1 1085.8L1634.2 1087.5L1636.4 1091.0L1638.5 1093.0L1640.7 1090.3L1642.9 1083.4L1645.0 1078.1L1647.2 1080.8L1649.4 1082.6L1651.5 1079.9L1653.7 1083.4L1655.9 1076.7L1658.0 1081.8L1660.2 1077.0L1662.4 1079.5L1664.5 1072.7L1666.7 1079.4L1668.9 1068.5L1671.0 1074.9L1673.2 1073.7L1675.3 1073.6L1677.5 1074.6L1679.7 1071.9L1681.8 1076.3L1684.0 1067.0L1686.2 1071.2L1688.3 1078.8L1690.5 1071.3L1692.7 1068.3L1694.8 1068.0L1697.0 1069.1L1699.2 1066.9L1701.3 1073.2L1703.5 1071.6L1705.6 1073.6L1707.8 1070.5L1710.0 1061.3L1712.1 1058.9L1714.3 1057.6L1716.5 1064.7L1718.6 1059.0L1720.8 1059.3L1723.0 1054.5L1725.1 1054.8L1727.3 1059.0L1729.5 1053.0L1731.6 1060.9L1733.8 1062.2L1736.0 1060.2L1738.1 1059.4L1740.3 1060.8L1742.4 1052.4L1744.6 1048.1L1746.8 1046.3L1748.9 1051.2L1751.1 1045.0L1753.3 1055.5L1755.4 1057.0L1757.6 1064.2L1759.8 1048.0L1761.9 1048.4L1764.1 1045.9L1766.3 1057.2L1768.4 1047.4L1770.6 1054.8L1772.7 1041.1L1774.9 1043.9L1777.1 1045.0L1779.2 1042.7L1781.4 1043.1L1783.6 1031.9L1785.7 1031.6L1787.9 1041.8L1790.1 1034.9L1792.2 1049.3L1794.4 1033.7L1796.6 1043.3L1798.7 1041.1L1800.9 1040.5L1803.0 1030.2L1805.2 1036.9L1807.4 1038.2L1809.5 1035.4L1811.7 1038.6L1813.9 1033.2L1816.0 1038.8L1818.2 1034.0L1820.4 1029.4L1822.5 1019.7L1824.7 1025.8L1826.9 1031.6L1829.0 1039.1L1831.2 1026.8L1833.4 1027.7L1835.5 1022.1L1837.7 1023.3L1839.8 1022.7L1842.0 1024.1L1844.2 1031.6L1846.3 1030.0L1848.5 1021.9L1850.7 1028.0L1852.8 1017.4L1855.0 1019.5L1857.2 1013.6L1859.3 1013.7L1861.5 1011.9L1863.7 1016.6L1865.8 1013.8L1868.0 1014.1L1870.1 1015.5L1872.3 1017.5L1874.5 1016.4L1876.6 1016.4L1878.8 1014.6L1881.0 1014.8L1883.1 1006.7L1885.3 1003.4L1887.5 1006.9L1889.6 1005.7L1891.8 999.3L1894.0 995.9L1896.1 998.2L1898.3 1003.4L1900.5 1003.6L1902.6 988.3L1904.8 992.9L1906.9 1000.6L1909.1 998.2L1911.3 996.3L1913.4 993.7L1915.6 997.6L1917.8 990.6L1919.9 997.4L1922.1 998.3L1924.3 983.2L1926.4 984.4L1928.6 979.0L1930.8 983.9L1932.9 981.8L1935.1 973.6L1937.2 977.3L1939.4 970.7L1941.6 977.4L1943.7 969.7L1945.9 977.0L1948.1 960.4L1950.2 955.6L1952.4 954.3L1954.6 937.5L1956.7 935.5L1958.9 926.3L1961.1 928.6L1963.2 914.1L1965.4 899.2L1967.6 901.2L1969.7 903.2L1971.9 883.2L1974.0 878.4L1976.2 877.3L1978.4 870.1L1980.5 854.1L1982.7 855.3L1984.9 829.9L1987.0 825.9L1989.2 824.6L1991.4 819.7L1993.5 811.3L1995.7 819.8L1997.9 799.2L2000.0 789.6L2002.2 780.6L2004.3 781.1L2006.5 770.5L2008.7 754.5L2010.8 745.7L2013.0 726.4L2015.2 742.8L2017.3 726.0L2019.5 722.2L2021.7 712.8L2023.8 707.3L2026.0 711.6L2028.2 703.1L2030.3 708.4L2032.5 698.8L2034.7 690.2L2036.8 676.5L2039.0 667.0L2041.1 659.0L2043.3 673.2L2045.5 660.3L2047.6 646.1L2049.8 647.0L2052.0 634.3L2054.1 634.9L2056.3 652.7L2058.5 651.2L2060.6 643.5L2062.8 648.7L2065.0 646.5L2067.1 650.5L2069.3 637.5L2071.4 655.0L2073.6 667.0L2075.8 672.4L2077.9 677.3L2080.1 701.8L2082.3 697.0L2084.4 705.3L2086.6 704.7L2088.8 711.3L2090.9 731.5L2093.1 741.7L2095.3 729.3L2097.4 741.4L2099.6 745.5L2101.8 747.3L2103.9 748.5L2106.1 761.9L2108.2 764.8L2110.4 767.4L2112.6 767.9L2114.7 767.0L2116.9 755.4L2119.1 766.8L2121.2 772.3L2123.4 771.3L2125.6 780.1L2127.7 792.4L2129.9 785.2L2132.1 786.3L2134.2 792.2L2136.4 801.7L2138.5 794.4L2140.7 799.0L2142.9 798.9L2145.0 812.9L2147.2 797.0L2149.4 805.5L2151.5 819.1L2153.7 805.9L2155.9 796.6L2158.0 780.8L2160.2 799.6L2162.4 781.5L2164.5 802.4L2166.7 791.6L2168.9 799.0L2171.0 811.3L2173.2 822.8L2175.3 822.1L2177.5 805.2L2179.7 793.5L2181.8 796.9L2184.0 791.9L2186.2 794.2L2188.3 788.5L2190.5 792.3L2192.7 780.7L2194.8 781.6L2197.0 788.5L2199.2 805.2L2201.3 809.6L2203.5 799.5L2205.6 780.3L2207.8 783.2L2210.0 792.3L2212.1 787.7L2214.3 790.3L2216.5 799.6L2218.6 779.7L2220.8 779.8L2223.0 795.8L2225.1 790.6L2227.3 788.4L2229.5 784.7L2231.6 788.7L2233.8 800.7L2235.9 793.2L2238.1 774.7L2240.3 787.0L2242.4 780.2L2244.6 786.5" stroke="#78004E" stroke-width="8"/>
<path d="M381.0 157.2L383.1 162.7L385.3 168.9L387.5 175.5L389.6 182.7L391.8 190.3L394.0 198.4L396.1 206.8L398.3 215.7L400.5 225.3L402.6 235.7L404.8 246.6L406.9 258.3L409.1 270.6L411.3 283.2L413.4 296.6L415.6 310.6L417.8 326.1L419.9 342.3L422.1 359.6L424.3 377.5L426.4 396.0L428.6 414.8L430.8 434.0L432.9 453.5L435.1 473.0L437.3 492.3L439.4 511.4L441.6 530.2L443.7 548.2L445.9 566.0L448.1 583.4L450.2 600.8L452.4 618.2L454.6 635.3L456.7 652.8L458.9 669.8L461.1 687.1L463.2 704.4L465.4 722.2L467.6 740.7L469.7 759.1L471.9 777.6L474.0 795.7L476.2 812.9L478.4 829.3L480.5 844.6L482.7 858.1L484.9 871.0L487.0 883.2L489.2 894.8L491.4 906.0L493.5 916.7L495.7 927.2L497.9 937.1L500.0 947.0L502.2 956.5L504.3 966.2L506.5 975.8L508.7 985.4L510.8 994.7L513.0 1003.7L515.2 1012.6L517.3 1021.0L519.5 1029.3L521.7 1036.8L523.8 1043.9L526.0 1050.2L528.2 1056.6L530.3 1063.0L532.5 1068.8L534.7 1074.6L536.8 1080.0L539.0 1084.9L541.1 1090.0L543.3 1094.5L545.5 1098.7L547.6 1102.3L549.8 1105.9L552.0 1109.6L554.1 1113.0L556.3 1116.2L558.5 1119.6L560.6 1122.7L562.8 1125.4L565.0 1127.9L567.1 1130.5L569.3 1132.9L571.4 1134.9L573.6 1137.1L575.8 1139.1L577.9 1140.6L580.1 1142.0L582.3 1143.5L584.4 1144.9L586.6 1145.5L588.8 1147.4L590.9 1148.5L593.1 1149.1L595.3 1150.7L597.4 1151.7L599.6 1153.0L601.8 1153.4L603.9 1154.5L606.1 1154.3L608.2 1155.3L610.4 1155.8L612.6 1156.8L614.7 1157.6L616.9 1157.9L619.1 1158.0L621.2 1159.4L623.4 1160.2L625.6 1160.1L627.7 1161.4L629.9 1161.7L632.1 1162.1L634.2 1163.6L636.4 1163.4L638.5 1164.1L640.7 1163.9L642.9 1164.9L645.0 1165.6L647.2 1166.1L649.4 1166.6L651.5 1167.3L653.7 1167.7L655.9 1168.8L658.0 1168.8L660.2 1169.1L662.4 1168.7L664.5 1169.5L666.7 1169.0L668.9 1170.4L671.0 1170.5L673.2 1169.8L675.3 1170.4L677.5 1169.7L679.7 1170.0L681.8 1171.3L684.0 1172.7L686.2 1173.4L688.3 1174.0L690.5 1172.1L692.7 1172.6L694.8 1171.9L697.0 1174.0L699.2 1172.5L701.3 1174.1L703.5 1173.9L705.6 1173.6L707.8 1173.5L710.0 1173.5L712.1 1174.6L714.3 1175.5L716.5 1173.9L718.6 1175.4L720.8 1176.5L723.0 1176.6L725.1 1175.7L727.3 1176.9L729.5 1175.5L731.6 1176.1L733.8 1174.5L736.0 1175.2L738.1 1175.8L740.3 1177.4L742.4 1176.6L744.6 1176.1L746.8 1175.2L748.9 1177.3L751.1 1176.9L753.3 1178.5L755.4 1176.2L757.6 1177.1L759.8 1176.8L761.9 1175.4L764.1 1176.5L766.3 1177.0L768.4 1176.7L770.6 1177.0L772.7 1176.6L774.9 1174.7L777.1 1176.1L779.2 1176.3L781.4 1173.2L783.6 1173.4L785.7 1172.3L787.9 1174.0L790.1 1173.3L792.2 1172.3L794.4 1171.9L796.6 1173.3L798.7 1171.4L800.9 1175.0L803.1 1173.3L805.2 1174.0L807.4 1173.5L809.5 1173.3L811.7 1170.6L813.9 1173.5L816.0 1174.4L818.2 1171.1L820.4 1171.5L822.5 1171.5L824.7 1171.5L826.9 1171.0L829.0 1173.9L831.2 1173.5L833.4 1171.8L835.5 1172.6L837.7 1171.6L839.8 1172.9L842.0 1172.1L844.2 1171.4L846.3 1175.8L848.5 1173.2L850.7 1175.4L852.8 1169.5L855.0 1170.0L857.2 1169.2L859.3 1169.3L861.5 1172.1L863.7 1171.8L865.8 1173.0L868.0 1171.3L870.2 1171.6L872.3 1170.2L874.5 1171.1L876.6 1170.1L878.8 1171.1L881.0 1170.8L883.1 1171.4L885.3 1170.7L887.5 1169.5L889.6 1168.4L891.8 1170.9L894.0 1169.3L896.1 1171.7L898.3 1168.5L900.5 1169.9L902.6 1170.2L904.8 1169.2L906.9 1167.9L909.1 1168.9L911.3 1168.2L913.4 1169.0L915.6 1165.8L917.8 1166.2L919.9 1166.2L922.1 1166.0L924.3 1164.6L926.4 1167.5L928.6 1167.3L930.8 1168.1L932.9 1164.9L935.1 1166.3L937.2 1165.2L939.4 1161.8L941.6 1165.9L943.7 1163.4L945.9 1165.1L948.1 1166.2L950.2 1165.4L952.4 1166.1L954.6 1166.0L956.7 1166.4L958.9 1165.8L961.1 1164.5L963.2 1161.8L965.4 1162.3L967.6 1165.6L969.7 1165.1L971.9 1165.4L974.0 1162.3L976.2 1164.7L978.4 1161.1L980.5 1159.9L982.7 1160.3L984.9 1160.4L987.0 1159.3L989.2 1162.4L991.4 1160.4L993.5 1161.3L995.7 1158.0L997.9 1160.4L1000.0 1159.0L1002.2 1160.7L1004.3 1157.3L1006.5 1153.5L1008.7 1152.9L1010.8 1150.0L1013.0 1153.8L1015.2 1152.7L1017.3 1145.9L1019.5 1146.9L1021.7 1148.6L1023.8 1144.1L1026.0 1144.2L1028.2 1143.7L1030.3 1142.9L1032.5 1141.2L1034.7 1140.8L1036.8 1140.2L1039.0 1138.8L1041.1 1137.8L1043.3 1136.4L1045.5 1134.2L1047.6 1132.6L1049.8 1130.1L1052.0 1128.2L1054.1 1129.2L1056.3 1129.3L1058.5 1126.0L1060.6 1124.4L1062.8 1125.1L1065.0 1124.2L1067.1 1119.1L1069.3 1123.3L1071.4 1116.9L1073.6 1115.8L1075.8 1116.5L1077.9 1112.5L1080.1 1111.3L1082.3 1106.8L1084.4 1108.6L1086.6 1108.3L1088.8 1104.8L1090.9 1104.0L1093.1 1100.7L1095.3 1099.0L1097.4 1100.1L1099.6 1097.8L1101.8 1098.4L1103.9 1091.2L1106.1 1089.7L1108.2 1083.7L1110.4 1086.5L1112.6 1082.5L1114.7 1079.7L1116.9 1078.1L1119.1 1077.3L1121.2 1070.4L1123.4 1071.9L1125.6 1065.9L1127.7 1066.3L1129.9 1061.2L1132.1 1057.2L1134.2 1055.7L1136.4 1050.6L1138.5 1047.0L1140.7 1044.4L1142.9 1041.6L1145.0 1035.6L1147.2 1033.6L1149.4 1030.6L1151.5 1029.6L1153.7 1028.3L1155.9 1023.9L1158.0 1016.3L1160.2 1014.2L1162.4 1009.3L1164.5 1011.0L1166.7 1007.4L1168.9 998.0L1171.0 999.2L1173.2 991.9L1175.3 992.2L1177.5 985.0L1179.7 980.5L1181.8 980.3L1184.0 967.7L1186.2 962.0L1188.3 955.3L1190.5 949.8L1192.7 942.7L1194.8 935.1L1197.0 926.0L1199.2 923.4L1201.3 920.0L1203.5 911.1L1205.6 895.3L1207.8 888.9L1210.0 879.7L1212.1 876.5L1214.3 870.4L1216.5 863.2L1218.6 855.5L1220.8 849.6L1223.0 849.7L1225.1 836.7L1227.3 830.9L1229.5 826.5L1231.6 825.6L1233.8 813.0L1236.0 803.4L1238.1 797.9L1240.3 792.5L1242.4 791.7L1244.6 780.7L1246.8 766.0L1248.9 766.4L1251.1 758.8L1253.3 759.6L1255.4 760.3L1257.6 750.4L1259.8 754.1L1261.9 752.1L1264.1 754.6L1266.3 755.7L1268.4 742.4L1270.6 746.5L1272.7 743.9L1274.9 745.1L1277.1 744.6L1279.2 748.1L1281.4 746.8L1283.6 752.5L1285.7 749.0L1287.9 749.4L1290.1 762.2L1292.2 771.6L1294.4 774.2L1296.6 773.8L1298.7 781.0L1300.9 782.2L1303.1 790.5L1305.2 804.9L1307.4 810.0L1309.5 819.3L1311.7 826.0L1313.9 825.1L1316.0 826.9L1318.2 837.4L1320.4 846.8L1322.5 854.7L1324.7 864.9L1326.9 865.3L1329.0 876.5L1331.2 885.9L1333.4 904.3L1335.5 901.1L1337.7 908.4L1339.8 920.5L1342.0 934.9L1344.2 934.7L1346.3 945.9L1348.5 951.5L1350.7 957.8L1352.8 965.0L1355.0 974.6L1357.2 977.6L1359.3 980.5L1361.5 990.0L1363.7 997.1L1365.8 1000.3L1368.0 1005.4L1370.1 1011.9L1372.3 1014.6L1374.5 1020.7L1376.6 1024.5L1378.8 1029.2L1381.0 1036.5L1383.1 1035.6L1385.3 1037.5L1387.5 1042.9L1389.6 1046.7L1391.8 1043.9L1394.0 1053.0L1396.1 1051.8L1398.3 1064.0L1400.5 1067.4L1402.6 1072.4L1404.8 1073.8L1406.9 1076.5L1409.1 1076.1L1411.3 1076.3L1413.4 1078.8L1415.6 1080.1L1417.8 1085.8L1419.9 1089.7L1422.1 1092.7L1424.3 1093.0L1426.4 1090.2L1428.6 1100.2L1430.8 1092.1L1432.9 1091.5L1435.1 1095.8L1437.2 1096.7L1439.4 1098.6L1441.6 1107.9L1443.7 1106.3L1445.9 1107.8L1448.1 1106.2L1450.2 1104.8L1452.4 1105.8L1454.6 1108.2L1456.7 1109.9L1458.9 1107.9L1461.1 1110.3L1463.2 1116.4L1465.4 1115.1L1467.6 1117.9L1469.7 1117.8L1471.9 1117.6L1474.0 1116.3L1476.2 1120.0L1478.4 1123.9L1480.5 1117.7L1482.7 1114.3L1484.9 1120.3L1487.0 1125.7L1489.2 1119.7L1491.4 1113.6L1493.5 1119.4L1495.7 1117.8L1497.9 1119.4L1500.0 1116.9L1502.2 1123.5L1504.3 1120.7L1506.5 1120.9L1508.7 1119.5L1510.8 1119.0L1513.0 1120.4L1515.2 1118.6L1517.3 1122.6L1519.5 1122.4L1521.7 1120.9L1523.8 1117.8L1526.0 1113.5L1528.2 1119.6L1530.3 1121.0L1532.5 1119.4L1534.7 1126.1L1536.8 1117.1L1539.0 1117.3L1541.1 1123.4L1543.3 1123.0L1545.5 1115.3L1547.6 1119.8L1549.8 1120.4L1552.0 1120.7L1554.1 1111.6L1556.3 1114.6L1558.5 1113.5L1560.6 1110.0L1562.8 1106.5L1565.0 1117.7L1567.1 1120.3L1569.3 1109.3L1571.4 1111.1L1573.6 1107.1L1575.8 1109.1L1577.9 1116.6L1580.1 1115.9L1582.3 1105.0L1584.4 1109.1L1586.6 1107.8L1588.8 1114.4L1590.9 1110.5L1593.1 1114.6L1595.3 1113.3L1597.4 1104.0L1599.6 1104.3L1601.8 1106.3L1603.9 1103.0L1606.1 1111.4L1608.2 1105.1L1610.4 1103.6L1612.6 1103.5L1614.7 1103.6L1616.9 1103.7L1619.1 1101.1L1621.2 1106.7L1623.4 1104.5L1625.6 1106.2L1627.7 1105.1L1629.9 1102.6L1632.1 1106.0L1634.2 1101.3L1636.4 1099.2L1638.5 1103.4L1640.7 1093.6L1642.9 1099.4L1645.0 1098.5L1647.2 1092.8L1649.4 1091.7L1651.5 1097.7L1653.7 1083.6L1655.9 1084.2L1658.0 1093.6L1660.2 1091.2L1662.4 1090.9L1664.5 1094.1L1666.7 1087.4L1668.9 1086.1L1671.0 1082.8L1673.2 1098.4L1675.3 1093.2L1677.5 1092.9L1679.7 1081.3L1681.8 1086.3L1684.0 1085.6L1686.2 1085.5L1688.3 1083.2L1690.5 1084.8L1692.7 1084.4L1694.8 1086.8L1697.0 1084.4L1699.2 1084.4L1701.3 1081.6L1703.5 1079.1L1705.6 1081.0L1707.8 1067.8L1710.0 1073.5L1712.1 1071.5L1714.3 1075.1L1716.5 1074.6L1718.6 1067.2L1720.8 1063.4L1723.0 1070.4L1725.1 1068.4L1727.3 1061.4L1729.5 1072.8L1731.6 1069.6L1733.8 1068.2L1736.0 1073.3L1738.1 1067.1L1740.3 1076.8L1742.4 1070.4L1744.6 1066.1L1746.8 1072.4L1748.9 1062.2L1751.1 1056.9L1753.3 1063.6L1755.4 1062.0L1757.6 1061.0L1759.8 1066.2L1761.9 1060.1L1764.1 1054.1L1766.3 1061.0L1768.4 1053.9L1770.6 1066.0L1772.7 1057.3L1774.9 1068.3L1777.1 1066.6L1779.2 1060.3L1781.4 1050.4L1783.6 1052.9L1785.7 1046.1L1787.9 1056.4L1790.1 1060.7L1792.2 1064.9L1794.4 1060.7L1796.6 1056.2L1798.7 1051.8L1800.9 1043.6L1803.0 1042.1L1805.2 1043.7L1807.4 1045.8L1809.5 1042.9L1811.7 1039.5L1813.9 1051.1L1816.0 1046.7L1818.2 1042.8L1820.4 1050.2L1822.5 1039.3L1824.7 1043.7L1826.9 1042.6L1829.0 1040.0L1831.2 1041.0L1833.4 1038.7L1835.5 1046.2L1837.7 1047.6L1839.8 1044.0L1842.0 1035.2L1844.2 1046.5L1846.3 1040.4L1848.5 1038.7L1850.7 1041.2L1852.8 1036.7L1855.0 1027.4L1857.2 1029.8L1859.3 1034.5L1861.5 1021.7L1863.7 1034.0L1865.8 1031.4L1868.0 1032.5L1870.1 1030.3L1872.3 1024.2L1874.5 1030.0L1876.6 1029.9L1878.8 1026.5L1881.0 1027.3L1883.1 1017.8L1885.3 1011.0L1887.5 1010.9L1889.6 1003.7L1891.8 1009.6L1894.0 1014.4L1896.1 1029.3L1898.3 1021.4L1900.5 1010.4L1902.6 1017.6L1904.8 1014.2L1906.9 1009.2L1909.1 1006.8L1911.3 1005.9L1913.4 1005.5L1915.6 1002.4L1917.8 1014.0L1919.9 1001.0L1922.1 1004.8L1924.3 1002.8L1926.4 1010.1L1928.6 1011.3L1930.8 999.2L1932.9 990.1L1935.1 986.9L1937.2 994.0L1939.4 989.9L1941.6 988.4L1943.7 977.1L1945.9 970.5L1948.1 970.1L1950.2 963.4L1952.4 949.8L1954.6 947.7L1956.7 941.5L1958.9 930.2L1961.1 937.2L1963.2 930.8L1965.4 915.8L1967.6 900.4L1969.7 908.3L1971.9 899.1L1974.0 896.6L1976.2 882.6L1978.4 874.2L1980.5 866.8L1982.7 863.4L1984.9 855.5L1987.0 858.6L1989.2 846.3L1991.4 829.8L1993.5 835.4L1995.7 805.8L1997.9 812.9L2000.0 800.0L2002.2 785.3L2004.3 798.7L2006.5 780.1L2008.7 762.6L2010.8 744.2L2013.0 730.5L2015.2 721.9L2017.3 734.4L2019.5 717.1L2021.7 721.8L2023.8 716.4L2026.0 700.5L2028.2 705.4L2030.3 701.6L2032.5 676.7L2034.7 675.5L2036.8 669.0L2039.0 662.3L2041.1 676.3L2043.3 656.9L2045.5 644.8L2047.6 657.4L2049.8 653.2L2052.0 658.5L2054.1 650.0L2056.3 654.0L2058.5 672.8L2060.6 650.9L2062.8 648.8L2065.0 674.1L2067.1 664.2L2069.3 660.8L2071.4 661.8L2073.6 685.6L2075.8 669.1L2077.9 686.2L2080.1 690.4L2082.3 694.8L2084.4 701.7L2086.6 711.3L2088.8 734.0L2090.9 729.2L2093.1 733.3L2095.3 724.5L2097.4 742.8L2099.6 751.7L2101.8 759.2L2103.9 751.8L2106.1 755.4L2108.2 764.9L2110.4 769.5L2112.6 766.6L2114.7 768.8L2116.9 755.6L2119.1 764.6L2121.2 780.2L2123.4 782.6L2125.6 796.5L2127.7 800.5L2129.9 801.3L2132.1 782.9L2134.2 782.9L2136.4 783.7L2138.5 813.8L2140.7 808.0L2142.9 806.3L2145.0 814.4L2147.2 833.0L2149.4 820.8L2151.5 823.3L2153.7 809.6L2155.9 819.3L2158.0 800.0L2160.2 820.7L2162.4 802.6L2164.5 813.2L2166.7 804.9L2168.9 812.6L2171.0 820.2L2173.2 804.9L2175.3 819.1L2177.5 810.1L2179.7 824.5L2181.8 825.1L2184.0 818.7L2186.2 807.8L2188.3 817.2L2190.5 797.3L2192.7 811.6L2194.8 802.4L2197.0 820.2L2199.2 808.4L2201.3 797.4L2203.5 798.3L2205.6 814.5L2207.8 796.0L2210.0 818.4L2212.1 806.9L2214.3 799.8L2216.5 802.4L2218.6 803.2L2220.8 794.2L2223.0 805.6L2225.1 794.9L2227.3 809.4L2229.5 806.2L2231.6 790.3L2233.8 791.3L2235.9 797.1L2238.1 803.0L2240.3 797.0L2242.4 800.8L2244.6 784.0" stroke="#78004E" stroke-width="8"/>
</g>
<g stroke="#000" stroke-width="4" fill="none" shape-rendering="crispEdges">
<rect x="310" y="47" width="1943" height="1306"/>
<line x1="317.0" y1="1353" x2="317.0" y2="1385"/>
<line x1="557.5" y1="1353" x2="557.5" y2="1385"/>
<line x1="798.0" y1="1353" x2="798.0" y2="1385"/>
<line x1="1038.5" y1="1353" x2="1038.5" y2="1385"/>
<line x1="1279.0" y1="1353" x2="1279.0" y2="1385"/>
<line x1="1519.5" y1="1353" x2="1519.5" y2="1385"/>
<line x1="1760.0" y1="1353" x2="1760.0" y2="1385"/>
<line x1="2000.5" y1="1353" x2="2000.5" y2="1385"/>
<line x1="2241.0" y1="1353" x2="2241.0" y2="1385"/>
<line x1="278" y1="1346.0" x2="310" y2="1346.0"/>
<line x1="278" y1="1130.8" x2="310" y2="1130.8"/>
<line x1="278" y1="915.7" x2="310" y2="915.7"/>
<line x1="278" y1="700.5" x2="310" y2="700.5"/>
<line x1="278" y1="485.3" x2="310" y2="485.3"/>
<line x1="278" y1="270.2" x2="310" y2="270.2"/>
<line x1="278" y1="55.0" x2="310" y2="55.0"/>
</g>
<g filter="url(#t)">
<g font-size="76">
<text x="263.5" y="1373.3" text-anchor="end" textLength="40.8" lengthAdjust="spacingAndGlyphs">0</text>
<text x="263.5" y="1158.1" text-anchor="end" textLength="122.3" lengthAdjust="spacingAndGlyphs">200</text>
<text x="263.5" y="943.0" text-anchor="end" textLength="122.3" lengthAdjust="spacingAndGlyphs">400</text>
<text x="263.5" y="727.8" text-anchor="end" textLength="122.3" lengthAdjust="spacingAndGlyphs">600</text>
<text x="263.5" y="512.6" text-anchor="end" textLength="122.3" lengthAdjust="spacingAndGlyphs">800</text>
<text x="263.5" y="297.5" text-anchor="end" textLength="163.1" lengthAdjust="spacingAndGlyphs">1000</text>
<text x="263.5" y="82.3" text-anchor="end" textLength="163.1" lengthAdjust="spacingAndGlyphs">1200</text>
<text x="316.0" y="1471.5" text-anchor="middle" textLength="40.6" lengthAdjust="spacingAndGlyphs">0</text>
<text x="556.5" y="1471.5" text-anchor="middle" textLength="40.6" lengthAdjust="spacingAndGlyphs">1</text>
<text x="797.0" y="1471.5" text-anchor="middle" textLength="40.6" lengthAdjust="spacingAndGlyphs">2</text>
<text x="1037.5" y="1471.5" text-anchor="middle" textLength="40.6" lengthAdjust="spacingAndGlyphs">3</text>
<text x="1278.0" y="1471.5" text-anchor="middle" textLength="40.6" lengthAdjust="spacingAndGlyphs">4</text>
<text x="1518.5" y="1471.5" text-anchor="middle" textLength="40.6" lengthAdjust="spacingAndGlyphs">5</text>
<text x="1759.0" y="1471.5" text-anchor="middle" textLength="40.6" lengthAdjust="spacingAndGlyphs">6</text>
<text x="1999.5" y="1471.5" text-anchor="middle" textLength="40.6" lengthAdjust="spacingAndGlyphs">7</text>
<text x="2240.0" y="1471.5" text-anchor="middle" textLength="40.6" lengthAdjust="spacingAndGlyphs">8</text>
</g>
<text x="1159" y="1594" font-size="74" font-style="italic">q</text>
<text x="1210" y="1594" font-size="74" font-style="italic">,</text>
<text x="1249" y="1594" font-size="75" letter-spacing="1.5">nm</text>
<text x="1366" y="1540" font-size="52">-1</text>
<g transform="translate(118,792) rotate(-90)">
<text x="0" y="0" font-size="74" font-style="italic">q</text>
<text x="50" y="-53" font-size="54">2</text>
<text x="82" y="0" font-size="74" font-style="italic">I(q)</text>
</g>
<text x="650" y="132" font-size="63" letter-spacing="2.5">AM</text>
<text x="751.5" y="147" font-size="42" textLength="20" lengthAdjust="spacingAndGlyphs">L</text>
<text x="785.5" y="132" font-size="63">(10%)</text>
<g font-size="46">
<rect x="522" y="194.0" width="93" height="7" fill="#FFBDF5"/>
<text x="715" y="212.8" text-anchor="middle">1 min.</text>
<rect x="522" y="249.9" width="93" height="7" fill="#FFBDF5"/>
<text x="715" y="268.7" text-anchor="middle">4 min.</text>
<rect x="522" y="305.9" width="93" height="7" fill="#FFBDF5"/>
<text x="715" y="324.6" text-anchor="middle">7 min.</text>
<rect x="522" y="361.9" width="93" height="7" fill="#FF80E8"/>
<text x="715" y="380.6" text-anchor="middle">10 min.</text>
<rect x="522" y="417.8" width="93" height="7" fill="#FF80E8"/>
<text x="715" y="436.6" text-anchor="middle">13 min.</text>
<rect x="522" y="473.8" width="93" height="7" fill="#FF80E8"/>
<text x="715" y="492.5" text-anchor="middle">16 min.</text>
<rect x="522" y="529.7" width="93" height="7" fill="#FF3CDC"/>
<text x="715" y="548.5" text-anchor="middle">19 min.</text>
<rect x="522" y="585.7" width="93" height="7" fill="#FF3CDC"/>
<text x="715" y="604.4" text-anchor="middle">22 min.</text>
<rect x="522" y="641.6" width="93" height="7" fill="#FF3CDC"/>
<text x="715" y="660.4" text-anchor="middle">25 min.</text>
<rect x="522" y="697.5" width="93" height="7" fill="#FF00C8"/>
<text x="715" y="716.3" text-anchor="middle">28 min.</text>
<line x1="812" y1="194.2" x2="898" y2="194.2" stroke="#FFBE2E" stroke-width="10" stroke-dasharray="13 11.3"/>
<text x="925" y="210.2">31 min.</text>
<line x1="812" y1="250.2" x2="898" y2="250.2" stroke="#FF5500" stroke-width="10" stroke-dasharray="13 11.3"/>
<text x="925" y="266.2">34 min.</text>
<rect x="812" y="302.8" width="94" height="7" fill="#EB00A0"/>
<text x="925" y="322.3">37 min.</text>
<rect x="812" y="358.8" width="94" height="7" fill="#EB00A0"/>
<text x="925" y="378.3">40 min.</text>
<rect x="812" y="414.9" width="94" height="7" fill="#EB00A0"/>
<text x="925" y="434.4">43 min.</text>
<rect x="812" y="470.9" width="94" height="7" fill="#B0007A"/>
<text x="925" y="490.4">46 min.</text>
<rect x="812" y="527.0" width="94" height="7" fill="#B0007A"/>
<text x="925" y="546.5">49 min.</text>
<rect x="812" y="583.0" width="94" height="7" fill="#B0007A"/>
<text x="925" y="602.5">52 min.</text>
<rect x="812" y="639.1" width="94" height="7" fill="#78004E"/>
<text x="925" y="658.6">55 min.</text>
<rect x="812" y="695.1" width="94" height="7" fill="#78004E"/>
<text x="925" y="714.6">58 min.</text>
</g>
</g>
</svg></body></html>
